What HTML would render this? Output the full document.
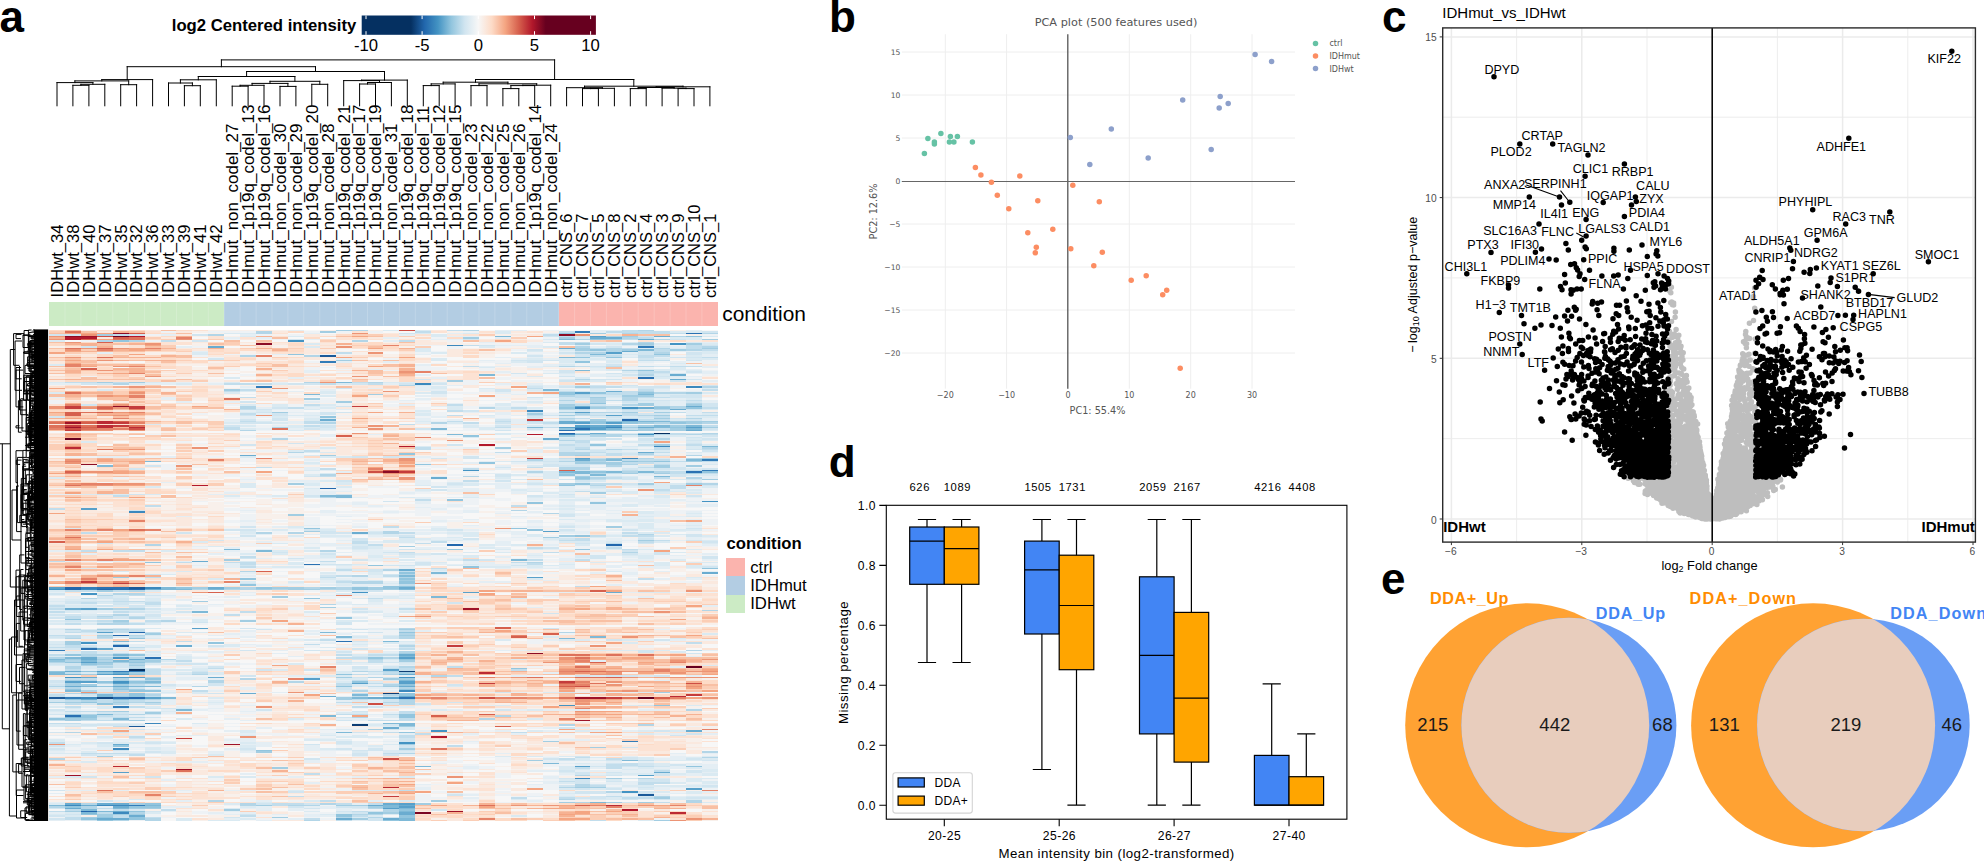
<!DOCTYPE html>
<html lang="en"><head><meta charset="utf-8"><title>Figure</title>
<style>
html,body{margin:0;padding:0;background:#fff;}
body{width:1984px;height:861px;overflow:hidden;font-family:"Liberation Sans",sans-serif;}
svg{display:block;}
text{white-space:pre;}
</style></head><body>
<svg width="1984" height="861" viewBox="0 0 1984 861" font-family="Liberation Sans, sans-serif">
<rect width="1984" height="861" fill="#fff"/>
<g id="panel-a"><defs><linearGradient id="lg" x1="0" x2="1" y1="0" y2="0"><stop offset="0.2102" stop-color="#053061"/><stop offset="0.2677" stop-color="#2166AC"/><stop offset="0.3252" stop-color="#4393C3"/><stop offset="0.3828" stop-color="#92C5DE"/><stop offset="0.4403" stop-color="#D1E5F0"/><stop offset="0.4979" stop-color="#F7F7F7"/><stop offset="0.5554" stop-color="#FDDBC7"/><stop offset="0.6129" stop-color="#F4A582"/><stop offset="0.6705" stop-color="#D6604D"/><stop offset="0.7280" stop-color="#B2182B"/><stop offset="0.7856" stop-color="#67001F"/></linearGradient></defs><rect x="361.7" y="15.5" width="234.2" height="19.3" fill="url(#lg)"/><path d="M366 15.5v3.6M366 34.8v-3.6M422.1 15.5v3.6M422.1 34.8v-3.6M478.3 15.5v3.6M478.3 34.8v-3.6M534.5 15.5v3.6M534.5 34.8v-3.6M590.6 15.5v3.6M590.6 34.8v-3.6" stroke="#fff" stroke-width="1"/><text x="356.3" y="31.2" text-anchor="end" font-weight="bold" font-size="16.7px">log2 Centered intensity</text><g font-size="16.7px"><text x="366" y="51" text-anchor="middle">-10</text><text x="422.1" y="51" text-anchor="middle">-5</text><text x="478.3" y="51" text-anchor="middle">0</text><text x="534.5" y="51" text-anchor="middle">5</text><text x="590.6" y="51" text-anchor="middle">10</text></g><path d="M72.9 105.8L72.9 85.3M88.9 105.8L88.9 85.3M72.9 85.3L88.9 85.3M80.9 85.3L80.9 84.3M104.8 105.8L104.8 84.3M80.9 84.3L104.8 84.3M57 105.8L57 82.6M92.9 84.3L92.9 82.6M57 82.6L92.9 82.6M120.7 105.8L120.7 84.7M136.6 105.8L136.6 84.7M120.7 84.7L136.6 84.7M74.9 82.6L74.9 80.9M128.7 84.7L128.7 80.9M74.9 80.9L128.7 80.9M101.8 80.9L101.8 79.6M152.6 105.8L152.6 79.6M101.8 79.6L152.6 79.6M184.4 105.8L184.4 85.7M200.3 105.8L200.3 85.7M184.4 85.7L200.3 85.7M168.5 105.8L168.5 83M192.4 85.7L192.4 83M168.5 83L192.4 83M180.4 83L180.4 79.8M216.3 105.8L216.3 79.8M180.4 79.8L216.3 79.8M232.2 105.8L232.2 86.2M248.1 105.8L248.1 86.2M232.2 86.2L248.1 86.2M240.1 86.2L240.1 85.3M264 105.8L264 85.3M240.1 85.3L264 85.3M280 105.8L280 86.4M295.9 105.8L295.9 86.4M280 86.4L295.9 86.4M252.1 85.3L252.1 83.4M287.9 86.4L287.9 83.4M252.1 83.4L287.9 83.4M311.8 105.8L311.8 84.3M327.7 105.8L327.7 84.3M311.8 84.3L327.7 84.3M270 83.4L270 81.3M319.8 84.3L319.8 81.3M270 81.3L319.8 81.3M198.3 79.8L198.3 76.5M294.9 81.3L294.9 76.5M198.3 76.5L294.9 76.5M359.6 105.8L359.6 84M375.5 105.8L375.5 84M359.6 84L375.5 84M367.5 84L367.5 82.5M391.4 105.8L391.4 82.5M367.5 82.5L391.4 82.5M343.7 105.8L343.7 80.6M379.5 82.5L379.5 80.6M343.7 80.6L379.5 80.6M361.6 80.6L361.6 80.1M407.3 105.8L407.3 80.1M361.6 80.1L407.3 80.1M246.6 76.5L246.6 71.5M384.5 80.1L384.5 71.5M246.6 71.5L384.5 71.5M127.2 79.6L127.2 66.7M315.5 71.5L315.5 66.7M127.2 66.7L315.5 66.7M423.3 105.8L423.3 85.6M439.2 105.8L439.2 85.6M423.3 85.6L439.2 85.6M431.2 85.6L431.2 83.9M455.1 105.8L455.1 83.9M431.2 83.9L455.1 83.9M471 105.8L471 85.6M487 105.8L487 85.6M471 85.6L487 85.6M502.9 105.8L502.9 88.6M518.8 105.8L518.8 88.6M502.9 88.6L518.8 88.6M510.9 88.6L510.9 85.6M534.7 105.8L534.7 85.6M510.9 85.6L534.7 85.6M522.8 85.6L522.8 85.2M550.7 105.8L550.7 85.2M522.8 85.2L550.7 85.2M479 85.6L479 83.8M536.7 85.2L536.7 83.8M479 83.8L536.7 83.8M443.2 83.9L443.2 82.2M507.9 83.8L507.9 82.2M443.2 82.2L507.9 82.2M582.5 105.8L582.5 88.6M598.4 105.8L598.4 88.6M582.5 88.6L598.4 88.6M590.5 88.6L590.5 88.3M614.4 105.8L614.4 88.3M590.5 88.3L614.4 88.3M566.6 105.8L566.6 87.7M602.4 88.3L602.4 87.7M566.6 87.7L602.4 87.7M630.3 105.8L630.3 88.6M646.2 105.8L646.2 88.6M630.3 88.6L646.2 88.6M678.1 105.8L678.1 88.6M694 105.8L694 88.6M678.1 88.6L694 88.6M662.1 105.8L662.1 88.2M686 88.6L686 88.2M662.1 88.2L686 88.2M638.2 88.6L638.2 87.5M674.1 88.2L674.1 87.5M638.2 87.5L674.1 87.5M656.2 87.5L656.2 86.8M709.9 105.8L709.9 86.8M656.2 86.8L709.9 86.8M584.5 87.7L584.5 86.2M683 86.8L683 86.2M584.5 86.2L683 86.2M475.5 82.2L475.5 79.5M633.8 86.2L633.8 79.5M475.5 79.5L633.8 79.5M221.4 66.7L221.4 59.9M554.6 79.5L554.6 59.9M221.4 59.9L554.6 59.9" stroke="#000" stroke-width="1" fill="none" stroke-linecap="square"/><g font-size="17.1px" fill="#000"><text transform="translate(62.8 297.4) rotate(-90)" font-size="16.6px">IDHwt_34</text><text transform="translate(78.7 297.4) rotate(-90)" font-size="16.6px">IDHwt_38</text><text transform="translate(94.7 297.4) rotate(-90)" font-size="16.6px">IDHwt_40</text><text transform="translate(110.6 297.4) rotate(-90)" font-size="16.6px">IDHwt_37</text><text transform="translate(126.5 297.4) rotate(-90)" font-size="16.6px">IDHwt_35</text><text transform="translate(142.4 297.4) rotate(-90)" font-size="16.6px">IDHwt_32</text><text transform="translate(158.4 297.4) rotate(-90)" font-size="16.6px">IDHwt_36</text><text transform="translate(174.3 297.4) rotate(-90)" font-size="16.6px">IDHwt_33</text><text transform="translate(190.2 297.4) rotate(-90)" font-size="16.6px">IDHwt_39</text><text transform="translate(206.1 297.4) rotate(-90)" font-size="16.6px">IDHwt_41</text><text transform="translate(222.1 297.4) rotate(-90)" font-size="16.6px">IDHwt_42</text><text transform="translate(238 297.4) rotate(-90)" font-size="17px">IDHmut_non_codel_27</text><text transform="translate(253.9 297.4) rotate(-90)" font-size="17px">IDHmut_1p19q_codel_13</text><text transform="translate(269.8 297.4) rotate(-90)" font-size="17px">IDHmut_1p19q_codel_16</text><text transform="translate(285.8 297.4) rotate(-90)" font-size="17px">IDHmut_non_codel_30</text><text transform="translate(301.7 297.4) rotate(-90)" font-size="17px">IDHmut_non_codel_29</text><text transform="translate(317.6 297.4) rotate(-90)" font-size="17px">IDHmut_1p19q_codel_20</text><text transform="translate(333.5 297.4) rotate(-90)" font-size="17px">IDHmut_non_codel_28</text><text transform="translate(349.5 297.4) rotate(-90)" font-size="17px">IDHmut_1p19q_codel_21</text><text transform="translate(365.4 297.4) rotate(-90)" font-size="17px">IDHmut_1p19q_codel_17</text><text transform="translate(381.3 297.4) rotate(-90)" font-size="17px">IDHmut_1p19q_codel_19</text><text transform="translate(397.2 297.4) rotate(-90)" font-size="17px">IDHmut_non_codel_31</text><text transform="translate(413.1 297.4) rotate(-90)" font-size="17px">IDHmut_1p19q_codel_18</text><text transform="translate(429.1 297.4) rotate(-90)" font-size="17px">IDHmut_1p19q_codel_11</text><text transform="translate(445 297.4) rotate(-90)" font-size="17px">IDHmut_1p19q_codel_12</text><text transform="translate(460.9 297.4) rotate(-90)" font-size="17px">IDHmut_1p19q_codel_15</text><text transform="translate(476.8 297.4) rotate(-90)" font-size="17px">IDHmut_non_codel_23</text><text transform="translate(492.8 297.4) rotate(-90)" font-size="17px">IDHmut_non_codel_22</text><text transform="translate(508.7 297.4) rotate(-90)" font-size="17px">IDHmut_non_codel_25</text><text transform="translate(524.6 297.4) rotate(-90)" font-size="17px">IDHmut_non_codel_26</text><text transform="translate(540.5 297.4) rotate(-90)" font-size="17px">IDHmut_1p19q_codel_14</text><text transform="translate(556.5 297.4) rotate(-90)" font-size="17px">IDHmut_non_codel_24</text><text transform="translate(572.4 298) rotate(-90)" font-size="16.5px">ctrl_CNS_6</text><text transform="translate(588.3 298) rotate(-90)" font-size="16.5px">ctrl_CNS_7</text><text transform="translate(604.2 298) rotate(-90)" font-size="16.5px">ctrl_CNS_5</text><text transform="translate(620.2 298) rotate(-90)" font-size="16.5px">ctrl_CNS_8</text><text transform="translate(636.1 298) rotate(-90)" font-size="16.5px">ctrl_CNS_2</text><text transform="translate(652 298) rotate(-90)" font-size="16.5px">ctrl_CNS_4</text><text transform="translate(667.9 298) rotate(-90)" font-size="16.5px">ctrl_CNS_3</text><text transform="translate(683.9 298) rotate(-90)" font-size="16.5px">ctrl_CNS_9</text><text transform="translate(699.8 298) rotate(-90)" font-size="16.5px">ctrl_CNS_10</text><text transform="translate(715.7 298) rotate(-90)" font-size="16.5px">ctrl_CNS_1</text></g><g shape-rendering="crispEdges"><rect x="49.1" y="302.4" width="175.2" height="23.2" fill="#CCEBC5"/><rect x="224.2" y="302.4" width="334.4" height="23.2" fill="#B3CDE3"/><rect x="558.6" y="302.4" width="159.2" height="23.2" fill="#FBB4AE"/></g><path d="M65 302.4v23.2M80.9 302.4v23.2M96.8 302.4v23.2M112.8 302.4v23.2M128.7 302.4v23.2M144.6 302.4v23.2M160.5 302.4v23.2M176.5 302.4v23.2M192.4 302.4v23.2M208.3 302.4v23.2M224.2 302.4v23.2M240.1 302.4v23.2M256.1 302.4v23.2M272 302.4v23.2M287.9 302.4v23.2M303.8 302.4v23.2M319.8 302.4v23.2M335.7 302.4v23.2M351.6 302.4v23.2M367.5 302.4v23.2M383.5 302.4v23.2M399.4 302.4v23.2M415.3 302.4v23.2M431.2 302.4v23.2M447.2 302.4v23.2M463.1 302.4v23.2M479 302.4v23.2M494.9 302.4v23.2M510.9 302.4v23.2M526.8 302.4v23.2M542.7 302.4v23.2M558.6 302.4v23.2M574.6 302.4v23.2M590.5 302.4v23.2M606.4 302.4v23.2M622.3 302.4v23.2M638.2 302.4v23.2M654.2 302.4v23.2M670.1 302.4v23.2M686 302.4v23.2M701.9 302.4v23.2" stroke="#fff" stroke-opacity="0.18" stroke-width="1"/><text x="722.3" y="321.4" font-size="20.9px">condition</text><g shape-rendering="crispEdges" fill="none" stroke-width="1.5"><path stroke="#053061" d="M654 433.25h16M129 669.92h16"/><path stroke="#0c3d74" d="M399 671.41h16M383 693.73h16M352 724.99h16"/><path stroke="#134b87" d="M97 698.2h16"/><path stroke="#1a5999" d="M320 355.85h16M129 588.05h16M49 698.2h16M129 726.48h16M638 794.95h16"/><path stroke="#2166ac" d="M622 419.85h16M559 433.25h16M320 488.32h16M447 544.89h16M606 544.89h16M65 588.05h16M65 589.54h16M97 589.54h16M129 589.54h16M129 632.71h16M113 635.68h16M113 646.1h16M129 698.2h16M81 811.32h16"/><path stroke="#2a71b2" d="M686 333.52h16M638 378.18h16M575 428.78h15M559 430.27h16M686 471.95h16M304 564.24h16M97 588.05h32M113 589.54h16M336 641.64h16M81 649.08h16M145 658.01h16M113 698.2h16M399 698.2h16M65 716.06h16"/><path stroke="#327cb8" d="M575 332.03h15M638 346.92h16M320 361.8h16M256 387.11h16M702 460.04h16M702 470.46h16M81 588.05h16M49 650.57h16M113 671.41h32M65 698.2h16M113 707.13h16M622 741.37h16M129 805.37h16"/><path stroke="#3b88bd" d="M447 345.43h16M415 384.13h16M686 387.11h16M575 407.95h15M527 410.92h16M606 427.3h16M559 434.74h16M654 446.65h16M622 458.55h16M129 512.14h16M145 588.05h16M81 589.54h16M399 690.76h16M81 698.2h16M145 723.5h16M113 748.81h16M575 778.58h15M65 805.37h16M97 805.37h32M113 812.81h16"/><path stroke="#4393c3" d="M288 340.96h16M670 343.94h16M622 407.95h16M575 427.3h15M638 434.74h16M463 470.46h16M702 501.72h16M49 589.54h16M352 592.52h16M81 594.01h16M81 643.13h16M113 658.01h16M113 674.38h16M65 677.36h16M399 677.36h16M113 681.83h16M559 705.64h16M431 730.95h16M399 742.85h16M622 791.97h16"/><path stroke="#57a0ca" d="M590 336.5h16M606 352.87h16M575 393.06h15M575 412.41h15M606 415.39h16M575 422.83h15M606 422.83h16M575 425.81h15M606 425.81h16M559 427.3h16M590 427.3h16M686 427.3h16M590 428.78h16M575 458.55h15M81 509.16h16M543 531.49h16M527 577.63h16M49 588.05h16M463 592.52h16M81 608.89h16M192 628.24h16M97 632.71h16M399 658.01h16M81 662.48h16M383 669.92h16M97 671.41h16M97 674.38h16M113 677.36h32M304 678.85h16M65 681.83h32M399 681.83h16M113 683.32h16M352 683.32h16M399 683.32h16M145 698.2h16M383 698.2h16M575 766.67h15M113 772.62h16M638 775.6h16M686 789h16M399 803.88h16M399 806.86h16M383 808.35h16"/><path stroke="#6aacd0" d="M654 336.5h16M590 337.99h32M638 339.48h16M208 346.92h16M559 348.41h16M622 351.38h16M670 375.2h16M670 379.66h16M606 391.57h16M575 406.46h15M686 406.46h16M638 407.95h16M670 409.43h16M320 419.85h16M559 421.34h16M559 422.83h16M590 425.81h16M638 427.3h16M686 430.27h16M590 433.25h16M543 439.2h16M638 452.6h16M240 455.58h16M575 460.04h15M431 477.9h16M352 532.98h16M192 561.26h16M399 570.19h16M702 573.17h16M208 588.05h16M399 588.05h16M145 589.54h16M606 592.52h16M65 608.89h16M176 646.1h16M97 649.08h16M399 655.03h16M81 658.01h16M81 659.5h16M129 659.5h16M65 671.41h16M113 672.9h16M399 674.38h16M81 677.36h16M208 677.36h16M65 686.29h16M113 686.29h16M399 686.29h16M240 693.73h16M320 696.71h16M399 696.71h16M368 698.2h15M81 699.69h16M383 727.97h16M686 730.95h16M113 744.34h16M654 772.62h16M65 803.88h16M97 803.88h32M383 803.88h16M81 805.37h16M368 805.37h15M399 805.37h16M113 806.86h16M65 808.35h16M113 811.32h16M399 812.81h16M399 814.3h16M129 815.79h16M97 818.77h32M336 818.77h16M383 818.77h16"/><path stroke="#7eb9d7" d="M495 336.5h16M559 339.48h16M638 349.89h16M590 354.36h16M559 357.34h16M575 370.73h15M479 375.2h16M336 382.64h16M543 390.08h16M304 394.55h16M638 394.55h16M575 421.34h15M622 421.34h48M654 425.81h16M686 425.81h16M527 427.3h16M654 427.3h16M431 428.78h16M606 428.78h16M686 428.78h16M575 430.27h15M447 434.74h16M575 434.74h15M702 446.65h16M606 460.04h16M686 460.04h16M145 461.53h16M97 466h16M559 471.95h31M606 471.95h16M638 471.95h16M575 473.44h15M590 474.93h16M654 476.42h16M320 495.77h32M336 497.25h16M224 549.35h16M256 550.84h16M511 559.77h16M431 573.17h16M399 576.14h16M161 588.05h15M161 589.54h31M208 589.54h16M399 589.54h16M431 596.98h16M192 611.87h16M320 632.71h16M336 637.17h16M590 637.17h16M559 638.66h16M113 641.64h16M383 641.64h16M113 655.03h16M399 656.52h16M65 658.01h16M49 659.5h16M81 660.99h16M113 660.99h16M49 672.9h16M49 674.38h32M399 680.34h16M145 681.83h16M81 686.29h16M129 686.29h32M65 690.76h16M97 695.22h16M352 695.22h16M97 696.71h16M161 698.2h15M352 698.2h16M113 699.69h16M176 710.11h16M97 714.57h16M320 716.06h16M65 717.55h16M113 719.04h16M383 723.5h32M399 724.99h16M336 732.44h16M622 760.72h16M543 763.69h16M415 766.67h16M590 802.39h16M49 805.37h16M145 805.37h16M383 805.37h16M383 806.86h16M113 808.35h16M399 808.35h16M81 809.84h16M97 811.32h16M399 811.32h16M81 812.81h16M399 818.77h16M399 820.26h16"/><path stroke="#92c5de" d="M559 333.52h16M686 336.5h16M590 339.48h16M113 340.96h16M590 349.89h16M288 354.36h16M654 354.36h16M575 357.34h15M606 357.34h16M575 361.8h15M638 370.73h16M559 393.06h16M590 393.06h16M638 393.06h16M559 394.55h16M590 403.48h16M559 407.95h16M654 407.95h16M686 407.95h16M320 416.88h16M590 421.34h32M590 422.83h16M622 422.83h16M670 422.83h16M670 427.3h16M559 428.78h16M622 430.27h16M638 433.25h16M463 436.23h16M590 445.16h16M399 454.09h16M606 458.55h16M622 461.53h16M654 461.53h16M479 463.02h16M415 464.51h16M590 471.95h16M702 471.95h16M559 474.93h16M575 477.9h15M575 483.86h15M559 485.35h16M447 500.23h16M527 503.21h16M590 503.21h16M304 528.51h16M511 528.51h16M527 530h16M575 535.96h15M447 549.35h16M575 549.35h15M145 562.75h16M368 565.72h15M463 567.21h16M702 568.7h16M399 573.17h16M240 579.12h16M399 579.12h16M399 582.1h16M399 583.59h16M240 585.08h16M383 586.56h32M176 588.05h16M256 588.05h16M352 588.05h16M383 588.05h16M352 589.54h16M304 598.47h16M336 617.82h16M65 619.31h16M399 632.71h16M129 638.66h16M208 643.13h16M65 655.03h16M129 655.03h16M368 658.01h15M399 659.5h16M49 660.99h16M65 662.48h16M97 662.48h16M129 662.48h16M81 663.96h16M511 668.43h16M49 671.41h16M81 671.41h16M97 672.9h16M129 674.38h16M336 674.38h16M145 678.85h16M97 681.83h16M129 681.83h16M352 681.83h16M399 684.8h16M97 686.29h16M336 686.29h16M65 689.27h16M113 689.27h16M399 689.27h16M129 690.76h32M129 693.73h16M399 693.73h16M129 695.22h16M399 695.22h16M129 696.71h16M65 699.69h16M81 702.67h16M97 704.15h16M654 705.64h16M399 714.57h16M81 716.06h16M399 716.06h16M81 717.55h16M399 717.55h16M49 719.04h16M399 732.44h16M113 745.83h16M256 750.3h16M686 766.67h16M145 803.88h16M65 806.86h16M129 806.86h32M399 809.84h16M129 811.32h16M368 812.81h15M81 814.3h16M336 814.3h16M336 815.79h16M399 815.79h16M97 817.28h16M129 817.28h16M399 817.28h16M81 818.77h16M129 818.77h16M97 820.26h16M383 820.26h16"/><path stroke="#a2cde2" d="M336 330.54h16M320 332.03h16M590 333.52h16M97 335.01h16M622 336.5h16M463 337.99h16M559 337.99h16M606 339.48h16M702 339.48h16M575 343.94h15M638 343.94h16M686 343.94h16M575 348.41h15M702 348.41h16M575 349.89h15M622 349.89h16M670 349.89h16M336 360.31h16M447 381.15h16M97 382.64h16M129 382.64h16M575 387.11h15M224 390.08h16M686 393.06h16M368 394.55h15M622 396.04h32M590 397.53h16M304 399.01h16M336 401.99h16M638 403.48h16M559 404.97h16M638 404.97h16M686 404.97h16M559 406.46h16M654 406.46h16M590 407.95h16M272 412.41h16M559 412.41h16M622 412.41h16M654 412.41h16M527 413.9h16M559 415.39h16M654 415.39h16M654 418.36h16M590 419.85h16M670 421.34h48M638 422.83h16M686 422.83h16M638 425.81h16M670 425.81h16M622 427.3h16M702 427.3h16M638 428.78h16M670 428.78h16M590 430.27h32M638 430.27h16M670 430.27h16M590 434.74h16M559 436.23h16M654 445.16h16M495 448.13h16M320 455.58h16M575 455.58h15M702 458.55h16M590 460.04h16M575 461.53h15M638 461.53h16M686 461.53h16M575 463.02h47M606 464.51h16M654 466h16M686 466h16M654 467.48h16M559 473.44h16M622 473.44h16M654 473.44h16M686 473.44h16M575 476.42h15M575 479.39h15M702 479.39h16M288 483.86h16M559 483.86h16M638 483.86h16M686 483.86h16M590 492.79h16M288 515.12h16M606 527.02h16M304 531.49h16M559 535.96h16M543 537.44h16M638 540.42h16M399 546.37h16M224 559.77h16M113 577.63h16M399 580.61h16M192 588.05h16M224 588.05h16M272 588.05h32M320 588.05h16M368 588.05h15M256 589.54h16M288 589.54h32M368 589.54h31M97 591.03h16M272 596.98h16M192 601.45h16M320 607.4h16M97 608.89h16M113 620.8h16M240 620.8h16M97 629.73h16M399 629.73h16M145 634.2h16M97 635.68h16M399 635.68h16M65 641.64h16M65 643.13h16M65 644.61h16M113 644.61h16M399 653.55h16M65 659.5h16M97 659.5h16M129 660.99h32M399 660.99h16M113 662.48h16M97 663.96h16M129 665.45h16M129 672.9h16M399 672.9h16M81 674.38h16M336 677.36h16M383 678.85h32M65 680.34h16M113 680.34h16M65 683.32h16M129 683.32h32M65 684.8h32M113 684.8h16M383 686.29h16M113 687.78h16M129 689.27h16M654 692.25h16M81 693.73h16M113 696.71h16M336 698.2h16M129 699.69h16M336 699.69h16M399 699.69h16M49 702.67h32M113 702.67h16M145 702.67h16M113 711.6h16M145 713.08h16M65 714.57h16M65 719.04h32M65 720.53h16M129 720.53h16M399 726.48h16M368 729.46h15M543 741.37h16M399 744.34h16M590 747.32h16M399 748.81h16M256 751.79h16M97 756.25h16M527 760.72h16M272 768.16h16M606 778.58h16M575 787.51h31M654 797.93h16M431 800.91h16M559 802.39h16M606 802.39h16M638 802.39h16M129 803.88h16M415 803.88h16M256 805.37h16M336 805.37h32M368 806.86h15M129 808.35h32M224 809.84h16M65 811.32h16M383 812.81h16M97 814.3h48M97 815.79h16M81 817.28h16M272 817.28h16M352 818.77h16M654 820.26h16"/><path stroke="#b2d5e7" d="M352 330.54h16M463 330.54h16M638 330.54h16M256 332.03h16M256 333.52h16M622 333.52h16M702 333.52h16M208 335.01h16M606 336.5h16M670 336.5h16M622 337.99h16M575 339.48h15M654 339.48h16M97 340.96h16M129 340.96h16M352 340.96h16M638 342.45h16M622 343.94h16M638 345.43h16M575 346.92h15M702 346.92h16M606 348.41h16M654 348.41h16M606 349.89h16M686 349.89h16M606 351.38h16M575 352.87h31M654 352.87h16M240 355.85h16M304 355.85h16M559 366.27h16M622 370.73h16M638 375.2h16M575 379.66h15M304 382.64h16M368 382.64h15M113 384.13h16M399 385.62h16M702 387.11h16M638 391.57h16M654 393.06h32M575 394.55h15M559 396.04h16M622 397.53h16M590 399.01h16M622 399.01h16M559 400.5h16M590 400.5h16M622 400.5h16M590 401.99h16M686 403.48h16M622 404.97h16M240 406.46h16M590 406.46h32M670 406.46h16M240 407.95h16M479 407.95h16M606 407.95h16M670 407.95h16M559 409.43h16M654 409.43h16M590 412.41h32M575 413.9h15M638 415.39h16M559 418.36h16M686 418.36h16M320 422.83h16M431 422.83h16M654 422.83h16M702 422.83h16M272 427.3h16M240 430.27h16M654 430.27h16M575 433.25h15M702 433.25h16M606 434.74h32M654 434.74h16M686 434.74h16M590 436.23h32M638 436.23h16M272 439.2h16M654 439.2h16M559 440.69h16M702 448.13h16M575 449.62h15M606 449.62h16M288 452.6h16M559 452.6h31M559 454.09h31M638 454.09h16M559 455.58h16M686 455.58h16M638 458.55h16M686 458.55h16M527 460.04h16M559 461.53h16M590 461.53h16M622 464.51h16M606 466h16M559 467.48h31M559 468.97h31M527 471.95h16M622 471.95h16M654 471.95h16M590 473.44h16M320 474.93h16M463 476.42h16M590 477.9h16M686 477.9h16M702 483.86h16M590 485.35h16M320 497.25h16M511 510.65h16M543 513.63h16M383 531.49h16M256 532.98h16M288 532.98h16M383 532.98h16M638 534.47h16M145 544.89h16M320 550.84h16M622 552.33h16M527 562.75h16M383 570.19h16M240 571.68h16M399 574.66h16M352 576.14h16M399 577.63h16M352 582.1h31M352 583.59h31M240 588.05h16M304 588.05h16M336 588.05h16M192 589.54h16M224 589.54h32M272 589.54h16M320 589.54h32M129 591.03h16M113 594.01h32M97 595.49h16M81 598.47h16M320 604.43h16M113 608.89h32M702 610.38h16M113 614.84h16M97 616.33h16M129 617.82h16M161 620.8h15M113 622.29h16M97 623.78h32M399 628.24h16M65 629.73h16M113 629.73h16M559 632.71h16M399 634.2h16M129 635.68h16M97 637.17h16M399 637.17h16M65 638.66h16M399 638.66h16M399 646.1h16M81 647.59h16M686 650.57h16M399 652.06h16M81 655.03h32M81 656.52h16M113 656.52h16M49 658.01h16M97 658.01h16M129 658.01h16M383 658.01h16M145 659.5h31M368 659.5h15M65 660.99h16M97 660.99h16M49 662.48h16M145 662.48h16M129 663.96h16M81 665.45h16M65 666.94h16M97 666.94h16M399 666.94h16M65 668.43h16M129 668.43h16M352 671.41h16M383 671.41h16M192 674.38h16M383 674.38h16M431 675.87h16M145 677.36h16M368 677.36h15M113 678.85h16M240 678.85h16M81 680.34h16M145 680.34h16M208 680.34h16M208 681.83h16M288 681.83h16M97 683.32h16M383 684.8h16M49 686.29h16M192 686.29h16M65 687.78h16M399 687.78h16M81 690.76h16M113 690.76h16M352 690.76h16M65 693.73h16M113 693.73h16M113 695.22h16M145 695.22h16M383 695.22h16M145 699.69h16M81 701.18h16M113 701.18h16M399 701.18h16M129 702.67h16M383 702.67h32M113 704.15h16M399 704.15h16M686 710.11h16M97 711.6h16M81 714.57h16M129 714.57h16M495 716.06h16M352 717.55h16M479 719.04h16M113 720.53h16M559 724.99h16M638 724.99h16M65 732.44h16M702 751.79h16M399 753.27h16M702 757.74h16M49 759.23h16M575 775.6h15M638 778.58h16M575 784.53h15M575 786.02h15M559 787.51h16M606 791.97h16M654 796.44h16M559 799.42h16M208 800.91h16M686 800.91h16M575 802.39h15M686 802.39h16M81 803.88h16M240 803.88h16M320 803.88h16M240 805.37h16M288 805.37h32M49 806.86h16M81 806.86h16M81 808.35h16M368 808.35h15M383 809.84h16M383 811.32h16M129 812.81h16M352 814.3h31M336 817.28h16M368 817.28h15M145 818.77h16M113 820.26h16M145 820.26h16M304 820.26h16"/><path stroke="#c1ddec" d="M447 330.54h16M622 330.54h16M415 332.03h16M559 332.03h16M606 332.03h64M638 333.52h48M113 335.01h16M543 335.01h16M559 336.5h16M638 337.99h16M622 339.48h16M161 340.96h15M399 340.96h16M559 342.45h31M559 343.94h16M463 345.43h16M686 345.43h16M686 346.92h16M590 348.41h16M622 348.41h16M686 348.41h16M654 349.89h16M702 349.89h16M654 351.38h16M336 352.87h16M590 355.85h32M638 355.85h32M638 357.34h16M702 357.34h16M638 360.31h32M463 366.27h16M575 366.27h15M606 366.27h16M638 366.27h16M670 366.27h32M638 372.22h32M638 373.71h16M65 382.64h32M113 382.64h16M352 382.64h16M224 384.13h48M320 384.13h16M368 384.13h15M590 387.11h32M527 388.6h16M240 390.08h16M638 390.08h16M702 390.08h16M224 391.57h16M559 391.57h16M622 391.57h16M606 393.06h32M590 394.55h48M575 396.04h15M240 397.53h16M575 397.53h15M638 397.53h32M606 400.5h16M686 400.5h16M304 404.97h16M447 404.97h16M575 404.97h15M288 407.95h16M511 407.95h16M702 407.95h16M240 409.43h16M575 409.43h15M622 409.43h16M447 410.92h16M670 412.41h16M702 412.41h16M240 413.9h16M622 413.9h16M447 415.39h16M527 415.39h16M575 415.39h31M622 415.39h16M686 415.39h32M654 416.88h16M575 418.36h15M622 418.36h16M559 419.85h16M638 419.85h32M240 421.34h16M304 421.34h16M447 421.34h16M495 421.34h16M527 421.34h16M304 422.83h16M463 422.83h16M543 422.83h16M399 424.32h16M304 425.81h16M622 425.81h16M702 425.81h16M224 427.3h16M495 427.3h16M543 427.3h16M224 428.78h16M622 428.78h16M654 428.78h16M670 433.25h16M670 434.74h16M702 434.74h16M575 440.69h15M575 442.18h15M559 445.16h16M638 445.16h16M686 445.16h16M415 448.13h16M575 448.13h15M654 448.13h16M415 449.62h16M622 449.62h16M654 449.62h16M702 449.62h16M304 451.11h16M495 452.6h16M590 452.6h16M654 452.6h16M606 454.09h16M606 455.58h16M559 458.55h16M590 458.55h16M622 460.04h48M670 461.53h16M702 461.53h16M622 463.02h32M654 464.51h16M256 467.48h16M527 467.48h16M638 467.48h16M320 468.97h16M463 468.97h16M622 470.46h16M686 470.46h16M670 471.95h16M606 473.44h16M670 473.44h16M702 473.44h16M320 476.42h16M606 477.9h16M654 477.9h16M590 479.39h16M463 480.88h16M590 483.86h32M670 485.35h16M670 486.84h16M670 488.32h16M654 489.81h16M575 491.3h15M113 495.77h16M415 500.23h16M145 506.19h16M511 506.19h16M49 509.16h16M383 527.02h16M81 532.98h16M399 532.98h16M622 532.98h16M590 535.96h16M622 535.96h32M399 537.44h16M575 538.93h15M559 540.42h31M654 540.42h16M352 541.91h16M431 541.91h16M638 541.91h16M352 543.4h16M415 543.4h16M606 543.4h16M368 544.89h15M527 547.86h16M606 547.86h16M622 549.35h16M81 550.84h16M113 550.84h32M399 552.33h16M543 552.33h16M240 556.79h16M463 559.77h16M527 559.77h16M575 559.77h15M49 561.26h16M320 561.26h16M176 562.75h16M224 562.75h32M511 562.75h16M240 564.24h16M527 564.24h16M240 567.21h16M431 568.7h16M336 570.19h16M399 571.68h16M336 576.14h16M383 576.14h16M145 577.63h16M320 577.63h16M638 579.12h16M336 582.1h16M399 585.08h16M575 586.56h15M65 591.03h32M113 591.03h16M129 595.49h16M368 598.47h15M113 601.45h32M81 602.94h16M145 602.94h16M145 604.43h16M49 605.91h16M49 608.89h16M399 608.89h16M49 611.87h16M113 611.87h16M240 611.87h16M224 614.84h16M65 616.33h16M129 616.33h16M65 617.82h16M97 617.82h16M97 620.8h16M145 620.8h16M65 623.78h16M129 623.78h16M129 629.73h16M81 631.22h64M399 631.22h16M65 632.71h16M113 632.71h16M145 632.71h16M49 635.68h32M65 637.17h16M129 637.17h16M97 638.66h16M320 640.15h16M129 641.64h16M176 641.64h16M686 643.13h16M304 644.61h16M65 646.1h16M49 647.59h32M129 647.59h16M399 649.08h16M81 652.06h16M81 653.55h16M113 653.55h16M49 655.03h16M336 655.03h16M368 655.03h31M336 658.01h32M176 660.99h16M368 660.99h15M368 662.48h15M97 665.45h16M129 666.94h16M447 666.94h16M208 668.43h16M383 668.43h32M65 669.92h16M145 669.92h16M399 669.92h16M511 669.92h16M145 671.41h16M368 671.41h15M65 672.9h16M145 672.9h16M192 672.9h16M383 672.9h16M145 674.38h16M352 674.38h16M447 675.87h16M65 678.85h32M129 680.34h16M352 680.34h16M336 683.32h16M368 683.32h15M129 684.8h16M336 684.8h16M368 686.29h15M192 690.76h16M97 693.73h16M145 693.73h16M352 693.73h16M49 695.22h16M49 696.71h16M145 696.71h16M352 696.71h16M383 696.71h16M97 699.69h16M352 699.69h16M65 701.18h16M97 701.18h16M129 701.18h16M97 702.67h16M336 702.67h16M65 704.15h16M145 704.15h16M65 707.13h16M129 707.13h16M352 707.13h16M65 711.6h32M399 711.6h16M399 713.08h16M113 714.57h16M336 714.57h32M383 714.57h16M97 716.06h16M113 717.55h32M399 719.04h16M49 720.53h16M81 720.53h32M368 720.53h47M49 723.5h32M113 726.48h16M383 732.44h16M511 732.44h16M415 733.92h16M399 735.41h16M129 736.9h16M399 736.9h16M49 742.85h16M447 745.83h16M81 753.27h48M383 753.27h16M129 754.76h16M575 757.74h15M559 759.23h16M606 759.23h16M638 760.72h16M622 763.69h16M606 765.18h32M606 766.67h16M638 766.67h16M575 768.16h15M606 768.16h16M654 771.14h16M304 774.11h16M559 781.56h16M638 783.04h32M638 784.53h16M590 786.02h16M399 790.49h16M288 796.44h16M606 796.44h16M511 797.93h16M559 797.93h16M622 797.93h32M320 800.91h16M654 802.39h16M272 803.88h32M336 803.88h16M368 803.88h15M272 805.37h16M97 808.35h16M65 809.84h16M113 809.84h16M161 809.84h15M49 811.32h16M352 811.32h16M97 812.81h16M113 815.79h16M240 815.79h16M352 815.79h16M65 817.28h16M113 817.28h16M145 817.28h16M65 818.77h16M304 818.77h16M336 820.26h16M590 820.26h16"/><path stroke="#d1e5f0" d="M702 332.03h16M399 333.52h16M49 335.01h32M129 335.01h16M192 335.01h16M543 336.5h16M575 336.5h15M638 336.5h16M288 339.48h16M463 339.48h16M670 339.48h16M192 340.96h16M590 343.94h16M479 345.43h16M702 345.43h16M81 346.92h16M606 346.92h16M527 349.89h16M575 351.38h31M638 351.38h16M559 352.87h16M638 352.87h16M686 352.87h16M575 354.36h15M606 354.36h16M638 354.36h16M686 354.36h16M527 355.85h16M575 355.85h15M670 357.34h32M208 358.83h16M638 358.83h16M511 360.31h48M686 360.31h16M527 361.8h16M606 364.78h16M590 366.27h16M654 366.27h16M559 370.73h16M559 372.22h16M686 372.22h16M511 373.71h16M606 373.71h16M654 373.71h32M622 375.2h16M559 376.69h16M638 376.69h32M415 379.66h16M590 379.66h32M686 379.66h16M559 381.15h31M670 381.15h16M81 384.13h32M288 384.13h32M352 384.13h16M399 384.13h16M431 384.13h16M590 385.62h16M622 385.62h16M702 385.62h16M527 387.11h16M559 387.11h16M638 387.11h32M336 388.6h16M590 388.6h16M638 388.6h16M495 390.08h16M431 391.57h16M495 391.57h16M575 391.57h15M431 393.06h16M686 394.55h16M590 396.04h32M670 396.04h32M527 397.53h16M559 397.53h16M670 397.53h32M559 399.01h31M638 400.5h32M240 401.99h16M559 401.99h16M622 401.99h16M686 401.99h16M559 403.48h31M702 403.48h16M81 404.97h16M590 404.97h16M702 404.97h16M336 406.46h16M702 406.46h16M272 407.95h16M256 409.43h16M686 409.43h16M463 410.92h16M575 410.92h15M622 410.92h32M256 412.41h16M320 412.41h32M527 412.41h16M272 413.9h16M320 413.9h16M590 413.9h16M638 413.9h32M240 415.39h16M272 415.39h16M543 415.39h16M49 416.88h16M527 416.88h16M606 416.88h16M638 416.88h16M272 418.36h16M670 418.36h16M240 419.85h16M272 419.85h16M495 419.85h16M606 419.85h16M686 419.85h16M320 421.34h16M240 422.83h32M495 422.83h16M527 422.83h16M224 425.81h16M320 425.81h16M495 425.81h16M320 427.3h16M304 428.78h16M415 428.78h16M527 428.78h16M702 428.78h16M495 430.27h16M686 433.25h16M575 436.23h15M702 436.23h16M686 437.72h16M559 439.2h16M590 439.2h32M638 439.2h16M702 439.2h16M638 440.69h16M686 440.69h16M288 443.67h16M575 443.67h15M686 443.67h16M240 445.16h16M447 445.16h16M575 445.16h15M559 446.65h31M559 448.13h16M559 449.62h16M686 449.62h16M559 451.11h16M590 451.11h16M702 451.11h16M622 454.09h16M590 455.58h16M638 455.58h32M352 457.07h16M383 457.07h16M463 457.07h16M431 458.55h16M463 458.55h16M559 460.04h16M511 461.53h48M654 463.02h16M543 464.51h16M575 464.51h31M145 466h16M543 466h47M495 467.48h16M670 467.48h16M129 468.97h16M622 468.97h16M654 468.97h32M702 468.97h16M575 470.46h31M638 473.44h16M495 474.93h16M670 474.93h16M304 476.42h16M495 476.42h16M606 476.42h16M670 476.42h16M622 477.9h16M559 479.39h16M622 479.39h16M686 479.39h16M336 480.88h16M495 480.88h16M575 480.88h15M447 483.86h16M527 483.86h16M622 483.86h16M638 485.35h16M702 485.35h16M431 486.84h16M590 486.84h16M431 489.81h16M606 491.3h16M654 491.3h16M97 494.28h16M129 494.28h16M336 494.28h16M559 494.28h16M304 495.77h16M527 495.77h16M686 495.77h16M383 501.72h16M129 510.65h16M559 515.12h16M559 516.6h16M240 527.02h16M559 527.02h16M686 528.51h16M224 530h32M304 530h16M447 530h16M559 530h16M622 530h16M320 531.49h16M176 532.98h16M320 532.98h32M368 532.98h15M686 534.47h16M240 535.96h16M399 535.96h16M686 535.96h16M352 538.93h16M463 538.93h16M559 538.93h16M638 538.93h16M208 540.42h16M352 540.42h16M686 540.42h16M702 541.91h16M97 543.4h16M575 543.4h15M638 543.4h16M352 546.37h16M606 546.37h16M352 547.86h16M543 547.86h16M399 549.35h16M622 550.84h16M272 552.33h16M383 552.33h16M654 552.33h16M320 553.82h16M399 553.82h16M431 553.82h16M622 553.82h16M654 553.82h16M590 555.31h16M590 556.79h16M702 556.79h16M240 558.28h16M288 558.28h16M590 558.28h16M702 558.28h16M352 559.77h16M479 559.77h16M415 562.75h16M320 564.24h32M415 564.24h16M240 565.72h16M383 565.72h32M511 565.72h16M702 567.21h16M368 570.19h15M368 571.68h15M145 574.66h16M383 574.66h16M320 576.14h16M336 580.61h16M240 583.59h16M352 591.03h31M49 594.01h16M145 595.49h16M97 596.98h16M97 598.47h32M113 599.96h16M65 601.45h48M145 601.45h16M65 602.94h16M113 602.94h16M447 602.94h16M113 604.43h16M97 605.91h16M129 605.91h16M49 607.4h16M129 607.4h16M145 608.89h16M352 608.89h16M65 610.38h16M129 611.87h16M176 611.87h16M352 611.87h16M543 613.36h16M49 614.84h32M97 614.84h16M145 614.84h16M81 616.33h16M113 616.33h16M145 616.33h16M49 617.82h16M81 617.82h16M113 617.82h16M65 620.8h32M97 622.29h16M145 622.29h16M192 622.29h16M336 622.29h16M336 623.78h16M113 628.24h16M240 628.24h16M543 628.24h16M256 629.73h16M352 629.73h16M65 631.22h16M81 632.71h16M368 632.71h15M49 637.17h16M383 637.17h16M336 638.66h16M383 638.66h16M606 640.15h16M654 640.15h16M81 641.64h16M352 641.64h16M49 644.61h16M399 644.61h16M81 646.1h16M208 646.1h16M399 647.59h16M65 649.08h16M352 649.08h16M240 650.57h16M304 650.57h16M638 650.57h16M336 652.06h16M638 652.06h16M686 653.55h16M97 656.52h16M129 656.52h16M352 656.52h31M352 659.5h16M336 662.48h16M383 662.48h32M49 663.96h32M113 663.96h16M176 663.96h32M65 665.45h16M113 665.45h16M113 666.94h16M208 666.94h16M352 666.94h16M383 666.94h16M145 668.43h16M352 668.43h16M97 669.92h32M256 669.92h16M304 669.92h16M192 671.41h16M176 674.38h16M368 674.38h15M240 675.87h16M575 675.87h15M606 675.87h32M654 675.87h16M352 677.36h16M383 677.36h16M49 680.34h16M49 681.83h16M208 683.32h16M383 683.32h16M49 684.8h16M161 684.8h15M208 684.8h16M447 684.8h16M129 687.78h16M336 687.78h16M145 689.27h16M336 689.27h16M495 692.25h16M559 692.25h16M590 692.25h16M208 693.73h16M81 695.22h16M49 699.69h16M368 699.69h31M49 701.18h16M145 701.18h16M383 701.18h16M447 702.67h16M81 704.15h16M383 704.15h16M415 704.15h16M638 705.64h16M368 707.13h15M145 708.62h31M49 710.11h16M256 710.11h16M495 710.11h16M145 711.6h16M352 711.6h16M97 713.08h32M49 714.57h16M145 714.57h16M113 716.06h16M49 717.55h16M97 717.55h16M145 717.55h16M336 717.55h16M336 720.53h16M81 724.99h48M383 724.99h16M65 726.48h16M559 727.97h16M129 729.46h16M383 729.46h16M654 730.95h16M49 732.44h16M113 732.44h16M352 732.44h16M686 733.92h16M670 735.41h16M129 738.39h16M399 738.39h16M399 739.88h16M336 741.37h16M399 741.37h16M97 742.85h16M145 742.85h16M336 742.85h16M304 744.34h16M49 745.83h16M399 745.83h16M399 747.32h16M622 747.32h16M49 748.81h16M240 748.81h16M336 748.81h16M368 748.81h15M113 750.3h16M352 750.3h31M399 750.3h16M145 751.79h16M129 753.27h16M352 753.27h16M81 754.76h16M352 754.76h16M383 754.76h16M575 756.25h15M622 757.74h16M304 759.23h16M543 759.23h16M622 759.23h16M686 759.23h16M559 760.72h16M606 760.72h16M702 760.72h16M606 763.69h16M638 763.69h16M638 765.18h16M670 765.18h16M590 766.67h16M622 766.67h16M654 766.67h16M559 771.14h16M686 771.14h16M575 772.62h15M606 772.62h16M686 772.62h16M575 774.11h15M654 774.11h16M606 775.6h16M654 775.6h16M81 777.09h16M145 777.09h16M559 778.58h16M590 778.58h16M622 778.58h16M575 780.07h15M638 780.07h32M575 781.56h15M606 781.56h16M638 781.56h32M575 783.04h15M590 784.53h16M559 786.02h16M702 786.02h16M638 787.51h16M575 789h15M606 789h16M49 790.49h16M288 791.97h16M575 791.97h31M638 791.97h16M575 793.46h31M638 793.46h16M447 794.95h16M590 796.44h16M638 796.44h16M575 797.93h31M686 797.93h32M622 799.42h16M654 799.42h16M97 800.91h16M622 802.39h16M256 803.88h16M304 803.88h16M288 806.86h16M336 806.86h32M49 808.35h16M304 808.35h16M431 809.84h16M145 811.32h16M336 811.32h16M368 811.32h15M352 812.81h16M65 814.3h16M240 814.3h16M49 815.79h16M224 817.28h16M383 817.28h16M49 818.77h16M368 818.77h15M81 820.26h16M368 820.26h15"/><path stroke="#daeaf2" d="M383 330.54h16M415 330.54h16M495 332.03h16M670 332.03h32M224 333.52h32M415 333.52h16M463 333.52h16M495 333.52h16M431 335.01h16M240 336.5h16M288 336.5h16M431 336.5h16M702 336.5h16M575 337.99h15M670 337.99h32M543 339.48h16M686 339.48h16M49 340.96h16M543 342.45h16M622 342.45h16M686 342.45h16M304 343.94h16M606 343.94h16M654 343.94h16M702 343.94h16M575 345.43h15M622 345.43h16M304 346.92h16M479 346.92h16M543 346.92h16M654 346.92h16M415 348.41h16M638 348.41h16M670 348.41h16M415 349.89h16M559 349.89h16M415 351.38h16M527 351.38h16M702 351.38h16M192 352.87h16M431 352.87h16M511 352.87h16M702 352.87h16M192 354.36h16M622 354.36h16M686 355.85h16M622 357.34h16M431 358.83h16M527 358.83h16M559 358.83h47M654 358.83h16M686 358.83h32M431 360.31h16M559 360.31h31M606 360.31h16M511 361.8h16M559 361.8h16M606 361.8h16M670 363.29h16M49 364.78h16M559 364.78h16M543 366.27h16M479 367.76h16M590 367.76h16M670 367.76h16M606 369.24h16M638 369.24h48M606 370.73h16M654 370.73h16M686 370.73h16M622 372.22h16M543 373.71h32M654 375.2h16M527 376.69h16M606 376.69h16M670 376.69h16M224 378.18h16M575 378.18h15M654 378.18h16M559 379.66h16M590 381.15h16M49 382.64h16M145 382.64h16M224 382.64h16M383 382.64h32M431 382.64h16M129 384.13h16M176 384.13h16M272 384.13h16M336 384.13h16M415 385.62h16M527 385.62h16M559 385.62h31M431 387.11h16M622 387.11h16M431 388.6h16M479 388.6h16M575 388.6h15M654 388.6h16M702 388.6h16M97 390.08h16M527 390.08h16M559 390.08h16M590 390.08h16M240 391.57h16M320 391.57h16M543 391.57h16M590 391.57h16M49 393.06h16M224 393.06h16M320 393.06h16M415 393.06h16M702 393.06h16M654 394.55h32M320 396.04h16M654 396.04h16M606 397.53h16M638 399.01h16M686 399.01h16M670 400.5h16M527 401.99h16M638 401.99h32M495 403.48h16M622 403.48h16M654 403.48h16M240 404.97h16M272 404.97h16M320 404.97h16M495 404.97h16M654 404.97h16M272 406.46h16M304 406.46h16M447 406.46h16M622 406.46h16M320 407.95h16M447 407.95h16M495 407.95h16M527 407.95h16M304 409.43h16M447 409.43h16M495 409.43h32M606 409.43h16M638 409.43h16M702 409.43h16M256 410.92h16M415 410.92h16M559 410.92h16M654 410.92h16M240 412.41h16M415 413.9h16M559 413.9h16M606 413.9h16M702 413.9h16M288 415.39h32M415 415.39h16M479 415.39h16M272 416.88h16M559 416.88h16M590 416.88h16M622 416.88h16M686 416.88h32M304 418.36h32M527 418.36h16M606 418.36h16M638 418.36h16M304 419.85h16M670 419.85h16M256 421.34h16M415 421.34h16M543 421.34h16M224 422.83h16M272 422.83h16M447 422.83h16M145 424.32h16M543 424.32h16M590 424.32h32M654 424.32h48M240 425.81h16M288 425.81h16M463 425.81h16M527 425.81h16M288 427.3h32M463 427.3h32M240 428.78h16M320 428.78h16M479 428.78h16M288 430.27h16M702 430.27h16M495 433.25h16M606 433.25h32M495 434.74h16M622 436.23h16M654 436.23h32M463 437.72h16M559 437.72h47M654 437.72h16M575 439.2h15M686 439.2h16M590 440.69h16M654 440.69h16M702 440.69h16M81 442.18h16M559 442.18h16M622 442.18h32M686 442.18h16M559 443.67h16M590 443.67h16M702 445.16h16M415 446.65h16M590 446.65h16M622 446.65h32M686 446.65h16M320 448.13h16M543 448.13h16M686 448.13h16M590 449.62h16M638 449.62h16M288 451.11h16M575 451.11h15M606 451.11h16M654 451.11h16M304 452.6h32M606 452.6h32M686 452.6h16M590 454.09h16M304 455.58h16M622 455.58h16M240 457.07h16M320 457.07h32M399 457.07h16M479 458.55h16M543 458.55h16M654 458.55h16M543 460.04h16M495 461.53h16M606 461.53h16M304 463.02h16M543 463.02h32M559 464.51h16M702 464.51h16M527 466h16M638 466h16M638 468.97h16M686 468.97h16M304 470.46h16M638 470.46h32M543 471.95h16M320 473.44h16M527 473.44h32M304 474.93h16M511 474.93h16M543 474.93h16M575 474.93h15M686 474.93h32M543 476.42h32M590 476.42h16M622 476.42h16M49 477.9h16M495 477.9h16M543 477.9h16M511 479.39h16M606 479.39h16M670 479.39h16M320 480.88h16M590 480.88h16M336 482.37h16M447 482.37h16M527 482.37h16M575 482.37h15M686 482.37h16M240 483.86h16M304 483.86h16M336 483.86h16M463 483.86h16M543 483.86h16M654 483.86h32M240 485.35h16M304 485.35h16M415 485.35h16M447 485.35h32M575 485.35h15M622 485.35h16M654 485.35h16M145 486.84h16M240 486.84h16M336 486.84h16M638 486.84h32M702 486.84h16M304 488.32h16M590 488.32h16M654 488.32h16M415 489.81h16M511 489.81h16M606 489.81h16M686 489.81h16M527 491.3h16M559 491.3h16M590 491.3h16M622 491.3h16M670 491.3h16M543 492.79h16M622 492.79h16M654 492.79h16M686 492.79h16M81 494.28h16M113 494.28h16M145 494.28h16M224 495.77h16M272 495.77h16M559 495.77h16M654 495.77h16M304 497.25h16M399 497.25h16M463 497.25h16M527 497.25h16M559 497.25h16M590 497.25h16M654 497.25h16M559 500.23h31M622 504.7h16M559 506.19h16M622 506.19h16M559 509.16h16M638 512.14h16M559 513.63h16M638 513.63h16M686 513.63h16M638 516.6h16M686 516.6h16M559 519.58h16M606 519.58h16M638 519.58h16M606 521.07h48M638 524.05h16M559 525.54h16M638 525.54h16M686 525.54h16M288 527.02h16M638 527.02h16M65 528.51h16M431 528.51h16M638 528.51h16M272 530h16M320 530h16M431 530h16M670 530h32M240 531.49h16M368 531.49h15M559 531.49h16M240 532.98h16M447 532.98h32M638 532.98h32M368 534.47h31M463 534.47h16M527 534.47h16M622 534.47h16M670 534.47h16M288 535.96h16M320 535.96h32M383 535.96h16M463 535.96h16M527 535.96h16M606 535.96h16M654 535.96h16M702 535.96h16M447 537.44h16M590 537.44h16M638 537.44h16M399 538.93h32M543 538.93h16M383 540.42h32M431 540.42h32M702 540.42h16M192 541.91h16M383 541.91h32M559 541.91h31M606 541.91h16M654 541.91h16M272 543.4h16M702 543.4h16M352 544.89h16M479 544.89h16M511 544.89h16M575 544.89h15M208 546.37h16M368 546.37h15M304 547.86h16M368 547.86h15M479 547.86h16M352 549.35h16M415 549.35h16M495 549.35h16M527 549.35h16M606 549.35h16M638 549.35h16M686 549.35h16M65 550.84h16M161 550.84h15M272 550.84h16M304 550.84h16M463 552.33h16M495 552.33h16M670 552.33h16M240 553.82h16M272 553.82h16M415 553.82h16M320 555.31h16M368 555.31h15M399 555.31h16M463 555.31h16M527 555.31h16M575 555.31h15M622 555.31h32M320 556.79h16M368 556.79h15M399 556.79h16M463 556.79h16M575 556.79h15M638 556.79h16M638 558.28h16M399 559.77h16M447 559.77h16M670 559.77h16M240 561.26h16M288 562.75h16M431 562.75h16M590 562.75h16M654 562.75h16M686 562.75h32M288 564.24h16M352 564.24h16M463 564.24h16M559 564.24h16M654 564.24h16M336 565.72h16M415 565.72h16M447 565.72h16M527 565.72h32M654 565.72h16M686 565.72h16M272 567.21h32M479 567.21h32M527 567.21h16M686 567.21h16M81 568.7h16M336 568.7h16M352 570.19h16M431 570.19h16M113 571.68h16M176 571.68h16M606 571.68h16M320 573.17h16M368 573.17h15M161 574.66h15M368 574.66h15M686 577.63h16M208 579.12h16M320 579.12h16M527 579.12h16M368 580.61h15M240 582.1h16M288 582.1h16M336 583.59h16M383 583.59h16M336 585.08h16M352 586.56h16M49 591.03h16M145 591.03h16M336 591.03h16M638 592.52h32M97 594.01h16M336 594.01h16M113 595.49h16M161 595.49h15M399 595.49h16M113 596.98h16M383 596.98h16M145 598.47h16M352 598.47h16M383 598.47h32M511 598.47h16M65 599.96h32M145 599.96h16M368 599.96h15M49 601.45h16M368 601.45h15M97 602.94h16M129 602.94h16M49 604.43h16M352 604.43h16M65 605.91h32M113 605.91h16M145 605.91h16M176 605.91h16M65 607.4h32M176 608.89h16M81 610.38h16M113 610.38h32M65 611.87h16M145 611.87h16M304 611.87h16M368 611.87h15M399 611.87h16M81 614.84h16M383 616.33h16M145 617.82h16M192 619.31h16M49 620.8h16M192 620.8h16M336 620.8h32M399 620.8h16M65 622.29h16M129 622.29h16M49 623.78h16M81 623.78h16M145 623.78h16M97 628.24h16M129 628.24h32M336 628.24h16M49 629.73h16M81 629.73h16M336 629.73h16M383 629.73h16M176 632.71h32M352 632.71h16M97 634.2h16M702 634.2h16M145 635.68h16M383 635.68h16M113 637.17h16M352 637.17h16M543 637.17h16M49 638.66h16M145 638.66h16M670 638.66h16M304 640.15h16M495 640.15h16M559 640.15h31M622 640.15h16M49 641.64h16M97 641.64h16M399 641.64h16M49 643.13h16M383 643.13h16M622 643.13h16M224 644.61h16M352 644.61h16M49 646.1h16M145 646.1h16M224 646.1h16M145 647.59h16M320 647.59h16M49 649.08h16M129 649.08h16M320 650.57h16M527 650.57h16M590 650.57h48M654 650.57h16M65 652.06h16M97 652.06h16M145 652.06h16M670 652.06h16M65 653.55h16M97 653.55h16M129 653.55h16M368 653.55h31M145 655.03h16M352 655.03h16M49 656.52h16M176 656.52h16M176 658.01h16M176 659.5h16M383 659.5h16M511 659.5h16M161 660.99h15M336 660.99h16M352 662.48h16M145 663.96h31M288 663.96h16M336 663.96h16M399 663.96h16M49 665.45h16M702 665.45h16M81 666.94h16M81 668.43h32M192 668.43h16M161 669.92h47M272 669.92h16M352 669.92h16M336 671.41h16M81 672.9h16M176 672.9h16M208 672.9h16M336 672.9h16M368 672.9h15M208 674.38h16M320 675.87h32M590 675.87h16M638 675.87h16M304 677.36h16M336 678.85h32M383 680.34h16M336 681.83h16M368 681.83h15M49 683.32h16M145 684.8h16M352 684.8h16M161 686.29h15M352 686.29h16M447 686.29h16M49 687.78h16M81 687.78h16M81 689.27h32M352 689.27h16M97 690.76h16M336 690.76h16M161 692.25h15M192 692.25h16M431 692.25h16M543 692.25h16M638 692.25h16M49 693.73h16M192 693.73h16M368 695.22h15M65 696.71h32M208 698.2h16M161 699.69h15M352 701.18h16M208 702.67h16M129 704.15h16M352 704.15h16M495 705.64h16M622 705.64h16M686 705.64h16M49 707.13h16M97 707.13h16M145 707.13h16M65 708.62h16M97 708.62h32M176 708.62h16M431 710.11h16M527 710.11h16M49 711.6h16M161 711.6h15M65 713.08h16M336 713.08h32M383 716.06h16M383 717.55h16M97 719.04h16M176 719.04h16M288 719.04h16M527 719.04h16M97 723.5h32M192 723.5h16M49 724.99h32M129 724.99h16M368 724.99h15M49 726.48h16M81 726.48h16M383 726.48h16M399 727.97h16M65 729.46h48M336 729.46h16M399 729.46h16M240 730.95h16M527 730.95h16M575 730.95h15M638 730.95h16M670 730.95h16M97 732.44h16M240 732.44h16M638 733.92h16M113 735.41h16M240 735.41h16M320 735.41h16M352 735.41h16M97 736.9h16M336 736.9h47M49 739.88h16M304 739.88h32M49 741.37h16M145 741.37h16M81 742.85h16M113 742.85h32M161 742.85h15M240 742.85h16M65 744.34h16M97 744.34h16M336 744.34h16M383 744.34h16M97 745.83h16M240 745.83h16M368 745.83h15M145 747.32h16M240 747.32h16M145 748.81h16M320 748.81h16M49 750.3h16M240 750.3h16M383 750.3h16M81 751.79h16M161 751.79h15M352 751.79h16M383 751.79h32M49 753.27h32M161 753.27h15M97 754.76h32M208 754.76h16M495 756.25h16M527 756.25h16M559 756.25h16M702 756.25h16M590 757.74h16M638 757.74h16M686 757.74h16M575 759.23h15M638 759.23h16M702 759.23h16M575 760.72h31M654 760.72h48M81 762.2h16M575 763.69h15M654 763.69h16M654 765.18h16M559 766.67h16M559 768.16h16M638 768.16h16M686 768.16h16M559 769.65h31M622 769.65h16M654 769.65h16M702 769.65h16M702 771.14h16M559 772.62h16M606 774.11h48M670 774.11h16M702 774.11h16M590 775.6h16M702 775.6h16M65 777.09h16M208 777.09h16M240 777.09h16M399 777.09h16M654 778.58h16M686 778.58h32M559 780.07h16M606 780.07h16M686 780.07h16M686 781.56h32M559 783.04h16M670 783.04h16M702 783.04h16M622 786.02h80M606 787.51h16M702 787.51h16M559 789h16M590 789h16M638 789h16M288 790.49h16M352 790.49h47M654 791.97h16M686 791.97h16M559 793.46h16M686 793.46h16M559 796.44h16M622 796.44h16M686 796.44h32M606 797.93h16M670 797.93h16M129 799.42h16M511 799.42h16M590 799.42h32M670 799.42h32M304 800.91h16M399 800.91h16M256 802.39h16M702 802.39h16M49 803.88h16M224 803.88h16M240 806.86h16M224 808.35h16M352 808.35h16M129 809.84h16M304 811.32h16M65 812.81h16M145 812.81h16M336 812.81h16M49 814.3h16M320 814.3h16M383 814.3h16M65 815.79h16M368 815.79h15M511 815.79h16M352 817.28h16M176 818.77h16M240 818.77h16M176 820.26h16M208 820.26h32M638 820.26h16"/><path stroke="#e4eef4" d="M288 330.54h16M495 330.54h32M590 330.54h32M686 330.54h16M590 332.03h16M304 333.52h16M447 333.52h16M543 333.52h16M606 333.52h16M161 335.01h15M240 335.01h16M399 335.01h16M447 336.5h32M224 337.99h16M256 337.99h16M383 337.99h16M495 337.99h16M304 339.48h16M431 339.48h32M383 340.96h16M479 342.45h16M590 342.45h32M702 342.45h16M495 345.43h48M606 345.43h16M654 345.43h16M176 346.92h16M527 346.92h16M590 346.92h16M670 346.92h16M192 351.38h16M559 351.38h16M670 351.38h32M97 352.87h16M622 352.87h16M272 354.36h16M415 354.36h16M527 354.36h16M559 354.36h16M702 354.36h16M622 355.85h16M702 355.85h16M495 357.34h16M527 357.34h16M590 357.34h16M654 357.34h16M336 358.83h16M511 358.83h16M543 358.83h16M606 358.83h16M479 360.31h16M590 360.31h16M336 361.8h16M383 361.8h16M638 361.8h16M670 361.8h16M495 363.29h16M559 363.29h16M590 363.29h32M415 364.78h16M543 364.78h16M590 364.78h16M670 364.78h16M479 366.27h32M527 366.27h16M622 366.27h16M702 366.27h16M527 367.76h16M702 367.76h16M368 369.24h15M590 369.24h16M622 369.24h16M686 369.24h16M304 370.73h16M415 370.73h16M543 370.73h16M590 370.73h16M670 370.73h16M304 372.22h16M495 372.22h16M702 372.22h16M622 373.71h16M686 373.71h32M415 375.2h16M559 375.2h16M590 375.2h32M590 376.69h16M622 376.69h16M686 376.69h16M288 378.18h16M431 378.18h16M670 378.18h16M702 381.15h16M161 382.64h31M272 382.64h16M49 384.13h32M145 384.13h31M208 384.13h16M383 384.13h16M495 384.13h16M527 384.13h16M447 385.62h16M543 385.62h16M606 385.62h16M654 385.62h16M240 387.11h16M415 387.11h16M543 387.11h16M368 388.6h15M415 388.6h16M320 390.08h16M415 390.08h32M479 390.08h16M606 390.08h16M654 390.08h16M288 391.57h16M479 391.57h16M527 391.57h16M654 391.57h48M495 393.06h16M431 394.55h16M511 394.55h16M543 394.55h16M415 396.04h32M49 397.53h16M161 397.53h15M543 397.53h16M161 399.01h15M415 399.01h16M527 399.01h16M606 399.01h16M654 399.01h32M399 400.5h16M575 400.5h15M702 400.5h16M176 401.99h16M224 401.99h16M304 401.99h16M511 401.99h16M670 401.99h16M702 401.99h16M447 403.48h16M527 403.48h16M670 403.48h16M399 404.97h16M606 404.97h16M670 404.97h16M320 406.46h16M431 406.46h16M479 406.46h48M256 407.95h16M304 407.95h16M272 409.43h16M336 409.43h16M527 409.43h16M590 409.43h16M240 410.92h16M606 410.92h16M686 410.92h16M288 412.41h32M415 412.41h16M463 412.41h48M686 412.41h16M256 413.9h16M304 413.9h16M495 413.9h16M543 413.9h16M686 413.9h16M511 415.39h16M240 416.88h16M304 416.88h16M431 416.88h16M479 416.88h16M240 418.36h16M415 418.36h16M495 418.36h16M702 418.36h16M224 419.85h16M415 419.85h16M447 419.85h16M511 419.85h16M575 419.85h15M702 419.85h16M224 421.34h16M288 421.34h16M431 421.34h16M511 421.34h16M288 422.83h16M415 422.83h16M511 422.83h16M320 424.32h16M463 424.32h16M495 424.32h16M559 424.32h31M272 425.81h16M511 425.81h16M543 425.81h16M511 427.3h16M256 428.78h16M288 428.78h16M495 428.78h16M320 430.27h16M431 430.27h16M527 430.27h16M511 433.25h16M320 434.74h16M368 434.74h15M431 434.74h16M320 436.23h16M686 436.23h16M511 437.72h16M638 437.72h16M702 437.72h16M256 439.2h16M495 439.2h16M543 440.69h16M638 443.67h32M670 445.16h16M463 448.13h16M606 448.13h32M527 449.62h16M527 451.11h16M622 451.11h16M527 452.6h16M702 452.6h16M654 454.09h16M686 454.09h16M97 457.07h32M161 457.07h15M288 457.07h16M415 457.07h16M304 460.04h16M670 460.04h16M479 461.53h16M463 463.02h16M511 463.02h32M670 463.02h16M702 463.02h16M304 464.51h32M670 464.51h16M495 466h16M622 466h16M670 466h16M304 467.48h16M590 467.48h48M304 468.97h16M495 468.97h16M320 470.46h16M527 470.46h16M606 470.46h16M670 470.46h16M336 471.95h16M479 473.44h32M606 474.93h16M638 474.93h32M431 476.42h16M527 476.42h16M702 476.42h16M702 477.9h16M240 479.39h16M495 479.39h16M638 479.39h32M288 480.88h32M415 480.88h16M527 480.88h16M638 480.88h16M686 480.88h16M161 482.37h15M304 482.37h16M415 482.37h16M463 482.37h16M415 483.86h16M479 483.86h48M495 485.35h16M527 485.35h16M606 485.35h16M447 486.84h16M495 486.84h16M559 486.84h16M622 486.84h16M686 486.84h16M463 488.32h16M495 488.32h16M527 488.32h16M559 488.32h16M304 489.81h16M447 489.81h32M527 489.81h16M559 489.81h47M670 489.81h16M304 491.3h48M415 491.3h16M447 491.3h32M511 491.3h16M686 491.3h16M224 492.79h16M304 492.79h32M399 492.79h16M511 492.79h16M559 492.79h16M49 494.28h32M208 494.28h16M304 494.28h32M463 494.28h16M256 495.77h16M463 495.77h16M543 495.77h16M590 495.77h16M638 495.77h16M352 497.25h16M415 497.25h16M447 497.25h16M543 497.25h16M575 497.25h15M622 497.25h16M686 497.25h16M415 498.74h16M527 498.74h16M575 498.74h15M622 498.74h16M654 498.74h16M527 500.23h16M606 500.23h80M415 501.72h16M559 501.72h16M590 501.72h80M686 501.72h16M352 503.21h16M415 503.21h16M559 503.21h16M638 503.21h32M352 504.7h16M447 504.7h16M559 504.7h16M590 504.7h16M638 504.7h16M686 504.7h32M368 506.19h15M447 506.19h16M543 506.19h16M575 506.19h47M654 506.19h16M686 506.19h32M415 507.67h16M559 507.67h47M431 509.16h16M543 509.16h16M590 509.16h16M240 510.65h16M320 510.65h16M463 510.65h16M559 510.65h31M606 510.65h16M320 512.14h16M383 512.14h16M463 512.14h16M527 512.14h16M559 512.14h16M654 512.14h16M686 512.14h16M495 513.63h16M575 513.63h15M606 513.63h16M654 513.63h16M575 515.12h15M638 515.12h32M686 515.12h16M176 516.6h16M336 516.6h16M511 516.6h16M622 516.6h16M654 516.6h32M622 518.09h32M463 519.58h16M575 519.58h31M622 519.58h16M654 519.58h16M686 519.58h16M240 521.07h16M431 521.07h16M527 521.07h16M575 521.07h15M654 521.07h16M527 522.56h16M622 522.56h16M654 522.56h16M686 522.56h16M559 524.05h16M622 524.05h16M686 524.05h16M304 525.54h16M463 525.54h16M575 525.54h15M622 525.54h16M670 525.54h16M272 527.02h16M352 527.02h16M431 527.02h16M527 527.02h16M575 527.02h15M686 527.02h16M288 528.51h16M320 528.51h16M622 528.51h16M654 528.51h16M256 530h16M399 530h32M463 530h16M606 530h16M638 530h32M447 531.49h16M495 531.49h32M575 531.49h15M670 531.49h16M415 532.98h32M511 532.98h16M559 532.98h31M240 534.47h32M304 534.47h32M352 534.47h16M399 534.47h32M447 534.47h16M511 534.47h16M606 534.47h16M368 535.96h15M224 537.44h16M320 537.44h32M431 537.44h16M511 537.44h16M559 537.44h16M686 537.44h32M256 538.93h16M431 538.93h32M606 538.93h16M686 538.93h16M336 540.42h16M415 540.42h16M463 540.42h16M543 540.42h16M590 540.42h48M670 540.42h16M256 541.91h16M368 541.91h15M495 541.91h16M590 541.91h16M304 543.4h32M495 543.4h16M590 543.4h16M320 544.89h32M495 544.89h16M543 544.89h16M702 544.89h16M192 546.37h16M479 546.37h16M224 547.86h16M336 547.86h16M415 547.86h32M495 547.86h16M590 547.86h16M256 549.35h16M368 549.35h15M431 549.35h16M543 549.35h32M654 549.35h32M49 550.84h16M224 550.84h16M352 550.84h47M320 552.33h32M368 552.33h15M559 552.33h16M81 553.82h16M208 553.82h16M368 553.82h31M527 553.82h16M606 553.82h16M638 553.82h16M702 553.82h16M304 555.31h16M336 555.31h16M415 555.31h16M447 555.31h16M606 555.31h16M670 555.31h16M304 556.79h16M383 556.79h16M495 556.79h16M527 556.79h16M622 556.79h16M256 558.28h16M304 558.28h32M368 558.28h15M447 558.28h16M559 558.28h31M288 559.77h16M336 559.77h16M368 559.77h31M559 559.77h16M622 559.77h32M702 559.77h16M65 561.26h16M97 561.26h48M176 561.26h16M304 561.26h16M415 561.26h16M463 561.26h16M320 562.75h16M399 562.75h16M463 562.75h32M559 562.75h16M606 562.75h16M638 562.75h16M224 564.24h16M256 564.24h32M431 564.24h32M479 564.24h48M622 564.24h16M192 565.72h16M224 565.72h16M304 565.72h32M352 565.72h16M463 565.72h48M559 565.72h16M606 565.72h32M702 565.72h16M224 567.21h16M256 567.21h16M336 567.21h16M399 567.21h16M511 567.21h16M559 567.21h16M606 567.21h16M638 567.21h32M383 568.7h32M495 568.7h16M527 568.7h48M654 568.7h16M686 568.7h16M336 571.68h16M431 571.68h16M527 571.68h16M654 571.68h16M702 571.68h16M240 573.17h16M527 573.17h16M590 573.17h16M622 573.17h16M320 574.66h16M431 574.66h16M622 574.66h16M240 576.14h16M368 576.14h15M352 577.63h47M336 579.12h32M654 579.12h16M686 579.12h16M320 580.61h16M352 580.61h16M543 580.61h16M320 582.1h16M383 582.1h16M479 582.1h32M288 583.59h16M256 585.08h16M320 585.08h16M352 585.08h47M606 585.08h16M336 586.56h16M447 586.56h16M399 591.03h16M49 592.52h16M240 592.52h16M320 592.52h16M415 592.52h16M447 592.52h16M543 592.52h47M622 592.52h16M145 594.01h16M352 594.01h16M399 594.01h16M49 595.49h16M240 595.49h16M304 595.49h32M352 595.49h47M65 596.98h16M145 596.98h31M224 596.98h16M368 596.98h15M399 596.98h16M463 596.98h16M638 596.98h16M49 598.47h32M129 598.47h16M49 599.96h16M97 599.96h16M176 599.96h16M49 602.94h16M336 602.94h16M368 602.94h15M65 604.43h32M176 604.43h16M208 604.43h16M336 604.43h16M368 604.43h15M399 604.43h16M192 605.91h16M702 605.91h16M192 607.4h16M399 607.4h16M527 607.4h16M161 608.89h15M192 608.89h16M49 610.38h16M97 610.38h16M145 610.38h31M352 610.38h31M399 610.38h16M431 610.38h16M81 611.87h32M49 613.36h16M81 613.36h16M113 613.36h16M145 613.36h31M383 613.36h16M129 614.84h16M383 614.84h16M49 616.33h16M336 616.33h16M161 617.82h15M352 617.82h16M129 619.31h16M161 619.31h15M49 622.29h16M81 622.29h16M161 622.29h31M49 628.24h32M368 628.24h31M368 629.73h15M654 629.73h16M49 631.22h16M240 631.22h16M304 631.22h16M415 631.22h16M49 632.71h16M49 634.2h16M81 634.2h16M129 634.2h16M224 634.2h16M304 634.2h16M336 634.2h16M161 635.68h31M208 635.68h16M352 635.68h16M81 637.17h16M145 637.17h16M240 637.17h16M81 638.66h16M161 638.66h15M208 638.66h16M320 638.66h16M352 638.66h31M288 640.15h16M543 640.15h16M638 640.15h16M670 640.15h16M368 641.64h15M113 643.13h16M320 643.13h16M352 643.13h16M399 643.13h16M129 644.61h16M240 644.61h16M97 646.1h16M129 646.1h16M256 646.1h16M352 646.1h16M97 647.59h32M208 647.59h16M336 647.59h16M113 649.08h16M288 649.08h16M368 649.08h31M224 650.57h16M272 650.57h16M336 650.57h16M415 650.57h16M495 650.57h32M559 650.57h16M702 650.57h16M49 652.06h16M113 652.06h16M192 652.06h32M383 652.06h16M145 653.55h16M272 653.55h16M336 653.55h16M176 655.03h16M65 656.52h16M145 656.52h16M288 656.52h16M383 656.52h16M686 656.52h16M192 658.01h16M383 660.99h16M590 660.99h16M176 662.48h16M208 662.48h16M224 663.96h16M352 663.96h31M383 665.45h32M192 666.94h16M670 666.94h16M113 668.43h16M81 669.92h16M208 669.92h16M368 669.92h15M543 672.9h16M161 674.38h15M288 675.87h32M399 675.87h32M511 675.87h16M686 675.87h16M97 677.36h16M176 677.36h32M97 678.85h16M129 678.85h16M176 678.85h48M336 680.34h16M654 680.34h16M97 684.8h16M176 684.8h16M368 684.8h15M176 686.29h16M97 687.78h16M161 687.78h15M240 687.78h16M368 687.78h31M240 689.27h16M161 690.76h15M208 690.76h16M368 690.76h31M272 692.25h16M304 692.25h16M415 692.25h16M479 692.25h16M511 692.25h16M575 692.25h15M606 692.25h32M686 692.25h16M161 693.73h15M65 695.22h16M336 696.71h16M161 701.18h15M208 701.18h16M336 701.18h16M368 701.18h15M161 702.67h15M192 702.67h16M368 702.67h15M49 704.15h16M161 704.15h15M208 704.15h16M336 704.15h16M240 705.64h16M415 705.64h16M463 705.64h32M81 707.13h16M176 707.13h16M383 707.13h32M208 708.62h16M65 710.11h16M161 710.11h15M192 710.11h16M447 710.11h16M511 710.11h16M543 710.11h47M638 710.11h32M129 711.6h16M240 711.6h16M49 713.08h16M81 713.08h16M129 713.08h16M161 713.08h15M383 713.08h16M176 714.57h16M368 714.57h15M129 716.06h16M129 719.04h16M224 719.04h16M336 719.04h47M145 720.53h16M240 720.53h16M352 720.53h16M81 723.5h16M129 723.5h16M352 723.5h31M145 726.48h31M368 726.48h15M256 727.97h16M304 727.97h16M543 727.97h16M575 727.97h15M113 729.46h16M145 729.46h16M320 729.46h16M352 729.46h16M224 730.95h16M415 730.95h16M495 730.95h16M543 730.95h16M590 730.95h16M622 730.95h16M129 732.44h32M368 732.44h15M240 733.92h16M320 733.92h16M399 733.92h16M463 733.92h16M511 733.92h16M654 733.92h32M702 733.92h16M49 735.41h32M129 735.41h32M176 735.41h32M161 736.9h15M383 736.9h16M97 738.39h16M240 738.39h16M304 738.39h32M113 739.88h32M224 739.88h32M336 739.88h16M559 739.88h31M113 741.37h16M161 741.37h15M240 741.37h16M352 741.37h16M383 741.37h16M463 741.37h16M256 742.85h16M352 742.85h16M81 744.34h16M145 744.34h16M240 744.34h32M352 744.34h16M65 745.83h16M256 745.83h16M304 745.83h16M352 745.83h16M49 747.32h16M97 747.32h16M129 747.32h16M161 747.32h15M304 747.32h16M368 747.32h15M81 748.81h32M161 748.81h15M224 748.81h16M304 748.81h16M65 750.3h16M145 750.3h31M304 750.3h48M49 751.79h16M113 751.79h32M208 751.79h16M240 751.79h16M145 753.27h16M208 753.27h16M495 753.27h16M670 753.27h16M702 753.27h16M399 754.76h16M352 756.25h16M622 756.25h16M670 756.25h16M543 757.74h16M670 757.74h16M654 759.23h32M304 760.72h16M543 760.72h16M65 762.2h16M176 762.2h32M304 762.2h16M543 762.2h16M606 762.2h16M638 762.2h16M431 763.69h16M559 763.69h16M590 763.69h16M686 763.69h16M575 765.18h31M686 765.18h32M463 766.67h16M670 766.67h16M702 766.67h16M463 768.16h16M590 768.16h16M622 768.16h16M654 768.16h32M702 768.16h16M638 769.65h16M527 771.14h32M575 771.14h79M622 772.62h32M702 772.62h16M240 774.11h16M559 774.11h16M590 774.11h16M686 774.11h16M622 775.6h16M670 775.6h32M49 777.09h16M288 777.09h16M352 777.09h16M543 777.09h16M543 778.58h16M161 780.07h15M527 781.56h32M622 781.56h16M304 783.04h16M543 783.04h16M606 783.04h32M415 784.53h16M527 784.53h16M606 784.53h32M686 784.53h32M415 787.51h16M622 787.51h16M654 787.51h48M415 789h16M654 789h16M65 790.49h32M113 790.49h16M161 790.49h31M224 790.49h32M559 791.97h16M702 791.97h16M49 793.46h16M447 793.46h16M606 793.46h32M670 793.46h16M463 794.95h16M559 794.95h16M606 794.95h16M654 794.95h16M527 796.44h16M670 796.44h16M463 797.93h16M575 799.42h15M638 799.42h16M702 799.42h16M113 800.91h16M176 800.91h16M256 800.91h16M368 800.91h15M527 800.91h16M49 802.39h16M352 803.88h16M97 806.86h16M161 806.86h31M256 806.86h16M304 806.86h32M240 808.35h32M288 808.35h16M320 808.35h32M97 809.84h16M256 809.84h16M288 809.84h16M336 809.84h16M161 811.32h15M224 811.32h16M49 812.81h16M208 812.81h16M240 812.81h16M224 814.3h16M272 814.3h16M304 814.3h16M304 815.79h32M224 818.77h16M288 818.77h16M49 820.26h16M256 820.26h16M352 820.26h16"/><path stroke="#eef2f5" d="M543 330.54h16M161 332.03h15M208 332.03h48M304 332.03h16M336 332.03h16M368 332.03h15M463 332.03h16M145 335.01h16M256 335.01h16M288 335.01h16M702 335.01h16M431 337.99h16M543 337.99h16M654 337.99h16M224 339.48h16M256 339.48h32M415 339.48h16M81 340.96h16M145 340.96h16M447 340.96h16M543 340.96h16M527 342.45h16M479 343.94h64M415 345.43h32M670 345.43h16M192 346.92h16M447 346.92h16M495 346.92h16M622 346.92h16M447 348.41h16M511 349.89h16M431 351.38h16M415 352.87h16M527 352.87h32M224 354.36h32M320 354.36h32M192 355.85h16M543 355.85h16M670 355.85h16M208 357.34h16M383 358.83h16M495 360.31h16M702 360.31h16M304 361.8h16M479 361.8h32M654 361.8h16M686 361.8h32M431 363.29h16M463 363.29h16M511 363.29h32M575 363.29h15M638 363.29h16M702 363.29h16M511 364.78h32M575 364.78h15M638 364.78h32M686 364.78h16M415 366.27h16M304 367.76h32M415 367.76h32M559 367.76h16M622 367.76h32M224 369.24h16M304 369.24h16M336 369.24h16M415 369.24h32M479 369.24h16M383 370.73h16M479 370.73h16M527 370.73h16M702 370.73h16M336 372.22h16M543 372.22h16M670 372.22h16M495 373.71h16M590 373.71h16M240 375.2h16M511 375.2h16M575 375.2h15M702 375.2h16M81 376.69h16M304 376.69h16M511 376.69h16M575 376.69h15M495 378.18h16M559 378.18h16M606 378.18h16M686 378.18h16M495 379.66h16M622 379.66h16M654 379.66h16M463 381.15h16M511 381.15h32M606 381.15h32M686 381.15h16M192 382.64h32M463 382.64h16M702 382.64h16M463 384.13h16M176 385.62h16M256 385.62h16M431 385.62h16M495 385.62h32M670 385.62h16M670 387.11h16M240 388.6h16M304 388.6h16M543 388.6h32M622 388.6h16M272 390.08h16M575 390.08h15M686 390.08h16M272 391.57h16M511 391.57h16M447 393.06h32M511 393.06h16M240 394.55h16M320 394.55h16M702 394.55h16M304 396.04h16M495 396.04h16M543 396.04h16M479 397.53h16M702 397.53h16M320 399.01h16M447 399.01h16M495 399.01h16M49 400.5h16M304 400.5h32M415 400.5h16M479 400.5h16M527 400.5h32M49 401.99h16M320 401.99h16M383 401.99h32M606 401.99h16M49 403.48h16M336 403.48h16M511 403.48h16M224 404.97h16M256 404.97h16M288 404.97h16M336 404.97h16M383 404.97h16M479 404.97h16M511 404.97h16M288 406.46h16M383 406.46h16M463 406.46h16M543 406.46h16M415 407.95h16M463 407.95h16M543 407.95h16M81 409.43h16M288 409.43h16M320 409.43h16M415 409.43h16M272 410.92h32M320 410.92h16M590 410.92h16M670 410.92h16M431 412.41h16M511 412.41h16M543 412.41h16M192 413.9h16M224 413.9h16M288 413.9h16M431 413.9h16M224 415.39h16M320 415.39h32M431 415.39h16M463 415.39h16M495 415.39h16M670 415.39h16M224 416.88h16M256 416.88h16M288 416.88h16M415 416.88h16M495 416.88h16M543 416.88h16M575 416.88h15M256 419.85h16M431 419.85h16M272 421.34h16M224 424.32h32M272 424.32h16M304 424.32h16M431 424.32h32M527 424.32h16M702 424.32h16M161 425.81h15M256 425.81h16M431 425.81h16M479 425.81h16M559 425.81h16M240 427.3h32M383 427.3h16M431 427.3h32M463 428.78h16M543 428.78h16M224 430.27h16M256 430.27h32M415 430.27h16M447 430.27h48M511 430.27h16M543 430.27h16M479 433.25h16M145 434.74h16M511 434.74h16M543 434.74h16M240 436.23h16M447 436.23h16M176 437.72h16M240 437.72h16M272 437.72h16M304 437.72h16M543 437.72h16M622 437.72h16M670 437.72h16M288 439.2h32M527 439.2h16M670 439.2h16M240 440.69h16M495 440.69h16M622 440.69h16M670 440.69h16M145 442.18h16M176 442.18h16M415 442.18h16M192 443.67h16M304 443.67h16M495 443.67h16M543 443.67h16M622 443.67h16M702 443.67h16M606 445.16h32M543 446.65h16M606 446.65h16M224 448.13h16M431 448.13h32M590 448.13h16M638 448.13h16M304 449.62h32M495 449.62h16M670 449.62h16M240 451.11h48M638 451.11h16M479 452.6h16M511 452.6h16M670 452.6h16M288 454.09h16M495 454.09h16M543 454.09h16M702 454.09h16M272 455.58h32M463 455.58h32M527 455.58h32M702 455.58h16M65 457.07h32M129 457.07h32M208 457.07h16M368 457.07h15M431 457.07h32M240 458.55h16M304 458.55h16M415 458.55h16M511 458.55h16M670 458.55h16M240 460.04h16M272 460.04h16M511 460.04h16M240 461.53h16M304 461.53h16M447 461.53h16M415 463.02h16M447 463.02h16M686 463.02h16M161 464.51h31M240 464.51h16M288 464.51h16M511 464.51h32M686 464.51h16M161 466h15M415 466h32M590 466h16M702 466h16M161 467.48h15M192 467.48h16M431 467.48h16M463 467.48h16M686 467.48h32M161 468.97h15M240 468.97h16M415 468.97h16M447 468.97h16M606 468.97h16M272 470.46h16M479 470.46h16M304 471.95h16M463 471.95h16M511 471.95h16M240 473.44h16M304 473.44h16M192 474.93h16M224 474.93h16M415 474.93h16M447 474.93h32M527 474.93h16M622 474.93h16M224 476.42h16M272 476.42h16M479 476.42h16M511 476.42h16M638 476.42h16M686 476.42h16M113 477.9h16M240 477.9h16M415 477.9h16M447 477.9h16M638 477.9h16M320 479.39h16M415 479.39h32M240 480.88h16M447 480.88h16M479 480.88h16M543 480.88h16M622 480.88h16M288 482.37h16M431 482.37h16M495 482.37h16M543 482.37h16M590 482.37h16M638 482.37h16M702 482.37h16M320 483.86h16M431 483.86h16M320 485.35h16M431 485.35h16M304 486.84h32M368 486.84h31M527 486.84h16M575 486.84h15M49 488.32h16M176 488.32h16M256 488.32h16M336 488.32h16M447 488.32h16M511 488.32h16M543 488.32h16M575 488.32h15M606 488.32h16M638 488.32h16M686 488.32h32M272 489.81h32M320 489.81h32M479 489.81h32M622 489.81h16M702 489.81h16M224 491.3h32M399 491.3h16M479 491.3h32M543 491.3h16M638 491.3h16M702 491.3h16M415 492.79h16M479 492.79h16M606 492.79h16M638 492.79h16M702 492.79h16M176 494.28h16M399 494.28h16M447 494.28h16M543 494.28h16M240 495.77h16M368 495.77h31M575 495.77h15M224 497.25h16M256 497.25h32M368 497.25h31M479 497.25h16M606 497.25h16M638 497.25h16M224 498.74h32M320 498.74h32M431 498.74h16M463 498.74h48M543 498.74h32M606 498.74h16M638 498.74h16M686 498.74h16M272 500.23h16M320 500.23h16M463 500.23h16M495 500.23h16M543 500.23h16M590 500.23h16M686 500.23h32M192 501.72h16M320 501.72h16M352 501.72h16M463 501.72h16M527 501.72h16M575 501.72h15M670 501.72h16M224 503.21h16M320 503.21h32M447 503.21h32M606 503.21h32M686 503.21h32M304 504.7h48M415 504.7h32M463 504.7h16M543 504.7h16M606 504.7h16M654 504.7h16M304 506.19h32M352 506.19h16M383 506.19h16M415 506.19h32M638 506.19h16M304 507.67h16M368 507.67h15M431 507.67h48M527 507.67h32M606 507.67h16M686 507.67h16M224 509.16h32M415 509.16h16M463 509.16h16M495 509.16h16M527 509.16h16M575 509.16h15M606 509.16h64M224 510.65h16M383 510.65h16M415 510.65h48M590 510.65h16M622 510.65h16M654 510.65h64M240 512.14h16M336 512.14h47M399 512.14h32M447 512.14h16M495 512.14h16M590 512.14h32M670 512.14h16M320 513.63h16M383 513.63h16M415 513.63h16M447 513.63h16M511 513.63h32M590 513.63h16M622 513.63h16M670 513.63h16M702 513.63h16M240 515.12h16M304 515.12h64M415 515.12h16M606 515.12h16M240 516.6h16M352 516.6h16M431 516.6h32M495 516.6h16M527 516.6h16M575 516.6h47M702 516.6h16M240 518.09h16M304 518.09h16M431 518.09h32M511 518.09h16M559 518.09h63M670 518.09h16M240 519.58h16M304 519.58h16M336 519.58h16M383 519.58h16M431 519.58h16M670 519.58h16M702 519.58h16M224 521.07h16M272 521.07h16M304 521.07h16M352 521.07h16M447 521.07h32M495 521.07h16M559 521.07h16M590 521.07h16M702 521.07h16M224 522.56h32M304 522.56h16M336 522.56h16M431 522.56h16M495 522.56h32M543 522.56h47M606 522.56h16M638 522.56h16M702 522.56h16M240 524.05h16M304 524.05h16M352 524.05h16M495 524.05h16M527 524.05h16M575 524.05h15M654 524.05h32M702 524.05h16M240 525.54h16M320 525.54h16M352 525.54h16M527 525.54h16M590 525.54h16M654 525.54h16M304 527.02h16M415 527.02h16M463 527.02h32M511 527.02h16M543 527.02h16M590 527.02h16M622 527.02h16M654 527.02h32M224 528.51h48M383 528.51h16M447 528.51h16M527 528.51h16M559 528.51h31M670 528.51h16M288 530h16M336 530h16M368 530h31M479 530h32M543 530h16M575 530h31M702 530h16M192 531.49h16M272 531.49h16M399 531.49h48M463 531.49h16M622 531.49h16M686 531.49h16M224 532.98h16M272 532.98h16M495 532.98h16M606 532.98h16M686 532.98h16M336 534.47h16M575 534.47h15M447 535.96h16M511 535.96h16M543 535.96h16M670 535.96h16M240 537.44h32M288 537.44h16M368 537.44h15M495 537.44h16M527 537.44h16M606 537.44h16M224 538.93h32M304 538.93h16M336 538.93h16M495 538.93h48M590 538.93h16M622 538.93h16M654 538.93h16M702 538.93h16M304 540.42h16M495 540.42h32M272 541.91h48M336 541.91h16M415 541.91h16M447 541.91h32M527 541.91h32M622 541.91h16M240 543.4h16M368 543.4h15M399 543.4h16M527 543.4h32M686 543.4h16M240 544.89h32M304 544.89h16M431 544.89h16M686 544.89h16M256 546.37h16M304 546.37h48M511 546.37h16M543 546.37h16M575 546.37h31M622 546.37h16M702 546.37h16M192 547.86h16M272 547.86h32M383 547.86h16M463 547.86h16M575 547.86h15M638 547.86h16M288 549.35h32M336 549.35h16M383 549.35h16M463 549.35h16M511 549.35h16M590 549.35h16M97 550.84h16M145 550.84h16M176 550.84h16M208 550.84h16M240 550.84h16M495 550.84h16M575 550.84h15M638 550.84h16M224 552.33h32M352 552.33h16M590 552.33h16M638 552.33h16M224 553.82h16M352 553.82h16M447 553.82h16M559 553.82h16M590 553.82h16M686 553.82h16M192 555.31h16M224 555.31h32M352 555.31h16M431 555.31h16M654 555.31h16M702 555.31h16M288 556.79h16M415 556.79h48M543 556.79h32M654 556.79h48M272 558.28h16M336 558.28h16M431 558.28h16M511 558.28h32M622 558.28h16M654 558.28h32M304 559.77h32M415 559.77h32M495 559.77h16M543 559.77h16M590 559.77h16M81 561.26h16M368 561.26h15M527 561.26h16M192 562.75h16M543 562.75h16M622 562.75h16M192 564.24h16M383 564.24h32M638 564.24h16M702 564.24h16M288 565.72h16M590 565.72h16M670 565.72h16M161 567.21h15M192 567.21h16M543 567.21h16M590 567.21h16M161 568.7h15M240 568.7h16M272 568.7h48M575 568.7h15M224 570.19h16M606 570.19h32M272 571.68h16M304 571.68h16M383 571.68h16M622 571.68h16M161 573.17h15M336 573.17h32M543 573.17h16M240 574.66h16M336 574.66h16M527 574.66h16M575 574.66h15M272 576.14h16M431 576.14h32M622 576.14h16M670 576.14h16M702 576.14h16M224 577.63h32M336 577.63h16M543 577.63h16M129 579.12h16M304 579.12h16M463 579.12h32M622 579.12h16M49 580.61h16M192 580.61h16M622 580.61h16M527 582.1h16M590 582.1h16M670 582.1h32M320 583.59h16M145 585.08h16M224 585.08h16M272 585.08h48M447 585.08h16M622 585.08h16M145 586.56h16M368 586.56h15M304 591.03h16M224 592.52h16M527 592.52h16M670 592.52h48M65 594.01h16M161 594.01h31M240 594.01h16M320 594.01h16M368 594.01h31M81 595.49h16M176 595.49h32M208 596.98h16M320 596.98h32M543 596.98h16M622 596.98h16M161 598.47h15M192 598.47h16M288 598.47h16M320 598.47h16M463 598.47h16M129 599.96h16M208 599.96h32M288 599.96h32M399 599.96h16M336 601.45h16M399 602.94h16M511 602.94h16M622 602.94h16M129 604.43h16M161 604.43h15M224 604.43h16M256 604.43h16M383 604.43h16M208 605.91h16M240 605.91h16M352 605.91h63M97 607.4h16M145 607.4h16M176 607.4h16M240 607.4h16M288 607.4h16M336 607.4h16M288 608.89h16M368 608.89h31M192 610.38h16M336 610.38h16M383 610.38h16M543 610.38h16M161 611.87h15M336 611.87h16M383 611.87h16M129 613.36h16M176 613.36h16M224 613.36h16M304 613.36h16M352 613.36h16M304 614.84h16M368 614.84h15M208 616.33h16M352 616.33h16M176 617.82h48M304 617.82h16M383 617.82h32M113 619.31h16M145 619.31h16M240 619.31h16M304 619.31h32M415 619.31h16M511 619.31h16M368 620.8h15M208 622.29h16M272 622.29h16M320 622.29h16M161 623.78h47M368 623.78h47M161 628.24h15M224 628.24h16M256 628.24h16M352 628.24h16M670 628.24h16M176 629.73h32M431 629.73h16M320 631.22h16M368 631.22h31M240 632.71h16M304 632.71h16M336 632.71h16M383 632.71h16M65 634.2h16M113 634.2h16M240 634.2h16M320 634.2h16M368 634.2h31M527 634.2h16M559 634.2h16M224 635.68h32M161 637.17h15M224 637.17h16M368 637.17h15M192 638.66h16M288 638.66h16M240 640.15h16M272 640.15h16M336 640.15h16M527 640.15h16M590 640.15h16M686 640.15h32M145 641.64h16M320 641.64h16M527 641.64h16M654 641.64h16M97 643.13h16M145 643.13h16M304 643.13h16M527 643.13h16M670 643.13h16M81 644.61h32M145 644.61h63M256 644.61h32M368 644.61h15M415 644.61h16M575 644.61h15M161 646.1h15M192 646.1h16M240 646.1h16M288 646.1h32M336 646.1h16M383 646.1h16M638 646.1h16M224 647.59h16M304 647.59h16M638 647.59h16M145 649.08h16M256 650.57h16M479 650.57h16M543 650.57h16M161 652.06h31M49 653.55h16M208 653.55h16M192 656.52h16M336 656.52h16M208 658.01h16M161 662.48h15M192 662.48h16M224 662.48h16M320 662.48h16M463 662.48h16M240 663.96h16M272 663.96h16M383 663.96h16M145 665.45h16M192 665.45h48M49 666.94h16M176 666.94h16M256 666.94h16M336 666.94h16M368 666.94h15M527 666.94h16M49 668.43h16M161 668.43h15M240 668.43h16M336 668.43h16M368 668.43h15M49 669.92h16M336 669.92h16M431 669.92h16M161 671.41h31M161 672.9h15M352 672.9h16M176 675.87h48M272 675.87h16M368 675.87h15M527 675.87h16M559 675.87h16M49 677.36h16M161 677.36h15M49 678.85h16M161 678.85h15M415 678.85h16M97 680.34h16M161 680.34h31M288 680.34h16M161 683.32h15M192 683.32h16M192 684.8h16M224 684.8h16M304 684.8h16M543 684.8h16M208 686.29h16M145 687.78h16M320 687.78h16M208 689.27h16M368 689.27h31M49 690.76h16M240 692.25h32M447 692.25h32M527 692.25h16M304 693.73h16M320 695.22h16M161 696.71h15M495 696.71h16M208 699.69h16M320 699.69h16M240 704.15h16M49 705.64h16M113 705.64h16M176 705.64h16M208 705.64h16M272 705.64h16M320 705.64h16M368 705.64h15M431 705.64h16M511 705.64h32M702 705.64h16M208 707.13h16M129 708.62h16M192 708.62h16M240 708.62h16M320 708.62h16M352 708.62h16M415 708.62h16M495 708.62h16M638 708.62h16M686 708.62h16M81 710.11h16M208 710.11h16M240 710.11h16M415 710.11h16M463 710.11h16M176 711.6h16M208 711.6h16M256 711.6h16M336 711.6h16M383 711.6h16M240 713.08h16M304 713.08h16M161 714.57h15M208 714.57h16M49 716.06h16M145 716.06h16M224 716.06h32M304 716.06h16M368 716.06h15M145 719.04h16M192 719.04h16M383 719.04h16M288 720.53h16M224 723.5h16M320 723.5h16M161 724.99h15M192 724.99h16M97 726.48h16M192 726.48h16M224 726.48h16M686 726.48h32M336 727.97h32M415 727.97h16M527 727.97h16M638 727.97h16M49 729.46h16M208 729.46h16M272 729.46h16M638 729.46h16M161 730.95h15M192 730.95h16M320 730.95h32M383 730.95h16M447 730.95h16M479 730.95h16M559 730.95h16M702 730.95h16M81 732.44h16M320 732.44h16M256 733.92h32M304 733.92h16M336 733.92h32M559 733.92h16M590 733.92h16M622 733.92h16M81 735.41h32M272 735.41h32M336 735.41h16M383 735.41h16M463 735.41h16M65 736.9h16M320 736.9h16M49 738.39h16M161 738.39h15M224 738.39h16M368 738.39h15M559 738.39h16M622 738.39h16M81 739.88h32M383 739.88h16M543 739.88h16M65 741.37h16M224 741.37h16M320 741.37h16M368 741.37h15M65 742.85h16M224 742.85h16M383 742.85h16M463 742.85h16M129 744.34h16M81 745.83h16M129 745.83h47M192 745.83h16M336 745.83h16M383 745.83h16M65 747.32h32M113 747.32h16M336 747.32h32M383 747.32h16M65 748.81h16M129 748.81h16M352 748.81h16M383 748.81h16M81 750.3h16M224 750.3h16M65 751.79h16M97 751.79h16M320 751.79h16M368 751.79h15M559 751.79h16M320 753.27h16M368 753.27h15M49 754.76h32M161 754.76h15M320 754.76h32M368 754.76h15M670 754.76h16M702 754.76h16M81 756.25h16M145 756.25h16M272 756.25h16M320 756.25h16M415 756.25h16M447 756.25h16M511 756.25h16M543 756.25h16M606 756.25h16M686 756.25h16M479 757.74h32M654 757.74h16M81 759.23h16M192 759.23h16M320 759.23h16M495 759.23h16M590 759.23h16M447 760.72h16M495 760.72h16M145 762.2h31M208 762.2h16M320 762.2h16M368 762.2h15M431 762.2h32M495 762.2h16M559 762.2h47M702 762.2h16M415 763.69h16M670 763.69h16M702 763.69h16M463 765.18h16M543 765.18h32M479 766.67h16M543 766.67h16M161 768.16h15M336 768.16h16M447 768.16h16M479 768.16h16M463 769.65h16M527 769.65h16M606 769.65h16M686 769.65h16M415 771.14h16M670 771.14h16M670 772.62h16M81 774.11h16M320 774.11h16M447 774.11h16M495 774.11h16M415 775.6h16M495 775.6h16M543 775.6h32M97 777.09h16M129 777.09h16M176 777.09h16M256 777.09h32M320 777.09h32M383 777.09h16M495 777.09h16M208 778.58h16M670 778.58h16M65 780.07h16M208 780.07h16M543 780.07h16M590 780.07h16M670 780.07h16M702 780.07h16M463 781.56h16M495 781.56h16M670 781.56h16M463 783.04h16M590 783.04h16M686 783.04h16M161 784.53h15M431 784.53h16M495 784.53h16M543 784.53h32M161 786.02h15M415 786.02h16M527 786.02h32M606 786.02h16M320 787.51h16M527 787.51h32M336 789h16M495 789h16M543 789h16M622 789h16M670 789h16M702 789h16M320 790.49h32M176 791.97h16M431 791.97h16M495 791.97h16M670 791.97h16M463 793.46h16M527 793.46h16M654 793.46h16M415 794.95h16M495 794.95h16M527 794.95h16M575 794.95h15M622 794.95h16M686 794.95h32M415 796.44h16M511 796.44h16M543 796.44h16M161 797.93h15M415 797.93h32M240 799.42h16M415 799.42h16M463 799.42h16M527 799.42h32M240 800.91h16M288 800.91h16M415 800.91h16M447 800.91h32M511 800.91h16M559 800.91h16M654 800.91h16M97 802.39h16M495 802.39h16M527 802.39h16M670 802.39h16M224 805.37h16M320 805.37h16M161 808.35h15M208 808.35h16M304 809.84h16M352 809.84h31M192 811.32h16M192 812.81h16M224 812.81h16M304 812.81h32M145 814.3h16M208 814.3h16M145 815.79h16M256 815.79h32M49 817.28h16M161 817.28h15M240 817.28h16M304 817.28h16M256 818.77h32M320 818.77h16M654 818.77h16M65 820.26h16M129 820.26h16"/><path stroke="#f7f7f7" d="M304 330.54h16M479 330.54h16M527 330.54h16M559 330.54h31M654 330.54h16M702 330.54h16M383 332.03h32M192 333.52h16M288 333.52h16M320 333.52h16M431 333.52h16M224 335.01h16M670 335.01h16M192 337.99h16M288 337.99h16M320 337.99h16M479 337.99h16M527 337.99h16M702 337.99h16M65 340.96h16M208 340.96h16M240 340.96h16M272 340.96h16M304 340.96h16M368 340.96h15M559 340.96h31M622 340.96h16M463 342.45h16M654 342.45h32M543 343.94h16M176 345.43h16M543 345.43h32M590 345.43h16M224 346.92h16M431 346.92h16M463 346.92h16M431 348.41h16M336 349.89h32M431 349.89h16M543 349.89h16M511 351.38h16M383 352.87h16M670 352.87h16M256 354.36h16M431 354.36h16M495 354.36h32M543 354.36h16M415 355.85h16M495 355.85h32M431 357.34h32M192 358.83h16M368 358.83h15M447 358.83h64M622 358.83h16M304 360.31h16M670 360.31h16M129 361.8h16M431 361.8h16M543 361.8h16M590 361.8h16M368 363.29h15M415 363.29h16M447 363.29h16M479 363.29h16M654 363.29h16M447 364.78h16M479 364.78h16M192 366.27h16M320 366.27h16M431 366.27h16M511 366.27h16M113 367.76h16M240 367.76h16M447 367.76h16M654 367.76h16M686 367.76h16M161 369.24h15M240 369.24h16M320 369.24h16M447 369.24h32M543 369.24h16M575 369.24h15M702 369.24h16M240 370.73h16M224 372.22h16M320 372.22h16M527 372.22h16M590 372.22h32M240 373.71h16M415 373.71h16M224 375.2h16M431 375.2h32M543 375.2h16M686 375.2h16M224 376.69h16M320 376.69h32M415 376.69h16M479 376.69h32M543 376.69h16M208 378.18h16M240 378.18h16M590 378.18h16M224 379.66h16M479 379.66h16M511 379.66h48M702 379.66h16M336 381.15h16M368 381.15h15M495 381.15h16M543 381.15h16M638 381.15h16M240 382.64h32M288 382.64h16M575 382.64h15M479 384.13h16M543 384.13h16M590 384.13h16M81 385.62h16M113 385.62h16M161 385.62h15M224 385.62h16M304 385.62h16M638 385.62h16M224 387.11h16M447 387.11h16M479 387.11h16M463 388.6h16M511 388.6h16M606 388.6h16M686 388.6h16M288 390.08h16M336 390.08h16M463 390.08h16M670 390.08h16M304 391.57h16M447 391.57h32M240 393.06h16M288 394.55h16M415 394.55h16M447 394.55h16M479 394.55h16M527 394.55h16M224 396.04h32M399 396.04h16M447 396.04h32M527 396.04h16M304 397.53h32M415 397.53h16M447 397.53h16M81 399.01h16M368 399.01h15M399 399.01h16M479 399.01h16M543 399.01h16M702 399.01h16M81 400.5h16M240 400.5h16M431 400.5h32M511 400.5h16M161 401.99h15M192 401.99h16M256 401.99h32M368 401.99h15M415 401.99h16M447 401.99h16M479 401.99h32M383 403.48h16M479 403.48h16M606 403.48h16M415 404.97h16M543 404.97h16M224 406.46h16M415 406.46h16M527 406.46h16M431 407.95h16M368 409.43h15M463 409.43h32M543 409.43h16M304 410.92h16M336 410.92h16M383 410.92h16M431 410.92h16M543 410.92h16M208 413.9h16M383 413.9h16M447 413.9h16M479 413.9h16M670 413.9h16M176 415.39h16M383 415.39h16M192 416.88h16M463 416.88h16M511 416.88h16M224 418.36h16M256 418.36h16M288 418.36h16M431 418.36h32M336 419.85h16M383 419.85h16M479 419.85h16M543 419.85h16M463 421.34h32M399 422.83h16M192 424.32h16M256 424.32h16M368 424.32h31M479 424.32h16M622 424.32h32M415 425.81h16M447 425.81h16M447 428.78h16M336 430.27h16M399 430.27h16M49 431.76h16M81 431.76h80M176 431.76h542M240 433.25h16M320 433.25h16M431 433.25h16M527 433.25h32M240 434.74h32M288 434.74h16M129 436.23h16M431 436.23h16M479 436.23h32M527 436.23h16M161 437.72h15M192 437.72h16M288 437.72h16M320 437.72h16M447 437.72h16M479 437.72h32M606 437.72h16M240 439.2h16M463 439.2h16M511 439.2h16M622 439.2h16M288 440.69h16M479 440.69h16M527 440.69h16M606 440.69h16M113 442.18h16M192 442.18h16M431 442.18h16M590 442.18h16M161 443.67h15M415 443.67h48M479 443.67h16M606 443.67h16M670 443.67h16M97 445.16h16M415 445.16h16M463 445.16h16M495 445.16h16M543 445.16h16M161 446.65h15M192 446.65h16M463 446.65h16M495 446.65h16M527 446.65h16M161 448.13h15M240 448.13h16M479 448.13h16M224 449.62h16M511 449.62h16M543 449.62h16M145 451.11h31M415 451.11h32M479 451.11h32M686 451.11h16M208 452.6h16M447 452.6h16M224 454.09h16M304 454.09h16M447 454.09h16M511 454.09h16M161 455.58h15M49 457.07h16M224 457.07h16M256 457.07h16M479 457.07h16M543 457.07h16M686 457.07h16M320 458.55h16M495 458.55h16M288 460.04h16M463 460.04h32M463 461.53h16M145 463.02h31M240 463.02h16M320 463.02h16M368 463.02h15M431 463.02h16M495 463.02h16M97 464.51h16M224 464.51h16M224 466h32M447 466h48M81 467.48h16M320 467.48h16M415 467.48h16M479 467.48h16M511 467.48h16M543 467.48h16M145 468.97h16M192 468.97h16M256 468.97h32M336 468.97h16M431 468.97h16M590 468.97h16M224 470.46h16M256 470.46h16M447 470.46h16M495 470.46h16M543 470.46h16M272 471.95h16M320 471.95h16M447 471.95h16M479 471.95h32M272 473.44h16M447 473.44h32M511 473.44h16M81 474.93h16M145 474.93h47M240 474.93h16M272 474.93h32M479 474.93h16M161 476.42h15M288 476.42h16M415 476.42h16M447 476.42h16M224 477.9h16M288 477.9h16M479 477.9h16M511 477.9h16M559 477.9h16M192 479.39h32M256 480.88h16M383 480.88h16M431 480.88h16M511 480.88h16M559 480.88h16M654 480.88h32M702 480.88h16M97 482.37h16M145 482.37h16M192 482.37h16M256 482.37h16M479 482.37h16M559 482.37h16M670 482.37h16M224 483.86h16M256 483.86h16M383 483.86h32M288 485.35h16M352 485.35h16M479 485.35h16M511 485.35h16M161 486.84h15M352 486.84h16M399 486.84h32M463 486.84h32M511 486.84h16M543 486.84h16M65 488.32h16M240 488.32h16M272 488.32h32M368 488.32h31M431 488.32h16M622 488.32h16M176 489.81h16M240 489.81h16M368 489.81h31M543 489.81h16M256 491.3h48M352 491.3h47M431 491.3h16M256 492.79h32M352 492.79h47M495 492.79h16M527 492.79h16M161 494.28h15M272 494.28h16M368 494.28h15M415 494.28h32M495 494.28h16M527 494.28h16M176 495.77h16M399 495.77h64M495 495.77h32M606 495.77h32M702 495.77h16M240 497.25h16M495 497.25h32M702 497.25h16M161 498.74h15M208 498.74h16M256 498.74h16M304 498.74h16M352 498.74h16M383 498.74h16M447 498.74h16M511 498.74h16M670 498.74h16M224 500.23h32M336 500.23h79M479 500.23h16M511 500.23h16M208 501.72h16M272 501.72h16M336 501.72h16M368 501.72h15M431 501.72h16M479 501.72h48M543 501.72h16M145 503.21h16M192 503.21h16M240 503.21h16M272 503.21h16M304 503.21h16M368 503.21h47M431 503.21h16M479 503.21h32M543 503.21h16M575 503.21h15M192 504.7h16M224 504.7h32M479 504.7h32M575 504.7h15M670 504.7h16M240 506.19h32M463 506.19h16M495 506.19h16M527 506.19h16M224 507.67h16M288 507.67h16M320 507.67h32M383 507.67h16M622 507.67h48M702 507.67h16M272 509.16h16M304 509.16h95M447 509.16h16M479 509.16h16M670 509.16h48M272 510.65h16M304 510.65h16M336 510.65h16M368 510.65h15M399 510.65h16M479 510.65h32M527 510.65h32M638 510.65h16M224 512.14h16M511 512.14h16M543 512.14h16M575 512.14h15M702 512.14h16M240 513.63h16M272 513.63h16M304 513.63h16M336 513.63h32M399 513.63h16M431 513.63h16M463 513.63h32M368 515.12h47M431 515.12h64M511 515.12h32M590 515.12h16M702 515.12h16M304 516.6h32M368 516.6h63M463 516.6h32M543 516.6h16M192 518.09h16M224 518.09h16M320 518.09h48M463 518.09h16M702 518.09h16M224 519.58h16M272 519.58h16M320 519.58h16M399 519.58h32M447 519.58h16M479 519.58h80M320 521.07h32M383 521.07h16M415 521.07h16M479 521.07h16M511 521.07h16M543 521.07h16M272 522.56h16M320 522.56h16M352 522.56h63M479 522.56h16M590 522.56h16M670 522.56h16M192 524.05h16M224 524.05h16M320 524.05h32M368 524.05h15M415 524.05h32M463 524.05h16M511 524.05h16M543 524.05h16M590 524.05h32M192 525.54h16M224 525.54h16M256 525.54h32M368 525.54h15M415 525.54h32M495 525.54h32M543 525.54h16M606 525.54h16M702 525.54h16M145 527.02h31M320 527.02h16M368 527.02h15M352 528.51h16M399 528.51h32M590 528.51h16M511 530h16M224 531.49h16M256 531.49h16M288 531.49h16M479 531.49h16M527 531.49h16M606 531.49h16M638 531.49h16M192 532.98h16M527 532.98h16M670 532.98h16M702 532.98h16M272 534.47h16M431 534.47h16M495 534.47h16M543 534.47h32M224 535.96h16M256 535.96h16M304 535.96h16M352 535.96h16M415 535.96h32M495 535.96h16M352 537.44h16M383 537.44h16M463 537.44h16M654 537.44h16M176 538.93h16M320 538.93h16M240 540.42h16M320 540.42h16M368 540.42h15M479 540.42h16M527 540.42h16M320 541.91h16M479 541.91h16M511 541.91h16M431 543.4h32M479 543.4h16M511 543.4h16M622 543.4h16M654 543.4h32M81 544.89h16M161 544.89h15M272 544.89h16M399 544.89h16M590 544.89h16M622 544.89h16M654 544.89h32M288 546.37h16M415 546.37h48M495 546.37h16M654 546.37h32M129 547.86h16M161 547.86h15M208 547.86h16M240 547.86h32M320 547.86h16M399 547.86h16M447 547.86h16M511 547.86h16M559 547.86h16M622 547.86h16M654 547.86h16M208 549.35h16M240 549.35h16M320 549.35h16M479 549.35h16M336 550.84h16M463 550.84h16M670 550.84h16M702 550.84h16M304 552.33h16M431 552.33h16M479 552.33h16M702 552.33h16M192 553.82h16M336 553.82h16M463 553.82h48M543 553.82h16M670 553.82h16M208 555.31h16M224 556.79h16M272 556.79h16M479 556.79h16M511 556.79h16M606 556.79h16M161 558.28h15M192 558.28h16M399 558.28h16M479 558.28h16M543 558.28h16M606 558.28h16M240 559.77h16M606 559.77h16M686 559.77h16M161 561.26h15M288 561.26h16M336 561.26h16M399 561.26h16M447 561.26h16M654 561.26h16M97 562.75h16M304 562.75h16M336 562.75h16M368 562.75h15M447 562.75h16M575 562.75h15M670 562.75h16M368 564.24h15M543 564.24h16M575 564.24h15M606 564.24h16M670 564.24h16M256 565.72h16M431 565.72h16M575 565.72h15M304 567.21h32M415 567.21h16M447 567.21h16M575 567.21h15M622 567.21h16M479 568.7h16M606 568.7h16M256 570.19h48M463 570.19h16M543 570.19h16M654 570.19h16M686 570.19h32M320 571.68h16M559 571.68h16M638 571.68h16M113 573.17h16M272 573.17h16M304 573.17h16M383 573.17h16M575 573.17h15M606 573.17h16M638 573.17h16M670 573.17h16M272 574.66h16M304 574.66h16M352 574.66h16M479 574.66h16M511 574.66h16M670 574.66h16M702 574.66h16M161 576.14h15M256 576.14h16M288 576.14h32M527 576.14h16M288 577.63h32M415 577.63h16M447 577.63h16M479 577.63h32M622 577.63h16M654 577.63h16M272 579.12h16M383 579.12h16M495 579.12h16M224 580.61h16M272 580.61h32M383 580.61h16M431 580.61h16M495 580.61h16M590 580.61h16M638 580.61h16M686 580.61h16M256 582.1h16M638 582.1h32M224 583.59h16M304 583.59h16M447 583.59h16M654 583.59h16M49 585.08h16M208 585.08h16M415 585.08h16M463 585.08h16M495 585.08h16M559 585.08h16M590 585.08h16M161 586.56h15M208 586.56h16M320 586.56h16M511 586.56h16M559 586.56h16M622 586.56h32M161 591.03h15M208 591.03h16M383 591.03h16M81 592.52h16M272 592.52h48M336 592.52h16M368 592.52h47M479 592.52h16M192 594.01h32M495 594.01h16M208 595.49h16M49 596.98h16M81 596.98h16M129 596.98h16M192 596.98h16M240 596.98h32M288 596.98h32M415 596.98h16M527 596.98h16M208 598.47h48M272 598.47h16M336 598.47h16M543 598.47h16M686 598.47h16M192 599.96h16M336 599.96h32M161 601.45h31M208 601.45h16M240 601.45h16M304 601.45h16M352 601.45h16M383 601.45h16M161 602.94h31M208 602.94h16M256 602.94h16M352 602.94h16M383 602.94h16M590 602.94h16M97 604.43h16M192 604.43h16M240 604.43h16M272 604.43h32M511 604.43h16M654 604.43h16M161 605.91h15M224 605.91h16M320 605.91h32M654 605.91h16M161 607.4h15M208 607.4h16M208 608.89h16M686 608.89h16M208 610.38h16M304 610.38h32M208 611.87h16M320 611.87h16M65 613.36h16M97 613.36h16M192 613.36h16M336 613.36h16M368 613.36h15M399 613.36h16M447 613.36h16M686 613.36h16M336 614.84h32M638 614.84h16M161 616.33h31M240 616.33h16M320 616.33h16M368 616.33h15M224 617.82h32M368 617.82h15M49 619.31h16M81 619.31h16M224 619.31h16M288 619.31h16M336 619.31h32M383 619.31h32M495 619.31h16M176 620.8h16M208 620.8h16M320 620.8h16M383 620.8h16M240 622.29h16M304 622.29h16M352 622.29h31M399 622.29h32M495 622.29h16M622 622.29h16M208 623.78h16M320 623.78h16M352 623.78h16M49 625.26h510M590 625.26h48M670 625.26h48M49 626.75h526M590 626.75h32M638 626.75h80M81 628.24h16M176 628.24h16M272 628.24h16M320 628.24h16M145 629.73h31M224 629.73h32M304 629.73h16M145 631.22h16M192 631.22h16M336 631.22h32M431 631.22h16M559 631.22h16M161 632.71h15M288 632.71h16M176 634.2h16M256 634.2h48M352 634.2h16M192 635.68h16M272 635.68h16M304 635.68h16M336 635.68h16M527 635.68h16M192 637.17h32M288 637.17h16M320 637.17h16M479 637.17h16M113 638.66h16M240 638.66h16M304 638.66h16M654 638.66h16M49 640.15h16M224 640.15h16M256 640.15h16M383 640.15h32M431 640.15h48M511 640.15h16M208 641.64h32M304 641.64h16M495 641.64h16M129 643.13h16M240 643.13h32M288 643.13h16M336 643.13h16M495 643.13h16M208 644.61h16M320 644.61h16M383 644.61h16M431 644.61h16M495 644.61h16M559 644.61h16M590 644.61h16M702 644.61h16M320 646.1h16M368 646.1h15M559 646.1h16M654 646.1h16M702 646.1h16M161 647.59h47M256 647.59h32M383 647.59h16M702 647.59h16M240 649.08h16M304 649.08h32M686 649.08h16M81 650.57h16M208 650.57h16M288 650.57h16M383 650.57h32M463 650.57h16M575 650.57h15M670 650.57h16M129 652.06h16M272 652.06h16M304 652.06h16M352 652.06h16M495 652.06h16M686 652.06h32M176 653.55h32M161 655.03h15M192 655.03h16M272 655.03h16M224 656.52h16M272 656.52h16M320 656.52h16M463 656.52h16M161 658.01h15M224 658.01h16M256 658.01h16M288 658.01h16M320 658.01h16M192 659.5h16M192 660.99h16M224 660.99h32M240 662.48h16M288 662.48h32M208 663.96h16M304 663.96h16M240 665.45h16M304 665.45h79M145 666.94h16M240 666.94h16M176 668.43h16M224 668.43h16M224 669.92h32M527 669.92h16M304 671.41h16M97 675.87h16M256 675.87h16M479 675.87h16M543 675.87h16M670 675.87h16M702 675.87h16M240 677.36h16M272 678.85h16M320 678.85h16M368 678.85h15M559 678.85h16M638 678.85h16M256 680.34h16M304 680.34h16M463 680.34h16M176 681.83h32M81 683.32h16M176 683.32h16M320 683.32h16M176 687.78h32M272 687.78h16M192 689.27h16M272 689.27h16M431 689.27h16M272 690.76h16M399 692.25h16M702 692.25h16M272 693.73h16M161 695.22h15M336 695.22h16M575 695.22h15M368 696.71h15M686 696.71h16M192 698.2h16M320 698.2h16M192 699.69h16M240 699.69h16M304 699.69h16M240 701.18h16M304 701.18h32M304 702.67h32M224 704.15h16M256 704.15h16M447 705.64h16M606 705.64h16M670 705.64h16M192 707.13h16M702 707.13h16M49 708.62h16M81 708.62h16M336 708.62h16M368 708.62h15M447 708.62h16M145 710.11h16M352 710.11h16M399 710.11h16M479 710.11h16M590 710.11h48M192 711.6h16M288 711.6h16M702 711.6h16M192 713.08h48M320 713.08h16M368 713.08h15M192 714.57h16M161 716.06h31M208 716.06h16M336 716.06h16M176 717.55h16M208 717.55h16M240 717.55h16M368 717.55h15M161 719.04h15M208 719.04h16M176 720.53h32M224 720.53h16M304 720.53h16M49 722.02h494M590 722.02h48M654 722.02h32M702 722.02h16M161 723.5h31M336 723.5h16M145 724.99h16M176 724.99h16M224 724.99h32M336 724.99h16M590 724.99h16M463 726.48h16M559 726.48h16M606 726.48h16M49 727.97h16M81 727.97h16M145 727.97h31M224 727.97h16M272 727.97h16M320 727.97h16M463 727.97h64M590 727.97h16M622 727.97h16M654 727.97h32M176 729.46h32M224 729.46h16M256 729.46h16M479 729.46h16M527 729.46h32M622 729.46h16M49 730.95h16M208 730.95h16M256 730.95h16M399 730.95h16M511 730.95h16M176 732.44h16M208 732.44h32M161 733.92h31M288 733.92h16M368 733.92h15M431 733.92h16M479 733.92h16M527 733.92h32M575 733.92h15M161 735.41h15M256 735.41h16M304 735.41h16M368 735.41h15M527 735.41h16M49 736.9h16M81 736.9h16M145 736.9h16M192 736.9h16M224 736.9h16M447 736.9h16M606 736.9h16M65 738.39h16M113 738.39h16M192 738.39h16M288 738.39h16M336 738.39h32M383 738.39h16M495 738.39h16M65 739.88h16M161 739.88h15M192 739.88h16M256 739.88h48M352 739.88h31M479 739.88h32M702 739.88h16M97 741.37h16M192 741.37h16M304 741.37h16M511 741.37h16M176 742.85h32M304 742.85h16M368 742.85h15M590 742.85h16M702 742.85h16M161 744.34h15M192 744.34h16M320 744.34h16M415 744.34h16M447 744.34h32M702 744.34h16M272 745.83h16M320 745.83h16M463 745.83h16M702 745.83h16M192 747.32h16M224 747.32h16M256 747.32h16M320 747.32h16M463 747.32h16M495 747.32h16M543 747.32h16M208 748.81h16M256 748.81h32M129 750.3h16M208 750.3h16M543 750.3h16M622 750.3h16M670 750.3h16M702 750.3h16M336 751.79h16M463 751.79h16M527 751.79h16M670 751.79h16M176 753.27h32M240 753.27h16M272 753.27h16M304 753.27h16M336 753.27h16M559 753.27h16M145 754.76h16M240 754.76h16M272 754.76h16M463 754.76h16M686 754.76h16M113 756.25h16M240 756.25h16M304 756.25h16M336 756.25h16M399 756.25h16M431 756.25h16M479 756.25h16M590 756.25h16M638 756.25h32M304 757.74h16M415 757.74h16M463 757.74h16M527 757.74h16M559 757.74h16M113 759.23h16M224 759.23h16M256 759.23h32M447 759.23h48M240 762.2h16M336 762.2h32M415 762.2h16M463 762.2h16M622 762.2h16M670 762.2h32M129 763.69h16M447 763.69h32M495 763.69h16M208 765.18h16M304 765.18h16M479 765.18h32M129 766.67h16M336 766.67h16M415 768.16h16M495 768.16h16M543 768.16h16M495 769.65h16M590 769.65h16M670 769.65h16M288 771.14h16M336 771.14h16M463 771.14h32M240 772.62h16M415 772.62h16M527 772.62h32M224 774.11h16M463 774.11h16M543 774.11h16M161 775.6h15M192 775.6h16M240 775.6h16M463 775.6h16M511 775.6h32M161 777.09h15M192 777.09h16M304 777.09h16M415 777.09h32M511 777.09h32M606 777.09h48M702 777.09h16M240 778.58h16M431 778.58h48M495 778.58h32M49 780.07h16M113 780.07h32M176 780.07h16M240 780.07h16M304 780.07h16M447 780.07h16M527 780.07h16M622 780.07h16M81 781.56h16M431 781.56h16M511 781.56h16M590 781.56h16M161 783.04h15M208 783.04h16M240 783.04h16M415 783.04h16M527 783.04h16M240 784.53h16M352 784.53h16M447 784.53h32M654 784.53h32M49 786.02h16M81 786.02h16M511 786.02h16M224 787.51h16M511 787.51h16M49 789h16M129 790.49h32M304 790.49h16M431 790.49h32M495 790.49h16M527 790.49h32M606 790.49h16M638 790.49h16M49 791.97h16M463 791.97h16M511 791.97h48M240 793.46h16M415 793.46h16M543 793.46h16M49 794.95h16M431 794.95h16M590 794.95h16M670 794.95h16M431 796.44h16M463 796.44h16M495 796.44h16M49 797.93h16M495 797.93h16M527 797.93h16M224 799.42h16M336 799.42h16M495 799.42h16M81 800.91h16M129 800.91h32M224 800.91h16M272 800.91h16M383 800.91h16M495 800.91h16M543 800.91h16M606 800.91h48M415 802.39h64M161 803.88h15M208 805.37h16M224 806.86h16M272 808.35h16M638 808.35h16M49 809.84h16M192 809.84h16M272 809.84h16M320 809.84h16M463 809.84h16M511 809.84h32M670 809.84h32M288 811.32h16M320 811.32h16M431 811.32h16M686 811.32h16M161 812.81h15M161 814.3h15M192 814.3h16M527 814.3h16M383 815.79h16M527 815.79h16M176 817.28h32M288 817.28h16M320 817.28h16M495 817.28h16M161 818.77h15M161 820.26h15M240 820.26h16M527 820.26h16M622 820.26h16"/><path stroke="#f8f0eb" d="M81 330.54h16M208 330.54h48M272 330.54h16M320 330.54h16M368 330.54h15M670 330.54h16M192 332.03h16M447 332.03h16M543 332.03h16M208 333.52h16M336 333.52h16M368 333.52h15M511 333.52h32M575 333.52h15M272 335.01h16M320 335.01h16M495 335.01h16M686 335.01h16M192 336.5h16M224 336.5h16M415 336.5h16M479 336.5h16M511 336.5h16M399 337.99h16M383 339.48h16M527 339.48h16M176 340.96h16M336 340.96h16M431 340.96h16M304 342.45h16M336 342.45h16M383 342.45h16M447 342.45h16M192 343.94h16M240 343.94h16M447 343.94h32M192 345.43h16M272 345.43h16M49 346.92h16M240 346.92h16M272 346.92h16M399 346.92h16M511 346.92h16M336 348.41h16M463 348.41h32M527 348.41h16M240 351.38h16M336 351.38h16M368 351.38h31M479 351.38h32M543 351.38h16M145 352.87h31M240 352.87h16M352 352.87h16M495 352.87h16M145 354.36h16M304 354.36h16M352 354.36h16M383 354.36h16M463 354.36h32M272 355.85h32M383 355.85h16M431 355.85h16M479 355.85h16M256 357.34h16M368 357.34h15M415 357.34h16M479 357.34h16M511 357.34h16M543 357.34h16M256 358.83h16M320 358.83h16M670 358.83h16M256 360.31h32M447 360.31h32M622 360.31h16M113 361.8h16M208 361.8h16M240 361.8h16M352 361.8h16M320 363.29h16M383 363.29h16M543 363.29h16M622 363.29h16M176 364.78h32M304 364.78h16M352 364.78h16M463 364.78h16M495 364.78h16M240 366.27h16M352 366.27h16M192 367.76h16M224 367.76h16M463 367.76h16M495 367.76h32M543 367.76h16M575 367.76h15M192 369.24h16M272 369.24h16M511 369.24h16M224 370.73h16M431 370.73h16M495 370.73h32M240 372.22h32M511 372.22h16M161 373.71h15M192 373.71h16M304 373.71h16M527 373.71h16M575 373.71h15M49 375.2h16M192 375.2h16M336 375.2h16M383 375.2h16M240 376.69h16M368 376.69h15M431 376.69h16M702 376.69h16M145 378.18h63M256 378.18h16M368 378.18h15M511 378.18h48M208 379.66h16M240 379.66h16M272 379.66h16M304 379.66h16M383 379.66h16M638 379.66h16M208 381.15h16M383 381.15h16M431 381.15h16M479 381.15h16M654 381.15h16M447 382.64h16M527 382.64h32M590 382.64h16M638 382.64h32M447 384.13h16M622 384.13h16M49 385.62h16M240 385.62h16M288 385.62h16M320 385.62h32M686 385.62h16M304 387.11h16M495 387.11h16M97 388.6h32M176 388.6h16M224 388.6h16M320 388.6h16M447 388.6h16M670 388.6h16M65 390.08h16M161 390.08h15M208 390.08h16M304 390.08h16M383 390.08h16M622 390.08h16M336 391.57h16M415 391.57h16M702 391.57h16M176 393.06h16M288 393.06h16M336 393.06h16M479 393.06h16M145 394.55h16M224 394.55h16M256 394.55h16M463 394.55h16M495 394.55h16M288 396.04h16M368 396.04h15M511 396.04h16M256 397.53h16M288 397.53h16M368 397.53h15M399 397.53h16M431 397.53h16M463 397.53h16M495 397.53h32M192 399.01h16M336 399.01h16M463 399.01h16M192 400.5h16M336 400.5h16M368 400.5h31M495 400.5h16M97 401.99h16M352 401.99h16M431 401.99h16M463 401.99h16M543 401.99h16M240 403.48h16M272 403.48h16M304 403.48h32M415 403.48h16M463 403.48h16M176 404.97h16M463 404.97h16M527 404.97h16M256 406.46h16M638 406.46h16M224 407.95h16M383 407.95h16M192 409.43h32M176 410.92h32M368 410.92h15M399 410.92h16M702 410.92h16M176 412.41h16M208 412.41h32M447 412.41h16M336 413.9h16M368 413.9h15M463 413.9h16M511 413.9h16M192 415.39h32M368 415.39h15M145 416.88h16M208 416.88h16M336 416.88h16M670 416.88h16M145 418.36h31M192 418.36h32M479 418.36h16M511 418.36h16M590 418.36h16M161 419.85h15M208 419.85h16M288 419.85h16M399 419.85h16M368 422.83h15M479 422.83h16M161 424.32h15M288 424.32h16M336 424.32h16M192 425.81h16M176 427.3h16M336 427.3h16M352 428.78h16M511 428.78h16M352 430.27h16M383 430.27h16M65 431.76h16M161 431.76h15M145 433.25h16M288 433.25h16M447 433.25h32M208 434.74h16M415 434.74h16M463 434.74h16M97 436.23h16M272 436.23h16M304 436.23h16M368 436.23h15M415 436.23h16M511 436.23h16M543 436.23h16M431 437.72h16M527 437.72h16M192 439.2h16M320 439.2h16M145 440.69h16M192 440.69h16M256 440.69h16M304 440.69h16M415 440.69h32M463 440.69h16M161 442.18h15M224 442.18h32M336 442.18h16M399 442.18h16M447 442.18h48M543 442.18h16M606 442.18h16M670 442.18h16M702 442.18h16M145 443.67h16M224 443.67h32M320 443.67h16M399 443.67h16M463 443.67h16M527 443.67h16M161 445.16h15M192 445.16h32M272 445.16h32M336 445.16h16M527 445.16h16M240 446.65h16M288 446.65h16M320 446.65h16M447 446.65h16M511 446.65h16M670 446.65h16M511 448.13h16M670 448.13h16M161 449.62h15M192 449.62h32M256 449.62h32M479 449.62h16M97 451.11h16M224 451.11h16M320 451.11h16M352 451.11h16M447 451.11h16M670 451.11h16M161 452.6h31M224 452.6h16M256 452.6h16M352 452.6h16M431 452.6h16M161 454.09h15M240 454.09h16M479 454.09h16M527 454.09h16M670 454.09h16M192 455.58h48M256 455.58h16M336 455.58h16M415 455.58h16M447 455.58h16M495 455.58h32M670 455.58h16M192 457.07h16M272 457.07h16M495 457.07h16M638 457.07h16M288 458.55h16M447 458.55h16M320 460.04h16M415 460.04h16M447 460.04h16M495 460.04h16M145 464.51h16M208 464.51h16M256 464.51h16M479 464.51h32M81 466h16M192 466h16M288 466h32M336 466h16M511 466h16M208 467.48h16M336 467.48h16M447 467.48h16M81 468.97h16M288 468.97h16M543 468.97h16M49 470.46h16M176 470.46h32M240 470.46h16M415 470.46h16M511 470.46h16M208 471.95h16M240 471.95h16M145 473.44h16M256 473.44h16M208 474.93h16M431 474.93h16M208 476.42h16M240 476.42h32M336 476.42h16M161 477.9h15M208 477.9h16M304 477.9h32M352 477.9h16M463 477.9h16M527 477.9h16M670 477.9h16M145 479.39h31M288 479.39h32M447 479.39h32M543 479.39h16M129 480.88h16M176 480.88h32M368 480.88h15M606 480.88h16M240 482.37h16M272 482.37h16M320 482.37h16M368 482.37h31M606 482.37h32M161 483.86h15M352 483.86h31M161 485.35h15M224 485.35h16M256 485.35h16M383 485.35h16M176 486.84h16M208 486.84h32M256 486.84h16M97 488.32h16M129 488.32h16M161 488.32h15M352 488.32h16M399 488.32h16M479 488.32h16M208 489.81h32M256 489.81h16M352 489.81h16M399 489.81h16M192 491.3h16M129 492.79h16M208 492.79h16M336 492.79h16M431 492.79h32M575 492.79h15M192 494.28h16M383 494.28h16M511 494.28h16M575 494.28h31M638 494.28h16M145 495.77h16M352 495.77h16M479 495.77h16M670 495.77h16M192 497.25h16M431 497.25h16M670 497.25h16M49 498.74h16M113 498.74h16M368 498.74h15M399 498.74h16M590 498.74h16M702 498.74h16M145 500.23h31M192 500.23h32M256 500.23h16M304 500.23h16M431 500.23h16M49 501.72h16M224 501.72h48M304 501.72h16M399 501.72h16M97 503.21h16M161 503.21h15M208 503.21h16M256 503.21h16M288 503.21h16M511 503.21h16M670 503.21h16M208 504.7h16M272 504.7h32M368 504.7h47M511 504.7h32M49 506.19h16M97 506.19h16M161 506.19h15M208 506.19h32M272 506.19h32M336 506.19h16M399 506.19h16M479 506.19h16M670 506.19h16M145 507.67h31M208 507.67h16M256 507.67h32M352 507.67h16M479 507.67h32M670 507.67h16M97 509.16h16M161 509.16h15M192 509.16h32M256 509.16h16M288 509.16h16M399 509.16h16M511 509.16h16M97 510.65h32M192 510.65h32M288 510.65h16M352 510.65h16M161 512.14h31M272 512.14h48M431 512.14h16M479 512.14h16M113 513.63h16M192 513.63h16M256 513.63h16M288 513.63h16M368 513.63h15M113 515.12h16M208 515.12h32M256 515.12h32M495 515.12h16M543 515.12h16M670 515.12h16M192 516.6h16M224 516.6h16M256 516.6h32M145 518.09h31M256 518.09h32M383 518.09h48M479 518.09h32M527 518.09h32M654 518.09h16M686 518.09h16M352 519.58h16M192 521.07h16M256 521.07h16M288 521.07h16M368 521.07h15M399 521.07h16M161 522.56h15M192 522.56h16M447 522.56h16M49 524.05h16M145 524.05h31M208 524.05h16M256 524.05h32M383 524.05h32M447 524.05h16M479 524.05h16M145 525.54h16M336 525.54h16M399 525.54h16M447 525.54h16M479 525.54h16M113 527.02h16M176 527.02h32M224 527.02h16M256 527.02h16M336 527.02h16M447 527.02h16M495 527.02h16M702 527.02h16M113 528.51h16M145 528.51h31M272 528.51h16M368 528.51h15M463 528.51h32M543 528.51h16M606 528.51h16M97 531.49h16M145 531.49h16M208 531.49h16M352 531.49h16M702 531.49h16M145 532.98h16M208 532.98h16M304 532.98h16M543 532.98h16M224 534.47h16M288 534.47h16M654 534.47h16M192 537.44h16M415 537.44h16M622 537.44h16M670 537.44h16M145 538.93h16M288 538.93h16M368 538.93h31M479 538.93h16M670 538.93h16M81 540.42h16M256 540.42h16M240 541.91h16M670 541.91h16M161 543.4h15M208 543.4h32M288 543.4h16M383 543.4h16M463 543.4h16M113 544.89h32M192 544.89h16M415 544.89h16M463 544.89h16M559 544.89h16M638 544.89h16M161 546.37h15M224 546.37h32M272 546.37h16M145 547.86h16M686 547.86h32M272 549.35h16M192 550.84h16M399 550.84h48M527 550.84h32M606 550.84h16M686 550.84h16M113 552.33h32M161 552.33h15M256 552.33h16M415 552.33h16M447 552.33h16M527 552.33h16M575 552.33h15M606 552.33h16M288 553.82h32M511 553.82h16M49 555.31h16M129 555.31h16M161 555.31h31M272 555.31h16M383 555.31h16M495 555.31h16M543 555.31h32M686 555.31h16M161 556.79h15M192 556.79h32M256 556.79h16M352 556.79h16M145 558.28h16M415 558.28h16M495 558.28h16M686 558.28h16M192 559.77h16M272 559.77h16M654 559.77h16M352 561.26h16M431 561.26h16M511 561.26h16M543 561.26h16M686 561.26h32M208 562.75h16M383 562.75h16M495 562.75h16M145 564.24h16M208 564.24h16M161 565.72h15M272 565.72h16M368 567.21h31M224 568.7h16M320 568.7h16M511 568.7h16M622 568.7h16M670 568.7h16M304 570.19h32M415 570.19h16M527 570.19h16M559 570.19h16M670 570.19h16M49 571.68h16M97 571.68h16M145 571.68h16M192 571.68h16M224 571.68h16M479 571.68h16M575 571.68h31M670 571.68h32M145 573.17h16M463 573.17h32M559 573.17h16M686 573.17h16M65 574.66h16M288 574.66h16M447 574.66h16M543 574.66h32M638 574.66h32M224 576.14h16M479 576.14h16M543 576.14h16M638 576.14h32M65 577.63h16M256 577.63h32M431 577.63h16M463 577.63h16M575 577.63h15M256 579.12h16M368 579.12h15M415 579.12h16M447 579.12h16M543 579.12h16M590 579.12h16M145 580.61h31M208 580.61h16M240 580.61h32M304 580.61h16M447 580.61h48M559 580.61h31M654 580.61h32M702 580.61h16M161 582.1h15M272 582.1h16M463 582.1h16M559 582.1h16M161 583.59h15M256 583.59h32M479 583.59h16M590 583.59h32M161 585.08h15M192 585.08h16M479 585.08h16M527 585.08h32M575 585.08h15M702 585.08h16M176 586.56h16M256 586.56h16M304 586.56h16M415 586.56h16M463 586.56h16M702 586.56h16M415 589.54h16M240 591.03h16M97 592.52h32M161 592.52h31M256 592.52h16M431 592.52h16M495 592.52h32M590 592.52h16M527 594.01h32M65 595.49h16M224 595.49h16M256 595.49h32M654 595.49h16M352 596.98h16M654 596.98h16M176 598.47h16M256 598.47h16M415 598.47h16M527 598.47h16M575 598.47h31M161 599.96h15M383 599.96h16M686 599.96h16M224 601.45h16M256 601.45h32M399 601.45h16M431 601.45h16M192 602.94h16M224 602.94h16M272 602.94h32M415 602.94h16M304 604.43h16M543 604.43h16M511 605.91h32M224 607.4h16M368 607.4h31M543 607.4h16M320 608.89h32M176 610.38h16M288 610.38h16M224 611.87h16M288 611.87h16M447 611.87h16M208 613.36h16M240 613.36h16M272 613.36h16M415 613.36h16M511 613.36h16M606 613.36h16M638 613.36h16M670 613.36h16M702 613.36h16M161 614.84h31M208 614.84h16M240 614.84h16M320 614.84h16M399 614.84h16M654 614.84h16M192 616.33h16M288 617.82h16M431 617.82h16M622 617.82h16M686 617.82h16M97 619.31h16M176 619.31h16M208 619.31h16M272 619.31h16M368 619.31h15M479 619.31h16M543 619.31h16M622 619.31h16M686 619.31h16M129 620.8h16M256 620.8h16M288 620.8h32M224 622.29h16M256 622.29h16M383 622.29h16M511 622.29h16M240 623.78h16M415 623.78h32M495 623.78h16M702 623.78h16M559 625.26h31M638 625.26h32M575 626.75h15M622 626.75h16M288 628.24h32M527 628.24h16M559 628.24h16M670 629.73h16M176 631.22h16M208 631.22h16M256 631.22h16M527 631.22h16M224 632.71h16M272 632.71h16M670 632.71h16M192 634.2h32M463 634.2h32M606 634.2h48M670 634.2h16M368 635.68h15M272 637.17h16M304 637.17h16M176 638.66h16M65 640.15h16M129 640.15h16M192 640.15h16M368 640.15h15M288 641.64h16M431 641.64h16M511 641.64h16M543 641.64h16M176 643.13h32M224 643.13h16M272 643.13h16M368 643.13h15M431 643.13h16M463 643.13h16M511 643.13h16M543 643.13h47M654 643.13h16M288 644.61h16M527 644.61h16M670 644.61h32M272 646.1h16M527 646.1h16M352 647.59h31M479 647.59h16M559 647.59h16M606 647.59h16M654 647.59h16M176 649.08h32M415 649.08h16M495 649.08h16M543 649.08h16M161 650.57h15M240 652.06h32M288 652.06h16M224 653.55h32M288 653.55h32M352 653.55h16M208 655.03h16M240 655.03h16M288 655.03h16M686 655.03h16M161 656.52h15M240 656.52h16M654 656.52h16M272 658.01h16M208 659.5h16M240 659.5h16M288 659.5h16M304 660.99h32M352 660.99h16M447 663.96h16M511 663.96h16M575 663.96h15M161 665.45h15M256 665.45h16M304 666.94h16M543 666.94h16M272 668.43h16M431 668.43h16M543 668.43h16M240 672.9h16M304 672.9h16M622 672.9h16M240 674.38h16M654 674.38h16M113 675.87h16M161 675.87h15M224 675.87h16M352 675.87h16M383 675.87h16M463 675.87h16M495 675.87h16M288 677.36h16M447 677.36h16M447 678.85h16M702 678.85h16M192 680.34h16M320 680.34h16M161 681.83h15M256 681.83h16M240 683.32h16M288 683.32h16M288 684.8h16M320 684.8h16M431 684.8h16M240 686.29h16M622 686.29h16M208 687.78h16M352 687.78h16M431 687.78h16M463 687.78h32M161 689.27h15M304 690.76h16M145 692.25h16M208 692.25h16M320 692.25h16M670 692.25h16M176 693.73h16M288 693.73h16M336 693.73h16M654 693.73h16M176 695.22h80M272 695.22h16M176 696.71h16M240 696.71h16M543 696.71h16M622 696.71h16M192 701.18h16M224 702.67h16M256 702.67h16M702 702.67h16M192 704.15h16M272 704.15h16M304 704.15h32M495 704.15h16M622 704.15h32M65 705.64h32M129 705.64h32M256 705.64h16M304 705.64h16M352 705.64h16M590 705.64h16M161 707.13h15M240 707.13h16M320 707.13h32M415 707.13h32M686 707.13h16M224 708.62h16M256 708.62h16M383 708.62h32M431 708.62h16M527 708.62h16M97 710.11h48M224 710.11h16M320 710.11h16M224 711.6h16M272 711.6h16M256 713.08h16M288 713.08h16M527 713.08h16M702 713.08h16M224 714.57h32M192 716.06h16M256 716.06h16M288 716.06h16M622 716.06h16M161 717.55h15M224 717.55h16M256 717.55h16M240 719.04h16M304 719.04h16M590 719.04h16M702 719.04h16M208 720.53h16M320 720.53h16M543 722.02h47M638 722.02h16M686 722.02h16M208 723.5h16M288 723.5h16M654 723.5h16M208 724.99h16M256 724.99h48M415 724.99h16M447 724.99h48M654 724.99h16M176 726.48h16M208 726.48h16M256 726.48h32M336 726.48h16M415 726.48h16M129 727.97h16M192 727.97h16M240 727.97h16M288 727.97h16M368 727.97h15M447 727.97h16M606 727.97h16M702 727.97h16M161 729.46h15M240 729.46h16M415 729.46h16M447 729.46h16M654 729.46h16M65 730.95h16M145 730.95h16M304 730.95h16M192 732.44h16M256 732.44h16M49 733.92h32M208 733.92h32M383 733.92h16M208 735.41h16M559 735.41h16M622 735.41h16M654 735.41h16M702 735.41h16M176 736.9h16M304 736.9h16M559 736.9h16M81 738.39h16M272 738.39h16M447 738.39h16M479 738.39h16M543 738.39h16M590 738.39h16M670 738.39h32M145 739.88h16M176 739.88h16M463 739.88h16M511 739.88h16M654 739.88h16M686 739.88h16M81 741.37h16M129 741.37h16M176 741.37h16M208 741.37h16M256 741.37h16M288 741.37h16M415 741.37h32M606 741.37h16M686 741.37h16M208 742.85h16M272 742.85h32M415 742.85h16M511 742.85h16M606 742.85h32M176 744.34h16M272 744.34h16M368 744.34h15M431 744.34h16M527 744.34h16M606 744.34h32M686 744.34h16M288 745.83h16M415 745.83h32M511 745.83h16M686 745.83h16M176 747.32h16M208 747.32h16M415 747.32h32M288 748.81h16M543 748.81h32M686 748.81h32M176 750.3h16M288 750.3h16M415 750.3h16M463 750.3h16M495 750.3h32M559 750.3h16M590 750.3h32M176 751.79h32M224 751.79h16M272 751.79h16M304 751.79h16M447 751.79h16M479 751.79h48M590 751.79h16M224 753.27h16M256 753.27h16M622 753.27h16M176 754.76h16M224 754.76h16M304 754.76h16M447 754.76h16M495 754.76h16M543 754.76h47M49 756.25h16M129 756.25h16M161 756.25h47M224 756.25h16M463 756.25h16M447 757.74h16M65 759.23h16M145 759.23h16M208 759.23h16M288 759.23h16M352 759.23h16M415 759.23h16M81 760.72h16M192 760.72h16M320 760.72h16M479 760.72h16M511 760.72h16M49 762.2h16M113 762.2h16M256 762.2h32M479 762.2h16M527 762.2h16M654 762.2h16M97 763.69h16M192 763.69h16M527 763.69h16M336 765.18h16M415 765.18h16M447 765.18h16M208 766.67h16M272 766.67h16M431 766.67h16M495 766.67h16M431 768.16h16M527 768.16h16M49 769.65h16M161 769.65h15M192 769.65h16M240 769.65h16M288 769.65h16M447 769.65h16M511 769.65h16M543 769.65h16M81 771.14h16M304 771.14h16M431 771.14h32M495 771.14h16M49 772.62h16M208 772.62h16M431 772.62h16M495 772.62h16M65 774.11h16M129 774.11h16M208 774.11h16M256 774.11h32M383 774.11h16M511 774.11h16M176 775.6h16M208 775.6h16M288 775.6h16M431 775.6h32M368 777.09h15M559 777.09h16M686 777.09h16M161 778.58h15M272 778.58h16M320 778.58h16M415 778.58h16M479 778.58h16M81 780.07h16M192 780.07h16M320 780.07h32M479 780.07h48M49 781.56h16M240 781.56h16M304 781.56h16M415 781.56h16M479 781.56h16M49 783.04h16M145 783.04h16M192 783.04h16M272 783.04h16M320 783.04h16M431 783.04h16M495 783.04h16M81 784.53h16M224 784.53h16M192 786.02h32M320 786.02h16M431 786.02h48M495 786.02h16M49 787.51h16M113 787.51h16M431 787.51h16M463 787.51h16M495 787.51h16M224 789h16M272 789h32M431 789h16M192 790.49h16M256 790.49h32M415 790.49h16M575 790.49h31M686 790.49h16M208 791.97h16M479 791.97h16M256 793.46h16M304 793.46h32M431 793.46h16M495 793.46h32M224 794.95h32M288 794.95h16M320 794.95h32M224 796.44h16M352 796.44h16M479 796.44h16M81 797.93h16M113 797.93h16M240 797.93h16M479 797.93h16M543 797.93h16M113 799.42h16M304 799.42h32M431 799.42h32M49 800.91h32M192 800.91h16M575 800.91h31M670 800.91h16M702 800.91h16M511 802.39h16M543 802.39h16M176 803.88h16M463 803.88h16M702 803.88h16M176 805.37h16M208 806.86h16M145 809.84h16M176 809.84h16M240 809.84h16M479 809.84h16M590 809.84h16M638 809.84h16M702 809.84h16M208 811.32h16M272 811.32h16M463 811.32h16M176 812.81h16M288 812.81h16M527 812.81h16M654 812.81h16M702 812.81h16M176 814.3h16M256 814.3h16M288 814.3h16M543 814.3h16M702 814.3h16M81 815.79h16M161 815.79h15M208 815.79h32M495 815.79h16M208 817.28h16M511 817.28h32M431 818.77h16M192 820.26h16M320 820.26h16M702 820.26h16"/><path stroke="#fae9df" d="M145 330.54h16M256 330.54h16M431 330.54h16M97 332.03h16M176 332.03h16M272 332.03h16M511 332.03h16M383 333.52h16M479 333.52h16M176 335.01h16M304 335.01h16M447 335.01h16M511 335.01h32M590 335.01h16M145 336.5h16M304 336.5h16M97 337.99h16M161 337.99h15M368 337.99h15M240 339.48h16M352 339.48h16M479 339.48h16M511 339.48h16M415 340.96h16M527 340.96h16M654 340.96h16M686 340.96h16M192 342.45h16M240 342.45h16M352 342.45h16M415 342.45h32M495 342.45h16M272 343.94h16M320 343.94h16M415 343.94h32M113 345.43h16M304 345.43h16M336 345.43h16M113 346.92h16M320 346.92h16M176 348.41h16M304 348.41h16M495 348.41h32M543 348.41h16M192 349.89h16M304 349.89h32M447 349.89h16M304 351.38h32M447 351.38h16M176 352.87h16M256 352.87h16M304 352.87h16M399 352.87h16M447 352.87h16M479 352.87h16M49 354.36h48M176 354.36h16M447 354.36h16M670 354.36h16M49 355.85h16M81 355.85h16M208 355.85h32M336 355.85h16M447 355.85h16M559 355.85h16M304 357.34h32M288 358.83h32M352 358.83h16M240 360.31h16M320 360.31h16M415 360.31h16M49 361.8h16M97 361.8h16M224 361.8h16M368 361.8h15M399 361.8h32M447 361.8h32M49 363.29h16M129 363.29h32M176 363.29h48M304 363.29h16M352 363.29h16M208 364.78h16M288 364.78h16M320 364.78h16M622 364.78h16M702 364.78h16M447 366.27h16M49 367.76h16M81 367.76h16M256 367.76h48M336 367.76h63M145 369.24h16M288 369.24h16M383 369.24h16M495 369.24h16M527 369.24h16M559 369.24h16M208 370.73h16M288 370.73h16M336 370.73h16M447 370.73h32M161 372.22h15M192 372.22h32M288 372.22h16M224 373.71h16M272 373.71h16M320 373.71h16M479 373.71h16M161 375.2h31M208 375.2h16M352 375.2h16M495 375.2h16M527 375.2h16M129 376.69h16M176 376.69h32M272 376.69h16M447 376.69h16M49 378.18h16M272 378.18h16M304 378.18h32M352 378.18h16M383 378.18h16M415 378.18h16M447 378.18h16M336 379.66h16M431 379.66h16M49 381.15h16M224 381.15h16M288 381.15h32M511 382.64h16M670 382.64h16M192 384.13h16M511 384.13h16M97 385.62h16M129 385.62h16M192 385.62h32M272 385.62h16M352 385.62h16M463 385.62h32M272 387.11h32M368 387.11h15M463 387.11h16M81 388.6h16M145 388.6h31M208 388.6h16M288 388.6h16M352 388.6h16M399 388.6h16M495 388.6h16M81 390.08h16M256 390.08h16M399 390.08h16M447 390.08h16M511 390.08h16M161 391.57h15M208 391.57h16M352 391.57h31M208 393.06h16M256 393.06h16M383 393.06h16M272 394.55h16M336 394.55h16M208 396.04h16M272 396.04h16M336 396.04h16M702 396.04h16M81 397.53h16M192 397.53h16M224 397.53h16M336 397.53h16M49 399.01h16M145 399.01h16M240 399.01h48M352 399.01h16M383 399.01h16M431 399.01h16M511 399.01h16M65 400.5h16M97 400.5h16M161 400.5h15M256 400.5h32M352 400.5h16M81 401.99h16M113 401.99h16M288 401.99h16M81 403.48h16M288 403.48h16M145 404.97h16M192 404.97h16M336 407.95h16M161 409.43h15M352 409.43h16M383 409.43h32M81 410.92h16M113 410.92h16M145 410.92h16M208 410.92h16M352 410.92h16M495 410.92h16M383 412.41h16M638 412.41h16M161 413.9h15M352 413.9h16M97 416.88h16M176 416.88h16M368 416.88h31M336 418.36h16M145 419.85h16M368 419.85h15M463 419.85h16M336 421.34h16M368 421.34h15M336 422.83h16M49 424.32h16M81 424.32h16M176 424.32h16M352 424.32h16M415 424.32h16M399 425.81h16M368 427.3h15M399 427.3h32M145 428.78h16M336 428.78h16M383 428.78h16M145 430.27h16M192 430.27h16M304 430.27h16M49 433.25h16M113 433.25h16M192 433.25h16M272 433.25h16M304 433.25h16M336 433.25h16M368 433.25h15M415 433.25h16M176 434.74h32M272 434.74h16M304 434.74h16M49 436.23h16M352 436.23h16M113 437.72h16M208 437.72h32M256 437.72h16M336 437.72h16M368 437.72h15M176 439.2h16M224 439.2h16M415 439.2h16M447 439.2h16M479 439.2h16M49 440.69h16M97 440.69h32M161 440.69h15M208 440.69h16M320 440.69h16M511 440.69h16M97 442.18h16M208 442.18h16M272 442.18h48M383 442.18h16M495 442.18h32M49 443.67h16M97 443.67h48M176 443.67h16M272 443.67h16M511 443.67h16M224 445.16h16M304 445.16h16M352 445.16h16M511 445.16h16M145 446.65h16M256 446.65h16M431 446.65h16M479 446.65h16M145 448.13h16M208 448.13h16M272 448.13h48M336 448.13h32M527 448.13h16M145 449.62h16M240 449.62h16M336 449.62h32M383 449.62h32M431 449.62h32M192 451.11h16M336 451.11h16M399 451.11h16M49 452.6h16M81 452.6h48M272 452.6h16M336 452.6h16M383 452.6h16M192 454.09h32M272 454.09h16M320 454.09h48M431 454.09h16M463 454.09h16M145 455.58h16M431 455.58h16M559 457.07h16M606 457.07h16M49 460.04h16M161 460.04h31M192 461.53h16M224 461.53h16M272 461.53h16M415 461.53h32M176 463.02h64M272 464.51h16M383 464.51h16M463 464.51h16M638 464.51h16M129 466h16M256 466h32M383 466h16M49 467.48h16M145 467.48h16M49 468.97h16M224 468.97h16M383 468.97h16M479 468.97h16M511 468.97h32M145 470.46h16M288 470.46h16M145 471.95h16M192 471.95h16M415 471.95h16M161 473.44h15M192 473.44h16M415 473.44h16M129 474.93h16M336 474.93h47M192 476.42h16M399 476.42h16M81 477.9h32M129 477.9h16M192 477.9h16M65 479.39h32M113 479.39h16M272 479.39h16M479 479.39h16M49 480.88h16M81 480.88h16M145 480.88h31M113 482.37h32M208 482.37h32M511 482.37h16M272 483.86h16M272 485.35h16M336 485.35h16M368 485.35h15M399 485.35h16M97 486.84h16M192 486.84h16M272 486.84h32M145 488.32h16M208 488.32h32M129 489.81h16M49 491.3h16M176 491.3h16M176 492.79h32M240 492.79h16M288 492.79h16M670 492.79h16M224 494.28h48M352 494.28h16M622 494.28h16M654 494.28h16M686 494.28h32M97 495.77h16M192 495.77h32M288 495.77h16M208 497.25h16M97 498.74h16M145 498.74h16M176 498.74h32M288 498.74h16M176 500.23h16M288 500.23h16M145 501.72h47M288 501.72h16M49 503.21h32M176 503.21h16M161 504.7h15M256 504.7h16M65 506.19h32M176 506.19h32M81 507.67h48M176 507.67h16M240 507.67h16M399 507.67h16M113 509.16h16M145 509.16h16M49 510.65h16M81 510.65h16M161 510.65h31M256 510.65h16M49 512.14h16M81 512.14h48M192 512.14h32M256 512.14h16M161 513.63h15M224 513.63h16M49 515.12h16M81 515.12h16M145 515.12h16M192 515.12h16M49 516.6h16M113 516.6h16M145 516.6h16M288 516.6h16M49 518.09h16M113 518.09h16M176 518.09h16M208 518.09h16M288 518.09h16M368 518.09h15M49 519.58h16M145 519.58h79M256 519.58h16M288 519.58h16M176 521.07h16M208 521.07h16M49 522.56h16M145 522.56h16M176 522.56h16M208 522.56h16M256 522.56h16M288 522.56h16M113 524.05h16M176 524.05h16M288 524.05h16M49 525.54h16M161 525.54h31M208 525.54h16M288 525.54h16M49 527.02h16M399 527.02h16M49 528.51h16M192 528.51h16M336 528.51h16M161 530h15M176 531.49h16M336 531.49h16M590 531.49h16M161 532.98h15M479 532.98h16M97 534.47h16M176 534.47h48M702 534.47h16M272 535.96h16M479 535.96h16M176 537.44h16M479 537.44h16M575 537.44h15M161 538.93h15M208 538.93h16M272 538.93h16M145 540.42h16M224 540.42h16M272 540.42h32M224 541.91h16M49 543.4h16M113 543.4h16M336 543.4h16M208 544.89h32M288 544.89h16M383 544.89h16M81 546.37h16M129 546.37h32M383 546.37h16M463 546.37h16M527 546.37h16M638 546.37h16M686 546.37h16M81 547.86h16M176 547.86h16M702 549.35h16M288 550.84h16M447 550.84h16M511 550.84h16M590 550.84h16M49 552.33h16M97 552.33h16M208 552.33h16M288 552.33h16M511 552.33h16M686 552.33h16M129 553.82h16M161 553.82h31M256 553.82h16M97 555.31h32M256 555.31h16M288 555.31h16M479 555.31h16M49 558.28h16M129 558.28h16M224 558.28h16M352 558.28h16M256 559.77h16M145 561.26h16M208 561.26h32M495 561.26h16M559 561.26h16M590 561.26h48M161 562.75h15M256 562.75h32M352 562.75h16M161 564.24h31M590 564.24h16M81 565.72h16M145 567.21h16M352 567.21h16M670 567.21h16M97 568.7h64M192 568.7h32M256 568.7h16M368 568.7h15M447 568.7h16M590 568.7h16M638 568.7h16M240 570.19h16M479 570.19h16M638 570.19h16M129 571.68h16M161 571.68h15M208 571.68h16M463 571.68h16M511 571.68h16M49 573.17h16M81 573.17h16M176 573.17h48M415 573.17h16M447 573.17h16M511 573.17h16M654 573.17h16M176 574.66h16M208 574.66h32M686 574.66h16M192 576.14h16M511 576.14h16M559 576.14h16M686 576.14h16M559 577.63h16M670 577.63h16M49 579.12h16M511 579.12h16M559 579.12h16M670 579.12h16M702 579.12h16M511 580.61h32M192 582.1h16M415 582.1h16M447 582.1h16M511 582.1h16M575 582.1h15M606 582.1h32M702 582.1h16M527 583.59h63M622 583.59h32M686 583.59h32M638 585.08h32M686 585.08h16M240 586.56h16M288 586.56h16M527 586.56h16M479 588.05h48M622 588.05h32M702 588.05h16M479 589.54h16M670 589.54h16M702 589.54h16M176 591.03h32M256 591.03h16M288 591.03h16M320 591.03h16M670 591.03h16M304 594.01h16M415 594.01h16M463 594.01h16M606 594.01h48M670 594.01h16M447 595.49h32M527 595.49h16M622 595.49h32M670 595.49h16M176 596.98h16M479 596.98h16M575 596.98h15M686 596.98h32M559 598.47h16M622 598.47h16M654 598.47h16M240 599.96h48M415 599.96h16M463 599.96h16M559 599.96h16M288 601.45h16M320 601.45h16M543 601.45h16M622 601.45h16M240 602.94h16M320 602.94h16M431 602.94h16M543 602.94h32M638 602.94h16M670 602.94h16M575 604.43h15M622 604.43h32M670 604.43h32M256 605.91h16M288 605.91h16M479 605.91h16M543 605.91h16M638 605.91h16M113 607.4h16M256 607.4h16M352 607.4h16M479 607.4h16M638 607.4h16M702 607.4h16M240 608.89h16M543 608.89h16M702 608.89h16M272 610.38h16M415 610.38h16M447 610.38h16M575 610.38h31M654 610.38h16M272 611.87h16M479 611.87h16M543 611.87h16M256 613.36h16M288 613.36h16M431 613.36h16M463 613.36h16M527 613.36h16M192 614.84h16M272 614.84h16M479 614.84h32M527 614.84h32M686 614.84h16M224 616.33h16M256 616.33h48M272 617.82h16M320 617.82h16M495 617.82h16M638 617.82h48M431 619.31h16M527 619.31h16M575 619.31h15M638 619.31h16M224 620.8h16M447 620.8h64M622 620.8h16M431 622.29h16M463 622.29h32M638 622.29h32M686 622.29h16M622 623.78h16M208 628.24h16M575 628.24h15M654 628.24h16M686 628.24h16M208 629.73h16M272 629.73h16M447 629.73h16M511 629.73h16M559 629.73h16M161 631.22h15M272 631.22h16M447 631.22h32M590 631.22h16M654 631.22h16M256 632.71h16M702 632.71h16M161 634.2h15M415 634.2h32M495 634.2h16M654 634.2h16M543 635.68h16M702 635.68h16M256 637.17h16M654 637.17h16M256 638.66h16M543 638.66h16M638 638.66h16M97 640.15h16M145 640.15h31M208 640.15h16M415 640.15h16M479 640.15h16M192 641.64h16M240 641.64h48M463 641.64h16M559 641.64h16M606 641.64h32M702 641.64h16M161 643.13h15M415 643.13h16M590 643.13h16M638 643.13h16M702 643.13h16M336 644.61h16M447 644.61h16M543 644.61h16M606 644.61h32M654 644.61h16M431 646.1h16M575 646.1h15M606 646.1h32M670 646.1h32M240 647.59h16M415 647.59h16M447 647.59h16M495 647.59h16M527 647.59h16M590 647.59h16M622 647.59h16M686 647.59h16M161 649.08h15M208 649.08h32M256 649.08h32M479 649.08h16M511 649.08h16M622 649.08h32M97 650.57h32M145 650.57h16M176 650.57h32M352 650.57h16M431 650.57h16M224 652.06h16M320 652.06h16M606 652.06h32M161 653.55h15M320 653.55h16M256 655.03h16M320 655.03h16M479 655.03h16M208 656.52h16M256 656.52h16M304 656.52h16M415 656.52h32M495 656.52h16M240 658.01h16M304 658.01h16M654 658.01h16M256 659.5h16M208 660.99h16M272 660.99h32M415 660.99h16M256 662.48h32M622 662.48h16M320 663.96h16M415 663.96h16M527 663.96h32M606 663.96h16M176 665.45h16M447 665.45h32M606 665.45h16M161 666.94h15M224 666.94h16M272 666.94h16M431 666.94h16M511 666.94h16M622 666.94h16M495 668.43h16M527 668.43h16M415 669.92h16M208 671.41h16M240 671.41h16M272 672.9h16M224 674.38h16M320 674.38h16M65 675.87h16M224 677.36h16M256 677.36h16M320 677.36h16M415 677.36h16M224 678.85h16M495 678.85h16M543 678.85h16M654 678.85h16M686 678.85h16M240 680.34h16M272 680.34h16M415 680.34h16M479 680.34h16M638 680.34h16M224 681.83h32M320 681.83h16M670 681.83h16M224 683.32h16M606 683.32h16M240 684.8h16M272 684.8h16M415 684.8h16M272 686.29h16M224 687.78h16M288 687.78h32M447 687.78h16M511 687.78h16M49 689.27h16M256 689.27h16M320 689.27h16M463 689.27h16M511 689.27h16M543 689.27h16M670 689.27h16M240 690.76h32M431 690.76h16M543 690.76h16M575 690.76h15M224 692.25h16M352 692.25h16M224 693.73h16M495 693.73h16M288 695.22h16M543 695.22h16M208 696.71h32M256 696.71h48M463 696.71h16M511 696.71h16M606 696.71h16M702 696.71h16M240 698.2h16M224 699.69h16M272 699.69h32M543 699.69h16M638 699.69h16M686 699.69h16M176 701.18h16M272 701.18h16M702 701.18h16M176 702.67h16M240 702.67h16M272 702.67h32M415 702.67h16M622 702.67h16M686 702.67h16M288 704.15h16M479 704.15h16M670 704.15h32M97 705.64h16M161 705.64h15M192 705.64h16M224 705.64h16M288 705.64h16M543 705.64h16M575 705.64h15M272 707.13h16M527 707.13h16M479 708.62h16M272 710.11h32M336 710.11h16M383 710.11h16M670 710.11h16M702 710.11h16M304 711.6h32M368 711.6h15M415 711.6h32M272 713.08h16M431 713.08h32M479 713.08h48M559 713.08h16M670 713.08h16M256 714.57h16M304 714.57h32M192 717.55h16M622 717.55h16M670 717.55h16M511 719.04h16M622 719.04h16M670 719.04h16M256 720.53h16M415 720.53h16M527 720.53h16M654 720.53h16M272 723.5h16M415 723.5h32M463 723.5h32M575 723.5h31M686 723.5h16M495 724.99h16M527 724.99h16M686 724.99h16M240 726.48h16M288 726.48h48M352 726.48h16M479 726.48h16M543 726.48h16M590 726.48h16M638 726.48h48M65 727.97h16M208 727.97h16M431 727.97h16M686 727.97h16M304 729.46h16M463 729.46h16M670 729.46h32M81 730.95h16M129 730.95h16M176 730.95h16M272 730.95h16M352 730.95h31M463 730.95h16M606 730.95h16M161 732.44h15M272 732.44h16M654 732.44h16M129 733.92h16M192 733.92h16M447 733.92h16M495 733.92h16M606 733.92h16M224 735.41h16M447 735.41h16M495 735.41h16M590 735.41h16M686 735.41h16M208 736.9h16M256 736.9h48M463 736.9h16M495 736.9h16M622 736.9h16M702 736.9h16M208 738.39h16M256 738.39h16M415 738.39h16M463 738.39h16M575 738.39h15M654 738.39h16M208 739.88h16M415 739.88h48M590 739.88h32M670 739.88h16M272 741.37h16M495 741.37h16M527 741.37h16M320 742.85h16M431 742.85h32M495 742.85h16M527 742.85h32M575 742.85h15M638 742.85h16M670 742.85h32M208 744.34h16M479 744.34h16M511 744.34h16M543 744.34h16M575 744.34h31M176 745.83h16M224 745.83h16M527 745.83h79M622 745.83h16M288 747.32h16M479 747.32h16M511 747.32h16M559 747.32h16M686 747.32h32M176 748.81h32M463 748.81h16M495 748.81h32M606 748.81h32M192 750.3h16M527 750.3h16M575 750.3h15M686 750.3h16M288 751.79h16M415 751.79h32M606 751.79h64M686 751.79h16M288 753.27h16M447 753.27h32M590 753.27h16M638 753.27h32M686 753.27h16M192 754.76h16M256 754.76h16M288 754.76h16M415 754.76h16M479 754.76h16M527 754.76h16M622 754.76h16M65 756.25h16M256 756.25h16M288 756.25h16M368 756.25h15M161 757.74h15M208 757.74h16M240 757.74h16M97 759.23h16M161 759.23h15M240 759.23h16M336 759.23h16M431 759.23h16M511 759.23h32M145 760.72h16M368 760.72h15M463 760.72h16M97 762.2h16M129 762.2h16M511 762.2h16M65 763.69h32M145 763.69h16M208 763.69h32M272 763.69h16M304 763.69h48M368 763.69h15M81 765.18h32M129 765.18h32M192 765.18h16M256 765.18h32M320 765.18h16M368 765.18h15M431 765.18h16M527 765.18h16M81 766.67h32M161 766.67h15M224 766.67h16M304 766.67h32M447 766.67h16M511 766.67h32M145 768.16h16M192 768.16h48M288 768.16h16M511 768.16h16M113 769.65h16M208 769.65h32M256 769.65h32M304 769.65h16M336 769.65h32M431 769.65h16M479 769.65h16M49 771.14h16M192 771.14h16M240 771.14h32M320 771.14h16M368 771.14h15M511 771.14h16M65 772.62h16M161 772.62h15M192 772.62h16M224 772.62h16M320 772.62h16M463 772.62h16M49 774.11h16M97 774.11h32M161 774.11h47M288 774.11h16M352 774.11h16M431 774.11h16M527 774.11h16M81 775.6h16M224 775.6h16M320 775.6h16M479 775.6h16M575 777.09h15M654 777.09h32M65 778.58h16M224 778.58h16M256 778.58h16M288 778.58h32M527 778.58h16M97 780.07h16M145 780.07h16M352 780.07h16M415 780.07h32M463 780.07h16M113 781.56h16M161 781.56h15M192 781.56h16M81 783.04h16M176 783.04h16M336 783.04h16M368 783.04h15M479 783.04h16M511 783.04h16M129 784.53h32M176 784.53h32M304 784.53h32M511 784.53h16M145 786.02h16M176 786.02h16M224 786.02h32M288 786.02h16M479 786.02h16M97 787.51h16M129 787.51h16M208 787.51h16M240 787.51h16M304 787.51h16M447 787.51h16M479 787.51h16M65 789h32M176 789h32M320 789h16M447 789h16M511 789h16M463 790.49h16M511 790.49h16M622 790.49h16M654 790.49h16M65 791.97h16M224 791.97h16M65 793.46h16M208 793.46h32M288 793.46h16M479 793.46h16M702 793.46h16M81 794.95h16M176 794.95h16M208 794.95h16M256 794.95h32M304 794.95h16M352 794.95h16M383 794.95h16M479 794.95h16M511 794.95h16M543 794.95h16M208 796.44h16M176 797.93h16M272 797.93h16M304 797.93h32M447 797.93h16M81 799.42h32M192 799.42h32M272 799.42h32M479 799.42h16M161 800.91h15M336 800.91h16M288 802.39h32M336 802.39h16M192 803.88h32M654 803.88h16M161 805.37h15M192 806.86h16M272 806.86h16M511 806.86h32M606 808.35h16M686 808.35h16M543 809.84h16M654 809.84h16M176 811.32h16M256 811.32h16M415 811.32h16M511 811.32h32M272 812.81h16M543 812.81h16M495 814.3h32M176 815.79h32M288 815.79h16M543 815.79h16M463 817.28h16M543 817.28h16M208 818.77h16M447 818.77h16M272 820.26h32M447 820.26h16M479 820.26h16"/><path stroke="#fce2d3" d="M97 330.54h32M192 330.54h16M145 332.03h16M352 332.03h16M431 332.03h16M479 332.03h16M527 332.03h16M161 333.52h15M272 333.52h16M383 335.01h16M415 335.01h16M463 335.01h16M208 336.5h16M272 336.5h16M383 336.5h16M208 337.99h16M240 337.99h16M336 337.99h16M192 339.48h16M336 339.48h16M368 339.48h15M399 339.48h16M479 340.96h16M638 340.96h16M702 340.96h16M161 342.45h31M272 342.45h32M320 342.45h16M161 343.94h31M383 343.94h32M129 345.43h16M256 345.43h16M320 345.43h16M65 346.92h16M129 346.92h16M288 346.92h16M192 348.41h16M224 348.41h16M352 348.41h16M224 349.89h16M368 349.89h31M495 349.89h16M224 351.38h16M256 351.38h16M352 351.38h16M399 351.38h16M463 351.38h16M129 352.87h16M208 352.87h16M272 352.87h32M113 354.36h16M368 354.36h15M129 355.85h16M352 355.85h16M192 357.34h16M224 357.34h32M383 357.34h16M81 358.83h16M113 358.83h16M145 358.83h16M176 358.83h16M224 358.83h16M272 358.83h16M415 358.83h16M288 360.31h16M368 360.31h15M145 361.8h16M176 361.8h16M256 361.8h32M622 361.8h16M224 363.29h32M272 363.29h32M336 363.29h16M399 363.29h16M161 364.78h15M224 364.78h16M336 364.78h16M97 366.27h16M176 366.27h16M304 366.27h16M176 367.76h16M176 369.24h16M352 369.24h16M176 370.73h16M256 370.73h16M320 370.73h16M49 372.22h16M176 372.22h16M272 372.22h16M352 372.22h16M431 372.22h32M479 372.22h16M575 372.22h15M256 373.71h16M336 373.71h16M447 373.71h32M81 375.2h16M129 375.2h16M304 375.2h16M463 375.2h16M49 376.69h16M97 376.69h16M208 376.69h16M463 376.69h16M65 378.18h16M97 378.18h16M463 378.18h16M622 378.18h16M702 378.18h16M192 379.66h16M256 379.66h16M288 379.66h16M320 379.66h16M368 379.66h15M447 379.66h32M97 381.15h48M176 381.15h16M272 381.15h16M415 381.15h16M415 382.64h16M495 382.64h16M559 382.64h16M622 382.64h16M686 382.64h16M559 384.13h16M638 384.13h16M670 384.13h48M65 385.62h16M368 385.62h31M49 387.11h16M176 387.11h16M208 387.11h16M320 387.11h16M352 387.11h16M399 387.11h16M65 388.6h16M192 388.6h16M256 388.6h16M49 390.08h16M176 390.08h16M352 390.08h16M399 391.57h16M192 393.06h16M399 393.06h16M176 394.55h48M383 394.55h32M145 396.04h31M192 396.04h16M256 396.04h16M208 397.53h16M272 397.53h16M352 397.53h16M383 397.53h16M288 399.01h16M288 400.5h16M463 400.5h16M65 401.99h16M208 401.99h16M575 401.99h15M97 403.48h16M161 403.48h79M352 403.48h16M399 403.48h16M543 403.48h16M49 404.97h16M352 404.97h31M431 404.97h16M352 407.95h31M399 407.95h16M176 409.43h16M431 409.43h16M161 410.92h15M479 410.92h16M161 412.41h15M192 412.41h16M399 413.9h16M145 415.39h31M352 415.39h16M399 415.39h16M399 416.88h16M447 416.88h16M543 418.36h16M49 419.85h32M176 419.85h32M383 421.34h32M192 422.83h16M383 422.83h16M113 424.32h16M511 424.32h16M336 425.81h16M145 427.3h16M176 428.78h16M208 428.78h16M113 430.27h16M176 430.27h16M368 430.27h15M176 433.25h16M208 433.25h32M256 433.25h16M399 433.25h16M49 434.74h16M161 434.74h15M336 434.74h16M113 436.23h16M176 436.23h64M256 436.23h16M288 436.23h16M97 437.72h16M383 437.72h16M97 439.2h32M161 439.2h15M208 439.2h16M431 439.2h16M65 440.69h32M129 440.69h16M176 440.69h16M272 440.69h16M336 440.69h32M129 442.18h16M320 442.18h16M352 442.18h16M527 442.18h16M256 443.67h16M336 443.67h16M129 445.16h16M256 445.16h16M383 445.16h16M431 445.16h16M176 446.65h16M304 446.65h16M336 446.65h16M383 446.65h16M81 448.13h16M176 449.62h16M49 451.11h16M368 451.11h31M463 451.11h16M543 451.11h16M145 452.6h16M192 452.6h16M240 452.6h16M463 452.6h16M543 452.6h16M49 454.09h16M97 454.09h32M256 454.09h16M383 454.09h16M415 454.09h16M129 455.58h16M176 455.58h16M511 457.07h32M575 457.07h31M622 457.07h16M192 458.55h16M272 458.55h16M192 460.04h16M256 460.04h16M431 460.04h16M176 461.53h16M288 461.53h16M256 463.02h48M336 463.02h16M65 464.51h16M129 464.51h16M336 464.51h16M447 464.51h16M208 466h16M320 466h16M352 466h16M129 467.48h16M224 467.48h16M272 467.48h16M65 468.97h16M97 468.97h16M81 470.46h32M161 470.46h15M208 470.46h16M431 470.46h16M161 471.95h15M431 471.95h16M208 473.44h16M288 473.44h16M431 473.44h16M49 474.93h16M113 474.93h16M256 474.93h16M145 476.42h16M352 476.42h16M145 477.9h16M256 477.9h32M336 477.9h16M176 479.39h16M224 479.39h16M256 479.39h16M336 479.39h16M208 480.88h32M272 480.88h16M49 482.37h16M176 482.37h16M352 482.37h16M399 482.37h16M192 483.86h16M543 485.35h16M49 486.84h16M81 488.32h16M113 488.32h16M192 488.32h16M65 489.81h32M161 489.81h15M192 489.81h16M208 491.3h16M606 494.28h16M49 497.25h16M97 497.25h16M288 497.25h16M129 498.74h16M272 498.74h16M49 500.23h16M81 501.72h48M447 501.72h16M81 503.21h16M113 503.21h16M49 504.7h16M97 504.7h32M145 504.7h16M176 504.7h16M113 506.19h32M49 507.67h16M192 507.67h16M65 509.16h16M176 509.16h16M145 510.65h16M65 512.14h16M81 513.63h16M176 513.63h16M208 513.63h16M65 515.12h16M161 515.12h31M81 516.6h16M129 516.6h16M161 516.6h15M81 518.09h32M49 521.07h16M97 521.07h32M145 521.07h31M97 522.56h32M81 524.05h32M129 524.05h16M97 525.54h48M81 527.02h16M208 527.02h16M81 528.51h16M129 528.51h16M702 528.51h16M654 531.49h16M49 534.47h16M81 534.47h16M145 534.47h31M590 534.47h16M129 535.96h16M176 535.96h32M81 537.44h16M272 537.44h16M97 538.93h16M192 538.93h16M49 540.42h16M113 540.42h32M161 540.42h31M208 541.91h16M81 543.4h16M192 543.4h16M559 543.4h16M49 544.89h16M97 544.89h16M113 546.37h16M176 546.37h16M559 546.37h16M49 547.86h16M113 547.86h16M176 549.35h32M49 553.82h16M97 553.82h16M145 553.82h16M511 555.31h16M49 556.79h16M97 556.79h48M81 558.28h16M176 558.28h16M208 558.28h16M383 558.28h16M161 559.77h15M208 559.77h16M383 561.26h16M479 561.26h16M638 561.26h16M49 562.75h16M81 562.75h16M129 562.75h16M208 565.72h16M208 567.21h16M431 567.21h16M176 568.7h16M352 568.7h16M49 570.19h16M145 570.19h47M495 570.19h32M65 571.68h32M288 571.68h16M447 571.68h16M543 571.68h16M97 573.17h16M129 573.17h16M256 573.17h16M288 573.17h16M81 574.66h16M192 574.66h16M415 574.66h16M463 574.66h16M606 574.66h16M176 576.14h16M208 576.14h16M415 576.14h16M590 576.14h16M49 577.63h16M129 577.63h16M511 577.63h16M590 577.63h16M638 577.63h16M702 577.63h16M113 579.12h16M145 579.12h16M192 579.12h16M288 579.12h16M575 579.12h15M606 579.12h16M113 580.61h16M431 582.1h16M543 582.1h16M192 583.59h32M495 583.59h16M81 585.08h16M511 585.08h16M670 585.08h16M81 586.56h16M192 586.56h16M224 586.56h16M431 586.56h16M479 586.56h16M654 586.56h32M447 588.05h32M543 588.05h32M590 588.05h16M670 588.05h16M447 589.54h32M495 589.54h32M559 589.54h16M622 589.54h48M224 591.03h16M415 591.03h16M622 591.03h16M65 592.52h16M129 592.52h32M224 594.01h16M288 594.01h16M654 594.01h16M702 594.01h16M288 595.49h16M543 595.49h16M702 595.49h16M447 596.98h16M559 596.98h16M590 596.98h16M670 596.98h16M479 598.47h16M670 598.47h16M702 598.47h16M320 599.96h16M431 599.96h16M511 599.96h16M575 599.96h15M606 599.96h32M686 601.45h32M304 602.94h16M463 602.94h16M495 602.94h16M606 602.94h16M654 602.94h16M702 602.94h16M415 604.43h16M447 604.43h32M527 604.43h16M590 604.43h32M272 605.91h16M431 605.91h16M463 605.91h16M590 605.91h16M622 605.91h16M272 607.4h16M415 607.4h32M511 607.4h16M622 607.4h16M654 607.4h16M224 608.89h16M431 608.89h16M479 608.89h16M527 608.89h16M240 610.38h16M479 610.38h16M606 610.38h16M638 610.38h16M686 610.38h16M256 611.87h16M415 611.87h16M575 611.87h31M686 611.87h32M495 613.36h16M559 613.36h16M590 613.36h16M622 613.36h16M654 613.36h16M288 614.84h16M447 614.84h32M670 614.84h16M304 616.33h16M431 616.33h16M527 616.33h32M654 616.33h16M686 616.33h16M447 617.82h16M479 617.82h16M511 617.82h16M559 617.82h16M256 619.31h16M447 619.31h32M559 619.31h16M606 619.31h16M654 619.31h16M415 620.8h32M670 620.8h32M288 622.29h16M447 622.29h16M527 622.29h32M606 622.29h16M272 623.78h16M304 623.78h16M447 623.78h32M511 623.78h16M606 623.78h16M686 623.78h16M431 628.24h16M590 628.24h32M638 628.24h16M288 629.73h16M320 629.73h16M415 629.73h16M495 629.73h16M527 629.73h16M590 629.73h16M224 631.22h16M543 631.22h16M702 631.22h16M447 632.71h32M590 632.71h16M654 632.71h16M511 634.2h16M575 634.2h31M686 634.2h16M81 635.68h16M256 635.68h16M288 635.68h16M447 635.68h64M559 635.68h16M176 637.17h16M415 637.17h16M559 637.17h31M606 637.17h16M463 638.66h64M575 638.66h15M81 640.15h16M176 640.15h16M352 640.15h16M161 641.64h15M415 641.64h16M479 641.64h16M670 641.64h32M479 643.13h16M638 644.61h16M415 646.1h16M479 646.1h32M288 647.59h16M431 647.59h16M543 647.59h16M670 647.59h16M336 649.08h16M463 649.08h16M527 649.08h16M606 649.08h16M654 649.08h32M702 649.08h16M65 650.57h16M447 650.57h16M511 652.06h32M559 652.06h16M590 652.06h16M654 652.06h16M431 653.55h16M479 653.55h16M511 653.55h16M654 653.55h16M304 655.03h16M447 655.03h16M447 656.52h16M479 656.52h16M511 656.52h16M543 656.52h16M702 656.52h16M431 658.01h16M304 659.5h32M463 659.5h32M527 659.5h32M256 660.99h16M415 662.48h16M511 662.48h32M606 662.48h16M256 663.96h16M495 663.96h16M686 663.96h32M415 665.45h32M543 665.45h16M622 665.45h16M654 666.94h16M304 668.43h16M479 669.92h16M288 671.41h16M256 672.9h16M288 672.9h16M527 672.9h16M272 674.38h48M145 675.87h16M272 677.36h16M431 678.85h16M463 678.85h32M622 678.85h16M224 680.34h16M368 680.34h15M447 680.34h16M511 680.34h16M622 680.34h16M686 680.34h16M304 681.83h16M383 681.83h16M463 681.83h16M256 683.32h16M431 683.32h32M256 686.29h16M288 686.29h48M463 686.29h16M256 687.78h16M415 687.78h16M495 687.78h16M543 687.78h16M638 687.78h16M670 687.78h16M224 689.27h16M288 689.27h16M527 689.27h16M176 690.76h16M288 690.76h16M320 690.76h16M447 690.76h32M65 692.25h16M129 692.25h16M336 692.25h16M256 693.73h16M527 693.73h16M590 693.73h16M256 695.22h16M431 696.71h32M479 696.71h16M527 696.71h16M575 696.71h31M176 698.2h16M224 698.2h16M256 698.2h32M176 699.69h16M224 701.18h16M527 701.18h16M622 701.18h16M670 701.18h16M559 702.67h16M670 702.67h16M176 704.15h16M447 704.15h16M543 704.15h16M702 704.15h16M336 705.64h16M399 705.64h16M224 707.13h16M288 707.13h32M447 707.13h16M495 707.13h32M272 708.62h48M463 708.62h16M511 708.62h16M543 708.62h16M622 708.62h16M670 708.62h16M368 710.11h15M447 711.6h16M495 711.6h48M559 711.6h16M686 711.6h16M686 713.08h16M272 714.57h16M702 714.57h16M272 716.06h16M415 716.06h16M463 716.06h16M511 716.06h16M543 716.06h16M654 716.06h16M702 716.06h16M272 717.55h16M304 717.55h32M415 717.55h16M543 717.55h32M702 717.55h16M415 719.04h16M543 719.04h16M575 719.04h15M638 719.04h32M272 720.53h16M479 720.53h16M543 720.53h16M622 720.53h16M240 723.5h16M304 724.99h16M431 724.99h16M606 724.99h32M447 726.48h16M622 726.48h16M431 729.46h16M495 729.46h32M575 729.46h15M97 730.95h16M288 730.95h16M288 732.44h32M479 732.44h16M543 732.44h16M575 732.44h15M670 732.44h48M113 733.92h16M431 735.41h16M479 735.41h16M543 735.41h16M575 735.41h15M638 735.41h16M415 736.9h16M479 736.9h16M511 736.9h48M575 736.9h31M654 736.9h48M511 738.39h16M638 738.39h16M702 738.39h16M527 739.88h16M638 739.88h16M447 741.37h16M479 741.37h16M559 741.37h47M638 741.37h48M702 741.37h16M654 742.85h16M288 744.34h16M495 744.34h16M559 744.34h16M654 744.34h32M208 745.83h16M479 745.83h16M638 745.83h48M272 747.32h16M447 747.32h16M527 747.32h16M638 747.32h48M479 748.81h16M590 748.81h16M638 748.81h32M431 750.3h32M479 750.3h16M638 750.3h32M543 751.79h16M575 751.79h15M479 753.27h16M543 753.27h16M606 753.27h16M431 754.76h16M638 754.76h16M383 756.25h16M81 757.74h16M113 757.74h16M145 757.74h16M224 757.74h16M272 757.74h16M320 757.74h16M352 757.74h16M383 757.74h16M431 757.74h16M511 757.74h16M113 760.72h16M161 760.72h15M208 760.72h64M415 760.72h32M224 762.2h16M288 762.2h16M383 762.2h16M49 763.69h16M113 763.69h16M176 763.69h16M256 763.69h16M352 763.69h16M383 763.69h16M479 763.69h16M511 763.69h16M65 765.18h16M113 765.18h16M161 765.18h15M224 765.18h16M383 765.18h16M49 766.67h16M145 766.67h16M176 766.67h32M256 766.67h16M288 766.67h16M368 766.67h31M81 768.16h16M240 768.16h16M320 768.16h16M81 769.65h16M145 769.65h16M320 769.65h16M113 771.14h16M145 771.14h16M81 772.62h32M145 772.62h16M256 772.62h16M304 772.62h16M336 772.62h47M447 772.62h16M479 772.62h16M511 772.62h16M590 772.62h16M368 774.11h15M479 774.11h16M97 775.6h16M256 775.6h16M304 775.6h16M336 775.6h16M383 775.6h16M463 777.09h32M590 777.09h16M49 778.58h16M81 778.58h32M129 778.58h16M176 778.58h32M336 778.58h16M256 780.07h48M368 780.07h15M399 780.07h16M65 781.56h16M129 781.56h32M176 781.56h16M208 781.56h16M256 783.04h16M97 784.53h32M208 784.53h16M272 784.53h16M368 784.53h15M479 784.53h16M65 786.02h16M97 786.02h48M272 786.02h16M81 787.51h16M192 787.51h16M288 787.51h16M399 787.51h16M97 789h16M129 789h16M161 789h15M208 789h16M463 789h32M479 790.49h16M81 791.97h16M192 791.97h16M240 791.97h16M272 793.46h16M97 794.95h16M161 794.95h15M192 794.95h16M368 794.95h15M49 796.44h16M81 796.44h32M129 796.44h16M192 796.44h16M240 796.44h16M304 796.44h48M368 796.44h15M447 796.44h16M575 796.44h15M65 797.93h16M97 797.93h16M129 797.93h16M192 797.93h48M256 797.93h16M288 797.93h16M368 797.93h15M49 799.42h16M161 799.42h15M256 799.42h16M352 799.42h31M81 802.39h16M113 802.39h16M145 802.39h16M176 802.39h32M224 802.39h32M272 802.39h16M320 802.39h16M479 802.39h16M447 803.88h16M543 803.88h16M606 803.88h16M463 806.86h16M686 806.86h16M176 808.35h32M431 808.35h48M208 809.84h16M415 809.84h16M559 809.84h16M543 811.32h16M638 811.32h16M702 811.32h16M256 812.81h16M431 812.81h16M463 812.81h16M511 812.81h16M590 812.81h16M638 812.81h16M686 812.81h16M415 814.3h16M447 814.3h16M638 814.3h32M463 815.79h32M575 815.79h15M606 815.79h16M638 815.79h16M702 815.79h16M256 817.28h16M415 817.28h32M702 817.28h16M192 818.77h16M670 818.77h16M415 820.26h16"/><path stroke="#fddbc7" d="M49 330.54h16M129 330.54h16M176 330.54h16M288 332.03h16M145 333.52h16M336 335.01h16M606 335.01h16M161 336.5h15M320 336.5h16M304 337.99h16M352 337.99h16M415 337.99h16M447 337.99h16M145 339.48h16M320 339.48h16M495 339.48h16M511 340.96h16M670 340.96h16M81 342.45h16M113 342.45h16M145 342.45h16M208 342.45h16M368 342.45h15M511 342.45h16M49 343.94h16M288 343.94h16M352 343.94h31M49 345.43h16M208 345.43h32M288 345.43h16M399 345.43h16M256 346.92h16M352 346.92h16M383 346.92h16M383 348.41h16M49 349.89h16M176 349.89h16M208 349.89h16M240 349.89h32M288 349.89h16M463 349.89h16M49 351.38h16M145 351.38h31M208 351.38h16M288 351.38h16M81 352.87h16M113 352.87h16M224 352.87h16M320 352.87h16M463 352.87h16M97 354.36h16M161 354.36h15M208 354.36h16M399 354.36h16M65 355.85h16M97 355.85h16M145 355.85h16M368 355.85h15M399 355.85h16M463 355.85h16M288 357.34h16M463 357.34h16M49 358.83h16M129 358.83h16M161 358.83h15M240 358.83h16M399 358.83h16M192 360.31h16M399 360.31h16M192 361.8h16M288 361.8h16M97 363.29h32M161 363.29h15M145 364.78h16M240 364.78h32M368 364.78h15M431 364.78h16M161 366.27h15M208 366.27h16M288 366.27h16M336 366.27h16M97 367.76h16M145 367.76h31M399 367.76h16M49 369.24h16M97 369.24h16M208 369.24h16M192 370.73h16M81 372.22h32M383 372.22h16M463 372.22h16M81 373.71h16M145 373.71h16M288 373.71h16M352 373.71h16M383 373.71h16M65 375.2h16M97 375.2h16M272 375.2h32M320 375.2h16M65 376.69h16M161 376.69h15M256 376.69h16M288 376.69h16M113 378.18h16M336 378.18h16M399 378.18h16M145 379.66h31M399 379.66h16M65 381.15h32M145 381.15h16M399 381.15h16M606 384.13h16M654 384.13h16M192 387.11h16M383 388.6h16M113 390.08h16M192 390.08h16M368 390.08h15M49 391.57h16M192 391.57h16M145 393.06h16M272 393.06h16M304 393.06h16M352 393.06h31M145 397.53h16M176 397.53h16M208 399.01h16M129 400.5h32M224 400.5h16M145 401.99h16M129 403.48h16M256 403.48h16M208 404.97h16M176 406.46h16M208 406.46h16M399 406.46h16M176 407.95h16M49 410.92h32M97 410.92h16M129 410.92h16M224 410.92h16M511 410.92h16M352 412.41h16M81 413.9h16M176 413.9h16M129 416.88h16M161 416.88h15M352 416.88h16M176 418.36h16M368 418.36h31M81 419.85h48M352 419.85h16M161 422.83h15M352 422.83h16M97 424.32h16M129 424.32h16M145 425.81h16M176 425.81h16M208 425.81h16M352 425.81h16M192 427.3h16M208 430.27h16M161 433.25h15M97 434.74h16M224 434.74h16M352 434.74h16M399 434.74h16M399 436.23h16M81 437.72h16M145 437.72h16M49 439.2h16M129 439.2h32M336 439.2h47M383 440.69h16M49 442.18h32M256 442.18h16M368 442.18h15M81 443.67h16M208 443.67h16M352 443.67h16M81 445.16h16M145 445.16h16M320 445.16h16M368 445.16h15M399 445.16h16M81 446.65h16M129 446.65h16M208 446.65h32M272 446.65h16M352 446.65h16M97 448.13h16M256 448.13h16M368 448.13h31M81 449.62h16M288 449.62h16M368 449.62h15M81 451.11h16M129 451.11h16M65 452.6h16M368 452.6h15M176 454.09h16M49 455.58h16M352 455.58h16M176 457.07h16M304 457.07h16M654 457.07h16M702 457.07h16M49 458.55h16M208 458.55h32M145 460.04h16M224 460.04h16M368 460.04h15M161 461.53h15M256 461.53h16M320 461.53h32M81 463.02h16M49 464.51h16M368 466h15M97 467.48h32M176 467.48h16M288 467.48h16M383 467.48h16M208 468.97h16M352 468.97h16M399 468.97h16M336 470.46h16M288 471.95h16M176 473.44h16M224 473.44h16M352 473.44h16M97 474.93h16M399 474.93h16M81 476.42h16M368 476.42h15M65 477.9h16M383 477.9h16M49 479.39h16M97 479.39h16M129 479.39h16M97 480.88h32M399 480.88h16M65 482.37h32M113 486.84h32M49 489.81h16M97 489.81h16M145 489.81h16M81 491.3h16M129 491.3h47M49 492.79h16M81 492.79h16M145 492.79h31M479 494.28h16M670 494.28h16M81 495.77h16M129 495.77h16M113 497.25h16M145 497.25h16M176 497.25h16M65 498.74h32M97 500.23h32M129 501.72h16M129 503.21h16M65 504.7h32M129 504.7h16M65 507.67h16M129 507.67h16M129 509.16h16M65 510.65h16M145 512.14h16M65 513.63h16M97 513.63h16M129 513.63h32M97 515.12h16M129 515.12h16M65 516.6h16M97 516.6h16M208 516.6h16M65 518.09h16M129 518.09h16M113 519.58h16M81 521.07h16M81 522.56h16M129 522.56h16M463 522.56h16M65 524.05h16M65 525.54h32M383 525.54h16M97 527.02h16M129 527.02h16M176 528.51h16M208 528.51h16M192 530h16M352 530h16M81 531.49h16M49 532.98h16M97 532.98h16M129 532.98h16M590 532.98h16M65 534.47h16M129 534.47h16M479 534.47h16M49 535.96h16M145 535.96h31M208 535.96h16M97 537.44h64M208 537.44h16M304 537.44h16M192 540.42h16M161 541.91h15M129 543.4h32M65 544.89h16M176 544.89h16M49 546.37h16M97 546.37h16M49 549.35h16M81 549.35h16M161 549.35h15M559 550.84h16M113 553.82h16M81 555.31h16M145 555.31h16M81 556.79h16M145 556.79h16M65 558.28h16M97 558.28h16M463 558.28h16M176 559.77h16M256 561.26h32M670 561.26h16M113 562.75h16M49 568.7h32M415 568.7h16M192 570.19h16M575 570.19h15M352 571.68h16M415 571.68h16M495 571.68h16M65 573.17h16M224 573.17h16M49 574.66h16M113 574.66h32M256 574.66h16M590 574.66h16M65 576.14h16M463 576.14h16M495 576.14h16M575 576.14h15M161 577.63h63M161 579.12h15M431 579.12h16M65 580.61h16M97 580.61h16M415 580.61h16M304 582.1h16M145 583.59h16M463 583.59h16M670 583.59h16M129 585.08h16M431 585.08h16M129 586.56h16M272 586.56h16M495 586.56h16M543 586.56h16M606 586.56h16M686 586.56h16M415 588.05h16M606 588.05h16M654 588.05h16M686 588.05h16M431 589.54h16M527 589.54h32M575 589.54h31M272 591.03h16M431 591.03h48M702 591.03h16M256 594.01h16M431 594.01h32M575 594.01h31M686 594.01h16M415 595.49h32M590 595.49h16M686 595.49h16M495 596.98h16M606 596.98h16M431 598.47h16M495 598.47h16M606 598.47h16M447 599.96h16M590 599.96h16M638 599.96h48M702 599.96h16M415 601.45h16M447 601.45h16M511 601.45h16M559 601.45h16M638 601.45h16M527 602.94h16M575 602.94h15M686 602.94h16M431 604.43h16M479 604.43h32M559 604.43h16M304 605.91h16M415 605.91h16M606 605.91h16M670 605.91h16M304 607.4h16M463 607.4h16M590 607.4h16M686 607.4h16M256 608.89h16M304 608.89h16M638 608.89h16M224 610.38h16M256 610.38h16M495 610.38h48M622 610.38h16M670 610.38h16M495 611.87h32M606 611.87h16M479 613.36h16M575 613.36h15M256 614.84h16M431 614.84h16M511 614.84h16M559 614.84h16M463 616.33h32M559 616.33h16M670 616.33h16M415 617.82h16M463 617.82h16M527 617.82h16M606 617.82h16M590 619.31h16M702 619.31h16M511 620.8h32M638 620.8h32M575 622.29h31M670 622.29h16M702 622.29h16M224 623.78h16M256 623.78h16M479 623.78h16M527 623.78h32M590 623.78h16M654 623.78h16M415 628.24h16M479 628.24h16M511 628.24h16M702 628.24h16M463 629.73h16M686 629.73h16M622 631.22h32M670 631.22h32M638 632.71h16M447 634.2h16M415 635.68h16M606 635.68h16M495 637.17h16M527 637.17h16M702 637.17h16M224 638.66h16M272 638.66h16M415 638.66h48M590 638.66h48M686 638.66h16M590 641.64h16M463 644.61h16M511 644.61h16M511 646.1h16M463 647.59h16M575 647.59h15M431 649.08h32M575 649.08h31M368 650.57h15M368 652.06h15M415 652.06h16M463 652.06h32M543 652.06h16M575 652.06h15M256 653.55h16M463 653.55h16M575 653.55h15M622 653.55h32M670 653.55h16M495 655.03h16M559 656.52h16M590 656.52h16M670 656.52h16M463 658.01h32M113 659.5h16M224 659.5h16M272 659.5h16M336 659.5h16M415 659.5h16M495 659.5h16M463 660.99h16M495 660.99h32M447 662.48h16M495 662.48h16M463 663.96h16M622 663.96h16M288 665.45h16M479 665.45h16M511 665.45h16M590 665.45h16M638 665.45h16M670 665.45h16M288 666.94h16M463 666.94h16M495 666.94h16M256 668.43h16M288 668.43h16M288 669.92h16M495 669.92h16M543 669.92h16M272 671.41h16M415 671.41h32M463 671.41h16M527 671.41h16M320 672.9h16M495 672.9h16M256 674.38h16M447 674.38h16M511 674.38h16M49 675.87h16M256 678.85h16M511 678.85h32M495 680.34h16M559 680.34h16M670 680.34h16M702 680.34h16M447 681.83h16M590 681.83h16M702 681.83h16M463 683.32h16M702 683.32h16M256 684.8h16M463 684.8h16M511 684.8h16M638 684.8h16M670 684.8h16M224 686.29h16M431 686.29h16M527 687.78h16M606 687.78h32M304 689.27h16M447 689.27h16M479 689.27h32M575 689.27h15M606 689.27h16M654 689.27h16M702 689.27h16M479 690.76h16M511 690.76h32M176 692.25h16M415 693.73h16M463 693.73h32M543 693.73h16M495 695.22h16M654 695.22h16M192 696.71h16M304 696.71h16M415 696.71h16M638 696.71h32M304 698.2h16M256 699.69h16M415 699.69h16M479 699.69h16M702 699.69h16M415 701.18h64M543 701.18h16M638 701.18h16M686 701.18h16M431 702.67h16M527 702.67h32M590 702.67h16M638 702.67h32M431 704.15h16M463 704.15h16M511 704.15h32M559 704.15h16M638 707.13h16M559 708.62h16M654 708.62h16M304 710.11h16M463 711.6h16M670 711.6h16M415 713.08h16M463 713.08h16M543 713.08h16M638 713.08h16M288 714.57h16M431 714.57h48M495 714.57h48M670 714.57h16M559 716.06h16M638 716.06h16M686 716.06h16M288 717.55h16M479 717.55h16M527 717.55h16M638 717.55h16M686 717.55h16M272 719.04h16M320 719.04h16M495 719.04h16M161 720.53h15M431 720.53h16M495 720.53h32M670 720.53h16M702 720.53h16M256 723.5h16M304 723.5h16M447 723.5h16M495 723.5h80M670 723.5h16M702 723.5h16M511 724.99h16M543 724.99h16M431 726.48h16M511 726.48h32M575 726.48h15M97 727.97h32M176 727.97h16M288 729.46h16M590 729.46h32M415 732.44h16M495 732.44h16M527 732.44h16M622 732.44h32M97 733.92h16M415 735.41h16M511 735.41h16M113 736.9h16M638 736.9h16M145 738.39h16M431 738.39h16M527 738.39h16M606 738.39h16M479 742.85h16M638 744.34h16M606 745.83h16M606 747.32h16M415 748.81h16M527 748.81h16M575 748.81h15M415 753.27h16M511 753.27h32M575 753.27h15M511 754.76h16M590 754.76h32M49 757.74h16M97 757.74h16M176 757.74h16M256 757.74h16M336 757.74h16M606 757.74h16M176 759.23h16M65 760.72h16M97 760.72h16M129 760.72h16M176 760.72h16M336 760.72h16M399 762.2h16M161 763.69h15M240 763.69h16M176 765.18h16M240 765.18h16M288 765.18h16M399 765.18h16M511 765.18h16M240 766.67h16M49 768.16h32M97 768.16h32M176 768.16h16M352 768.16h16M65 769.65h16M97 769.65h16M129 769.65h16M383 769.65h32M97 771.14h16M129 771.14h16M208 771.14h32M129 772.62h16M176 772.62h16M272 772.62h16M383 772.62h16M145 774.11h16M336 774.11h16M49 775.6h16M113 775.6h48M352 775.6h16M224 777.09h16M113 778.58h16M145 778.58h16M383 780.07h16M97 781.56h16M224 781.56h16M288 781.56h16M320 781.56h32M368 781.56h15M447 781.56h16M65 783.04h16M97 783.04h32M288 783.04h16M399 783.04h16M65 784.53h16M336 784.53h16M304 786.02h16M368 786.02h15M161 787.51h31M256 787.51h16M336 787.51h16M368 787.51h15M113 789h16M304 789h16M368 789h31M559 790.49h16M113 791.97h16M304 791.97h32M81 793.46h48M176 793.46h32M352 793.46h16M113 794.95h32M399 794.95h16M176 796.44h16M256 796.44h16M145 797.93h16M336 797.93h32M383 797.93h16M145 799.42h16M176 799.42h16M383 799.42h16M479 800.91h16M65 802.39h16M161 802.39h15M383 802.39h32M431 803.88h16M495 803.88h16M527 803.88h16M559 803.88h16M622 803.88h16M686 803.88h16M447 805.37h16M415 806.86h48M495 806.86h16M543 806.86h16M670 806.86h16M511 808.35h16M622 808.35h16M447 809.84h16M495 809.84h16M575 809.84h15M670 811.32h16M479 812.81h16M463 814.3h16M686 814.3h16M415 815.79h48M670 815.79h16M447 817.28h16M479 817.28h16M606 817.28h48M415 818.77h16M463 818.77h16M495 818.77h16M543 818.77h16M495 820.26h32M575 820.26h15M606 820.26h16"/><path stroke="#fbceb6" d="M49 332.03h16M352 335.01h31M479 335.01h16M399 336.5h16M145 337.99h16M511 337.99h16M161 339.48h15M208 339.48h16M320 340.96h16M590 340.96h16M129 342.45h16M224 342.45h16M256 342.45h16M224 343.94h16M65 345.43h16M161 345.43h15M352 345.43h31M161 346.92h15M415 346.92h16M240 348.41h16M288 348.41h16M320 348.41h16M81 349.89h16M161 349.89h15M399 349.89h16M176 351.38h16M272 351.38h16M65 352.87h16M81 357.34h16M161 357.34h15M272 357.34h16M352 357.34h16M97 358.83h16M49 360.31h16M176 360.31h16M208 360.31h32M81 363.29h16M256 363.29h16M224 366.27h16M256 366.27h16M65 367.76h16M129 367.76h16M145 370.73h31M272 370.73h16M113 372.22h16M176 373.71h16M113 375.2h16M368 375.2h15M113 376.69h16M399 376.69h16M129 378.18h16M192 381.15h16M240 381.15h16M320 381.15h16M352 381.15h16M479 382.64h16M606 382.64h16M145 385.62h16M65 387.11h16M97 387.11h16M383 387.11h16M129 388.6h16M129 390.08h32M81 391.57h16M113 391.57h16M145 391.57h16M176 391.57h16M256 391.57h16M113 393.06h16M81 394.55h16M113 394.55h16M352 394.55h16M176 396.04h16M383 396.04h16M65 399.01h16M129 399.01h16M176 399.01h16M176 400.5h16M208 400.5h16M145 403.48h16M368 403.48h15M431 403.48h16M129 404.97h16M161 404.97h15M368 406.46h15M161 407.95h15M49 409.43h32M145 409.43h16M145 412.41h16M81 415.39h16M81 416.88h16M97 418.36h16M399 418.36h16M129 419.85h16M161 421.34h15M192 421.34h32M352 421.34h16M145 422.83h16M208 422.83h16M208 424.32h16M161 427.3h15M208 427.3h16M192 428.78h16M81 433.25h32M129 433.25h16M383 433.25h16M113 434.74h16M479 434.74h16M81 436.23h16M145 436.23h16M49 437.72h16M129 437.72h16M352 437.72h16M399 437.72h16M81 439.2h16M399 439.2h16M224 440.69h16M368 440.69h15M399 440.69h16M65 443.67h16M368 443.67h15M49 445.16h16M176 445.16h16M49 446.65h16M113 446.65h16M368 446.65h15M49 448.13h16M176 448.13h16M49 449.62h16M463 449.62h16M65 451.11h16M113 451.11h16M176 451.11h16M208 451.11h16M511 451.11h16M129 452.6h16M399 452.6h32M145 454.09h16M368 454.09h15M97 455.58h32M368 455.58h15M399 455.58h16M65 458.55h32M113 458.55h32M161 458.55h15M336 458.55h32M383 458.55h16M81 460.04h16M336 460.04h16M208 461.53h16M49 463.02h16M97 463.02h32M352 463.02h16M383 463.02h16M368 464.51h15M399 464.51h16M431 464.51h16M49 466h32M240 467.48h16M352 467.48h16M399 467.48h16M113 468.97h16M129 470.46h16M352 470.46h16M49 471.95h16M176 471.95h16M352 471.95h16M81 473.44h16M368 473.44h15M65 474.93h16M49 476.42h16M97 476.42h16M129 476.42h16M176 476.42h16M176 477.9h16M352 480.88h16M49 483.86h16M176 483.86h16M208 483.86h16M145 485.35h16M176 485.35h16M208 485.35h16M606 486.84h16M415 488.32h16M65 491.3h16M288 494.28h16M49 495.77h32M81 500.23h16M129 500.23h16M65 501.72h16M511 507.67h16M622 512.14h16M81 519.58h32M129 519.58h16M368 519.58h15M65 521.07h16M65 522.56h16M415 522.56h16M49 531.49h32M65 532.98h16M113 532.98h16M113 534.47h16M81 535.96h48M161 537.44h15M113 541.91h16M145 541.91h16M686 541.91h16M65 543.4h16M176 543.4h16M256 543.4h16M97 547.86h16M670 547.86h16M113 549.35h16M145 549.35h16M479 550.84h16M65 552.33h32M192 552.33h16M65 553.82h16M336 556.79h16M575 561.26h15M65 562.75h16M81 564.24h16M686 564.24h16M49 565.72h16M97 565.72h16M129 565.72h32M176 565.72h16M81 567.21h16M129 567.21h16M176 567.21h16M113 570.19h32M208 570.19h16M447 570.19h16M590 570.19h16M495 574.66h16M97 577.63h16M606 577.63h16M65 579.12h16M97 579.12h16M129 580.61h16M176 580.61h16M145 582.1h16M176 582.1h16M208 582.1h16M431 583.59h16M511 583.59h16M65 585.08h16M97 585.08h16M176 585.08h16M49 586.56h32M431 588.05h16M527 588.05h16M575 588.05h15M606 589.54h16M686 589.54h16M654 591.03h16M272 594.01h16M559 594.01h16M495 595.49h32M559 595.49h31M606 595.49h16M479 599.96h16M527 599.96h32M479 601.45h32M527 601.45h16M575 601.45h31M654 601.45h32M479 602.94h16M702 604.43h16M447 605.91h16M495 605.91h16M559 605.91h16M447 607.4h16M495 607.4h16M575 607.4h15M670 607.4h16M272 608.89h16M511 608.89h16M590 608.89h16M670 608.89h16M559 610.38h16M431 611.87h16M463 611.87h16M527 611.87h16M559 611.87h16M320 613.36h16M415 614.84h16M575 614.84h15M606 614.84h32M702 614.84h16M447 616.33h16M495 616.33h32M622 616.33h16M256 617.82h16M543 617.82h16M575 617.82h31M575 620.8h15M702 620.8h16M559 623.78h31M670 623.78h16M447 628.24h32M622 628.24h16M606 629.73h32M702 629.73h16M479 631.22h16M511 631.22h16M575 631.22h15M606 631.22h16M415 632.71h32M511 632.71h48M606 632.71h16M686 632.71h16M431 635.68h16M622 635.68h16M670 635.68h16M431 637.17h16M463 637.17h16M638 637.17h16M686 637.17h16M113 640.15h16M447 641.64h16M575 641.64h15M638 641.64h16M447 643.13h16M479 644.61h16M463 646.1h16M543 646.1h16M511 647.59h16M559 649.08h16M431 652.06h16M415 653.55h16M447 653.55h16M495 653.55h16M543 653.55h32M590 653.55h16M702 653.55h16M224 655.03h16M415 655.03h16M527 656.52h16M606 656.52h32M415 658.01h16M495 658.01h16M543 658.01h16M431 659.5h16M527 660.99h16M622 660.99h16M702 660.99h16M479 662.48h16M702 662.48h16M479 663.96h16M654 663.96h32M495 665.45h16M527 665.45h16M559 665.45h16M686 665.45h16M479 666.94h16M590 666.94h16M638 666.94h16M702 666.94h16M320 668.43h16M415 668.43h16M479 668.43h16M686 668.43h16M224 671.41h16M256 671.41h16M320 671.41h16M447 671.41h16M543 671.41h16M224 672.9h16M431 672.9h32M511 672.9h16M686 672.9h16M527 674.38h16M575 674.38h15M622 674.38h32M81 675.87h16M129 675.87h16M463 677.36h16M575 678.85h47M670 678.85h16M431 680.34h16M606 680.34h16M431 681.83h16M527 681.83h16M304 683.32h16M415 683.32h16M511 683.32h16M638 683.32h16M495 684.8h16M590 684.8h16M622 684.8h16M654 684.8h16M415 686.29h16M495 686.29h32M543 686.29h16M702 686.29h16M590 687.78h16M654 687.78h16M702 687.78h16M415 689.27h16M622 689.27h32M686 689.27h16M224 690.76h16M415 690.76h16M49 692.25h16M97 692.25h32M368 692.25h31M447 693.73h16M622 693.73h16M670 693.73h48M590 695.22h16M670 695.22h16M288 698.2h16M447 699.69h32M511 699.69h16M622 699.69h16M256 701.18h16M479 701.18h16M511 701.18h16M463 702.67h32M590 704.15h16M383 705.64h16M463 707.13h32M559 707.13h16M622 707.13h16M654 707.13h32M606 708.62h16M702 708.62h16M479 711.6h16M543 711.6h16M622 711.6h32M606 713.08h32M415 714.57h16M447 716.06h16M590 716.06h32M511 717.55h16M590 717.55h16M431 719.04h48M606 719.04h16M590 720.53h32M638 720.53h16M686 720.53h16M606 723.5h32M575 724.99h15M670 724.99h16M702 724.99h16M431 732.44h16M463 732.44h16M145 733.92h16M622 739.88h16M495 745.83h16M447 748.81h16M670 748.81h16M97 750.3h16M272 750.3h16M431 753.27h16M654 754.76h16M65 757.74h16M129 757.74h16M192 757.74h16M288 757.74h16M368 759.23h15M49 760.72h16M288 760.72h16M352 760.72h16M383 760.72h16M288 763.69h16M352 765.18h16M65 766.67h16M352 766.67h16M129 768.16h16M304 768.16h16M383 768.16h16M368 769.65h15M65 771.14h16M161 771.14h15M352 771.14h16M399 771.14h16M288 772.62h16M399 774.11h32M272 775.6h16M368 775.6h15M399 775.6h16M352 778.58h16M224 780.07h16M256 781.56h32M129 783.04h16M224 783.04h16M352 783.04h16M383 783.04h16M256 784.53h16M256 786.02h16M336 786.02h16M65 787.51h16M145 787.51h16M145 789h16M240 789h16M399 789h16M670 790.49h16M161 791.97h15M272 791.97h16M336 791.97h47M129 793.46h47M336 793.46h16M383 793.46h16M65 796.44h16M113 796.44h16M145 796.44h31M399 796.44h16M399 797.93h16M65 799.42h16M399 799.42h16M129 802.39h16M208 802.39h16M352 802.39h31M192 805.37h16M686 805.37h32M590 806.86h16M622 806.86h32M240 811.32h16M479 811.32h32M622 811.32h16M654 811.32h16M606 812.81h32M479 814.3h16M590 815.79h16M654 815.79h16M686 815.79h16M559 817.28h47M670 817.28h32M527 818.77h16M590 818.77h16M431 820.26h16M463 820.26h16M543 820.26h16M686 820.26h16"/><path stroke="#f8c0a4" d="M65 330.54h16M161 330.54h15M81 332.03h16M129 332.03h16M49 333.52h16M176 333.52h16M638 335.01h32M336 336.5h16M368 336.5h15M272 337.99h16M224 340.96h16M256 340.96h16M463 340.96h16M606 340.96h16M49 342.45h16M399 342.45h16M97 343.94h32M208 343.94h16M97 345.43h16M240 345.43h16M145 346.92h16M368 346.92h15M559 346.92h16M49 348.41h16M272 348.41h16M479 349.89h16M113 351.38h32M113 355.85h16M176 355.85h16M49 357.34h16M176 357.34h16M65 358.83h16M81 360.31h16M129 360.31h16M352 360.31h16M383 360.31h16M65 361.8h32M161 361.8h15M686 363.29h16M97 364.78h32M272 364.78h16M383 364.78h16M49 366.27h16M145 366.27h16M272 366.27h16M383 366.27h16M208 367.76h16M606 367.76h16M65 369.24h16M49 370.73h16M81 370.73h16M113 370.73h16M368 370.73h15M145 372.22h16M368 372.22h15M49 373.71h32M208 373.71h16M368 373.71h15M431 373.71h16M145 375.2h16M383 376.69h16M81 378.18h16M479 378.18h16M49 379.66h16M81 379.66h64M176 379.66h16M352 379.66h16M161 381.15h15M256 381.15h16M81 387.11h16M161 387.11h15M336 387.11h16M97 391.57h16M49 394.55h16M97 394.55h16M129 394.55h16M161 394.55h15M49 396.04h16M81 396.04h16M65 397.53h16M97 397.53h32M97 399.01h32M129 401.99h16M113 403.48h16M97 404.97h16M145 406.46h31M145 407.95h16M192 407.95h32M113 409.43h16M49 413.9h16M145 413.9h16M49 415.39h16M129 415.39h16M65 416.88h16M113 416.88h16M129 418.36h16M176 421.34h16M176 422.83h16M161 428.78h15M399 428.78h16M49 430.27h16M161 430.27h15M81 434.74h16M129 434.74h16M383 434.74h16M161 436.23h15M383 439.2h16M113 445.16h16M97 446.65h16M113 448.13h32M399 448.13h16M81 454.09h16M129 454.09h16M81 455.58h16M383 455.58h16M145 458.55h16M176 458.55h16M368 458.55h15M113 460.04h32M352 460.04h16M49 461.53h16M81 461.53h16M368 461.53h15M113 464.51h16M192 464.51h16M352 464.51h16M65 467.48h16M176 468.97h16M224 471.95h16M383 474.93h16M113 476.42h16M368 477.9h15M352 479.39h16M383 479.39h16M527 479.39h16M65 480.88h16M145 483.86h16M49 485.35h16M65 486.84h32M113 489.81h16M113 491.3h16M113 492.79h16M463 492.79h16M161 495.77h15M81 497.25h16M161 497.25h15M65 500.23h16M65 519.58h16M670 521.07h16M65 527.02h16M97 528.51h16M49 530h16M176 530h16M208 530h16M113 531.49h32M161 531.49h15M49 537.44h16M81 538.93h16M113 538.93h16M65 540.42h16M97 540.42h16M81 541.91h16M129 541.91h16M129 549.35h16M145 552.33h16M176 552.33h16M575 553.82h15M65 555.31h16M65 556.79h16M176 556.79h16M49 559.77h16M145 559.77h16M49 564.24h32M97 564.24h32M113 565.72h16M638 565.72h16M49 567.21h16M113 567.21h16M81 570.19h32M495 573.17h16M97 574.66h16M176 579.12h16M606 580.61h16M129 582.1h16M113 585.08h16M97 586.56h16M495 591.03h16M543 591.03h32M638 591.03h16M511 594.01h16M447 598.47h16M638 598.47h16M495 599.96h16M463 601.45h16M606 601.45h16M575 605.91h15M559 607.4h16M415 608.89h16M447 608.89h16M495 608.89h16M622 608.89h16M654 608.89h16M463 610.38h16M622 611.87h32M670 611.87h16M590 614.84h16M575 616.33h47M638 616.33h16M702 616.33h16M543 620.8h32M590 620.8h32M559 622.29h16M638 623.78h16M479 629.73h16M543 629.73h16M575 629.73h15M638 629.73h16M208 632.71h16M495 632.71h16M575 632.71h15M622 632.71h16M320 635.68h16M575 635.68h31M654 635.68h16M447 637.17h16M670 637.17h16M527 638.66h16M702 638.66h16M129 650.57h16M606 653.55h16M463 655.03h16M511 655.03h48M702 655.03h16M575 656.52h15M638 656.52h16M527 658.01h16M606 658.01h16M670 658.01h48M654 659.5h16M431 660.99h32M543 660.99h16M606 660.99h16M638 660.99h32M686 662.48h16M431 663.96h16M559 663.96h16M654 665.45h16M415 666.94h16M463 668.43h16M622 668.43h32M670 668.43h16M320 669.92h16M447 669.92h32M606 669.92h48M686 669.92h16M495 671.41h16M463 672.9h16M431 674.38h16M463 674.38h16M495 674.38h16M543 674.38h16M670 674.38h32M431 677.36h16M543 677.36h16M543 680.34h16M575 680.34h31M479 681.83h16M511 681.83h16M622 681.83h16M272 683.32h16M543 683.32h16M622 683.32h16M654 683.32h32M527 684.8h16M702 684.8h16M527 686.29h16M606 686.29h16M654 686.29h32M590 689.27h16M495 690.76h16M590 690.76h16M638 690.76h16M686 690.76h16M320 693.73h16M368 693.73h15M431 693.73h16M559 693.73h16M447 695.22h16M479 695.22h16M527 695.22h16M559 695.22h16M638 695.22h16M702 695.22h16M559 696.71h16M447 698.2h16M495 699.69h16M527 699.69h16M670 699.69h16M495 701.18h16M559 701.18h16M606 701.18h16M654 701.18h16M352 702.67h16M606 704.15h16M654 704.15h16M654 711.6h16M590 713.08h16M654 713.08h16M622 714.57h16M479 716.06h16M527 716.06h16M575 716.06h15M447 717.55h32M495 717.55h16M654 717.55h16M256 719.04h16M686 719.04h16M638 723.5h16M559 732.44h16M81 733.92h16M606 735.41h16M559 742.85h16M575 747.32h15M208 756.25h16M368 757.74h15M399 757.74h16M129 759.23h16M399 759.23h16M272 760.72h16M399 763.69h16M399 766.67h16M256 768.16h16M399 768.16h16M415 769.65h16M383 771.14h16M113 777.09h16M368 778.58h15M399 778.58h16M352 781.56h16M383 781.56h16M49 784.53h16M288 784.53h16M383 784.53h16M352 786.02h16M383 786.02h32M272 787.51h16M256 789h16M352 789h16M97 791.97h16M129 791.97h32M256 791.97h16M383 791.97h16M447 791.97h16M65 794.95h16M272 796.44h16M352 800.91h16M511 803.88h16M575 803.88h15M638 803.88h16M670 803.88h16M415 805.37h16M495 805.37h16M622 805.37h16M575 806.86h15M654 806.86h16M702 806.86h16M415 808.35h16M479 808.35h32M575 808.35h31M702 808.35h16M606 809.84h16M559 811.32h16M590 811.32h16M495 812.81h16M431 814.3h16M590 814.3h32M622 815.79h16M511 818.77h16M606 818.77h16M638 818.77h16M559 820.26h16"/><path stroke="#f6b293" d="M113 332.03h16M622 335.01h16M176 336.5h16M256 336.5h16M49 337.99h16M65 343.94h32M129 343.94h16M336 343.94h16M81 345.43h16M97 346.92h16M161 348.41h15M208 348.41h16M256 348.41h16M399 348.41h16M113 349.89h16M145 349.89h16M272 349.89h16M81 351.38h32M161 355.85h15M113 357.34h48M113 360.31h16M145 360.31h31M81 364.78h16M129 364.78h16M399 364.78h16M399 366.27h16M113 369.24h32M256 369.24h16M399 369.24h16M65 370.73h16M129 370.73h16M352 370.73h16M399 370.73h16M65 372.22h16M129 372.22h16M97 373.71h16M256 375.2h16M399 375.2h16M65 379.66h16M575 384.13h15M113 387.11h16M145 387.11h16M65 391.57h16M81 393.06h32M161 393.06h15M527 393.06h16M65 394.55h16M65 396.04h16M113 400.5h16M65 403.48h16M224 409.43h16M399 412.41h16M97 413.9h32M49 418.36h16M81 418.36h16M463 418.36h16M145 421.34h16M65 424.32h16M383 425.81h16M113 427.3h16M352 427.3h16M383 436.23h16M65 437.72h16M383 443.67h16M65 445.16h16M65 454.09h16M65 455.58h16M670 457.07h16M97 458.55h16M383 460.04h16M113 461.53h16M352 461.53h16M383 461.53h16M129 463.02h16M113 466h16M113 470.46h16M129 471.95h16M97 473.44h16M129 473.44h16M336 473.44h16M65 476.42h16M383 476.42h16M368 479.39h15M97 491.3h16M97 492.79h16M622 515.12h16M81 530h16M65 535.96h16M49 538.93h16M129 538.93h16M65 541.91h16M176 541.91h16M527 544.89h16M65 546.37h16M65 547.86h16M113 558.28h16M81 559.77h16M129 564.24h16M65 565.72h16M463 568.7h16M49 576.14h16M81 576.14h16M145 576.14h16M606 576.14h16M81 577.63h16M224 579.12h16M49 582.1h16M97 582.1h16M176 583.59h16M113 586.56h16M511 591.03h32M575 591.03h15M479 595.49h16M511 596.98h16M606 607.4h16M559 608.89h16M606 608.89h16M702 617.82h16M288 623.78h16M288 631.22h16M479 632.71h16M638 635.68h16M447 652.06h16M431 655.03h16M622 655.03h16M654 655.03h16M447 658.01h16M511 658.01h16M590 659.5h64M686 659.5h16M479 660.99h16M686 660.99h16M431 662.48h16M654 662.48h16M590 663.96h16M638 663.96h16M575 665.45h15M559 666.94h16M606 666.94h16M447 668.43h16M590 668.43h16M654 668.43h16M702 668.43h16M479 671.41h16M511 671.41h16M415 672.9h16M654 672.9h16M702 672.9h16M415 674.38h16M479 674.38h16M495 677.36h16M638 677.36h16M527 680.34h16M272 681.83h16M415 681.83h16M495 681.83h16M543 681.83h16M638 681.83h32M686 681.83h16M495 683.32h16M527 683.32h16M479 684.8h16M479 686.29h16M590 686.29h16M575 687.78h15M559 689.27h16M654 690.76h32M511 693.73h16M575 693.73h15M606 693.73h16M638 693.73h16M431 695.22h16M463 695.22h16M511 695.22h16M606 695.22h32M463 698.2h16M431 699.69h16M559 699.69h16M288 701.18h16M495 702.67h32M575 707.13h15M606 707.13h16M590 708.62h16M176 713.08h16M575 713.08h15M543 714.57h32M638 714.57h32M686 714.57h16M670 716.06h16M431 717.55h16M575 717.55h15M606 717.55h16M447 720.53h32M559 720.53h16M320 724.99h16M447 732.44h16M49 765.18h16M368 768.16h15M272 771.14h16M399 772.62h16M383 778.58h16M399 781.56h16M352 787.51h16M208 790.49h16M399 791.97h16M368 793.46h15M479 803.88h16M590 803.88h16M463 805.37h16M527 805.37h16M559 806.86h16M527 808.35h16M654 808.35h32M447 812.81h16M559 812.81h16M575 814.3h15M622 814.3h16M670 814.3h16M559 815.79h16M654 817.28h16M622 818.77h16M702 818.77h16"/><path stroke="#f4a582" d="M65 333.52h48M352 336.5h16M527 336.5h16M97 339.48h16M495 340.96h16M145 345.43h16M129 348.41h16M368 348.41h15M129 349.89h16M65 351.38h16M49 352.87h16M129 354.36h16M336 357.34h16M399 357.34h16M65 360.31h16M65 363.29h16M81 366.27h16M368 366.27h15M113 373.71h16M399 373.71h16M511 387.11h16M49 388.6h16M129 391.57h16M543 393.06h16M113 396.04h16M352 396.04h16M479 396.04h16M81 406.46h16M192 406.46h16M49 412.41h16M368 412.41h15M129 413.9h16M97 415.39h16M65 418.36h16M352 418.36h16M65 433.25h16M65 436.23h16M654 442.18h16M65 449.62h16M113 449.62h16M97 460.04h16M97 461.53h16M129 461.53h16M399 461.53h16M399 463.02h16M399 466h16M368 467.48h15M65 470.46h16M368 470.46h15M113 471.95h16M256 471.95h16M49 473.44h16M113 473.44h16M654 482.37h16M113 485.35h32M65 492.79h16M65 497.25h16M129 497.25h16M49 513.63h16M686 521.07h16M113 530h16M65 538.93h16M97 541.91h16M65 549.35h16M97 549.35h16M654 550.84h16M113 559.77h32M97 567.21h16M65 570.19h16M113 576.14h16M81 580.61h16M49 583.59h16M590 586.56h16M479 591.03h16M606 591.03h16M479 594.01h16M686 605.91h16M575 608.89h15M399 616.33h16M670 619.31h16M272 620.8h16M495 631.22h16M686 635.68h16M606 643.13h16M590 655.03h16M670 655.03h16M590 658.01h16M622 658.01h32M447 659.5h16M670 659.5h16M559 660.99h16M559 662.48h16M638 662.48h16M272 665.45h16M559 668.43h31M606 668.43h16M590 669.92h16M670 669.92h16M702 669.92h16M670 671.41h16M590 672.9h16M638 672.9h16M559 674.38h16M702 674.38h16M559 677.36h16M654 677.36h16M686 684.8h16M638 686.29h16M686 687.78h16M176 689.27h16M559 690.76h16M606 690.76h16M702 690.76h16M304 695.22h16M415 695.22h16M543 698.2h16M686 698.2h16M606 699.69h16M654 699.69h16M590 701.18h16M575 702.67h15M606 702.67h16M543 707.13h16M590 707.13h16M590 711.6h32M590 714.57h32M352 716.06h16M559 729.46h16M113 730.95h16M590 732.44h32M399 760.72h16M447 783.04h16M399 784.53h16M527 789h16M415 791.97h16M399 793.46h16M431 805.37h16M559 805.37h16M654 805.37h16M479 806.86h16M543 808.35h32M575 811.32h15M606 811.32h16M575 812.81h15M559 814.3h16M559 818.77h31"/><path stroke="#ec9475" d="M352 333.52h16M81 335.01h16M575 335.01h15M49 336.5h16M49 339.48h16M176 339.48h16M65 342.45h16M145 343.94h16M336 346.92h16M81 348.41h16M113 348.41h16M65 349.89h16M368 352.87h15M65 357.34h16M97 360.31h16M113 366.27h16M97 370.73h16M399 372.22h16M145 376.69h16M352 376.69h16M320 382.64h16M129 387.11h16M272 388.6h16M383 391.57h16M129 393.06h16M97 396.04h16M113 404.97h16M49 406.46h16M49 407.95h16M81 407.95h16M113 407.95h16M113 412.41h16M113 415.39h16M256 415.39h16M129 421.34h16M368 425.81h15M368 428.78h15M81 430.27h32M129 430.27h16M352 433.25h16M65 434.74h16M447 440.69h16M65 446.65h16M192 448.13h16M129 449.62h16M399 458.55h16M65 460.04h16M399 460.04h16M65 463.02h16M176 466h16M81 471.95h32M383 473.44h32M399 477.9h16M399 479.39h16M65 483.86h16M113 483.86h32M81 485.35h32M638 489.81h16M495 528.51h16M97 576.14h16M81 583.59h32M415 583.59h16M686 591.03h16M192 592.52h16M654 611.87h16M415 616.33h16M622 637.17h16M590 646.1h16M559 658.01h16M559 659.5h31M702 659.5h16M670 660.99h16M543 662.48h16M575 662.48h15M559 669.92h31M622 671.41h32M686 671.41h32M559 672.9h31M606 672.9h16M670 672.9h16M590 674.38h32M511 677.36h16M622 677.36h16M670 677.36h48M606 681.83h16M575 683.32h15M606 684.8h16M686 686.29h16M559 687.78h16M622 690.76h16M81 692.25h16M288 692.25h16M415 698.2h16M527 698.2h16M702 698.2h16M575 699.69h31M575 701.18h15M575 704.15h15M256 707.13h16M575 711.6h15M575 714.57h15M240 736.9h16M49 744.34h16M447 777.09h16M511 805.37h16M543 805.37h16M638 805.37h16M686 818.77h16M670 820.26h16"/><path stroke="#e58268" d="M176 337.99h16M383 345.43h16M145 348.41h16M97 349.89h16M256 355.85h16M65 364.78h16M65 366.27h16M129 366.27h16M415 372.22h16M129 373.71h16M129 396.04h16M129 397.53h16M65 404.97h16M97 409.43h16M129 409.43h16M129 412.41h16M113 418.36h16M49 421.34h16M129 422.83h16M49 428.78h16M97 428.78h32M415 437.72h16M256 458.55h16M208 460.04h16M65 461.53h16M368 468.97h15M399 470.46h16M65 473.44h16M81 483.86h32M686 485.35h16M129 521.07h16M65 530h16M97 530h16M145 530h16M65 559.77h16M97 559.77h16M65 567.21h16M129 576.14h16M81 579.12h16M65 582.1h16M113 582.1h16M224 582.1h16M65 583.59h16M336 595.49h16M511 635.68h16M575 660.99h15M670 662.48h16M320 666.94h16M654 669.92h16M559 671.41h16M606 671.41h16M654 671.41h16M479 677.36h16M288 678.85h16M575 681.83h15M559 684.8h31M431 698.2h16M495 698.2h32M670 698.2h16M575 708.62h15M559 719.04h16M702 729.46h16M702 790.49h16M145 794.95h16M590 805.37h16M670 805.37h16M606 806.86h16M479 818.77h16"/><path stroke="#dd715a" d="M65 332.03h16M129 337.99h16M113 339.48h32M65 348.41h16M97 357.34h16M65 393.06h16M224 399.01h16M97 406.46h16M81 412.41h16M81 421.34h16M49 422.83h16M49 425.81h16M81 425.81h16M129 425.81h16M49 427.3h16M81 428.78h16M272 428.78h16M97 449.62h16M65 485.35h16M129 530h16M65 537.44h16M129 583.59h16M559 655.03h31M606 655.03h16M638 655.03h16M575 658.01h15M575 666.94h15M590 671.41h16M527 677.36h16M575 677.36h31M590 683.32h16M559 698.2h16M622 698.2h16M431 748.81h16M176 771.14h16M97 790.49h16M479 805.37h16"/><path stroke="#d6604d" d="M129 333.52h16M113 337.99h16M81 339.48h16M97 342.45h16M97 348.41h16M81 369.24h16M97 407.95h16M65 412.41h16M97 412.41h16M65 413.9h16M65 415.39h16M65 421.34h16M113 421.34h16M81 422.83h16M81 427.3h16M336 436.23h16M559 470.46h16M65 471.95h16M49 541.91h16M256 571.68h16M590 591.03h16M208 592.52h16M495 628.24h16M543 634.2h16M511 637.17h16M590 662.48h16M575 671.41h15M606 677.36h16M559 683.32h16M559 686.29h16M654 698.2h16M479 714.57h16M431 716.06h16M495 726.48h16M575 805.37h15"/><path stroke="#cd4e44" d="M399 330.54h16M97 336.5h16M65 428.78h16M129 428.78h16M383 470.46h16M368 471.95h15M686 683.32h16M575 686.29h15M479 698.2h16M368 704.15h15M383 759.23h16"/><path stroke="#c43c3c" d="M65 406.46h16M129 406.46h16M352 406.46h16M65 407.95h16M129 407.95h16M527 419.85h16M113 422.83h16M65 425.81h16M113 425.81h16M65 430.27h16M527 458.55h16M399 471.95h16M81 582.1h16M113 583.59h16M447 646.1h16M559 681.83h16M479 683.32h16M686 695.22h16M606 698.2h16M176 738.39h16M383 796.44h16"/><path stroke="#bb2a34" d="M97 421.34h16M97 422.83h16M97 425.81h16M97 427.3h16M129 427.3h16M65 448.13h16M479 672.9h16M670 696.71h16M113 766.67h16M383 787.51h16M606 805.37h16M670 812.81h16"/><path stroke="#b2182b" d="M129 336.5h16M65 337.99h32M65 339.48h16M527 434.74h16M479 445.16h16M399 446.65h16M192 485.35h16M431 736.9h16M622 809.84h16"/><path stroke="#9f1228" d="M81 336.5h16M65 422.83h16M65 427.3h16M463 608.89h16M575 698.2h31M575 720.53h15M224 744.34h16M176 769.65h16M65 775.6h16M447 811.32h16"/><path stroke="#8c0c25" d="M113 333.52h16M559 335.01h16M65 336.5h16M256 343.94h16M113 406.46h16M81 464.51h16M383 471.95h16M527 653.55h16"/><path stroke="#7a0622" d="M415 812.81h16"/><path stroke="#67001f" d="M113 336.5h16M638 698.2h16"/><path stroke="#67001f" d="M65 439.2h16M686 666.94h16"/></g><rect x="34" y="329.4" width="14.1" height="491.6" fill="#000"/><path d="M33.1 329.8H34.5M32.4 331H34.5M30.7 332.2H34.5M34 333H34.5M33 334.4H34.5M23 335.4H34.5M27.8 336.5H34.5M30.5 337.6H34.5M30.6 338.4H34.5M31.5 339.9H34.5M30.2 341.3H34.5M29.2 342.1H34.5M32.8 343.3H34.5M27.2 344H34.5M29.7 345.1H34.5M29.7 346.6H34.5M32.3 348.2H34.5M32 349.6H34.5M26.8 351.1H34.5M33.5 351.9H34.5M23 352.8H34.5M30.7 353.9H34.5M31.6 354.9H34.5M32.5 355.9H34.5M31 357.1H34.5M30.1 358.7H34.5M27.4 360.2H34.5M30.2 361.8H34.5M27.3 362.6H34.5M26 364.2H34.5M29.7 365.4H34.5M27.9 366.3H34.5M32.9 367.5H34.5M27.5 368.3H34.5M33.7 369.9H34.5M32.2 371.3H34.5M32.8 372.1H34.5M27 373.5H34.5M30.8 374.2H34.5M29.7 375H34.5M26.8 376H34.5M31.6 377.6H34.5M32.7 379.2H34.5M30.9 379.9H34.5M33.3 380.7H34.5M30.8 381.7H34.5M33.9 382.6H34.5M32.7 384.1H34.5M26.3 385.6H34.5M31.9 386.7H34.5M30.5 387.8H34.5M31.2 389.1H34.5M24.4 390.3H34.5M32.1 391.5H34.5M33.1 392.8H34.5M23 393.8H34.5M31.3 395H34.5M32.2 395.7H34.5M33.9 396.9H34.5M30.6 398.2H34.5M30.6 398.9H34.5M30.1 400H34.5M29.8 401H34.5M33.9 402.4H34.5M30.2 403.2H34.5M33 404.7H34.5M30.9 405.8H34.5M32.5 406.8H34.5M32.4 407.8H34.5M32.8 409H34.5M29 410.1H34.5M31.1 410.8H34.5M32.7 412.2H34.5M28.5 413.1H34.5M33.3 414H34.5M29.9 415.1H34.5M32.7 415.9H34.5M27.9 416.9H34.5M27.4 418H34.5M32.6 418.8H34.5M26.6 420.1H34.5M33.1 421.2H34.5M31.4 422H34.5M28.4 422.9H34.5M33.3 424.3H34.5M28.4 425.3H34.5M28.4 426.6H34.5M33.5 427.6H34.5M28.6 428.5H34.5M32.6 429.5H34.5M32.1 430.6H34.5M25.4 431.6H34.5M34 432.5H34.5M26.8 434H34.5M32.1 435.6H34.5M25.1 437.2H34.5M29.3 438.1H34.5M30.3 439.5H34.5M32.8 440.7H34.5M33.1 441.7H34.5M31 442.5H34.5M28.4 443.4H34.5M26 444.2H34.5M25.2 445.5H34.5M26.2 447H34.5M34 448.2H34.5M33.4 449.6H34.5M30.3 450.5H34.5M32.2 451.7H34.5M30.8 453.3H34.5M33 454.3H34.5M31.8 455.7H34.5M32.5 457.1H34.5M31.4 458H34.5M33.4 459.5H34.5M25.3 460.9H34.5M28.1 462.3H34.5M30.6 463H34.5M33.8 464.5H34.5M32.9 465.4H34.5M32.1 466.6H34.5M28.9 467.7H34.5M33.8 468.4H34.5M33.5 469.2H34.5M23 470H34.5M33.7 471.5H34.5M32.7 472.6H34.5M32.5 473.6H34.5M31 474.9H34.5M33.3 475.9H34.5M33.6 476.9H34.5M29.7 478.1H34.5M33.7 479.2H34.5M32.4 480H34.5M28.8 481.3H34.5M28.5 482.3H34.5M32.1 483.6H34.5M31.7 484.6H34.5M32.1 485.9H34.5M31.9 487.3H34.5M31.4 488.2H34.5M33.7 489.5H34.5M32.1 490.6H34.5M24.6 492.1H34.5M26.2 493.1H34.5M33 494.5H34.5M33.6 495.6H34.5M30.3 497.1H34.5M28.7 498.6H34.5M29.5 499.9H34.5M33.6 501.1H34.5M34 502.3H34.5M28.9 503.1H34.5M33.7 503.9H34.5M26.8 504.7H34.5M33.9 505.5H34.5M33.6 507H34.5M30.2 508.4H34.5M23.6 509.9H34.5M28.5 511.1H34.5M29 511.8H34.5M29.7 513H34.5M29.3 513.8H34.5M33.8 515.3H34.5M31.2 516.3H34.5M33.1 517.8H34.5M33 518.6H34.5M29.2 519.9H34.5M32.4 521H34.5M32.5 522H34.5M33.7 523.1H34.5M23 524.2H34.5M29.3 525.3H34.5M30 526.2H34.5M30.2 527.5H34.5M31.8 528.7H34.5M26.3 530H34.5M33.7 530.8H34.5M25.6 532.2H34.5M32 533.4H34.5M33.3 534.7H34.5M33.2 535.6H34.5M32.7 536.9H34.5M30 537.8H34.5M32.8 539.3H34.5M32.2 540.7H34.5M31 542.1H34.5M33.2 543.1H34.5M31.8 543.8H34.5M33.4 544.8H34.5M32.7 545.9H34.5M33.5 547.3H34.5M31.8 548.9H34.5M31.9 550.1H34.5M28.1 551.5H34.5M31.8 552.7H34.5M27.4 554.1H34.5M29.5 555.2H34.5M31.9 556.7H34.5M33.1 557.6H34.5M30.2 559H34.5M27.5 560.5H34.5M33.3 561.5H34.5M33.3 562.4H34.5M27.3 563.7H34.5M33 565.2H34.5M32.7 566.7H34.5M29.6 567.8H34.5M33.7 568.6H34.5M32.8 570H34.5M31 571H34.5M34 572.3H34.5M32.1 573.3H34.5M33.2 574.5H34.5M23.4 575.7H34.5M31.3 576.8H34.5M32.9 577.6H34.5M33.6 578.9H34.5M25.9 580.4H34.5M24.4 581.2H34.5M29 582.2H34.5M32.8 583.6H34.5M30.4 584.9H34.5M33 586.3H34.5M23 587.7H34.5M31.4 589H34.5M31.7 589.8H34.5M29.7 590.8H34.5M31.2 592.1H34.5M30.5 593H34.5M33.3 594.3H34.5M30.4 595.8H34.5M24.9 596.6H34.5M32.6 597.4H34.5M30.9 598.7H34.5M30.5 599.9H34.5M32.7 601.1H34.5M33.8 601.9H34.5M29.2 603.3H34.5M29.4 604.4H34.5M32.9 605.5H34.5M27 606.5H34.5M31.6 607.3H34.5M29 608.2H34.5M32.6 609.2H34.5M31.3 610.3H34.5M32.5 611.6H34.5M33.6 613.1H34.5M33.6 614.1H34.5M28.9 614.9H34.5M33.3 616.2H34.5M32.2 617.1H34.5M28.2 618.5H34.5M31 619.8H34.5M32.3 620.7H34.5M31.5 621.5H34.5M33.2 622.7H34.5M28.8 623.7H34.5M28.5 624.4H34.5M23.9 625.9H34.5M31.3 626.9H34.5M30.6 628.2H34.5M30.1 629.7H34.5M27.3 630.7H34.5M30.9 631.8H34.5M34 633.2H34.5M30.3 634.6H34.5M31.5 635.7H34.5M33.3 636.9H34.5M33.9 638H34.5M30.5 639.2H34.5M31.2 640.3H34.5M26.4 641.8H34.5M28.7 642.7H34.5M33.8 643.9H34.5M33.1 645H34.5M31.4 645.7H34.5M32.7 647.3H34.5M30 648.7H34.5M27.4 649.6H34.5M25.1 650.8H34.5M29.4 652.1H34.5M28.4 653.2H34.5M27.3 654.7H34.5M29.2 655.8H34.5M33.6 656.9H34.5M33.7 657.7H34.5M33.4 658.5H34.5M29.9 659.7H34.5M32.1 660.9H34.5M32.8 662.2H34.5M29.2 663.3H34.5M33.3 664.3H34.5M29.7 665.8H34.5M32.4 666.9H34.5M30.9 668.1H34.5M34 669H34.5M28.8 669.8H34.5M31.9 670.7H34.5M33.2 671.5H34.5M32.2 672.4H34.5M33.9 673.3H34.5M33.4 674.1H34.5M33.8 675.2H34.5M32 675.9H34.5M29.9 677H34.5M32.2 677.7H34.5M33.9 678.8H34.5M33.2 680.4H34.5M31.8 681.1H34.5M30.7 682H34.5M33.6 683H34.5M29.6 683.7H34.5M28.7 684.7H34.5M24.8 685.8H34.5M33 686.8H34.5M28.3 687.7H34.5M32.6 689H34.5M30.1 689.8H34.5M30.9 691.3H34.5M33.9 692H34.5M33.4 692.8H34.5M33.8 693.6H34.5M26.2 694.9H34.5M23 695.7H34.5M28.5 696.9H34.5M24.4 698.4H34.5M32.8 699.1H34.5M24 700.4H34.5M32.8 701.1H34.5M33.6 702.6H34.5M32.6 703.7H34.5M25 705H34.5M29.4 705.8H34.5M27.9 707.2H34.5M25.3 708.4H34.5M32.2 709.4H34.5M28.9 710.3H34.5M32.9 711.5H34.5M29.7 712.3H34.5M29.8 713.5H34.5M31.7 714.6H34.5M29.8 715.4H34.5M31.9 716.2H34.5M30.2 717.5H34.5M33.1 718.3H34.5M30.5 719.8H34.5M27 721.3H34.5M26.3 722.4H34.5M32.6 723.7H34.5M33.7 724.8H34.5M23.4 725.8H34.5M31.1 726.6H34.5M33.7 727.4H34.5M33.1 728.7H34.5M33.4 729.5H34.5M31 730.7H34.5M33.1 731.4H34.5M33.2 733H34.5M32.2 734.2H34.5M30.8 735.6H34.5M31.4 737H34.5M33.3 737.9H34.5M28.1 738.7H34.5M33.9 739.5H34.5M33.2 741H34.5M33.7 742.6H34.5M33.1 743.7H34.5M30.8 745.1H34.5M29.1 746.4H34.5M32.6 747.9H34.5M32 749.1H34.5M27.9 749.9H34.5M28.3 751.2H34.5M31.4 752H34.5M29.6 753.2H34.5M32.6 753.9H34.5M33.7 755.1H34.5M29.5 756.3H34.5M30.4 757.3H34.5M33.2 758.6H34.5M23 759.6H34.5M32.1 760.6H34.5M33.2 761.4H34.5M24.9 762.2H34.5M26.9 763.6H34.5M30.8 765.2H34.5M31.4 766.7H34.5M23.9 767.8H34.5M23.8 769.3H34.5M29 770.4H34.5M23 771.5H34.5M32.8 773H34.5M33.3 774.6H34.5M29.6 775.4H34.5M31.5 776.3H34.5M33.9 777.6H34.5M32.9 779H34.5M32.6 780.1H34.5M29.3 781.4H34.5M33.6 782.4H34.5M32.2 783.4H34.5M33.4 784.1H34.5M29.9 785.5H34.5M23 787.1H34.5M32.4 788.6H34.5M32.7 789.4H34.5M31.5 790.5H34.5M32.5 791.7H34.5M32.9 793.2H34.5M26.6 794.3H34.5M32.8 795.7H34.5M28.4 796.7H34.5M33.5 797.4H34.5M31.4 798.5H34.5M33.8 799.4H34.5M29 800.3H34.5M23 801.4H34.5M23 802.8H34.5M33.3 803.5H34.5M32.1 804.2H34.5M33.8 805.2H34.5M33.7 806.4H34.5M33 807.4H34.5M32.2 808.8H34.5M33.8 809.8H34.5M30.6 810.9H34.5M25.7 812.2H34.5M33 813.6H34.5M29.2 814.4H34.5M31.6 815.8H34.5M31.3 817.3H34.5M33.4 818.2H34.5M30.5 818.9H34.5M26 820.5H34.5M33.2 697.6H27V737H31.9M34.5 418.9H28.8V423H34.5M33.7 499.8H28.5V507.9H34.5M33.7 400.7H29.5V435.4H34.5M34.5 719.5H29.8V739.8H34.5M34.5 596.1H32.3V602.9H34.5M33 376.1H26.3V415.2H30.9M34.5 775.3H28.9V802.6H32.2M27.6 515.3H19.8V522.5H24M34.5 769.1H30.9V794.8H34.5M34.5 451.9H30.8V455.1H33.4M34.5 368.6H31.2V372.2H34.5M25.4 713.6H23.4V735.5H27.4M21.6 460.1H16.3V464.4H20.1M34.5 445.1H28.6V447.7H31.6M27.4 810.8H20.7V817.5H27.2M34.5 701H31.7V703.4H34.5M32.6 351.7H23.9V393.7H29.6M34.5 520.1H30.1V523.2H34.1M34.5 391.8H31.8V394.8H34.5M34.5 788.1H32.1V791.4H34.5M34.5 791.8H31.1V797.1H34.5M34.5 498.7H30.6V500.9H34.5M33.4 589H28.3V598.5H34M32.1 617.9H23.6V624.3H31.5M34.5 721.3H31.5V746.4H34.5M34.5 808H31.4V810.4H34.5M34.5 755.2H31.9V757.3H34.5M29.4 696.2H26.7V709.1H32.5M33.9 622.6H29.6V626.1H34.5M34.5 503.9H30.2V509.4H34.5M22.8 693H18.7V749.3H27.6M34.5 574.3H30.9V577.3H34.5M32.5 798.4H27.3V805H32.7M34.4 788.9H28.7V814.7H33.8M34.5 537.5H27.7V540.5H34.5M34.5 513.3H32.2V526.7H34.5M34.5 757H31.3V764.9H34.5M31.8 474.8H26.3V483.7H31.1M34.5 749.5H30.2V761.1H33.2M34.2 628.4H31.3V633.8H33.8M34.5 344.1H30.6V349H34.5M34.5 722.3H28.7V739.7H34.5M34.5 387.5H29.6V401H34.2M32.6 463.4H29.3V488.7H34.5M32.4 343.5H27.9V346.6H30M28.3 462.8H23.6V468.8H29.2M34.5 646.1H29.7V657.9H32.3M21.1 367.5H16V406.9H23.3M21.4 334.4H16V338.6H21M26.2 478.4H21.3V521.4H27.3M24.3 519.5H21.7V526.6H28.2M34.5 578H32.4V595.3H34.5M34.5 745.1H31.2V751.9H34.5M19.4 570.1H16V606.5H20.1M27.3 588H21V593.4H25.5M32.3 714H25.2V757.2H28.6M34.5 481.4H32.2V486.8H34.5M34.1 776.6H31.3V791.3H34.5M32.2 420.6H30V424.9H34.5M32.5 722.6H30.1V742.3H34.5M33.9 452H30V455.8H34.5M34.5 437.4H30.4V440.4H34.5M34.5 433.2H31.1V444.4H34.5M34.5 518.9H31.5V530.5H34.5M34.5 356.8H27.6V366.5H34.5M34.5 458.6H29.1V470H34.5M34.5 799.8H31.2V814.4H34.5M33.6 679H29.2V683.1H34.5M34.5 587.4H28.1V590.8H33.5M34.1 538H28.6V563.1H34.5M31.1 375.2H23.8V381.5H29.7M34.5 746.2H30.7V766.7H34.5M25.5 464.3H23.5V493.7H30.2M31.8 560.7H25.9V569.6H29.6M29.3 513.6H26.5V528H32.4M34.5 412.3H30.6V425.3H33.9M32.3 381.2H29.9V391.5H34.5M34.1 410.7H31.4V417.8H34.5M24.4 554.9H19.7V609.5H22.1M33.7 787.6H30.9V792.6H34.5M34.5 456.5H29.3V464.5H32.6M31.8 425.7H28.3V436.4H34.5M27.4 750.1H24.7V775.8H31.6M34.4 551.5H25.6V557.7H29.8M29.2 654.1H25.3V659.2H30.9M34.5 680.3H30.2V700.9H34.5M34.5 451.6H29.7V469.7H34.5M34.5 412.9H30V415.3H33.5M33.3 784.8H25.4V798.6H32.5M34.5 601.9H30.2V604.3H34.5M34.5 808.2H31.4V811.5H34.5M32.5 594.5H25.8V599.1H32M34.5 634.8H31.6V637.8H34.5M34.5 713.6H32.5V716H34.5M22.9 450.7H16V482.7H18M33.1 411.7H30.8V423.4H34.5M34.5 376.4H30.5V408.8H34.5M28.6 649H24.3V661.9H27.9M33.1 493H29.5V511.5H34.4M34.5 608.7H32V613H34.5M34.5 342.8H30.8V345H34.2M34.5 699.7H28.3V705.4H34.5M30 533.4H25.8V547.3H28.3M33.1 377.3H24.6V391.9H30.7M34.5 390.5H27.6V400.2H30.8M34.5 381.4H30.2V449.6H34.5M33.2 524.2H31.1V546H34.5M34.5 749.1H32.5V757.8H34.5M31 558.5H26.9V565.8H31M34.5 372.6H31.8V381H34.1M23.2 370.1H16V378.8H21.7M27.8 630.6H25.2V644.8H31.9M31.4 332.6H28.9V371.1H34.5M25.4 667.4H19.5V683.7H24.2M33.5 343.7H29.4V355.2H34.5M34.5 454.1H31V461.1H34.5M29.1 538.6H25.7V591.8H30.1M34.5 614.8H32.2V618.4H34.5M34.5 417.1H31.5V419.8H34.5M26.8 489.8H21.7V510.6H24M33 499.6H25.9V523.8H29.8M34.5 425.6H31.3V429.6H34.5M31.3 703.3H26V707.1H30.6M33.8 426.4H29V434.7H34.5M34.5 417.5H26.2V457.6H33.8M33.7 389H26.3V450.8H34.5M34.5 787.6H31.8V795.4H34.5M24.2 398.8H20.7V414.7H28.5M34.5 544.8H29.8V550.5H33.5M34.5 479.6H32.4V498.1H34.5M34.5 763.4H30.8V766.2H34.4M23 764.2H18.6V773.3H22.7M34.5 600.6H31.3V608.3H34.5M34.5 772.7H30.7V789.6H34.5M34.5 429.1H32.1V432.8H34.5M23.5 569.5H20.7V631H25.7M34.5 456H32.2V471.8H34.5M34.5 476.3H31.4V496.7H34.1M27.6 494.4H21.1V508.5H27.2M33.2 610.7H31.1V613.8H34.5M33.2 489.7H30.4V493.3H34.5M32.6 491.3H28.6V499.4H34M30.3 697.7H25V709.8H27.8M34.5 558.1H31.6V573H34.5M27.7 503.2H23.1V514.8H25.2M33.7 568.6H28.6V578.2H33.9M29 806.8H26.2V812H34.3M34.1 454.4H31.5V467.4H34.5M32.2 726H23.4V765.4H25.7M34.5 698.4H30.1V701.5H34.5M32.7 576.4H24.6V703.2H30.4M34.5 373.1H32.1V388.6H34.5M34.3 343.6H30.9V354.3H34.5M34.5 784.6H32.3V790.7H34.5M32.6 692.6H25.7V710.4H27.8M34.5 799H31.4V806.4H34.5M34.5 542.1H31.8V556.3H34.5M34.5 714.2H31.8V724.8H34.5M34.5 768.6H31.2V771.9H34.5M33.2 481.1H28.8V496.6H34.5M33.5 365.4H25V373.5H32.1M33 792.6H28V801.1H31.5M34.5 622.1H32V626.8H34.5M33.5 647.2H27.3V657.7H33.6M34.5 566.2H29.1V576.2H32.4M27.3 739.7H24.8V748H30.2M33.4 426.3H29.6V440.8H32.5M31.6 330H28.4V342.4H31.8M20.8 596H16.7V616.5H23.4M29.2 330.5H24.1V353.4H29.5M34.5 482.9H32.3V493.9H34.5M33.7 742.8H28.1V753.4H32.5M34.5 505.9H32.2V512.7H34.5M34.5 407H32.5V409.2H34.5M34.5 675.1H28.2V680.4H30.6M28.5 813.4H25.5V819.7H29.5M34.5 717.8H31.1V735H34.1M34.5 357.4H29.7V371.4H34.5M27.9 612H19.1V646.3H22.9M34.5 417.8H30.7V420.9H33.3M33 751.9H25.7V762.1H32.5M27.8 459.4H23.2V462.3H28.2M34.5 669.5H27V701.7H33.8M34.5 691.2H30.3V699.6H34.5M34.5 439.6H30.3V450.1H32.3M33.3 423.4H27.3V434.6H32.6M24.2 576.7H16.1V647H24.3M34.5 727.5H31.6V741.5H34.5M33.5 647.8H30V651.9H34.5M32.4 496.6H28.2V520H34.5M32.1 600.3H27.1V609H33.6M34.5 805.4H28.9V811.1H34.5M34.5 686.2H30.9V689.9H34.5M34.5 580.9H31.3V592.2H34.5M34.5 689.5H29.5V702.1H32.3M34.3 628H28.3V665.3H34.5M34.5 629.1H32.3V640H34.5M31.5 585.9H27.7V589.7H34.5M29 690.2H24.3V704H30M34.5 693.4H31.6V708.7H34.2M29.4 606.1H23.9V608.4H26.4M34 621.9H29.8V645.2H34.5M32.8 517.8H30.3V540H34.5M34.5 705.7H32.1V709.4H34.5M30 493.6H22.7V514.4H30.5M33 483.6H28.2V497.7H34.5M19.6 425.8H16V427.9H23.6M34.5 703.4H31.4V706.8H34.5M32.9 711.6H29.5V737H34.5M34.5 352.2H29.8V356.7H34.5M34.5 423.3H30.7V440.1H33.3M33.4 564.9H30.3V586H34M29.8 759.9H27.3V766.3H34.5M30.1 495H27.6V519.8H30.8M34.5 383.7H27.6V386H34.5M30.9 580.2H22.8V620.2H29.7M31.1 341.6H28.4V350.2H32.2M34.5 803.3H29.4V806.6H34.5M30 758H21.3V766H25.2M34.5 755.8H31.8V768.2H34.5M32.8 444.2H27.9V447.7H34.5M34.5 343.9H32V362.1H34.5M29.2 765.7H24V800.2H30.8M34.5 381.5H30.8V398.1H34.5M34.5 479.1H32.2V497.9H34.5M34.5 675.8H32.4V679.6H34.5M27.6 653.8H22.9V691.7H26.6M34.5 428.6H31.7V435.9H34.5M31.3 630.9H28.2V642.6H32M34.5 655.9H26.7V661.5H31.4M21.9 763.5H16.2V795.5H23.5M32.8 581.5H26.8V586.7H32M34.5 692H27.1V727.6H30.1M28.4 774.8H26.4V791.8H29.6M22.1 664.5H16V681.4H20.8M34.5 803.6H29.6V813.9H34.5M34.5 619.4H30.7V631.7H34.5M34.5 615.7H32.1V638.4H34.5M34.5 738.3H32V741.9H34.5M34.5 515.1H31.6V517.9H34.5M34.5 609.2H30.7V622.2H34.5M34.4 420.7H32.1V428.1H34.5M34.5 509.4H28.8V522H34.5M34.5 799.7H31.7V801.7H34.4M34.5 414.7H31.5V425.1H34.5M34.5 784.8H30.3V796.2H34.5M34.1 639.9H27.6V646.9H33.7M34.5 426.8H29.1V443.8H34.5M34.5 810.4H32.3V814.1H34.5M30.2 637.3H28.2V640.2H34.5M33.7 749.8H30.7V773.1H34.5M34.2 375.5H31.7V387.1H34.5M27.8 485.9H22.7V493.9H28.6M34.5 486.8H29.8V517.2H34.5M34.5 737.7H31.1V741.1H34.5M26.6 489.7H23.9V500.6H32M33.2 415.4H29.6V421.6H34.5M34.5 632.1H31.8V639.4H34.5M34.5 729.8H30V733.8H34.5M34.2 424.7H31.1V445.5H34.5M32.5 381.6H23.6V400.3H26.7M34.5 686.4H30.4V727.4H32.9M30.5 334.9H23V347.5H31.5M34.5 767.7H32.3V773.2H34.5M32.9 807.9H25V820.1H33M32.4 663.6H26.4V668.9H31.7M34.5 425.7H28.3V432.1H32.9M34.5 567.6H31.9V593.2H34.5M34.5 735.3H31.7V740H34.5M34.5 414H30.7V434.9H33.6M34.5 506.6H31.7V513.5H34.5M33.2 766.3H30.6V771.6H34.5M31.8 450.4H22.9V470H25.6M34.5 544.6H31.8V546.7H34.5M32.9 366.7H30.8V381.7H34.5M34.5 399.9H32V406.5H34.5M34.5 632.7H29.5V638H31.9M34.5 575.4H31.1V581H34.5M34.5 495.4H31V515.7H33.6M34.5 760.2H31.8V763.8H34.5M20.1 623.4H16.4V731.1H20.7M32.5 498.5H29V503.7H32.7M30.9 541H25.6V558.2H31.9M32 742.1H26.7V744.4H31.1M18.8 486H16.6V531.6H21.6M34.5 377.2H29.6V383.9H33.4M33.1 469.3H25.3V484H30.5M34.5 355.5H32.1V359.5H34.5M22.1 400.7H18.4V432.2H21.8M34.5 340.5H30.2V351.7H34.5M33.3 514.2H27.1V540.8H31M34.5 354.8H29.5V367.2H34.5M34.5 731.3H31.5V735.3H34.5M34.5 522.5H30.8V530.5H34.5M33.9 620.2H31.3V627.3H34.5M33.6 758.6H30.7V792.7H34.5M34.5 757.3H30.4V760.3H34.5M34.2 573H27.4V626.5H34M26.2 466.2H22.7V509.1H28.5" stroke="#000" stroke-width="1" fill="none"/><path d="M2.3 443.8V728.8M10.3 349.5V587M15.1 341V390.3M13.6 333.6V365.3M12 490V540M17.4 457.4V522.6M21 484V563M19.5 366V410M22 400V431M9.4 639V816M11.6 637V692.8M12.8 695V771.9M17.4 630V642M22 660V709M22 758V787M17 700V745M19 575V600M24 600V640M14.5 600V655M16.5 790V818M0 443.8H10.3M2.3 728.8H9.4M10.3 349.5H15.1M10.3 587H28M15.1 341H22M15.1 390.3H22M13.6 333.6H24M13.6 365.3H19.5M12 490H17.4M12 540H21M17.4 457.4H26M17.4 522.6H26M21 484H28M21 563H28M19.5 410H26M22 431H30M22 400H30M9.4 639H11.6M9.4 816H16.5M11.6 637H17.4M11.6 692.8H22M12.8 695H17M12.8 771.9H22M22 660H28M22 709H28M22 758H28M22 787H28M17 700H24M17 745H24M19 575H26M19 600H24M24 640H30M14.5 655H22M14.5 600H19M16.5 790H24M16.5 818H26" stroke="#000" stroke-width="1" fill="none"/><text x="726.6" y="548.8" font-size="16.7px" font-weight="bold">condition</text><g shape-rendering="crispEdges"><rect x="726.4" y="557.9" width="18.7" height="18.4" fill="#FBB4AE"/><rect x="726.4" y="576.3" width="18.7" height="18.4" fill="#B3CDE3"/><rect x="726.4" y="594.7" width="18.7" height="18.5" fill="#CCEBC5"/></g><g font-size="16.7px"><text x="750.2" y="572.5">ctrl</text><text x="750.2" y="590.8">IDHmut</text><text x="750.2" y="609.2">IDHwt</text></g></g>
<g id="panel-b"><path d="M945.3 34.2V388.7M1006.6 34.2V388.7M1129.3 34.2V388.7M1190.7 34.2V388.7M1252 34.2V388.7M901.8 52H1295M901.8 95H1295M901.8 138H1295M901.8 224H1295M901.8 267H1295M901.8 310H1295M901.8 353H1295" stroke="#eeeeee" stroke-width="1" fill="none"/><path d="M1067.8 34.2V388.7" stroke="#555" stroke-width="1.3" fill="none"/><path d="M901.8 181.5H1295" stroke="#666" stroke-width="1" fill="none"/><g fill="#66C2A5"><circle cx="924.4" cy="153.4" r="2.75"/><circle cx="927.9" cy="138.4" r="2.75"/><circle cx="934.4" cy="141.9" r="2.75"/><circle cx="934.4" cy="143.9" r="2.75"/><circle cx="940.9" cy="133.4" r="2.75"/><circle cx="949.4" cy="141.9" r="2.75"/><circle cx="950.4" cy="136.4" r="2.75"/><circle cx="953.9" cy="141.9" r="2.75"/><circle cx="957.4" cy="136.4" r="2.75"/><circle cx="972.4" cy="141.9" r="2.75"/></g><g fill="#FC8D62"><circle cx="975.4" cy="167.4" r="2.75"/><circle cx="980.9" cy="174.9" r="2.75"/><circle cx="991.4" cy="182.3" r="2.75"/><circle cx="997.3" cy="195.3" r="2.75"/><circle cx="1008.8" cy="208.8" r="2.75"/><circle cx="1019.8" cy="175.9" r="2.75"/><circle cx="1027.8" cy="232.8" r="2.75"/><circle cx="1037.8" cy="200.8" r="2.75"/><circle cx="1036.3" cy="247.3" r="2.75"/><circle cx="1035.3" cy="252.8" r="2.75"/><circle cx="1052.8" cy="229.3" r="2.75"/><circle cx="1072.8" cy="185.3" r="2.75"/><circle cx="1070.8" cy="248.8" r="2.75"/><circle cx="1099.3" cy="201.8" r="2.75"/><circle cx="1102.3" cy="252.3" r="2.75"/><circle cx="1093.8" cy="265.8" r="2.75"/><circle cx="1131.2" cy="280.3" r="2.75"/><circle cx="1146.2" cy="275.8" r="2.75"/><circle cx="1166.7" cy="290.3" r="2.75"/><circle cx="1162.7" cy="294.7" r="2.75"/><circle cx="1180.2" cy="368.2" r="2.75"/></g><g fill="#8DA0CB"><circle cx="1070.3" cy="137.4" r="2.75"/><circle cx="1089.8" cy="164.4" r="2.75"/><circle cx="1111.3" cy="128.9" r="2.75"/><circle cx="1148.2" cy="157.9" r="2.75"/><circle cx="1182.7" cy="99.9" r="2.75"/><circle cx="1211.2" cy="149.4" r="2.75"/><circle cx="1220.2" cy="96.4" r="2.75"/><circle cx="1219.2" cy="107.9" r="2.75"/><circle cx="1228.2" cy="103.4" r="2.75"/><circle cx="1255.1" cy="54.5" r="2.75"/><circle cx="1271.6" cy="61.4" r="2.75"/></g><circle cx="1315.5" cy="43.4" r="2.75" fill="#66C2A5"/><circle cx="1315.5" cy="56" r="2.75" fill="#FC8D62"/><circle cx="1315.5" cy="68.5" r="2.75" fill="#8DA0CB"/><g font-family="DejaVu Sans, Liberation Sans, sans-serif" fill="#555"><text x="1116" y="26.1" text-anchor="middle" font-size="11.3px">PCA plot (500 features used)</text><text x="945.3" y="397.9" text-anchor="middle" font-size="8px">−20</text><text x="1006.6" y="397.9" text-anchor="middle" font-size="8px">−10</text><text x="1068" y="397.9" text-anchor="middle" font-size="8px">0</text><text x="1129.3" y="397.9" text-anchor="middle" font-size="8px">10</text><text x="1190.7" y="397.9" text-anchor="middle" font-size="8px">20</text><text x="1252" y="397.9" text-anchor="middle" font-size="8px">30</text><text x="900.4" y="54.8" text-anchor="end" font-size="7.6px">15</text><text x="900.4" y="97.8" text-anchor="end" font-size="7.6px">10</text><text x="900.4" y="140.8" text-anchor="end" font-size="7.6px">5</text><text x="900.4" y="183.8" text-anchor="end" font-size="7.6px">0</text><text x="900.4" y="226.8" text-anchor="end" font-size="7.6px">−5</text><text x="900.4" y="269.8" text-anchor="end" font-size="7.6px">−10</text><text x="900.4" y="312.8" text-anchor="end" font-size="7.6px">−15</text><text x="900.4" y="355.8" text-anchor="end" font-size="7.6px">−20</text><text x="1097.5" y="414.3" text-anchor="middle" font-size="9.7px">PC1: 55.4%</text><text transform="translate(877 211.5) rotate(-90)" text-anchor="middle" font-size="9.7px">PC2: 12.6%</text><text x="1329.4" y="46.4" font-size="8px">ctrl</text><text x="1329.4" y="58.9" font-size="8px">IDHmut</text><text x="1329.4" y="71.5" font-size="8px">IDHwt</text></g></g>
<g id="panel-c"><path d="M1451.4 27.9V542.1M1581.8 27.9V542.1M1842.6 27.9V542.1M1973 27.9V542.1M1442.7 519H1975.4M1442.7 358.3H1975.4M1442.7 197.6H1975.4M1442.7 36.9H1975.4" stroke="#ebebeb" stroke-width="1.5" fill="none"/><path d="M1516.6 27.9V542.1M1647 27.9V542.1M1777.4 27.9V542.1M1907.8 27.9V542.1M1442.7 438.6H1975.4M1442.7 277.9H1975.4M1442.7 117.2H1975.4" stroke="#ebebeb" stroke-width="0.9" fill="none"/><path d="M1670.9 499.8h0M1753.1 297.9h0M1705.9 513.7h0M1692.2 512.8h0M1749.5 474.6h0M1741 431.1h0M1733.1 514.3h0M1664 491.3h0M1707.8 517.3h0M1706.4 480.3h0M1755.4 394h0M1688.4 514.6h0M1690.3 419.4h0M1706.4 482.7h0M1725.8 507.9h0M1664 490.9h0M1687.1 474.1h0M1761.3 478.1h0M1677 480.8h0M1718.8 498h0M1697.3 477.2h0M1734.7 466.7h0M1677 342.2h0M1677.3 389.2h0M1679 373.1h0M1681.8 497.1h0M1695.4 431.2h0M1685.2 382.7h0M1702.2 479.7h0M1699.2 467.3h0M1752.2 382.7h0M1698.2 446.9h0M1726.6 438.3h0M1704.5 518.2h0M1683 386.3h0M1685.7 427.6h0M1683.5 506.8h0M1698 472.5h0M1712.1 515.3h0M1727 449.4h0M1692.5 503.7h0M1689.4 448.7h0M1643.8 478.2h0M1700.3 491h0M1741.5 448.7h0M1682.1 456.5h0M1696.2 487.2h0M1706.3 494.2h0M1721.3 507.8h0M1729.3 468.9h0M1709.2 516.4h0M1687.2 391.1h0M1681.7 458.6h0M1736.4 466.3h0M1721.4 517h0M1695.8 430.8h0M1678.1 477.1h0M1703.7 502.6h0M1750.2 505.4h0M1727.4 500.9h0M1687.6 497.9h0M1704.2 502h0M1745.7 495.2h0M1682.8 480.3h0M1676.2 383.8h0M1741.9 495.1h0M1698.8 456.8h0M1693.1 475h0M1709.7 504.5h0M1703.4 498.2h0M1678.2 474h0M1692.7 513.4h0M1674.3 334.1h0M1676.4 353h0M1716.3 510h0M1683.8 467.4h0M1703.7 485.7h0M1740.1 405.3h0M1671.6 404.2h0M1691.7 474.6h0M1729 462.6h0M1681.7 460h0M1747.8 490.8h0M1703.3 476.4h0M1728.3 431.7h0M1739.1 371.5h0M1753.5 470.2h0M1699.4 517.2h0M1730.8 469.4h0M1697.8 482.2h0M1752.1 496h0M1692.9 496h0M1676.7 459.2h0M1736.2 507.5h0M1721.3 505.2h0M1730.9 515.2h0M1718.6 495.5h0M1679.1 507.1h0M1694.5 483h0M1658.3 479h0M1705.8 509.4h0M1715.5 514h0M1744 506.7h0M1722.1 494.5h0M1681.4 477.4h0M1744.6 487.1h0M1733.7 437.3h0M1695.3 498.6h0M1691.4 486.7h0M1680.1 468.8h0M1732.8 433.7h0M1694 452.8h0M1688.6 403.1h0M1669.5 493.5h0M1718.6 512.3h0M1684.5 489h0M1684.4 452.8h0M1687.8 399.5h0M1726.3 474.9h0M1704 470.5h0M1695.2 482.9h0M1720.3 507.4h0M1711.2 516h0M1694.9 441h0M1734.3 493.7h0M1704.1 497.1h0M1718.1 517h0M1711.1 515.6h0M1713.7 511.3h0M1698.3 455.3h0M1684.6 394.6h0M1708.5 516.1h0M1705.8 516.4h0M1660.5 479.6h0M1746.8 465.6h0M1746.2 494.6h0M1718.7 491.6h0M1681.1 434.4h0M1692.5 506.6h0M1744.5 494.6h0M1735.1 486.7h0M1685.3 436.6h0M1746.5 501.9h0M1690.9 400.2h0M1728.9 473.3h0M1735.7 476.1h0M1719.9 482.3h0M1745.6 483h0M1704.1 505.8h0M1735.3 390.8h0M1679.6 448.1h0M1731.1 422.2h0M1751.2 416.7h0M1711.5 518.8h0M1737.9 381.6h0M1753 454.7h0M1746.5 338.4h0M1680.5 407.2h0M1741.5 494.8h0M1729.4 443h0M1722.6 502.1h0M1695 512h0M1692.9 436h0M1693.8 440.7h0M1692.8 420.3h0M1756.8 503.2h0M1737 490.9h0M1702.6 473.7h0M1696.5 446.2h0M1713.3 510.3h0M1665.8 495.2h0M1738.9 499.8h0M1716.9 501.2h0M1692.9 420.2h0M1702.3 498.1h0M1706.1 510.4h0M1674.4 406.8h0M1678.6 474.5h0M1734.6 473.1h0M1755.8 477.3h0M1669.2 482.2h0M1679 469.5h0M1682.7 499.9h0M1707.5 508.8h0M1712.8 513.8h0M1691.2 485.5h0M1702.1 512.2h0M1698.3 467.6h0M1733.3 429.7h0M1678.5 496.1h0M1668.5 477.4h0M1757.7 497.7h0M1681.5 373.9h0M1704.8 501h0M1730.4 504.5h0M1749.2 485.9h0M1725.9 500.2h0M1721.3 485.1h0M1677.6 490h0M1723 463.1h0M1726.3 474.2h0M1697.8 473.2h0M1722.7 517.9h0M1680.4 363.7h0M1673.1 467.6h0M1681.9 502.6h0M1670.5 490.3h0M1678.5 440.1h0M1669.6 343.5h0M1702.3 477.2h0M1657.6 492.6h0M1713 512.7h0M1678.8 444.8h0M1705.6 518.9h0M1703.4 475.4h0M1669.7 473.2h0M1753.6 485.8h0M1733.6 457.2h0M1754.1 497.3h0M1718.8 500.8h0M1700.4 497.3h0M1730.8 514.4h0M1678.3 478.4h0M1698.3 514h0M1706.2 508.3h0M1753.2 467.7h0M1675.3 453h0M1689.2 498.9h0M1705.6 505.6h0M1730.2 430.9h0M1675.4 342.8h0M1717 497.1h0M1732.6 500.4h0M1728 507.3h0M1738.6 412.9h0M1744.6 504.5h0M1676.2 435.9h0M1730.6 441h0M1685.6 511.2h0M1740.1 446.9h0M1705.8 489.3h0M1699.1 475.4h0M1683.7 402.2h0M1690.7 459.1h0M1735.8 514.5h0M1716.4 510.7h0M1750 373h0M1737.1 413h0M1749.6 430.5h0M1695.5 509.5h0M1681.7 505.3h0M1715.5 517.7h0M1699.8 477.8h0M1723.3 508h0M1698.3 506h0M1686.2 493h0M1699.2 478.8h0M1678.3 473.6h0M1745.5 472.1h0M1753.7 491.1h0M1703.1 509.6h0M1745.7 466.1h0M1667.7 480.5h0M1655.8 478.1h0M1733.6 496.8h0M1705.3 518h0M1693.3 509h0M1672.2 489.6h0M1689.4 436.6h0M1671.9 461.6h0M1685.6 489.7h0M1691.8 466.8h0M1732.3 409h0M1675.3 505.4h0M1681.8 494.8h0M1733.7 456.6h0M1704 493.6h0M1715.5 516.3h0M1670.8 364.8h0M1740.7 508h0M1752.4 477.9h0M1703.2 508.1h0M1709.3 507.8h0M1736.7 471.9h0M1679.2 428.5h0M1680.8 510.9h0M1693 479.9h0M1701.4 463.6h0M1734.8 418.7h0M1713.8 511.1h0M1701.7 459.2h0M1774.1 477.6h0M1707.1 508.1h0M1714.4 517.9h0M1766 480h0M1696.8 457.2h0M1753.7 381.5h0M1727.9 507.5h0M1716.4 513.1h0M1718.1 517.6h0M1724.3 512.1h0M1747.2 388.7h0M1724.2 482.4h0M1716.2 517.3h0M1709.7 513.5h0M1699.4 509.7h0M1720.7 480.2h0M1741.7 478h0M1731.8 474.3h0M1653.2 483.2h0M1761.4 478.3h0M1694.7 445.7h0M1725.9 470.1h0M1741.1 511.7h0M1686.8 435.9h0M1707.5 500.4h0M1673.7 449.2h0M1660.8 487.3h0M1694.7 429.8h0M1690.2 471.2h0M1727.1 444.6h0M1744.8 364.8h0M1766.6 485.9h0M1723.1 512.4h0M1705 483.6h0M1692.5 497.2h0M1675.4 312h0M1720.1 486.1h0M1731.9 469.9h0M1699.5 468.3h0M1648.4 483.9h0M1705.4 477.2h0M1727.4 474.1h0M1752.9 407.4h0M1681.4 394.5h0M1686.8 472.4h0M1707.4 515.5h0M1719.9 497.1h0M1704.4 500.4h0M1668.8 439.1h0M1706.7 496.1h0M1680.6 385h0M1692.4 474.3h0M1677.6 505.9h0M1753.1 434.3h0M1728.1 449.4h0M1730.7 463.7h0M1711.3 518.3h0M1694.9 490h0M1674 506.8h0M1678.8 469.5h0M1671.5 395.2h0M1760.7 485.3h0M1719.8 517.6h0M1723.3 465.2h0M1683.4 475.3h0M1743.5 499.5h0M1729.6 427.5h0M1713.2 514.1h0M1733.2 471.5h0M1743.2 491.2h0M1743.4 493.1h0M1737.8 409.5h0M1680.3 427h0M1684.1 450.4h0M1732.7 408.7h0M1680.8 508.8h0M1639.7 478.5h0M1683 500.9h0M1688.2 401.9h0M1744.8 460.2h0M1705.2 517.5h0M1751.1 442.5h0M1717.5 506h0M1725.8 496h0M1671.1 480.4h0M1753.7 437.1h0M1704.8 518h0M1723.3 516.1h0M1688.3 484.8h0M1694.3 477.7h0M1698.4 504.8h0M1651.3 493.2h0M1684.9 489.3h0M1744.4 417.2h0M1673.4 504.7h0M1702.7 510.7h0M1673.1 376.1h0M1689.1 511h0M1677.9 504.6h0M1669.2 482.1h0M1668.8 438h0M1773.7 490.6h0M1709.8 514.3h0M1696.6 445.3h0M1740.6 405.9h0M1694.7 433.2h0M1742 469.1h0M1697.6 499.3h0M1703.9 506.8h0M1747 337.6h0M1730.7 513h0M1709.9 495.6h0M1717.9 512.2h0M1680.7 493.8h0M1685.9 463.6h0M1759.9 488.4h0M1730.3 426h0M1742.4 377.9h0M1740.4 485.5h0M1733.2 407.4h0M1699.7 445.6h0M1692.1 492.9h0M1696.7 439.8h0M1676.8 482.2h0M1719 516.1h0M1700.9 496.2h0M1684.5 436.8h0M1682 358.1h0M1725.4 499.4h0M1664.6 477.6h0M1719.9 484.9h0M1722.5 517.6h0M1730.1 492.4h0M1705.1 495.9h0M1751.2 443.2h0M1694.6 502.7h0M1730.1 449h0M1685.7 456.7h0M1728.2 479.8h0M1685.6 499.8h0M1732.1 512.8h0M1738.5 486.4h0M1725.8 498.2h0M1677.3 454.6h0M1694 483.6h0M1743 506.7h0M1690.7 443.2h0M1694.1 474.4h0M1694.1 503.7h0M1717.5 517.7h0M1701.3 475.8h0M1724.4 472h0M1717.3 508.3h0M1686.4 498.8h0M1661.9 499.8h0M1745.7 404.4h0M1718.5 511.2h0M1751.7 475.2h0M1745.2 492.8h0M1686.6 503.7h0M1721.9 478.8h0M1730.8 488.5h0M1701.6 474.6h0M1749.4 323.2h0M1724.2 506.7h0M1747.6 337.8h0M1726.4 470.1h0M1724.2 504.9h0M1669.5 492.5h0M1692.9 503.3h0M1736.9 488.2h0M1729.2 499.2h0M1723.7 472.1h0M1723.3 472.8h0M1670 497.9h0M1703.5 503.9h0M1709.7 515.9h0M1697.6 424h0M1717.3 517.6h0M1680 499.2h0M1697.6 438.2h0M1745.9 429.3h0M1758.8 493.7h0M1689.9 411.2h0M1688.5 510.7h0M1710.6 518.9h0M1723.7 500.4h0M1704.3 506.6h0M1735.9 457.2h0M1702.1 471h0M1691.1 473.6h0M1715.6 512.3h0M1705.3 488.9h0M1700.2 482h0M1692.1 472.5h0M1692.3 438.2h0M1707.2 515.7h0M1689.5 407.4h0M1701.7 463.1h0M1682 503.8h0M1702.2 488.3h0M1732.3 471.2h0M1732.1 481.5h0M1718.5 487.1h0M1695.2 434.7h0M1742.9 358.3h0M1683.3 435.5h0M1747.6 355h0M1679.4 499h0M1686.3 498.9h0M1729.5 504.5h0M1736.5 459.9h0M1682.9 443.7h0M1728.8 467.2h0M1735.7 483h0M1692.2 510.3h0M1673.9 461.7h0M1688.6 480h0M1718.9 516.9h0M1679.4 476.2h0M1671.4 485.8h0M1734.1 423.7h0M1695.7 465.9h0M1670.2 453.4h0M1747.8 473.8h0M1685.3 502.9h0M1702.8 477.4h0M1692.6 502.6h0M1725 460.2h0M1726.2 458.5h0M1691.2 508.9h0M1767 482.7h0M1697.4 456.6h0M1740.9 469.9h0M1700.8 478.7h0M1735.6 410.1h0M1689.9 449.9h0M1696.6 448.5h0M1708.2 494h0M1682.9 360h0M1684.9 508.6h0M1665.4 484.3h0M1708.3 509.1h0M1760.2 479.4h0M1703 502.4h0M1685.4 447.5h0M1693.4 480.8h0M1673.5 460.3h0M1659.5 478.7h0M1699.3 456.1h0M1726.2 471.1h0M1750.6 500.2h0M1726.8 511.1h0M1751.9 481.9h0M1720.2 516.7h0M1692.1 507.6h0M1711.9 507h0M1770.9 481.7h0M1713.5 516.4h0M1678.6 345.6h0M1688.7 423.5h0M1654.6 492.3h0M1699.6 459.3h0M1755.6 384.2h0M1725.6 448h0M1727.2 454.8h0M1698 455.6h0M1690.8 427h0M1726.2 488.1h0M1720.8 511.6h0M1698.6 471.2h0M1723.5 486.4h0M1724.2 517.1h0M1720.5 492.2h0M1695.3 492.5h0M1672.4 471.5h0M1743.6 482.4h0M1678.5 494.4h0M1740.6 390.1h0M1681.1 475.2h0M1682.5 402.2h0M1704.7 512.2h0M1726.7 499.7h0M1674.5 428.3h0M1747.4 469.1h0M1690.4 468.4h0M1735.6 496.1h0M1723.6 514.5h0M1723.3 458.9h0M1679.9 454.8h0M1720.6 513.7h0M1688.9 442.2h0M1697.3 437.3h0M1733.5 472.9h0M1718.3 518.8h0M1744.5 451.2h0M1720.8 493.9h0M1745.5 490.9h0M1692.7 461.1h0M1694.6 484.9h0M1663.6 493h0M1722.1 468.7h0M1739.1 384.3h0M1727.9 492.2h0M1712.9 516.7h0M1702 466.2h0M1725.7 470.3h0M1731.7 442.3h0M1715.5 517.6h0M1711.6 516.5h0M1689.8 411.3h0M1723.7 514h0M1700.4 504.8h0M1681.8 505.7h0M1733.6 509.3h0M1782.4 487h0M1684.2 395h0M1735.9 406.1h0M1701.5 463.9h0M1709.8 518.8h0M1678.6 384.9h0M1740.4 507.4h0M1682.4 457.1h0M1669.1 455.9h0M1701.9 478.7h0M1642.8 478.3h0M1682.8 409.3h0M1722.7 464.3h0M1696.7 445.7h0M1696.7 482.3h0M1660.4 477.3h0M1677 451.2h0M1679.7 499.3h0M1726.5 477.4h0M1705.5 504.6h0M1704.1 476h0M1708.3 510.3h0M1703.5 471.7h0M1669.6 393.3h0M1722.4 513.5h0M1734 452h0M1721.4 473.4h0M1737.5 477h0M1673.5 448h0M1697.3 503h0M1713 517.5h0M1680.4 411.6h0M1692.8 453.4h0M1706.3 516.8h0M1682.2 441h0M1719.2 490.5h0M1724.6 451.9h0M1733.1 473.1h0M1755.6 466.1h0M1691.5 471.8h0M1706.7 518.5h0M1762.4 490.1h0M1729.1 516.5h0M1720.8 506.8h0M1718.2 501.9h0M1689.1 431.3h0M1738.6 481.2h0M1699.1 454.6h0M1746.4 338.1h0M1705.7 502.7h0M1729.3 485.1h0M1744.9 401.3h0M1751 434.2h0M1707.7 516.8h0M1738.3 394.2h0M1680.4 465.3h0M1746.7 416.8h0M1738.9 501.1h0M1702.1 465.9h0M1680.5 384.3h0M1673.1 460.8h0M1745.2 462.5h0M1738.8 497.7h0M1674 506.5h0M1695 506.3h0M1732.9 462.2h0M1752 504h0M1696.3 499.3h0M1700.2 455.3h0M1724.3 505.1h0M1722.6 505.6h0M1727.5 514.8h0M1719.9 503.5h0M1706.1 514.9h0M1728.6 483.1h0M1684 485h0M1717.6 508.4h0M1699.8 450h0M1730.3 507.9h0M1723.9 511.5h0M1741 453h0M1697.9 447.6h0M1732.7 513h0M1707.9 494.7h0M1721.6 511.5h0M1693.1 466.3h0M1693.6 415.9h0M1710.8 515.8h0M1694.7 482.3h0M1739.1 430.5h0M1744.1 498.3h0M1724.6 475.6h0M1748.9 499h0M1765.5 481.9h0M1729.7 484.4h0M1665.1 484.4h0M1672.8 493.8h0M1694.5 490.6h0M1728.1 496.8h0M1689.6 428.1h0M1673.2 504.7h0M1690.9 462.2h0M1690.3 505.2h0M1689.8 509h0M1672 395.5h0M1729.7 468h0M1695.1 426.6h0M1739.7 375.4h0M1727.5 434.1h0M1741.9 372.9h0M1721.5 470.7h0M1702.3 480.8h0M1702.8 495.9h0M1745.5 502.7h0M1676.9 364.1h0M1718.9 517.2h0M1704.2 496.7h0M1653.6 495.6h0M1726.8 509.1h0M1735.5 414.1h0M1692.1 511.4h0M1687.5 510.4h0M1680 436.9h0M1675.9 359.5h0M1755.2 476.2h0M1714.1 518.6h0M1692.6 491.9h0M1715.8 516.8h0M1688.1 456.7h0M1706.4 491h0M1740.2 423.9h0M1701.6 513.3h0M1705.2 516h0M1681.6 429.5h0M1768.6 479h0M1741.1 494.6h0M1726.5 442h0M1751.6 392.9h0M1698 450.3h0M1728.1 510.7h0M1693.6 478.8h0M1696.4 466.8h0M1693.9 511.8h0M1700.1 473h0M1671.2 427.9h0M1683 478.3h0M1723 469.4h0M1720.9 506.4h0M1671.8 410.1h0M1653.5 481.6h0M1709.2 509.6h0M1729.2 463.5h0M1750.1 469.2h0M1684 465.3h0M1705.5 491.6h0M1752.9 368.7h0M1689.3 468.4h0M1731.3 503.7h0M1687.3 436.2h0M1662.7 496.9h0M1731 465.8h0M1710.6 513.4h0M1681.1 488.3h0M1668.2 496.1h0M1734.2 478.4h0M1685.8 462.1h0M1726 469h0M1700.8 479.4h0M1691.6 497.6h0M1690.4 429.7h0M1737.1 466.2h0M1750.6 440.8h0M1680.9 495.5h0M1691 474.8h0M1733.9 465.2h0M1694.3 464.4h0M1676.1 501.8h0M1688 435.1h0M1712.9 516.4h0M1702.8 465.6h0M1729.1 456.9h0M1745.6 474.3h0M1708.5 502.6h0M1693.4 418.8h0M1700.7 494.8h0M1697 448.2h0M1739.6 486h0M1722.3 466.9h0M1699.1 506.3h0M1699.7 480.2h0M1748.3 467.2h0M1736 503.7h0M1726.8 515.5h0M1756.9 504.4h0M1683.4 453.8h0M1745.8 497.7h0M1646 480.2h0M1692.3 515.7h0M1709.7 510.7h0M1709.8 506.7h0M1690.8 470.3h0M1680.3 422.8h0M1708.8 508h0M1710.1 518.1h0M1685 507.8h0M1724.3 488.9h0M1737.3 409.5h0M1697 477.5h0M1710.4 510.6h0M1734.2 409.4h0M1705.7 510.5h0M1728.5 433.2h0M1684.7 465.8h0M1701.1 471.7h0M1696.4 509.2h0M1695.2 425.4h0M1734 439.2h0M1737.3 483.8h0M1689.7 482.3h0M1679.3 505.8h0M1698.3 450.8h0M1683.8 453.3h0M1761.1 490.9h0M1708.9 510.8h0M1698.3 494.7h0M1704.9 507h0M1698 505.7h0M1725.9 505.2h0M1732.7 483h0M1721.6 507.3h0M1690.1 419.1h0M1737.2 498.8h0M1724.1 515.6h0M1732 502.4h0M1691.4 485.3h0M1715.2 511.4h0M1696.8 430.1h0M1730.8 425.5h0M1734.3 442.7h0M1727.8 447.7h0M1734.7 509.5h0M1698.6 512h0M1702.7 511h0M1679.3 497.8h0M1708.5 517.7h0M1709.3 513.8h0M1701.4 467.5h0M1700.7 516.9h0M1698.6 507.5h0M1692 473.6h0M1725.6 464.6h0M1703.1 470.8h0M1724.5 457.5h0M1686.8 462h0M1682.9 506.7h0M1681.8 507.8h0M1697.6 447.2h0M1729.3 505.4h0M1686.2 468.5h0M1701.7 513.6h0M1689 455.5h0M1723.9 504.9h0M1694.2 449.2h0M1678.6 426.9h0M1694.5 455.5h0M1675.1 317.3h0M1708 506.7h0M1733.2 413.7h0M1698.4 499.1h0M1752.1 480h0M1691.1 499.2h0M1694.1 415.2h0M1699.8 507.4h0M1718.6 510.7h0M1709.2 505.2h0M1704.7 510.8h0M1661.8 481.5h0M1712 517.8h0M1709.3 509.7h0M1686.2 494.8h0M1691.1 500.7h0M1681.3 504.5h0M1698.5 443.2h0M1682.8 452.7h0M1697.8 513h0M1672.3 356h0M1688.3 436.9h0M1683.9 493.9h0M1717.4 518.5h0M1655.2 492.4h0M1719.2 504.4h0M1694.4 493h0M1733.5 408.3h0M1706.9 507.2h0M1693.4 480.9h0M1703.1 487.2h0M1687.6 453.1h0M1684.6 453.9h0M1673.1 482.2h0M1743.9 495.3h0M1727.5 434.1h0M1731.1 492h0M1704.5 475.8h0M1730.6 439.5h0M1700.6 482.5h0M1704.9 485.5h0M1708 503.3h0M1687.1 472.6h0M1695.4 502.8h0M1669 468.4h0M1680.5 409.7h0M1738.9 379.5h0M1737.8 493.6h0M1663 477.6h0M1670.7 474.7h0M1692.2 479.5h0M1688.9 465.6h0M1694.7 421.6h0M1696.1 513.7h0M1658.4 498.2h0M1668.5 491.7h0M1724.8 451.6h0M1690.7 497.9h0M1745.3 365.1h0M1742.9 408.8h0M1704.2 504.6h0M1725.2 514.5h0M1689.2 484h0M1698.6 461.4h0M1691.3 502.4h0M1699.6 458.9h0M1710.6 511.2h0M1732.1 500.1h0M1673 491.3h0M1704.5 508.3h0M1682.8 507.9h0M1700.7 471.3h0M1679 500.6h0M1681.3 499.1h0M1664.2 498.9h0M1671.5 321.4h0M1692.9 457.2h0M1747.4 463h0M1706.1 518.8h0M1709.7 515.3h0M1687 394.1h0M1730.3 451.1h0M1728.4 487.6h0M1755.3 481.7h0M1689.2 513.9h0M1683.3 484.8h0M1685.5 438.3h0M1711.3 517.7h0M1749.5 472.4h0M1696.7 448.3h0M1716.8 513.6h0M1731.6 432.7h0M1699.6 467.5h0M1663.5 495.9h0M1723.2 508.6h0M1718.4 512h0M1694.2 428.9h0M1677.3 505.3h0M1729.7 429.3h0M1684.5 481.2h0M1738.7 485.2h0M1738.6 445.2h0M1754.6 439h0M1698.1 479.6h0M1725 464.8h0M1747 493.9h0M1686.7 458.3h0M1721.9 463h0M1685.3 456.7h0M1681.8 459.3h0M1688.5 485.1h0M1734.2 489.1h0M1684.2 513.4h0M1724.3 454.4h0M1713.5 517.9h0M1752.5 472.7h0M1731.5 470.7h0M1746.4 375.4h0M1722 502.4h0M1731.5 416.4h0M1712.5 517.3h0M1757.5 491.3h0M1679.7 495.5h0M1677.9 434.1h0M1704.9 484.9h0M1742.6 489.4h0M1726.5 510.5h0M1724.3 459.7h0M1735 480.1h0M1707.1 493.7h0M1746.2 504.3h0M1746.1 498.4h0M1715.6 514.6h0M1730.5 516.3h0M1708.2 513.1h0M1703.2 511.7h0M1656.5 485h0M1709.8 510.1h0M1676.4 422.4h0M1684 451.9h0M1684.8 431.4h0M1712.8 518.2h0M1726 478.9h0M1716.9 511.5h0M1661.4 496.5h0M1739.8 504.4h0M1695.7 516.6h0M1738.1 444.4h0M1672.5 392.5h0M1689.5 415.1h0M1719.6 513.9h0M1731.4 509.1h0M1701 460.2h0M1694.5 456.6h0M1695.8 469h0M1694.4 487.3h0M1699.9 491.2h0M1670.1 385.3h0M1686.7 408.9h0M1703.4 486.4h0M1712 517.7h0M1700 491h0M1749.7 408.9h0M1754 442.2h0M1705.3 492.5h0M1729.9 468.4h0M1723.8 490h0M1724.6 514.6h0M1675.3 448.8h0M1702.5 507.5h0M1682.5 489.9h0M1700.4 450.7h0M1721.7 473.5h0M1679.2 423h0M1682.7 434h0M1749.1 493.7h0M1696.6 501.3h0M1742.7 353.7h0M1738 441.1h0M1658.1 495h0M1728 454.3h0M1666.8 485.9h0M1697.3 435.9h0M1704.4 515.2h0M1692.8 512.5h0M1687.3 395.3h0M1680.1 373.2h0M1702.5 485.8h0M1743 496.6h0M1682.7 507.3h0M1679.7 410.6h0M1683.4 384.2h0M1698.8 455.1h0M1689 425.7h0M1702.1 480.1h0M1747.1 497.4h0M1688.6 443.3h0M1723.3 485h0M1719.5 496.7h0M1730.6 507.7h0M1689.9 464.7h0M1681 495.6h0M1753.5 495.8h0M1745.6 495.2h0M1697.6 440h0M1683.2 352.7h0M1736.4 503.4h0M1706.4 491.3h0M1746.6 343.7h0M1695.2 425.7h0M1739.5 411.1h0M1733.9 479.4h0M1698.4 446.8h0M1729.1 431.1h0M1739.2 510.8h0M1682.6 446.7h0M1739.4 510.1h0M1690.5 419.3h0M1736.6 499.2h0M1696.1 459.5h0M1675.5 507.4h0M1681.6 510.3h0M1721.5 504.1h0M1697.6 458.1h0M1668.3 478.7h0M1751.7 453h0M1693.5 500h0M1706.7 513.3h0M1679.9 456.1h0M1700.4 507.4h0M1721.5 472h0M1723.3 507.8h0M1704.9 491.8h0M1702.2 512.7h0M1733.5 482.3h0M1704.4 495.3h0M1721.1 504.3h0M1762.7 478.7h0M1670.3 449h0M1695.7 501.5h0M1732.4 512.5h0M1679.3 501.7h0M1735.9 473.5h0M1740.9 383h0M1706.2 511.6h0M1713 513.1h0M1669.7 489.7h0M1669.8 498.3h0M1703.1 515.5h0M1718.6 482.6h0M1709.3 512.7h0M1689 430.4h0M1695.9 454.9h0M1753.6 488.2h0M1724.1 510.7h0M1713.9 518.3h0M1721.5 465.1h0M1749.9 426.2h0M1699.3 481.7h0M1738.7 481.6h0M1655.4 488.5h0M1742.1 360.9h0M1692.4 504.2h0M1693.1 479.3h0M1692.5 479.3h0M1700.7 462.5h0M1730.1 472.4h0M1696.3 454.8h0M1704.9 518.3h0M1688.6 492h0M1681.9 444.2h0M1706.7 486.5h0M1732.2 484.7h0M1673.6 505h0M1750.3 479.3h0M1700.1 493.4h0M1747.8 472.3h0M1699 514.3h0M1756.4 503.7h0M1709.2 517.6h0M1681.4 480.7h0M1688.2 406.9h0M1704.2 497.2h0M1702 504h0M1702.8 506.3h0M1695.4 510h0M1751 421.7h0M1685.5 508.4h0M1702.2 492.9h0M1714.6 513.4h0M1705.4 500h0M1674.7 484h0M1713.8 512.7h0M1690.7 476.2h0M1692.3 505.8h0M1681.7 506.3h0M1697.2 478.8h0M1668 479.8h0M1694.3 513.5h0M1729.1 446.7h0M1667.9 502h0M1714.2 511.1h0M1698.5 507.8h0M1669 340.1h0M1699.8 504h0M1691.6 503.2h0M1718.5 484.8h0M1666.8 491.5h0M1686.3 493.7h0M1724 460.7h0M1690.4 478.3h0M1693.4 511.2h0M1734.5 474.2h0M1734.6 442.4h0M1683.7 386h0M1693.7 513.3h0M1677.7 468.6h0M1722.8 511.6h0M1680.2 417.1h0M1709 516.5h0M1774.7 480.2h0M1700.7 515.2h0M1691.6 473.8h0M1687.4 436.7h0M1702.5 471.7h0M1750.2 433.3h0M1741.7 508.2h0M1736.8 473.2h0M1720.3 475.5h0M1746.2 432.2h0M1697.2 464.9h0M1742.4 452.1h0M1719.7 509.9h0M1714.7 503.4h0M1739.1 487.6h0M1709.8 504h0M1725 451.7h0M1668.4 480.3h0M1705.5 499.1h0M1727.7 423.7h0M1697.8 451.4h0M1665.5 494.7h0M1690.1 507h0M1727.6 493.3h0M1713.9 513.8h0M1647.4 478.1h0M1748.5 482.5h0M1707 517.9h0M1722.7 508.4h0M1678.4 508.3h0M1709 505h0M1693.3 461h0M1659.3 495.3h0M1705.8 506.7h0M1674.3 445.7h0M1701.9 460.9h0M1703.9 510.3h0M1730.7 460.3h0M1679 481.6h0M1754.7 308.3h0M1694 492.5h0M1678.2 395.3h0M1696.3 448.3h0M1685.5 494.4h0M1700.9 505.2h0M1679.3 380.8h0M1697.7 451.7h0M1706.3 504.8h0M1722.1 466.3h0M1725 504.7h0M1705.8 505.7h0M1703.3 493.9h0M1697.6 444h0M1673.6 458.6h0M1748.1 488.6h0M1737 508.3h0M1732.6 475.4h0M1747 373.2h0M1757.3 477.8h0M1669.5 406.3h0M1749.4 478.4h0M1688.9 473.1h0M1697.1 511.1h0M1701.1 512.6h0M1744.2 390h0M1716.9 507.1h0M1730.9 514.2h0M1741.2 454.8h0M1695.1 478.5h0M1697.8 475.9h0M1720.2 485.5h0M1679.1 505h0M1697.3 516.5h0M1741 495.8h0M1728.5 469.4h0M1699.6 469.3h0M1722.1 468.2h0M1713.8 518.4h0M1724.6 483.7h0M1742.7 414.7h0M1715.1 503.8h0M1698.1 477.3h0M1730.9 495h0M1670 376.8h0M1734.5 449.4h0M1692.5 462.1h0M1737.9 496.5h0M1675.2 458.1h0M1691.6 470.2h0M1751.6 390.1h0M1694.7 510.7h0M1717.7 488.1h0M1686.3 501.3h0M1728.3 427.1h0M1725.6 451.6h0M1656.2 482.8h0M1670.6 408.4h0M1692.5 422.8h0M1735.2 457.3h0M1718.6 493.1h0M1684.8 475.6h0M1726.3 455.6h0M1724.2 509.2h0M1734.2 426.6h0M1728.9 502.5h0M1743.4 393.6h0M1727.2 512.1h0M1702.5 479h0M1734 483.3h0M1695.3 432.5h0M1729.7 503h0M1695.6 508.8h0M1683.5 498.8h0M1700.2 513.9h0M1745.4 487.8h0M1664.6 502.7h0M1681.2 465.9h0M1708.5 502.8h0M1706 508.3h0M1675.1 477.8h0M1721.7 517.7h0M1685.8 448.5h0M1705.3 488.9h0M1753.4 296.6h0M1725 486.6h0M1702.4 464.7h0M1704.8 515.2h0M1689 496.3h0M1675.6 354.7h0M1743.2 468.3h0M1748.2 471.3h0M1715.9 514.2h0M1723.5 482.2h0M1690.1 472.2h0M1673.8 469h0M1710.3 518.9h0M1700.6 517.5h0M1754 476.7h0M1715.5 518.3h0M1748.3 385.3h0M1734.5 495.5h0M1697.3 493.3h0M1665 481.2h0M1709.5 516.9h0M1672.1 471.7h0M1674.1 432.9h0M1702.9 513.2h0M1700.3 470.7h0M1679.9 493.3h0M1659.5 489.1h0M1698.2 476.4h0M1723.2 453.6h0M1683.7 383.3h0M1673.9 469.8h0M1743.1 380.9h0M1742.7 493.5h0M1692.9 513.9h0M1730.2 454.1h0M1694.5 435.1h0M1696.7 456.1h0M1708.8 507h0M1715.4 505.4h0M1688.9 462.1h0M1735.2 504h0M1707.9 509.8h0M1745.3 388.3h0M1742.6 506.1h0M1700.3 504.8h0M1696.3 434.7h0M1714.9 512.9h0M1697.1 466.3h0M1674 368.7h0M1686.1 513h0M1682.7 491.8h0M1690.5 507h0M1694.7 471.6h0M1688.2 459.7h0M1728.5 452.6h0M1739.1 385.1h0M1704.4 506.7h0M1688.6 513.8h0M1701.3 470.4h0M1697.7 437.4h0M1748.5 476.5h0M1734.7 501.4h0M1721.4 509.5h0M1738.5 381.8h0M1733.7 511.5h0M1721.2 497.5h0M1735.4 417.8h0M1741.7 427.6h0M1719.7 479.5h0M1716.5 512.7h0M1771.6 483.5h0M1688.7 508.2h0M1701.4 460.4h0M1714.2 505.4h0M1674.5 404.7h0M1750.5 451.5h0M1658 492.1h0M1702.6 504.8h0M1679 420.3h0M1700.3 461.5h0M1691.2 465.9h0M1686 419.2h0M1735.3 476.8h0M1686 508.3h0M1728.5 457.6h0M1695.7 474.8h0M1703 467.5h0M1728.2 446.5h0M1745.6 506.3h0M1741.3 394.2h0M1683.5 391.6h0M1705.6 484h0M1700.9 493.2h0M1686.6 399.3h0M1699.4 488.2h0M1684.9 512h0M1699 508.7h0M1700.7 513.9h0M1702.5 463.1h0M1685.4 510.2h0M1725.2 513.1h0M1710 518.3h0M1693.5 509.1h0M1703.8 510.9h0M1775.7 478.7h0M1696 514.7h0M1689.2 478.6h0M1763.2 493.3h0M1688.7 482.8h0M1691.3 501.7h0M1705.2 485.1h0M1748.3 439h0M1750 474.1h0M1669.9 491.8h0M1698.7 472.6h0M1747 471.8h0M1704.5 515.6h0M1700.2 454.4h0M1696.5 450.9h0M1740 506.1h0M1730.1 461.8h0M1740.4 508.6h0M1715 516.9h0M1696.7 469.5h0M1698.9 511.3h0M1722.4 516.8h0M1696.7 515.9h0M1666.5 495.1h0M1648.7 482.2h0M1688.9 484.8h0M1748.8 383h0M1715 505.8h0M1675.6 467.1h0M1719.4 484.6h0M1729 514.4h0M1672 463.5h0M1702.7 499.5h0M1716.5 494.2h0M1720.2 487.4h0M1707.4 516.6h0M1699.2 514.4h0M1747.5 469.2h0M1724.3 514.9h0M1705.3 475.3h0M1741.9 497.9h0M1681.1 454.5h0M1737.5 447.9h0M1733.6 428.2h0M1734.6 498.5h0M1703.6 472h0M1698.6 485.8h0M1737.7 423.5h0M1682.6 456.1h0M1681.3 497.1h0M1718.8 515.6h0M1736.7 410.5h0M1734 455.6h0M1685.3 433.9h0M1728.9 460.9h0M1719.5 519h0M1677.8 482h0M1715.4 508h0M1762.4 488.5h0M1730.6 424.3h0M1721.5 517.8h0M1729.6 512h0M1701 502.5h0M1694.2 499.4h0M1736.3 476h0M1767.8 482.8h0M1673.5 351.4h0M1717.7 495.2h0M1755.6 420.3h0M1726.7 455.9h0M1691.5 499.6h0M1669.5 501.4h0M1762.3 486.5h0M1718.8 518.4h0M1731 483.5h0M1700.9 499.7h0M1738.6 386.7h0M1700.6 466.6h0M1701.9 509.7h0M1735 481.8h0M1707.6 506.1h0M1693 460.9h0M1693.1 472.5h0M1705.7 517.3h0M1701.9 501.6h0M1652.8 480.3h0M1691.2 500.9h0M1683.1 411.2h0M1687.7 469.8h0M1673.7 494h0M1688.2 473.6h0M1737.6 461.3h0M1686 400.3h0M1677.1 446.8h0M1683.6 500.1h0M1697.7 481.2h0M1742.5 473.3h0M1695.9 458.9h0M1693.2 485h0M1721.7 516.8h0M1703.9 472.3h0M1692.4 447.7h0M1716.7 516.6h0M1697.8 468.8h0M1684.1 495.9h0M1720.3 502.1h0M1715.9 498.5h0M1655.8 487.7h0M1647.5 494.5h0M1702.9 499.9h0M1711.7 517.4h0M1728.3 499.2h0M1689.9 507.1h0M1728.4 431.5h0M1693.6 474.6h0M1747.8 437.2h0M1673.7 491.2h0M1726.8 497.1h0M1780.2 479.3h0M1701.6 463.8h0M1669.5 462.9h0M1734.5 482.4h0M1716 502.2h0M1724.5 460.2h0M1744.4 387.7h0M1706.6 515.9h0M1684.8 466.1h0M1708.8 497.6h0M1688.1 507.5h0M1676 491.3h0M1716.1 508.8h0M1679.6 497.5h0M1755.1 448.9h0M1705.8 513.8h0M1736.3 478h0M1741.5 407.4h0M1754.9 435h0M1747.9 460.3h0M1730.1 498.4h0M1731.2 502.4h0M1726.1 499.9h0M1728.5 435.3h0M1702.2 518h0M1696 487.4h0M1718.9 501.5h0M1678.1 378.8h0M1686.4 511.3h0M1749.5 467h0M1692.3 473.9h0M1707 501.1h0M1670.8 292.8h0M1726.4 493.3h0M1645.3 491.3h0M1745.6 498.5h0M1740.7 510.6h0M1744.6 458.9h0M1740.4 383.2h0M1731.2 485.3h0M1745.8 331.6h0M1701.7 480h0M1698.3 446.3h0M1719.9 490h0M1706.3 494.8h0M1692.5 432.1h0M1692.1 471.2h0M1687.4 504.1h0M1675.5 497.4h0M1682.9 455.3h0M1696.2 490.3h0M1677.2 457.6h0M1685.1 509.8h0M1732.5 494h0M1709.3 507.3h0M1689.5 465.3h0M1757.7 497.7h0M1706.9 514.9h0M1711.4 517.5h0M1687.5 503.9h0M1701.6 509.3h0M1714.3 515.4h0M1689 485.6h0M1727.2 466.1h0M1724.9 462.8h0M1708.4 517.4h0M1682.2 431.2h0M1689.1 472.5h0M1745.9 478.7h0M1699.4 462.2h0M1761.8 490.7h0M1734 513.3h0M1728.8 513.9h0M1703 516.1h0M1670.7 486h0M1723.3 468.4h0M1677.9 386.9h0M1735.9 438.2h0M1705.4 518.7h0M1714.6 511.6h0M1742.4 504.9h0M1693.5 495.4h0M1675.1 506.3h0M1709.5 508.9h0M1696.6 461.7h0M1717.4 515.3h0M1719.8 516.4h0M1704.7 515.3h0M1690.5 484h0M1735.1 476.3h0M1671.6 483.5h0M1680.1 503.4h0M1746.3 485.4h0M1720.4 515.5h0M1695.7 516.9h0M1683.7 476.7h0M1682.9 491.7h0M1683.4 483.1h0M1726.7 465.3h0M1733.8 462.9h0M1674.9 370.8h0M1772.9 486.4h0M1667.1 488.6h0M1767.3 492.8h0M1730 483.3h0M1670.7 504.1h0M1714.6 503.3h0M1684.2 390.2h0M1701.8 513.1h0M1741.7 498h0M1714.3 514.7h0M1693.6 495h0M1694.3 442.5h0M1700.2 451.7h0M1724.1 465.5h0M1645.8 490.8h0M1727.5 485.2h0M1735.5 510.8h0M1749.8 487.4h0M1708.6 516.7h0M1705.8 515.9h0M1695.4 434.8h0M1735.7 457.7h0M1732.3 501.7h0M1669.1 401.6h0M1700.6 488.9h0M1721.2 473.2h0M1752 488.9h0M1702.3 472.2h0M1698.2 444.5h0M1704.4 499.7h0M1669.3 413h0M1704.6 476h0M1763.8 494.5h0M1691.8 453.9h0M1673.3 489.1h0M1726 447h0M1706.5 494.8h0M1668.6 491h0M1749.2 424.1h0M1696.8 445.3h0M1722.9 513.7h0M1747 418.7h0M1737.9 412.7h0M1731.1 503.9h0M1698 515.2h0M1708.2 506.2h0M1735.3 493.2h0M1672.9 429.4h0M1710.1 503.7h0M1701.7 465.8h0M1699.2 510.3h0M1676.2 506.3h0M1688.6 425.8h0M1711.1 514h0M1668.8 402.5h0M1725.1 445h0M1701.2 495.3h0M1695 479.3h0M1693.1 427h0M1670.9 461.3h0M1671.7 443h0M1669.6 499h0M1706.8 503.8h0M1678.9 432.1h0M1733.2 471.9h0M1692.4 431h0M1700.3 463.4h0M1710.4 517h0M1659.9 486.4h0M1703.1 491.5h0M1703 506.5h0M1703.7 477.8h0M1706.8 489.4h0M1742.7 373.5h0M1705 517.3h0M1707.6 513.3h0M1728.1 460.1h0M1773.3 481.1h0M1710.1 508.3h0M1692 479.1h0M1745.8 434.1h0M1703.9 484.7h0M1672.6 450.1h0M1674.7 424.4h0M1716.7 518.1h0M1744.5 477.7h0M1707.8 514.1h0M1712.5 518.4h0M1744.1 496.6h0M1728.9 433.6h0M1681 346.2h0M1768.4 481h0M1673.6 305.1h0M1711.5 518.7h0M1729.5 431.6h0M1715.6 515.2h0M1731.8 513.9h0M1754.6 477.3h0M1689.6 511.2h0M1716.3 515.6h0M1717.5 515h0M1690.5 471h0M1693.7 463.2h0M1706.8 488.6h0M1685.5 461.2h0M1749.6 481.4h0M1700.6 500.2h0M1723 497.8h0M1682 449.6h0M1736.2 506.4h0M1706 483h0M1739.9 497.2h0M1728.9 456.6h0M1758 489h0M1753 392.8h0M1669.9 417.8h0M1721 488.1h0M1693.3 470.2h0M1708 514h0M1746.6 480.6h0M1696.6 473.4h0M1690 513.8h0M1703.7 509h0M1701.4 506.6h0M1714.2 517.9h0M1700.7 473.4h0M1670.6 466.8h0M1686.2 471h0M1725.9 516.1h0M1695.1 424.3h0M1691.3 514.4h0M1760.7 487.6h0M1679.5 500.8h0M1668 488.3h0M1720.4 479.3h0M1706.3 487.9h0M1720.1 473.9h0M1733.4 494.6h0M1732.3 503.2h0M1703.4 475.8h0M1708.3 512.4h0M1742.3 417.5h0M1693.1 417.6h0M1723 504.5h0M1701.1 467.9h0M1729.2 509.6h0M1729.8 499.3h0M1692.5 467.1h0M1695.6 506.3h0M1705.7 503.8h0M1695.5 460.2h0M1726.7 459.6h0M1679.1 395.3h0M1750.2 454h0M1729.5 486.8h0M1721.8 495.6h0M1740.5 365h0M1690.6 462.6h0M1741 481.2h0M1683.3 432h0M1706.5 500.2h0M1687.8 407.3h0M1676.1 329.6h0M1748.9 398.8h0M1676 488.2h0M1689 475h0M1697.2 437h0M1697.6 512.7h0M1674 420.8h0M1749.6 398.4h0M1702.2 513.5h0M1748.2 405h0M1764.9 494.3h0M1660.5 485.1h0M1700.2 454.9h0M1683 509.9h0M1746.4 500.8h0M1672.7 337.2h0M1652.6 491.1h0M1703.6 507.6h0M1723.3 501h0M1692.5 494.8h0M1729 427.1h0M1738.3 499.3h0M1732.1 400.2h0M1751.1 475.7h0M1680.6 504.2h0M1678.9 478.9h0M1728.4 432.4h0M1730.2 421.6h0M1716.7 505.9h0M1698.6 516.7h0M1699.8 469.6h0M1711.4 518.6h0M1695.1 515.8h0M1722.1 488.4h0M1693.4 429.7h0M1723.4 489.1h0M1720 517.1h0M1721.4 469.2h0M1692.7 469.7h0M1720.4 513.9h0M1701 512.7h0M1679.9 359h0M1744 479.7h0M1686.7 459.3h0M1715.2 512h0M1720.3 492.3h0M1651.5 478.9h0M1750.8 483.3h0M1737.9 496.8h0M1740.5 508h0M1735 434.4h0M1669.8 491.8h0M1678.2 488.6h0M1725.6 470.3h0M1731.1 486.4h0M1696 428.7h0M1698.6 516.1h0M1715.7 518.8h0M1726.8 496.3h0M1718.6 507.3h0M1676.5 501.5h0M1721.3 490.6h0M1736.4 442h0M1717.2 512.6h0M1704 477h0M1681.5 478.3h0M1754.8 353.3h0M1721.7 471.8h0M1730.7 424.6h0M1698.4 516.5h0M1638.2 484.3h0M1731.9 473.2h0M1758.8 495.9h0M1705.6 499.8h0M1733.9 478.6h0M1709.9 499.3h0M1761.3 499.4h0M1649.3 489.7h0M1661.9 485.1h0M1672.9 416h0M1713.9 517.9h0M1695.8 429.8h0M1699.2 504h0M1728 452.8h0M1695.4 503h0M1684.5 388.3h0M1724.1 490.8h0M1735.1 422.8h0M1753.5 502.1h0M1697.9 452.6h0M1679.3 397.8h0M1672.9 490.8h0M1699.9 461.2h0M1721.8 517.6h0M1693.9 436.6h0M1696.6 453.4h0M1693.5 477.8h0M1711.5 514.2h0M1688.1 500h0M1711.2 510.7h0M1725 450.5h0M1748.9 487.3h0M1705.8 492h0M1735.4 394.1h0M1675.3 507h0M1728.1 511.3h0M1705.7 496.1h0M1659.8 492.7h0M1733.1 490.8h0M1721.8 472.6h0M1704.5 517.9h0M1726.3 461.6h0M1698.1 483.6h0M1672.8 499.7h0M1745.9 427.9h0M1726.3 509.9h0M1701.3 501.8h0M1743.2 492.5h0M1703.1 511.3h0M1696.2 494.7h0M1670 346.2h0M1730.4 447h0M1680.2 381.9h0M1750.2 444h0M1715.2 517.9h0M1716.9 496.9h0M1690.9 413.4h0M1720.7 515.8h0M1736.6 493.6h0M1730.5 452h0M1688.5 448.3h0M1692.8 416.3h0M1718.8 512.8h0M1684.7 469.2h0M1696.6 458.5h0M1671.8 475.5h0M1699.2 503.1h0M1691.2 447h0M1698 472.3h0M1710 518.5h0M1729 503.7h0M1723 489.3h0M1691.7 498h0M1732.6 510.6h0M1688.7 461.5h0M1740.9 393.1h0M1668.2 502.1h0M1681.6 464.2h0M1699.7 467.5h0M1695.2 505h0M1682.8 456.7h0M1678 508.9h0M1686 465.9h0M1669.9 490.9h0M1694.6 516.4h0M1744.5 471.9h0M1692.7 424.3h0M1717.5 504.1h0M1665.3 495.4h0M1703 474.7h0M1680.9 508.3h0M1706.1 492.9h0M1722.8 460.9h0M1734.4 454h0M1702.6 464.2h0M1711.3 514.8h0M1706.5 506h0M1737.2 447.9h0M1681.2 449.5h0M1669.7 418.2h0M1696.7 449.2h0M1747.5 465.8h0M1711.6 517.4h0M1725.5 463.7h0M1702.5 486.1h0M1739.8 467.3h0M1699.6 486.8h0M1688.8 497.3h0M1730.5 491.2h0M1699.2 455.4h0M1722.4 464.4h0M1697.2 438.2h0M1713.8 517.9h0M1692.9 423.6h0M1678.4 478.4h0M1650.9 478.4h0M1722 468.2h0M1749.6 338.4h0M1676.5 411h0M1680.7 481.6h0M1720.5 499.2h0M1690.8 449.4h0M1736.9 495.6h0M1687.1 382.1h0M1721.9 515.4h0M1690.6 506h0M1726.8 440.5h0M1685.3 506.2h0M1742.2 468.6h0M1754.9 383.3h0M1685.8 379.5h0M1706.4 500.4h0M1677.4 445.6h0M1688.6 427.3h0M1724.5 478.1h0M1679.8 463.8h0M1690.5 429.9h0M1656.6 483.5h0M1744.2 420.7h0M1754.8 467h0M1671.9 441.2h0M1696 498.6h0M1672.3 481.1h0M1679 495.1h0M1748.4 501.5h0M1737.5 382.6h0M1754.1 498.6h0M1697.1 458.1h0M1725.3 486.8h0M1728.2 432.7h0M1708.9 501.8h0M1680.4 429.2h0M1693.7 462.3h0M1719.3 483.6h0M1697.9 449.7h0M1743.2 501.6h0M1695.9 476.1h0M1682.3 469.1h0M1740 469.4h0M1713.5 510.5h0M1749.4 421.7h0M1753.2 455.2h0M1674.9 335.4h0M1690.9 502.5h0M1699.2 466h0M1733.6 512.9h0M1670.6 429.4h0M1714.4 516.9h0M1729.2 485.6h0M1764.2 483.1h0M1645.3 482.2h0M1723.3 505.9h0M1694.4 436.3h0M1732.9 441.5h0M1706.6 511.5h0M1722.1 514.2h0M1723.9 464h0M1722.9 495.6h0M1724.2 514.4h0M1688 477.5h0M1732.5 510.6h0M1710.6 516h0M1739.6 446h0M1726.2 479.1h0M1705.4 504.4h0M1684.6 406.8h0M1678.3 442.7h0M1731.4 511.3h0M1705.5 478.4h0M1726.9 444.8h0M1707.6 512.5h0M1669.3 506h0M1755.1 488.9h0M1713.2 517.9h0M1679.9 497.2h0M1634.5 482.6h0M1699.5 515.6h0M1677.1 506.3h0M1676.6 483.3h0M1680.5 406h0M1680.4 491.7h0M1685.6 501.8h0M1695.6 462.5h0M1679.1 341.9h0M1738 503.6h0M1727.5 440h0M1745.6 485h0M1681.2 467.2h0M1696.8 450h0M1738.3 484.9h0M1672.4 469.9h0M1734.8 438h0M1716.1 505.9h0M1702.9 517.6h0M1702.9 471.3h0M1723.6 499.2h0M1719.4 475.4h0M1696.3 496.9h0M1717.2 518.5h0M1721.1 516.3h0M1706.9 486.3h0M1746.7 462.8h0M1744.1 506.3h0M1732.3 432.9h0M1679.1 393.9h0M1707.2 493h0M1724.2 483.7h0M1690 458.8h0M1696.9 476.9h0M1678.4 509.1h0M1706.7 516.2h0M1721.7 492h0M1728.7 478.2h0M1691 419.4h0M1662.8 485.7h0M1705.2 510.7h0M1663.8 503h0M1742.6 507.4h0M1711.4 518.8h0M1740.6 500.7h0M1694.6 510.3h0M1725.1 505.2h0M1703.1 499.1h0M1701 517.2h0M1677.9 494.8h0M1737 512.5h0M1750.7 458.9h0M1686.8 477.3h0M1722.3 499.8h0M1697.5 516.5h0M1739.5 469.6h0M1685.5 494h0M1734.5 461.2h0M1693.3 489.7h0M1750.8 494.8h0M1736.5 457.2h0M1692.2 478.3h0M1687.4 471.8h0M1751.9 497.3h0M1730.8 473.1h0M1724.5 495h0M1735.3 477.8h0M1680.4 348.8h0M1697.8 497.7h0M1706.2 515.8h0M1700.9 464.6h0M1717.8 514.2h0M1659.4 495h0M1720 497.5h0M1728.6 460.8h0M1750.4 455.1h0M1685.7 481.8h0M1758.2 482.2h0M1749.4 488.2h0M1721.3 471.9h0M1709.1 510.1h0M1679.7 451.5h0M1684.7 494.7h0M1728.7 444h0M1733.5 487h0M1708.2 515.5h0M1682.5 464.6h0M1678.4 489.8h0M1739 378.1h0M1678.1 495.8h0M1718.2 518.1h0M1727.3 478.7h0M1692.5 447.1h0M1700.1 512.7h0M1728.8 431.5h0M1669.7 472.2h0M1689.2 457.9h0M1762.3 482.7h0M1722.9 500.3h0M1726.8 514h0M1725.8 453.4h0M1736.2 455.7h0M1727 452.1h0M1712.8 510.2h0M1656.2 479.7h0M1703.1 496.7h0M1709 518.7h0M1703.3 515.6h0M1695.4 501.3h0M1703.9 484.1h0M1667.5 501.3h0M1687.4 510.9h0M1704.9 518.9h0M1677.2 384.7h0M1715.8 517.6h0M1701.4 470.1h0M1709 514.3h0M1751 451.2h0M1718.5 513.7h0M1744.4 467.7h0M1677.7 404.5h0M1686 498.8h0M1736.6 480.3h0M1724 501.7h0M1728.8 495.3h0M1689.4 498.3h0M1687.4 512.3h0M1676.3 358.9h0M1714.2 516h0M1696.2 443.4h0M1747.9 477.3h0M1749.1 501.1h0M1737.5 457.5h0M1689.8 508.9h0M1702.9 499.9h0M1673 402.2h0M1730.8 464.2h0M1681 511.7h0M1701.7 497.9h0M1688.6 473.1h0M1684.6 381.7h0M1672.5 498.2h0M1696.7 435.3h0M1733.7 473.3h0M1679.7 503.6h0M1741.4 500.4h0M1708.5 514.2h0M1669.9 448h0M1689.9 426.5h0M1696.7 431h0M1726.7 514.3h0M1726.9 515.9h0M1701.7 496.8h0M1683.7 468.8h0M1721.7 476.9h0M1702.9 489.5h0M1722.5 470.9h0M1739 429.3h0M1672.2 502.7h0M1697.6 458.5h0M1703.4 498.8h0M1717.4 496.3h0M1683.7 481h0M1723 467h0M1701.8 518.5h0M1723.2 462.1h0M1745.4 449.1h0M1750.3 473.4h0M1692.6 463.9h0M1716.5 511.2h0M1676.3 488.9h0M1669.4 432h0M1695.8 462.9h0M1716.2 500.4h0M1690.2 423.8h0M1682.5 450.3h0M1734.2 504.1h0M1702 466.3h0M1656.9 477.3h0M1724.6 457h0M1719.5 511.9h0M1649 489h0M1662.8 479.2h0M1704 512.3h0M1678.9 418.6h0M1694.5 515.3h0M1696.8 508.3h0M1694 428.7h0M1690.2 496.1h0M1719.8 516.5h0M1724.7 479.4h0M1700.7 463.6h0M1721.1 474.4h0M1725.3 480.8h0M1750.3 451.9h0M1680.2 512.9h0M1751.5 401.7h0M1676.3 497.4h0M1689.5 477.6h0M1700 447.4h0M1695.5 484.2h0M1702.8 464.1h0M1743.5 341.7h0M1729.9 476.5h0M1676.2 414.2h0M1700 514.2h0M1687.3 475.2h0M1735.8 411.9h0M1686.8 450.2h0M1737.4 507.1h0M1663.5 494.8h0M1722.4 497.9h0M1739.2 372.1h0M1672.1 458.5h0M1734.5 513.7h0M1702.7 470.4h0M1695.1 494.2h0M1730.8 429.9h0M1707.6 514.9h0M1730.4 510.1h0M1657.5 485.5h0M1693.8 497.2h0M1730.2 486.1h0M1698.1 452.8h0M1658.9 479.5h0M1706.6 491.5h0M1717.5 511.8h0M1695.3 458.1h0M1693.1 450.6h0M1751.2 478.2h0M1734.4 465.4h0M1690 445.2h0M1686.9 489h0M1702.8 463.1h0M1649.6 480.9h0M1694.5 457.4h0M1725.5 492.5h0M1746.7 503.3h0M1695.3 455.6h0M1703.2 515.6h0M1730.3 470.1h0M1708.9 505.8h0M1692.2 444.8h0M1704.4 498.5h0M1754.6 288.1h0M1683.1 496.9h0M1693.2 412.1h0M1705.1 479.7h0M1690.9 474.5h0M1706.4 499.8h0M1697.6 509.5h0M1729.7 511.4h0M1755.4 447.2h0M1698.3 472.4h0M1724.9 451.6h0M1702.2 515.2h0M1680.7 464.6h0M1751.8 442.8h0M1705.4 517.4h0M1700.5 500.8h0M1736.8 513.5h0M1635.4 478.5h0M1721.3 512.4h0M1723.2 471.3h0M1689.9 431.7h0M1720 510.7h0M1753.7 486.2h0M1678.7 450.4h0M1718.6 513.7h0M1673.5 470.8h0M1732.9 510.8h0M1731.1 470.2h0M1746.2 362.1h0M1734.3 454.7h0M1722.2 498.1h0M1682.7 491.6h0M1658.7 486.2h0M1721.7 501.5h0M1692.9 462.9h0M1681.7 480.2h0M1728.6 506.2h0M1731.1 425.9h0M1725.7 510.7h0M1672.7 491.6h0M1656.7 498h0M1681.9 488.4h0M1697.4 475.3h0M1687.8 426.9h0M1664.2 479.4h0M1687.4 479.3h0M1733.8 412.8h0M1689.2 476.7h0M1660.8 500.3h0M1722.9 504.3h0M1715.9 500.1h0M1702 518.1h0M1732.5 501.5h0M1680.7 503.6h0M1761.4 490.2h0M1709.2 508.3h0M1752.2 472.9h0M1716.6 500.2h0M1734.4 440.3h0M1689.2 507.2h0M1711.7 513.5h0M1692 412.3h0M1695 432.3h0M1707 501h0M1723.4 467.8h0M1716.5 507.2h0M1655.4 493.2h0M1681.9 490.9h0M1706.6 491h0M1676.3 494.2h0M1694 464.7h0M1772.2 484.1h0M1687.1 500.5h0M1662 503.3h0M1736.6 474.5h0M1647.1 478.9h0M1743.4 466.3h0M1689.6 445h0M1701.4 517.4h0M1748.5 381.6h0M1687.9 419.5h0M1722.1 475.3h0M1711 517h0M1691.2 413h0M1718.7 497.5h0M1715.6 516.1h0M1716.6 512.8h0M1757.8 488.9h0M1690.3 507h0M1693 473.8h0M1692.6 446.5h0M1723.2 471.5h0M1695.1 515.8h0M1686.1 449.3h0M1683.1 368.8h0M1722.5 478h0M1675.5 366.4h0M1698.3 446.9h0M1737.1 488.3h0M1697.1 464.2h0M1739.5 483h0M1703.9 508.5h0M1724.8 505.6h0M1744.3 493.7h0M1699.6 506.9h0M1669.3 470h0M1700.8 466.6h0M1696 452.4h0M1718.6 512.2h0M1704.9 499.9h0M1749 354.2h0M1706.3 497.9h0M1751 445.4h0M1696.2 500.6h0M1738.3 476.3h0M1733.4 445.6h0M1717.1 493.4h0M1748.8 491.5h0M1742.4 455.3h0M1674.3 448.6h0M1709.8 511.5h0M1753.5 474.4h0M1684.7 437.4h0M1679.6 413.7h0M1706.1 507.9h0M1673.5 506.4h0M1708 501.1h0M1706.4 517.3h0M1739 379.7h0M1712.3 516.8h0M1751.5 446.9h0M1735.2 409.5h0M1719.8 504.9h0M1692.1 453.8h0M1729.3 463.9h0M1747.9 477.8h0M1748.5 414.4h0M1690.1 433.7h0M1739.6 503h0M1656.1 493.1h0M1682.8 506.6h0M1753.3 488.2h0M1698.9 471.7h0M1694.2 510.7h0M1707.2 509.9h0M1707.4 506.5h0M1657.6 495.8h0M1736.3 506.2h0M1702.3 509.8h0M1679.2 510h0M1702 515.8h0M1674.6 487.3h0M1742.2 503.9h0M1689.9 423.9h0M1702.5 493.7h0M1727.9 474.4h0M1737.1 468.9h0M1697.7 451.9h0M1722.7 504.3h0M1721.8 463.9h0M1687.5 406.1h0M1728 512.6h0M1705.8 494.5h0M1700.9 453h0M1695 430.4h0M1726.5 471.2h0M1744.1 418.5h0M1681.4 507h0M1710.2 518.5h0M1647.1 478.1h0M1758.1 487.4h0M1721.1 517.7h0M1695.2 434.6h0M1718.6 482.1h0M1721.1 510.3h0M1744.8 498.9h0M1726 457.8h0M1750.4 484.8h0M1668.1 491.9h0M1697.6 501.1h0M1638.1 479.3h0M1728.5 465h0M1687.1 392.5h0M1725.7 493.7h0M1691.3 471.7h0M1705.1 503h0M1697.4 504.6h0M1718.5 496.3h0M1722.5 499.2h0M1745.5 334.4h0M1739.9 431.5h0M1682.3 431.2h0M1720.9 495.3h0M1726.6 487.7h0M1677.7 337.7h0M1684.7 460.3h0M1730.9 437.5h0M1758.3 481.6h0M1695.7 442.9h0M1684 482.5h0M1747.1 410.9h0M1714.9 512.9h0M1709.8 509.6h0M1741.2 435.9h0M1684.7 491.6h0M1719.8 509.8h0M1733.2 438h0M1697.2 501.5h0M1755.5 385.2h0M1725.8 487.1h0M1737 437.3h0M1691.1 471.2h0M1716.8 496.4h0M1697.1 440.6h0M1692.3 473.9h0M1713.8 516.7h0M1698.3 500.6h0M1740.2 488.6h0M1681.7 367.5h0M1753.3 503.6h0M1746.3 479.8h0M1722.6 489.1h0M1753.9 428.2h0M1718.2 493.7h0M1752.3 473.4h0M1728.7 440.2h0M1700.7 457.9h0M1690.9 421.5h0M1699.5 449.9h0M1671.4 287.3h0M1710.9 514.2h0M1667.8 499.4h0M1717.1 491.3h0M1717.3 504.9h0M1743.5 397.1h0M1712.3 516.7h0M1733.5 403.8h0M1693.6 424.9h0M1709.1 514.2h0M1701.3 465.5h0M1670.2 506.4h0M1755.4 388.2h0M1703.4 502.9h0M1714.7 513.6h0M1692.9 456.2h0M1693.5 503.3h0M1730.2 477.3h0M1714.7 512.1h0M1708.8 507.2h0M1701.9 475.3h0M1715.2 503h0M1706.1 487.8h0M1727.1 505.2h0M1697.8 513.8h0M1695.2 511.8h0M1664.8 493.9h0M1686.2 379.5h0M1676.3 437.9h0M1688.6 512.2h0M1690.8 451.5h0M1693.1 428.1h0M1768.2 481.3h0M1694.6 466.2h0M1688.5 397.3h0M1734 490.1h0M1708.7 505.3h0M1703.7 478.4h0M1716.7 511.6h0M1707.9 501.4h0M1723.2 483.2h0M1723.3 473.2h0M1693.3 485.3h0M1703.8 500.3h0M1714.6 506h0M1744.8 506.9h0M1678.8 509.4h0M1686.6 507.4h0M1752.3 470.8h0M1660.2 486.4h0M1753.1 495.1h0M1693.1 423.2h0M1706.8 516.6h0M1717.3 507.2h0M1693.7 464.4h0M1687 447.3h0M1696.7 505.5h0M1746.2 506.3h0M1748 457.7h0M1687 397.3h0M1754.9 480.3h0M1704.7 483.8h0M1734.4 480h0M1685.4 497h0M1733.9 488.6h0M1673.7 426.6h0M1710.2 511.6h0M1728.5 448.2h0M1725.3 503.2h0M1700.8 491.2h0M1633.4 480.8h0M1725.6 453.2h0M1695.2 512.8h0M1705.1 504.2h0M1679.5 417.7h0M1685.7 494.3h0M1744 481.2h0M1706.4 509.4h0M1688.5 497.3h0M1701.5 493.1h0M1731.6 477.9h0M1734 452.5h0M1678.4 426h0M1686.7 497.4h0M1708 504.3h0M1681.5 509.6h0M1739.7 501.8h0M1730.2 504.7h0M1676.5 485.4h0M1707.3 518.6h0M1717.4 515.7h0M1738.1 390.9h0M1712 518.7h0M1706 485.7h0M1701.4 467.6h0M1690.4 475.1h0M1732 491.7h0M1691 514.7h0M1681.9 471.2h0M1728.1 461.2h0M1763.5 491.5h0M1690.6 413.8h0M1696.8 434.6h0M1687.5 511.2h0M1727.2 475.9h0M1702.6 513.4h0M1692.5 515.3h0M1735.6 501h0M1748.2 422.1h0M1712.2 515.1h0M1690 420.4h0M1725.5 479.6h0M1741.8 481.4h0M1710.1 509.2h0M1701.1 514h0M1727.1 459.2h0M1739.1 392.2h0M1718.4 517.4h0M1706 493.6h0M1714.7 502.1h0M1681.7 473.2h0M1669 473.9h0M1683.4 504h0M1716.4 517.6h0M1732.2 413.2h0M1699.9 513.2h0M1708.8 515.1h0M1655.4 484.6h0M1734.4 423.6h0M1725.6 458.7h0M1725.2 487.4h0M1670.2 498.3h0M1722 510.9h0M1731.5 424.5h0M1721.7 465.5h0M1728.8 490.9h0M1671 445.6h0M1682 456.7h0M1736.2 479.2h0M1717 508h0M1690.1 489.1h0M1676.3 455h0M1750.8 440.3h0M1767.7 496.6h0M1735.7 466.6h0M1724 471.4h0M1645.1 493.5h0M1734.2 489.3h0M1747.7 444.1h0M1721.2 471.2h0M1700.9 486.1h0M1754.1 498.7h0M1724.7 468.9h0M1721.9 509.3h0M1705.4 484.5h0M1709 512.3h0M1688.9 504h0M1722.6 461.9h0M1739.3 487.9h0M1693 466.3h0M1708 502.5h0M1755.6 448.8h0M1670.5 496.6h0M1724.8 503.6h0M1703.6 499.6h0M1681.1 407.7h0M1756.1 497.7h0M1719.1 510.1h0M1745.6 503.4h0M1675.4 486.6h0M1703.3 517h0M1713.9 509.3h0M1702.3 509h0M1735.6 509.2h0M1731.9 503h0M1721.4 461.8h0M1694.5 477.5h0M1684.2 498.1h0M1673 363.7h0M1706.2 512.3h0M1686.4 467.9h0M1686.9 506.8h0M1751.4 475.7h0M1681.1 483.3h0M1678.8 438.1h0M1724.2 499.1h0M1754.2 463.7h0M1672.7 469.6h0M1723.9 499.4h0M1705.6 497.1h0M1723 504.6h0M1718.7 509.8h0M1698.1 512.1h0M1764.8 479.6h0M1697.2 512.7h0M1704.6 477.7h0M1719.7 489.6h0M1689.3 483.8h0M1747 415.8h0M1683.6 501.8h0M1709.9 514.2h0M1745.7 503.6h0M1721.3 495.2h0M1745.4 448.8h0M1751.2 402.3h0M1744.1 448h0M1675.1 431.5h0M1684.9 498h0M1710.4 517.2h0M1657.4 487.4h0M1694.1 469.4h0M1731.3 481.1h0M1731.2 479.9h0M1715.9 514.7h0M1697.5 513h0M1746.4 506.8h0M1706.5 506.2h0M1700.2 491.6h0M1683.1 477h0M1686.8 399.2h0M1701.4 507.2h0M1737.6 377.1h0M1663.9 497.6h0M1689.9 509.6h0M1717.5 501.8h0M1694.3 506.2h0M1726.6 491.5h0M1692.6 496.7h0M1742.9 509.3h0M1685.2 489.8h0M1737.1 506.8h0M1697.6 499h0M1717.2 514h0M1693.7 472.9h0M1703.6 503.6h0M1676.2 486.3h0M1681.1 420.8h0M1737 509.1h0M1712.8 512.1h0M1710.8 517.5h0M1766.2 477.9h0M1628.1 478.2h0M1711 517.5h0M1674.5 459.3h0M1761.2 478.6h0M1707.5 512.1h0M1704.6 518.6h0M1699.5 461.4h0M1700.6 457.2h0M1697.6 512.7h0M1734.2 446.3h0M1678.6 437h0M1677.5 435.2h0M1740 428.6h0M1688.3 495.8h0M1706.3 508.4h0M1678.1 347.4h0M1708.6 505.3h0M1697 463.5h0M1653 484.1h0M1722 513.1h0M1731.4 503.6h0M1736.9 509.1h0M1733.4 396.3h0M1679.4 511.1h0M1713.9 501.9h0M1751.4 446.6h0M1742 480.5h0M1676.2 428.5h0M1738.5 452.8h0M1691.7 510.8h0M1707.2 500.9h0M1678.8 335.3h0M1703.6 465.2h0M1689.7 465h0M1765.5 477.9h0M1742.3 510.1h0M1670.7 302.7h0M1682.9 465.7h0M1697.6 509.4h0M1709.3 514.8h0M1699.8 511.2h0M1725.3 459.9h0M1705.5 502.3h0M1690.4 406.4h0M1696.2 506.7h0M1703.2 500.8h0M1703.4 485.9h0M1716.7 508.6h0M1685.2 497.1h0M1686.8 506.3h0M1695.8 516.5h0M1734.5 452.8h0M1705.6 507.7h0M1714.1 506.7h0M1696.9 462.3h0M1726 457h0M1709.4 514h0M1675.5 444.9h0M1690.6 418.9h0M1742.8 460.6h0M1708.2 495.6h0M1695.5 510.9h0M1695.3 424.6h0M1709.7 507.4h0M1684.4 427h0M1649.1 477.8h0M1726.7 479.6h0M1736.5 405.8h0M1694.7 436.5h0M1714.6 515.8h0M1738.7 501.1h0M1742.9 450.9h0M1674.1 428.7h0M1721.9 516.2h0M1712.8 518.7h0M1726.5 464.4h0M1699.2 455.5h0M1685.3 445.8h0M1685.9 440.7h0M1745.3 436.6h0M1723.8 454.8h0M1684.7 429h0M1673.6 303h0M1689 397.3h0M1694.5 464.2h0M1679.2 464.1h0M1724.9 501.1h0M1693 499.3h0M1661.1 487.7h0M1662.2 492.6h0M1731 477.1h0M1684.1 464.2h0M1718.2 518.1h0M1702.1 503.6h0M1706.5 509.3h0M1718.7 512.1h0M1729.7 429.2h0M1730.9 420.6h0M1733.8 511.4h0M1728.8 445.4h0M1735.4 429.7h0M1733.7 493.5h0M1649.3 483.7h0M1708.5 503.4h0M1754 385.5h0M1742.6 377h0M1675.4 484h0M1734.9 468.4h0M1685.5 481.8h0M1698.3 503.6h0M1727.3 473.3h0M1763.6 477.5h0M1725.7 464.6h0M1693.6 479.6h0M1681.3 361.2h0M1735.5 467.1h0M1700.5 510.1h0M1743.4 474.5h0M1675.7 506.1h0M1701.6 471.8h0M1737 390.4h0M1716.8 490.8h0M1703.6 470.2h0M1695.5 512.6h0M1672.9 471.4h0M1703.4 508.4h0M1722 484.2h0M1690.4 420.8h0M1699.2 451.4h0M1695.7 501.2h0M1660.9 480.8h0M1739.1 492.8h0M1716.9 514.1h0M1738.9 370.1h0M1688.8 428.2h0M1731.8 451.3h0M1693.5 471.6h0M1695.1 433.6h0M1668.9 464.6h0M1673.5 451.5h0M1687.2 415.7h0M1679.2 482.2h0M1716.4 499h0M1671.8 425.3h0M1704.2 518.4h0M1678.3 502.1h0M1701.7 506.5h0M1726.4 492.8h0M1683 511.4h0M1746.4 510.7h0M1671.1 477.8h0M1707 493.9h0M1691.1 397.4h0M1690.7 405.5h0M1737.9 436.9h0M1692.2 500.9h0M1748.7 439.9h0M1711.8 513.5h0M1728.5 438h0M1669.5 331.5h0M1695.5 466.1h0M1671.2 436.5h0M1693.6 419.7h0M1748.6 478.4h0M1701.9 497.3h0M1688.3 499.2h0M1727.5 490.1h0M1684.8 437.2h0M1683.9 401.6h0M1740.3 365.6h0M1695.8 502.6h0M1691.9 458.9h0M1756.4 480.9h0M1679.8 508.1h0M1721.9 463.4h0M1682.5 453.4h0M1690.7 502.1h0M1692.3 423.1h0M1683.6 457h0M1736.1 510.9h0M1682.7 487.1h0M1701.9 475h0M1730.5 497.5h0M1694.4 484.3h0M1671 487.4h0M1695.6 511.3h0M1724.2 512.5h0M1684.1 444.2h0M1706.5 491.6h0M1715.8 515.3h0M1681.8 500.3h0M1739.2 504.6h0M1724.9 464.7h0M1693.4 470.8h0M1735 392.6h0M1683.5 478.8h0M1721.8 485.4h0M1689.6 496h0M1695.8 509.4h0M1680.7 494.5h0M1674.5 475.8h0M1693.6 436.6h0M1700.4 498.6h0M1692.4 457.2h0M1680.3 436.8h0M1690.6 497.8h0M1700.4 472.9h0M1709.2 501.6h0M1693.8 512.1h0M1739.8 505.4h0M1681.4 493.3h0M1697 460.1h0M1678.2 491.2h0M1723.2 501.2h0M1687.8 494h0M1682.2 494.7h0M1747 473h0M1721.3 476h0M1708.9 517.5h0M1678.9 511.4h0M1679.1 474.4h0M1710.4 517.4h0M1678.7 446.4h0M1717.3 515h0M1690 453.7h0M1701.7 467.5h0M1690.5 418.4h0M1684.4 482.5h0M1732.6 471.8h0M1715.7 515.1h0M1718.7 518.1h0M1696.3 498.9h0M1699.7 477.5h0M1679.8 493.4h0M1693.5 429.9h0M1750.9 419.2h0M1703.2 504.9h0M1747.7 337.7h0M1732.8 425.6h0M1688.2 470.2h0M1753.1 444.5h0M1731.3 473.2h0M1724.4 502.4h0M1701.7 480.2h0M1672.8 467.7h0M1735.4 507.4h0M1726.9 433.1h0M1681.4 491h0M1719.1 510.5h0M1724.1 459h0M1705.7 491.6h0M1742.8 460.7h0M1731 513.4h0M1690.7 464.7h0M1672.1 464.9h0M1685.8 509.9h0M1722.7 469.1h0M1747.5 507h0M1713.9 508h0M1700.6 504.7h0M1691.2 473.6h0M1737.1 392.2h0M1688.1 445.7h0M1752.9 369.7h0M1697.9 474.6h0M1700 505.8h0M1687.4 480.5h0M1704.2 507.8h0M1710.1 515.9h0M1744.9 365.5h0M1688.7 433h0M1673.1 428.1h0M1709.3 502.6h0M1667.5 494.8h0M1674.1 365.7h0M1715.9 516.1h0M1699.9 462.2h0M1690.4 470.8h0M1673.1 415.5h0M1671.5 505.2h0M1749.8 503.1h0M1683.4 508.1h0M1752.1 486.5h0M1749.4 394h0M1721 512.9h0M1721.6 484h0M1690 487.2h0M1684.9 449.6h0M1734.9 406.6h0M1677.8 491.4h0M1684.3 506.2h0M1726.2 452.8h0M1712.7 515.9h0M1747.2 502.9h0M1678.7 416.4h0M1718.3 515h0M1683.9 406.3h0M1723.8 505.5h0M1670.4 429.9h0M1691.6 440.9h0M1737.6 396.9h0M1724.7 496.2h0M1699.6 473h0M1735 425.9h0M1761.1 488.4h0M1745.5 478h0M1695 509.8h0M1704.2 478.2h0M1736.4 464h0M1669.4 499.9h0M1657.5 488.7h0M1722.1 509h0M1671.8 505.9h0M1755.4 485h0M1689.9 453.3h0M1675.1 490.6h0M1737 415.9h0M1739.4 483.2h0M1695.6 456.7h0M1695.3 514.2h0M1738 397h0M1691.5 502.5h0M1684.2 383.9h0M1672.9 357.8h0M1739.3 501.4h0M1728.4 434.1h0M1760.4 485h0M1744.3 465.8h0M1750.2 359.9h0M1674.3 403.1h0M1743.3 429.8h0M1719 517.6h0M1673.2 347.3h0M1735.6 398.3h0M1671.6 347.8h0M1758.8 480.6h0M1721 489h0M1673.5 421.7h0M1725.5 440.1h0M1681.1 404h0M1681.1 508.5h0M1758.9 488.2h0M1720.3 468.5h0M1751.1 501.3h0M1697.4 497.7h0M1698.9 503h0M1682.6 401.1h0M1746.8 491h0M1688.8 512.4h0M1676.1 447.9h0M1689.4 493.5h0M1692.8 411.7h0M1742.6 432.1h0M1676.2 440.1h0M1733.6 476.9h0M1722.2 505.6h0M1701.7 517h0M1672.6 399.5h0M1685.6 426.1h0M1707 514.6h0M1746.4 347.7h0M1698.1 437.2h0M1691.9 414.6h0M1669 468.2h0M1732.5 501.3h0M1728.9 483.9h0M1693.2 513.8h0M1717.5 505h0M1686.8 394.4h0M1695.3 429.9h0M1705.1 483.8h0M1771.1 477.4h0M1725.3 512.8h0M1724.5 510.9h0M1726.1 444.6h0M1742.6 476.3h0M1698.8 467h0M1719.8 483.3h0M1708.9 497.2h0M1669.5 445.1h0M1687.6 398.5h0M1733 482.7h0M1700.1 462.8h0M1733.9 450.2h0M1727.1 503.1h0M1724.4 493h0M1715 518.6h0M1700.2 501.1h0M1686.8 486.2h0M1668.7 390.5h0M1669.6 493.8h0M1700.5 462.8h0M1732.9 455.2h0M1752.6 455.7h0M1681.8 508.8h0M1704.3 470.6h0M1724.8 507.9h0M1698.9 504.3h0M1666.3 486.4h0M1707.6 515.9h0M1682.4 417.8h0M1672.7 502.4h0M1723.1 458.7h0M1690.2 464.4h0M1694.1 476.9h0M1686.4 503.9h0M1678.3 457.1h0M1701.3 485.1h0M1693 486.3h0M1695.8 508h0M1709.8 518.6h0M1755.1 441.7h0M1722.9 509.2h0M1671.7 302.1h0M1727.1 459.4h0M1687 504.5h0M1673.5 443.9h0M1684.5 377.9h0M1693.3 463.4h0M1728.4 514.7h0M1704.9 510.9h0M1721.3 514.5h0M1729.4 502.8h0M1729.5 509.4h0M1724.5 479.5h0M1703.4 518.6h0M1722.1 470.3h0M1712.9 518.4h0M1753.6 407.8h0M1747 453.4h0M1734.3 507.5h0M1674.5 471h0M1715.6 509.3h0M1746.5 506.4h0M1652.6 493.7h0M1745.1 499.1h0M1728.7 512.6h0M1711.1 515.9h0M1759 477.3h0M1725.4 509.3h0M1695.4 498.7h0M1724.3 495.6h0M1726.6 516.8h0M1730.7 423.9h0M1728.5 468.5h0M1711.8 516.7h0M1697.7 461.7h0M1709.5 514.2h0M1703.1 517.8h0M1689.6 395.1h0M1730.7 485.6h0M1718.1 517h0M1733.3 453.9h0M1698.1 509.2h0M1693.4 486.1h0M1699.8 503.2h0M1692.9 509.3h0M1722 470.2h0M1700.2 498h0M1696.1 506.8h0M1692.8 457.5h0M1742.7 509.4h0M1692.2 451.2h0M1724.1 514.4h0M1694.5 488.7h0M1723.6 454.7h0M1692.2 464h0M1715.7 509h0M1702.7 511.6h0M1715.2 517.6h0M1692.2 437.7h0M1714.7 509.3h0M1676.7 398.8h0M1659.2 488.3h0M1722.7 468.9h0M1738.1 504.3h0M1704.7 518.7h0M1711.9 516h0M1679.3 498.7h0M1703.8 472.1h0M1742 426.8h0M1716.8 510.3h0M1728.8 457.9h0M1731.2 509.3h0M1706.2 518.5h0M1706 509.6h0M1694.4 503.3h0M1711 513.5h0M1686.7 505.3h0M1714.2 502.6h0M1690.1 454.8h0M1721.4 517.7h0M1722.7 467.4h0M1702.8 469.9h0M1730.8 465.1h0M1701.7 456.2h0M1698.8 514.3h0M1725.9 486.2h0M1740.8 509.6h0M1777.4 482.1h0M1729.3 475.9h0M1699.1 461.4h0M1731.3 470.2h0M1696.8 499.8h0M1741.3 387.7h0M1696.5 448.5h0M1696 474.2h0M1739.3 408.8h0M1702.1 484.1h0M1688.3 409.7h0M1725.5 513h0M1691.6 459.2h0M1732.6 449.3h0M1698.4 451.3h0M1670.5 430.3h0M1699.3 478.3h0M1734.9 402.7h0M1725.4 461h0M1695.6 434h0M1723.6 472.9h0M1737.4 392.8h0M1681.8 414.9h0M1703.1 487.3h0M1690.7 501.6h0M1672.2 481h0M1724.6 469.5h0M1694.4 475.2h0M1728.7 509.6h0M1666.1 483h0M1687.5 437.1h0M1762.4 499.7h0M1704.2 505.8h0M1694.9 435.4h0M1736 470.3h0M1702.6 468.9h0M1739.4 472.9h0M1689.8 474.5h0M1695.4 500.6h0M1724.4 514.1h0M1704.9 488.9h0M1717.6 517.7h0M1749.4 498.2h0M1732.3 513.5h0M1700.2 512.4h0M1715 508h0M1750.2 479.5h0M1704.2 515.6h0M1755.2 462h0M1768.3 485.8h0M1728.1 452.3h0M1722 498.6h0M1690.3 420.7h0M1688.7 509.6h0M1763.6 494.8h0M1735 458.2h0M1683.7 449h0M1662.4 484.7h0M1726 444.9h0M1703.6 503.8h0M1685.3 483h0M1669.4 398.4h0M1688.8 387.9h0M1736 426.7h0M1692.3 511.4h0M1720.1 490h0M1738.8 425h0M1719.5 507.7h0M1708.3 518.2h0M1737.5 497.9h0M1743.8 357.9h0M1689.8 433.1h0M1692 479.3h0M1674 489.1h0M1684.3 477.8h0M1737.7 449.2h0M1696.5 500.2h0M1735.1 511.8h0M1729.7 488.1h0M1694.1 512.2h0M1674.5 467.6h0M1692.7 490.6h0M1701.2 463.5h0M1751.3 402.6h0M1702 467.3h0M1692.9 417.1h0M1691.8 471h0M1717.6 495.8h0M1676.3 347.5h0M1687.9 389h0M1723.4 469.7h0M1722.7 462.3h0M1760.9 483.3h0M1695.2 444h0M1699.7 517h0M1713.7 514h0M1716.8 507.1h0M1748.1 470h0M1719.6 512.6h0M1662.8 479.4h0M1715.7 503.5h0M1677.3 441.6h0M1735 462.2h0M1701.6 512h0M1696 485.4h0M1695.8 494.7h0M1734.2 461.5h0M1749 366.3h0M1672.6 501.3h0M1693.2 420.8h0M1668.9 499.9h0M1703.4 484.2h0M1733.8 509.9h0M1692.5 416.2h0M1707.1 519h0M1746.8 452.1h0M1703.2 491.9h0M1707.9 518.2h0M1715.1 518.4h0M1727.6 468.3h0M1691.7 502.6h0M1715.1 510.7h0M1687.8 428.1h0M1723.1 466.5h0M1698.8 454.5h0M1652.6 487.9h0M1688.6 439.3h0M1733.8 400.7h0M1747.4 423.1h0M1696.4 469.8h0M1694.1 447h0M1692.8 513h0M1703.9 484.9h0M1703.9 471h0M1692.9 506.9h0M1688.9 498.2h0M1729.9 499.9h0M1703.1 513.3h0M1681.1 499h0M1722 517.7h0M1685.6 459.8h0M1730.5 454.5h0M1683.2 449.9h0M1701.2 471.3h0M1695 515.9h0M1733.3 458.5h0M1701 461h0M1704 514h0M1701.7 515.1h0M1734.4 396.2h0M1685.3 504.6h0M1723.9 469.7h0M1765.1 492.8h0M1735.6 410.7h0M1728.6 484.8h0M1695.3 461.6h0M1730.2 512.8h0M1753.5 320.4h0M1706.3 501.8h0M1712.8 511.6h0M1676.3 488.8h0M1728.4 506.4h0M1762.5 490h0M1734.9 459.7h0M1704.9 517.6h0M1747.3 471.5h0M1707.4 513.1h0M1742.3 495.3h0M1647.1 485.4h0M1737 448h0M1669.9 445.6h0M1673.7 491.7h0M1746.3 442.6h0M1733.6 423.1h0M1691.9 404.7h0M1705.2 516.7h0M1723.4 467.9h0M1708.2 518.4h0M1724.1 498.6h0M1678.9 489.8h0M1749.9 389.6h0M1700.9 514.5h0M1717.7 497.4h0M1726.9 506.6h0M1753.1 395.2h0M1736.9 480.3h0M1740.1 383.4h0M1723.4 467.1h0M1702.2 475.4h0M1679.1 482.5h0M1731.8 447.4h0M1673.8 466.7h0M1697.1 457.7h0M1723.6 457.2h0M1716.9 512.9h0M1726.3 514.4h0M1681.1 437.7h0M1715.7 497.2h0M1732.4 413.2h0M1698.5 515.2h0M1693.4 510.9h0M1740.5 428.3h0M1709 511.7h0M1726.3 512.7h0M1749.9 478.4h0M1702.8 468.1h0M1749.5 428.4h0M1748.2 421.4h0M1721 475h0M1723.1 465.2h0M1707.1 509.7h0M1694.1 425.2h0M1706.9 514.2h0M1684.1 475h0M1679.1 506.3h0M1696 500.2h0M1677.4 456.4h0M1717.3 518.7h0M1696.3 466.7h0M1684.6 471.9h0M1733.7 437.3h0M1716.5 504.8h0M1731.3 502.7h0M1696.5 484.1h0M1672.5 304.7h0M1731.6 405.5h0M1697 507.5h0M1693.8 504.5h0M1734.1 411.8h0M1701 516.3h0M1685.6 502.3h0M1675.2 452h0M1769.8 487.1h0M1674.4 432.7h0M1718.8 501.3h0M1691.4 453.8h0M1705.4 507.3h0M1671.2 499.8h0M1695.2 473.9h0M1742.1 473.5h0M1735.9 466.4h0M1696.8 450h0M1730.3 458.2h0M1729.3 508.9h0M1725.7 517h0M1668.3 483h0M1708.7 503.2h0M1738.7 412.2h0M1699.3 481.9h0M1741.3 460h0M1677.7 502.2h0M1734.2 407.2h0M1717.3 498.2h0M1708.3 515.9h0M1688.2 433.7h0M1721.4 469.6h0M1688.6 442.6h0M1722.2 476.3h0M1694.8 433.7h0M1692.4 437.9h0M1723.6 501.8h0M1756.9 478.4h0M1688.4 498.3h0M1692.7 458.6h0M1695.3 513.9h0M1741.3 430.1h0M1697.5 478.9h0M1746.9 475.3h0M1713.9 507.7h0M1718.5 494.6h0M1688.1 476.6h0M1724.4 483.9h0M1688.2 441.3h0M1727.5 439.1h0M1673.4 409.4h0M1722.3 466.7h0M1682.5 508h0M1703.6 476.2h0M1733.9 511.8h0M1714.7 512.1h0M1679.8 493.7h0M1736 510h0M1696.9 434.8h0M1687.3 495.3h0M1738.5 449.1h0M1700.2 517.8h0M1736.3 385.7h0M1739.6 478.6h0M1656.9 483.5h0M1668.2 505.6h0M1639.8 484.3h0M1687.5 504.8h0M1698.7 496.4h0M1732.6 470.2h0M1690.2 510h0M1726.9 445.6h0M1685.1 509.9h0M1740.2 504.5h0M1653.7 478.2h0M1743.1 505.7h0M1721.2 475.2h0M1674.2 335.2h0M1734.6 479h0M1744.5 422.8h0M1673.6 468.8h0M1729.2 499.3h0M1725.2 452.8h0M1729.3 439.9h0M1697.5 508.4h0M1683.9 491.9h0M1678.9 488h0M1733.1 441.2h0M1726.6 510.5h0M1721 480.1h0M1741.1 506.8h0M1740.6 428.8h0M1740.4 399.3h0M1694.4 454.2h0M1698.8 505.7h0M1680.7 488h0M1679.5 503.5h0M1677.5 474.6h0M1749.7 485.9h0M1743.2 468.8h0M1688.2 475.3h0M1747.2 476.2h0M1682.8 416h0M1686.9 512.5h0M1706.2 507h0M1730.8 516.1h0M1691.9 476h0M1671.1 345.5h0M1692.8 511.9h0M1706.3 494.6h0M1710.7 516.8h0M1681.5 386.7h0M1702.4 474.4h0M1697.7 478.2h0M1694.3 506.1h0M1678.5 508.4h0M1727.7 459.3h0M1681.8 461.8h0M1721.5 490.3h0M1730.3 514.8h0M1665.8 496.2h0M1696.5 462.9h0M1732 414.3h0M1780.6 479.5h0M1709.6 506.6h0M1691.7 512.1h0M1679.2 447.7h0M1692.3 414.8h0M1670.8 397.7h0M1719.7 506h0M1736.5 507.5h0M1707 518.9h0M1719.4 474.5h0M1723 467.4h0M1669.7 291h0M1707 500.8h0M1727 494.2h0M1694.8 456.3h0M1737.2 504.2h0M1690.2 482h0M1704.3 518.4h0M1687.1 446h0M1729 483.8h0M1717.7 488.4h0M1714.3 517.7h0M1670.3 500.4h0M1747.5 440.2h0M1727.6 506.7h0M1696.9 485.6h0M1662.8 493.8h0M1717.9 479.2h0M1697.4 504.6h0M1669 456.5h0M1673.1 485.2h0M1727.3 503.4h0M1727.8 476.2h0M1734.2 473.2h0M1697.3 514.6h0M1705.7 496.9h0M1738.9 499h0M1694.2 490.9h0M1681 476.8h0M1708.2 513.8h0M1702.3 476.9h0M1686.7 402.3h0M1749 465.2h0M1734.4 401.7h0M1754.8 369.5h0M1699.3 474.4h0M1705.6 507h0M1741.9 479.8h0M1697.9 467.3h0M1699.9 471.3h0M1698.1 512.7h0M1732.6 412.1h0M1660.7 490.7h0M1681.4 386h0M1741 435.1h0M1695.8 497.4h0M1706.3 512.7h0M1722.9 479.2h0M1722 513.2h0M1719.9 490.6h0M1752.5 496.8h0M1724.9 510.2h0M1747.7 378.9h0M1695.8 421.4h0M1682 356.5h0M1697.5 451h0M1689.9 417.2h0M1681.9 401.8h0M1649 486.9h0M1704 502.8h0M1693.9 434.5h0M1715.7 511.8h0M1710.2 510.7h0M1680.8 399.6h0M1692.1 414.9h0M1695.1 434.3h0M1741.9 476.6h0M1699.5 441.7h0M1727.4 484.5h0M1728.3 491.3h0M1695.5 437.7h0M1690 485.5h0M1655 490.5h0M1738.2 403.7h0M1699.3 500.7h0M1743.8 481.6h0M1682.2 497.5h0M1701.5 467.5h0M1720.6 476.6h0M1735.6 406.6h0M1638.4 482.1h0M1678 397.2h0M1722.2 514.1h0M1686.5 478.3h0M1682.6 493.6h0M1731.1 472.1h0M1716.5 507.6h0M1752.1 470.7h0M1714.5 515h0M1676.1 359.5h0M1679.3 476.8h0M1715.4 501.1h0M1749.9 427.8h0M1731.7 417h0M1681.8 509.8h0M1657.8 479.4h0M1689.1 508h0M1681.7 498h0M1689.3 411.7h0M1709 502.7h0M1701.6 478.2h0M1691.5 478.9h0M1713.7 518.2h0M1744.2 468.9h0M1714.1 515.1h0M1722.8 477h0M1722.8 460.2h0M1687.5 467.8h0M1709.5 512.8h0M1707.7 511.6h0M1725.2 457.9h0M1705.5 517.8h0M1697 488.7h0M1755.2 406.7h0M1726.7 502.6h0M1695.1 490.1h0M1672 466.5h0M1658.3 498.6h0M1697.3 510h0M1689.1 422.1h0M1737.1 403.2h0M1730.3 441.2h0M1701.7 472.1h0M1718.7 504.5h0M1723.6 485.8h0M1749.4 454.6h0M1720.4 517.9h0M1734.6 441.7h0M1676.8 501.6h0M1704.1 485.4h0M1681.7 374.2h0M1706.9 506.6h0M1714.6 513.3h0M1723.7 513.1h0M1744.1 355.1h0M1688.8 492.4h0M1691.5 423.8h0M1690.2 399.2h0M1736.4 512.2h0M1742.8 482h0M1694.3 511.6h0M1673.4 422.2h0M1754.2 480.3h0M1702.4 514.6h0M1678.5 380h0M1689.9 405.9h0M1740.6 417.6h0M1692.1 456.8h0M1678.7 435.1h0M1742.5 362.5h0M1738.6 419.5h0M1745.9 453.7h0M1729.8 485.4h0M1718.3 513.8h0M1706.4 490.9h0M1734.9 398.4h0M1711.9 518h0M1747 361.3h0M1647.6 482.8h0M1729.6 476.6h0M1719.3 513.8h0M1728.1 492.3h0M1752.5 497.5h0M1687.6 492.2h0M1671.7 482.3h0M1728.5 502h0M1663.9 481.7h0M1670.4 464.7h0M1740.5 499.1h0M1687.4 460.5h0M1760.4 496.6h0M1738.5 508.8h0M1683.9 468.4h0M1720.5 514h0M1743.8 409.6h0M1717.3 496.6h0M1726 497.7h0M1643.9 477.8h0M1675.1 487.7h0M1648.8 481.1h0M1718.7 498.8h0M1682.5 510.2h0M1690.9 405.9h0M1750.6 464.4h0M1723.1 472.9h0M1754.1 407.3h0M1671.8 491.7h0M1727.7 475.6h0M1734.9 503.7h0M1722.6 474h0M1687.3 444.5h0M1745.9 453.1h0M1735.1 501.4h0M1670.5 370.2h0M1720.8 502.6h0M1689.7 462h0M1755.4 422.7h0M1695.3 430.1h0M1733.3 436.9h0M1685.8 493.3h0M1717.5 512.6h0M1707.9 518.5h0M1699.3 506.4h0M1698 467.6h0M1696.8 509.3h0M1746.7 425.3h0M1727.3 484.6h0M1741.8 423.9h0M1730.1 472.5h0M1690.9 513.8h0M1697 492.4h0M1686.4 375.6h0M1680.3 458.3h0M1707.7 495.5h0M1660.3 478.6h0M1686.2 410.9h0M1681.2 380.8h0M1685.2 491.8h0M1685 487.5h0M1740.3 371.4h0M1670.5 479.1h0M1643.7 478.8h0M1751.9 462.3h0M1744.6 482.3h0M1734.7 472h0M1702.3 471.9h0M1739.7 408.8h0M1700 464.8h0M1678.7 500.6h0M1692.4 417.4h0M1676 495.2h0M1734.5 452.4h0M1729.2 500.7h0M1736.3 404.4h0M1732.5 474.4h0M1681.3 478.7h0M1707.1 513.3h0M1739.2 439.8h0M1750.8 461.4h0M1736.6 393.3h0M1698.8 452.4h0M1682.5 446.9h0M1721.4 490.6h0M1670.4 381.1h0M1706.9 512.7h0M1693.8 439.6h0M1728 505.8h0M1689.7 488.8h0M1679.6 427.1h0M1737.8 502.5h0M1746.3 496.8h0M1699 514.5h0M1734 463h0M1699.7 506.1h0M1707.4 513h0M1718.2 494.2h0M1740.3 410h0M1703.9 474.9h0M1735.9 510.2h0M1716.2 501.4h0M1729.8 486h0M1645.4 479.5h0M1726.9 468.6h0M1693 473.5h0M1707 508.7h0M1718.4 495.9h0M1702.1 461.6h0M1747.9 466.1h0M1686.4 417.1h0M1701.8 464.5h0M1741.5 440.3h0M1744.7 502.6h0M1754.8 412h0M1708.3 516.3h0M1737.6 408.4h0M1727 477.4h0M1701 500.2h0M1730 479.8h0M1681.9 463.6h0M1760.8 487.2h0M1733.9 400.5h0M1724.5 444.1h0M1673.2 477.9h0M1742.2 472.8h0M1693.3 474.9h0M1683 440.6h0M1721.5 477.9h0M1679.5 452.2h0M1726.8 456.7h0M1703.1 479.3h0M1698.2 442.4h0M1708.4 511.5h0M1687.8 393.6h0M1684.6 509.3h0M1728.9 452h0M1736.7 403h0M1691.9 510.7h0M1729.2 428h0M1722.8 516.2h0M1735.8 429h0M1674.4 375.3h0M1758.4 496.9h0M1702 467.6h0M1736 460.9h0M1745.1 343.5h0M1715.5 497.8h0M1729.3 456.8h0M1708.2 518.3h0M1660.6 477.8h0M1699.2 450.3h0M1695.3 478.7h0M1679.2 449.7h0M1705.7 519h0M1715.7 513.3h0M1714.2 512.7h0M1740.5 462.3h0M1675.4 486.5h0M1709.4 510.3h0M1694.3 416.7h0M1727.6 513.5h0M1716 514.9h0M1671.8 335.2h0M1722.2 507.9h0M1688.5 493.7h0M1677.5 451.2h0M1704.4 503.3h0M1689.1 466.6h0M1683.7 369h0M1755.3 339h0M1775.3 489.5h0M1723.4 472h0M1704.9 495.4h0M1662.3 500.5h0M1693.7 461.1h0M1698.5 516.1h0M1723 469.4h0M1741.9 456.1h0M1704.1 510.9h0M1707.3 514.1h0M1690.8 474.9h0M1653.6 483.9h0M1739.7 500.6h0M1676.5 501.8h0M1670.2 470.1h0M1693.6 493.6h0M1732.2 435.2h0M1735.3 415.3h0M1716.1 514.8h0M1693.4 433.1h0M1740.6 365.2h0M1693.4 507.2h0M1736.7 384.8h0M1716.3 505.7h0M1729.3 477.6h0M1696.9 450.6h0M1692 513.6h0M1734.4 469.6h0M1707.1 517.8h0M1677.8 382.3h0M1715.6 507.5h0M1729.3 450h0M1681.1 428.1h0M1709.4 516.4h0M1680.7 352.9h0M1700.4 477.8h0M1678 448.8h0M1695.2 435.9h0M1689.7 412.4h0M1645.2 483.8h0M1780.5 480h0M1697 448.5h0M1725.1 517.5h0M1733.3 509.3h0M1699.5 508.2h0M1749.9 500.7h0M1746.6 461.7h0M1668.8 378h0M1720.5 479.3h0M1710.8 515.9h0M1701.3 483.1h0M1729.6 492.2h0M1734.7 444.3h0M1691.4 464.9h0M1722.8 491h0M1670.9 497.2h0M1713.6 509.9h0M1662 501h0M1670.4 479.5h0M1685.1 431.6h0M1730.6 495.4h0M1683.6 382.4h0M1694.8 472.9h0M1758.8 501.1h0M1717.8 518.7h0M1709.9 518.3h0M1746.3 500.5h0M1673 508.2h0M1719.6 496.4h0M1700.3 515.5h0M1743.6 422.1h0M1693 427.6h0M1709.5 517.8h0M1726.5 441.6h0M1742.6 477h0M1671 391.1h0M1688.1 508h0M1669.3 490.3h0M1717.9 515.8h0M1767.2 487.5h0M1746.3 468.9h0M1714.2 510.4h0M1742.9 499.8h0M1677.1 477.7h0M1675.8 503.4h0M1770.6 478.4h0M1689.2 508.3h0M1737.5 385.2h0M1674 482.5h0M1744.6 492.8h0M1741 505.9h0M1695.3 473.1h0M1692.8 515.1h0M1759.7 482.3h0M1737.4 510.9h0M1701.3 459.9h0M1728 484.7h0M1692.2 437.6h0M1751 454.9h0M1703.5 511.5h0M1723.1 516.4h0M1734.7 512.7h0M1682.9 457.2h0M1713.9 509.5h0M1717.7 502.7h0M1723.1 470.1h0M1700 511.7h0M1701.3 454.8h0M1694.5 470.3h0M1690.5 401.7h0M1696.9 454h0M1733.8 462.9h0M1696 509.2h0M1696.3 459.1h0M1671.2 448.6h0M1678.1 478.1h0M1688.8 488.5h0M1718.8 481.3h0M1698 516.8h0M1683.7 441.5h0M1748.4 498.2h0M1700.9 460.2h0M1697 490.9h0M1729.6 488.2h0M1654.6 479.4h0M1673.6 453.8h0M1730.3 513.6h0M1732.6 464.3h0M1716.7 501.9h0M1696.7 431.1h0M1704.3 480h0M1728.5 503.7h0M1671.1 362h0M1685.6 486.3h0M1739.7 505.6h0M1735.5 393.7h0M1680.1 495.3h0M1721.1 517.3h0M1686.6 420.2h0M1711.1 510.3h0M1690.8 490.9h0M1718.8 489.9h0M1735.8 420.1h0M1704 488.9h0M1700.5 503.7h0M1693.1 509.9h0M1699.8 476.7h0M1711.9 516.7h0M1674.2 506.4h0M1691 475.4h0M1702.2 468h0M1716.2 517.7h0M1674.6 434.4h0M1695.1 468.4h0M1651.9 490.3h0M1702.6 500.7h0M1702.3 462.8h0M1703.9 514.7h0M1717 510h0M1712.3 517.1h0M1680.5 509.6h0M1745.3 409.3h0M1726.8 456.8h0M1697.3 497.8h0M1698.1 502.2h0M1692.9 495h0M1720.1 480.5h0M1670.9 490.4h0M1708.8 517.5h0M1721.8 497.6h0M1692.2 452h0M1707.6 516.9h0M1726.5 503.5h0M1698.4 488.6h0M1730.3 497.5h0M1700.5 464.6h0M1735.2 512.9h0M1697.4 449.4h0M1734.8 500.8h0M1699.5 502.4h0M1674.4 498.4h0M1719 500.2h0M1714.4 500.4h0M1721.1 515.8h0M1740.5 415.8h0" stroke="#bebebe" stroke-width="5.5" stroke-linecap="round" fill="none"/><path d="M1666.8 461.5h0M1650.3 397.4h0M1642.5 350.4h0M1631.3 383.4h0M1604.5 445.3h0M1651.3 399.6h0M1634.7 463.7h0M1629.7 446.9h0M1758.1 471.7h0M1598.2 389.5h0M1645.9 461.7h0M1646.3 461.8h0M1632.7 443.1h0M1650.4 393.2h0M1787 467.5h0M1655.3 452.2h0M1791.4 464h0M1799.1 458.4h0M1762.2 386.2h0M1667.3 355.6h0M1801.6 446.8h0M1639.8 425.8h0M1648.2 474.3h0M1645.7 454h0M1637.4 449.5h0M1778.5 474.8h0M1645.9 324.9h0M1756.2 449.7h0M1803.5 418.1h0M1775.5 474.3h0M1649.4 353.2h0M1596.6 344h0M1656.6 448.4h0M1667.8 466.2h0M1622.1 451.8h0M1779.6 472.8h0M1636.7 467.3h0M1655.8 453.3h0M1775.7 382.8h0M1618.3 427h0M1792.9 389.3h0M1643.5 454.2h0M1660.3 430.9h0M1813.6 428.9h0M1622.3 398.6h0M1800.8 345h0M1769.5 463.9h0M1650.6 421.2h0M1759.6 359.8h0M1782 416.4h0M1646.5 452.4h0M1641.9 406.5h0M1755.7 476.9h0M1622 450.3h0M1624.7 399.5h0M1772.3 443.7h0M1615.3 362.9h0M1784.1 432h0M1612.4 412.6h0M1662.2 463.2h0M1660.5 467h0M1567.5 321h0M1767.4 321.2h0M1764.4 377.8h0M1666.3 354.4h0M1798.3 328.3h0M1655.6 286.1h0M1665.1 418h0M1797.7 448.1h0M1661.5 413.3h0M1661.7 432.8h0M1792.2 437.6h0M1815.2 402.6h0M1771.1 474.9h0M1634.3 403.3h0M1770.6 365.3h0M1655.5 475.3h0M1645.9 431.1h0M1664.1 423.1h0M1664.2 475.3h0M1755.7 353.6h0M1630 430.5h0M1602.1 364.5h0M1796.8 430.7h0M1770.8 446h0M1654.3 357.5h0M1788.6 460.3h0M1626 469.2h0M1783.2 390.6h0M1625.1 459.4h0M1656.1 469.8h0M1634.6 472.7h0M1605.2 346.5h0M1649.5 422.9h0M1663.8 400.5h0M1619.9 464.6h0M1792.1 450.1h0M1668.6 283.8h0M1667.3 464.2h0M1801.8 429.5h0M1666.8 438.2h0M1774.4 462h0M1638.9 421.4h0M1780 414.5h0M1819.9 437.4h0M1605.2 416.2h0M1766.1 397.8h0M1646.8 311.8h0M1621.4 437.9h0M1650.5 446.6h0M1653.6 420.5h0M1652.1 375.1h0M1784.9 391.1h0M1656 472.3h0M1607.6 417.5h0M1625.8 439.7h0M1595.5 362.6h0M1604.8 358.3h0M1655.5 430.6h0M1622 440.1h0M1760.8 385.2h0M1665.4 457.9h0M1653.7 461.6h0M1760.2 463.9h0M1644.6 476.4h0M1556.2 259.9h0M1809.7 430.4h0M1784.7 402.4h0M1623.5 426.2h0M1628.5 423.2h0M1665.4 465.4h0M1778.4 466.5h0M1806.3 419.8h0M1663.5 442.8h0M1662.9 457.1h0M1615 352.6h0M1647.6 437.2h0M1642.9 460.7h0M1642.9 399.6h0M1618.2 439.7h0M1664.7 418.1h0M1797.9 400h0M1668.3 462.7h0M1659.1 369.7h0M1662.9 442.3h0M1809.3 411.3h0M1799.7 428.6h0M1758.7 476.5h0M1789.3 465.5h0M1667.5 329.1h0M1638.6 402.9h0M1626 346.3h0M1806.6 444h0M1781 447.3h0M1760.9 397.9h0M1822.8 383.4h0M1650.1 448.5h0M1638.3 389.7h0M1638.8 403.8h0M1804 382.8h0M1624 428h0M1757.6 442.1h0M1594.3 407.1h0M1814.2 418.4h0M1757.6 442.2h0M1767.1 434.5h0M1664.2 461.6h0M1645.7 338.7h0M1618 451.7h0M1768.5 361.3h0M1760.5 356.6h0M1627 469.3h0M1666.9 357.9h0M1769.7 471.5h0M1605 447.8h0M1755.7 380.9h0M1633.8 452h0M1665.9 362.1h0M1607.5 358.7h0M1664.2 462.1h0M1647.7 446.8h0M1581.4 378.2h0M1775.7 349.4h0M1812.7 394.6h0M1650.6 461.7h0M1790.7 454.5h0M1786.5 438.6h0M1570.7 264.4h0M1608.2 452.9h0M1799 451.8h0M1637.1 452.8h0M1617.3 417.3h0M1763.7 421.3h0M1571 419.6h0M1597.7 303.2h0M1802.1 432.1h0M1654 287.2h0M1658.5 450.5h0M1617.9 424.8h0M1626.9 417.1h0M1667.9 464.5h0M1662.1 476.1h0M1840 361.2h0M1616.5 305.3h0M1767 452.6h0M1789.7 447.6h0M1626.8 439.7h0M1664.3 451.4h0M1654.5 353.3h0M1641.3 473.5h0M1658.7 476.7h0M1824.6 353.4h0M1645.8 417h0M1799.2 439.9h0M1771 359.6h0M1787.2 459.3h0M1777.7 442.4h0M1660.2 470.1h0M1606.7 398.9h0M1638.8 457h0M1780.2 471.8h0M1633.3 456.7h0M1654.4 421.5h0M1810 417.9h0M1643.2 401.6h0M1668.2 441.9h0M1663.7 320h0M1653.8 409.2h0M1780.5 450.2h0M1771.2 474.3h0M1595.6 400.1h0M1756.2 385.5h0M1667.7 435.4h0M1616.1 419.9h0M1780.3 464.3h0M1772.2 455h0M1651.4 433.4h0M1759.2 429.1h0M1641.3 461.6h0M1595.8 368.8h0M1764.5 472.7h0M1776.8 402.5h0M1650.1 449.1h0M1667.6 412h0M1656.9 457.3h0M1650.8 411.4h0M1645.8 449.8h0M1757.3 469.1h0M1807.5 422.9h0M1631 415.9h0M1653.7 382.4h0M1625.9 416.1h0M1789.4 429.5h0M1647.9 328.2h0M1663.1 469h0M1588.4 337h0M1639.7 445.9h0M1631.8 461.9h0M1649.9 453.6h0M1662.2 402h0M1654.1 477.2h0M1600.8 439.1h0M1643.5 467.9h0M1636.5 458.5h0M1659.9 452h0M1806.9 409h0M1565 385.2h0M1652.6 443.9h0M1651.9 334.4h0M1601.7 405.9h0M1769.4 470.2h0M1635.5 471h0M1817.4 384.9h0M1806.1 368.3h0M1625.2 458.3h0M1585.3 397.6h0M1763.2 394.3h0M1641.7 338.9h0M1618.7 443.5h0M1659.1 474.3h0M1665.8 469.4h0M1758.2 441.3h0M1662.1 396.4h0M1655.5 422.2h0M1824.4 436.2h0M1635.1 406.1h0M1625.1 435.5h0M1610.9 423.7h0M1771.8 467.8h0M1659.8 415h0M1651.5 470.3h0M1571.1 294h0M1804.9 343.3h0M1664.9 472.9h0M1760.6 471.6h0M1658.3 415.6h0M1767.5 475.6h0M1592 373.3h0M1635.2 441.3h0M1610.1 408.8h0M1757.4 342.7h0M1622 408.6h0M1631 366.1h0M1847.1 347.8h0M1635 353.9h0M1832 381.5h0M1643.4 391.6h0M1820.3 394.4h0M1661.9 461.7h0M1662.8 381.7h0M1777.2 355.8h0M1766.3 317.3h0M1638.6 435.8h0M1781.4 437.2h0M1586.7 411.2h0M1763.1 431.8h0M1789.1 438.6h0M1583.4 355.5h0M1647.1 400.4h0M1763.1 357.3h0M1858.5 370.8h0M1626.6 448.2h0M1650.9 354.3h0M1659.7 469.2h0M1629.3 365.8h0M1775.5 381.5h0M1638.9 459.2h0M1804.6 334.5h0M1632.7 411.7h0M1609.2 427h0M1640.8 467.9h0M1787.9 419.3h0M1634.3 443.7h0M1763.7 418.1h0M1661.8 419.5h0M1598.9 400.8h0M1788 451.3h0M1664.3 463.3h0M1756.1 458h0M1808.9 441.8h0M1646 333.2h0M1775.3 450.2h0M1630.8 396h0M1635.5 467.6h0M1637.5 437h0M1782.4 346.5h0M1859.5 355h0M1787.9 464.3h0M1648.5 397.6h0M1770.6 377.4h0M1777.1 442.4h0M1644 456.1h0M1654.3 457.6h0M1758.5 425.3h0M1579.9 353.5h0M1778.3 465.6h0M1759.4 441.8h0M1824.7 401.1h0M1663.5 461.8h0M1655 466.3h0M1819.4 356.8h0M1660.9 373.7h0M1659.7 471.3h0M1606.5 417.2h0M1668.5 436.1h0M1648.2 408.3h0M1647.4 477.2h0M1656.2 376.7h0M1662.1 446h0M1648.9 415.8h0M1781.5 421.4h0M1667.1 357.2h0M1635.9 457.1h0M1797.1 445.1h0M1624.3 356.2h0M1663.7 467.9h0M1787.4 452.9h0M1639.8 453.4h0M1782.7 416.9h0M1619.4 373.8h0M1756.7 475.9h0M1651.9 454.2h0M1779.8 436.3h0M1611.9 444.8h0M1644.6 468.6h0M1778.6 464.9h0M1766.1 471.2h0M1756.6 414.7h0M1615.8 437.1h0M1767 411.8h0M1617.5 438.3h0M1603.1 412.9h0M1786.6 468h0M1785.3 401.2h0M1774.5 377.2h0M1654.4 400h0M1665.7 403.3h0M1640.5 353h0M1642.2 461.9h0M1665.4 383.7h0M1649.5 475.5h0M1806.1 422.4h0M1784.5 460.7h0M1652.2 473.9h0M1779.3 417.9h0M1651.8 477h0M1655.5 464.3h0M1787.2 318.4h0M1804.6 428.2h0M1800.1 331.4h0M1599.7 386.8h0M1619.1 407.7h0M1575.6 361h0M1636.9 440.3h0M1622.3 447h0M1606.1 423.7h0M1785.5 391.2h0M1582.7 348.4h0M1796.4 409.4h0M1644.6 382h0M1771.3 465h0M1642 475.7h0M1584.8 420.2h0M1768.2 438.8h0M1772.2 476.9h0M1667.3 319.1h0M1618.2 439.2h0M1804.4 338.7h0M1641.1 463.6h0M1661.8 470.6h0M1618.3 401.1h0M1648.6 366.1h0M1598.7 400.8h0M1601.3 380.3h0M1790.7 469h0M1627.5 448h0M1779.5 399.9h0M1663.8 300.5h0M1761.9 310.4h0M1654.6 461.5h0M1768.9 408.1h0M1759 403.7h0M1825.6 383.2h0M1781.9 461.7h0M1661.9 457.5h0M1651.6 447.8h0M1627.8 278.6h0M1779.3 471.2h0M1664 448.4h0M1803.5 429.5h0M1668.7 383h0M1661.6 470.3h0M1598.9 409.3h0M1655.9 366.9h0M1571.6 316.3h0M1609.8 444.4h0M1794.4 377.9h0M1630.1 438.4h0M1789.2 424.5h0M1660.7 466.6h0M1769.5 467.4h0M1614.9 376.7h0M1564.6 274.4h0M1604.9 387.9h0M1766.1 391.8h0M1609.6 402.5h0M1762.5 428.3h0M1617.4 397.4h0M1757.3 451.7h0M1591 396.4h0M1766.5 467.4h0M1772.6 452.2h0M1807 419.9h0M1623.9 434.7h0M1627.1 443.4h0M1628.5 390.6h0M1665.5 288.9h0M1664 326h0M1769.1 462.3h0M1666.8 414.7h0M1648.1 412h0M1601.3 415.4h0M1649.6 438.5h0M1769.8 377.3h0M1668.6 400.3h0M1802.1 459.2h0M1627.8 471h0M1627.5 440.9h0M1783.1 442.8h0M1666.5 358.6h0M1780.1 462.9h0M1567.9 310.3h0M1803.9 454.5h0M1798.6 448.3h0M1628.5 451.2h0M1794.2 406.3h0M1646 454.3h0M1789.4 389.3h0M1664 471.7h0M1607.4 370.3h0M1651.8 376h0M1787.5 410h0M1615.7 439.5h0M1797.9 378.8h0M1598.1 443.4h0M1840.3 350.3h0M1620.4 402.6h0M1627.3 471.9h0M1646.4 440.2h0M1757.5 427.3h0M1764.7 431.5h0M1656.1 336.3h0M1636.9 357.8h0M1663 446.7h0M1636.7 444.4h0M1641.3 425.8h0M1636.1 385.4h0M1795.7 459.7h0M1639.9 391.8h0M1787.3 289.3h0M1643.1 471.1h0M1631.5 395.4h0M1623.9 377.8h0M1636.2 471.6h0M1657.7 474.5h0M1646.4 360.7h0M1664.8 456.7h0M1643 370.7h0M1663.6 451.8h0M1797.9 405.3h0M1788.7 400.7h0M1558.3 348.9h0M1643.5 458.6h0M1630.7 453.8h0M1834.8 346.4h0M1799.4 421.3h0M1667.7 433h0M1657.5 390.5h0M1625.6 432.4h0M1575.7 344h0M1791.5 436.4h0M1825.5 371.9h0M1635.8 420.9h0M1790.5 473.7h0M1652.4 414.7h0M1637.8 475.8h0M1639.2 458.7h0M1802.2 361.5h0M1619.7 413.2h0M1588.8 393.3h0M1777.6 468.7h0M1779.9 456.6h0M1759.3 370h0M1637.1 377.4h0M1633.4 413.2h0M1629 328.8h0M1767.4 446h0M1668.6 459.8h0M1762.4 455.5h0M1628.6 427.7h0M1823.1 341.7h0M1664.8 367.5h0M1792.6 382.1h0M1766 477.2h0M1789.7 432.5h0M1778.4 442.8h0M1659.7 446.2h0M1768.9 440.1h0M1782.5 469.8h0M1600.1 392.2h0M1659.5 415.2h0M1649.7 389.5h0M1640 394.9h0M1610.6 349.7h0M1640.1 464.2h0M1793.1 449h0M1638.7 476.8h0M1608.6 417h0M1635.4 418.2h0M1606.4 437.6h0M1781.3 448.9h0M1772.3 446.6h0M1793.6 435.5h0M1783.3 462.5h0M1806.4 355.3h0M1664.4 427.5h0M1794.9 414.7h0M1761.2 476h0M1588 350.4h0M1667.6 415.7h0M1783.3 459.9h0M1786.2 389.7h0M1760.8 455.2h0M1622.6 338.6h0M1621.3 416.9h0M1628.5 406.7h0M1647.1 457.7h0M1653.3 440.7h0M1608.1 420.2h0M1639.9 405.5h0M1630.5 476.7h0M1622.1 412.8h0M1756.5 441.4h0M1663.2 413.9h0M1634.9 467.7h0M1760.8 458.6h0M1607.8 405.5h0M1661.5 443.9h0M1781.3 397.2h0M1767.4 456.1h0M1807.5 418.8h0M1785 464.6h0M1649.6 371.2h0M1635.4 465.4h0M1654.9 396.5h0M1662.9 423.7h0M1581.8 388.6h0M1629.6 422h0M1655.9 465.8h0M1566.9 374.4h0M1765.4 464.7h0M1608.5 360h0M1762.6 358.6h0M1665.7 466.7h0M1769.3 438.2h0M1758.4 467.8h0M1635 474.6h0M1787.2 454.6h0M1582.7 340.4h0M1618.5 452.2h0M1658.5 404.3h0M1780.5 411.6h0M1778.6 441.1h0M1797.5 436.3h0M1768.3 425.6h0M1770.4 420h0M1626.4 436h0M1571.6 396.1h0M1763.5 384.3h0M1801.9 457.2h0M1773.7 411.5h0M1654 462.7h0M1649.5 471.7h0M1620.7 401.7h0M1648.7 462.9h0M1770.1 426h0M1588.4 365.6h0M1636.8 455.7h0M1597.7 404.2h0M1791.4 396.5h0M1660.3 457h0M1646.1 465.5h0M1637.4 442h0M1633.2 457.4h0M1618.6 446.1h0M1585.1 386.6h0M1780.4 438.7h0M1663.5 359h0M1659.8 369.3h0M1796.8 444.5h0M1651.7 443.9h0M1583.8 400.1h0M1579.4 340.6h0M1665 398.2h0M1668.1 379.3h0M1649.1 430.7h0M1643.2 348.4h0M1661.4 426.4h0M1609.6 416.6h0M1802.6 376.5h0M1618.9 413.5h0M1664.3 426.7h0M1828.6 395.9h0M1631.3 438h0M1596.1 415.2h0M1650.2 315.6h0M1766.1 440.9h0M1636.4 352.6h0M1780.6 361.1h0M1778.3 446.3h0M1771.7 429.2h0M1666.2 441.7h0M1647.2 436.4h0M1640.8 405.2h0M1635.4 398.1h0M1652.3 448.1h0M1761.4 372.7h0M1760.9 377.1h0M1632.7 460.8h0M1757.7 456.5h0M1599.6 450.5h0M1776 373.3h0M1621.5 470.7h0M1773.5 445.7h0M1655.2 411.5h0M1589.7 415.3h0M1628.4 444.8h0M1618.9 432.8h0M1630.8 451.9h0M1621.8 409.9h0M1576.2 309.2h0M1648.7 447.4h0M1660.6 452.1h0M1639.6 454.1h0M1665.5 419.8h0M1777.3 463.3h0M1605.4 356.5h0M1653.2 446.4h0M1654.7 466.8h0M1833.2 327.7h0M1665.2 468.2h0M1769.6 466.1h0M1570.4 338.7h0M1814.7 384.8h0M1661.6 423.6h0M1781.1 390.4h0M1765.1 455h0M1662.8 470.8h0M1651.1 452.4h0M1790.2 457.7h0M1768.6 473.6h0M1655.8 436.8h0M1616.2 313.7h0M1662.5 466.3h0M1775.9 440.9h0M1610.7 390h0M1654.8 281.7h0M1610.5 389.5h0M1783.1 405.2h0M1811 442.1h0M1577.9 390.7h0M1620.6 394.2h0M1756.1 388.9h0M1764.7 474.1h0M1777.3 451.3h0M1599.6 367.7h0M1608.2 420h0M1650.7 470.7h0M1794.8 473.9h0M1835.5 368.7h0M1657.4 466h0M1766.8 472.8h0M1623.6 419.3h0M1763.4 408h0M1612.9 373.3h0M1636.4 425h0M1613.7 415.6h0M1646.3 426.7h0M1646.2 427.4h0M1643.4 402.7h0M1610 361.3h0M1757.5 443.8h0M1809.3 400h0M1617.5 425.4h0M1614.7 402.6h0M1645.6 469.2h0M1666.6 422.6h0M1755.9 469.9h0M1765.8 431.5h0M1780.7 448.5h0M1661.4 455.1h0M1800.7 395h0M1770.2 350.4h0M1642.9 416.9h0M1849.4 371.7h0M1769.2 460.8h0M1767.4 475h0M1777.7 413.8h0M1604.6 415.4h0M1667.1 469.7h0M1767.3 453.5h0M1628.4 440.4h0M1791.6 407.2h0M1563.2 399.7h0M1614.5 385.8h0M1642.1 430.6h0M1658.1 476.5h0M1634.8 424.2h0M1663.7 366h0M1779.1 404.2h0M1616.2 408.3h0M1759.9 434.8h0M1655.7 459.1h0M1647.3 442.2h0M1638.5 447.2h0M1661.3 439.8h0M1656.6 472.4h0M1619.8 436.1h0M1623.2 463.1h0M1657.9 303.1h0M1616.5 457.1h0M1781.3 465.7h0M1762.2 393.3h0M1629.8 410.1h0M1755.7 461.1h0M1621.2 357h0M1623.3 450.9h0M1798.8 456.6h0M1636.3 414.4h0M1625 466.3h0M1610.2 338.3h0M1813.6 398.5h0M1648.7 432.4h0M1812.5 415.9h0M1655.6 409.9h0M1625.8 402.9h0M1597.5 399.3h0M1663.2 342.6h0M1629.5 378.9h0M1646 469.2h0M1613.3 437.8h0M1634.4 428h0M1578.4 379.5h0M1651.8 477h0M1655 462.2h0M1769.6 445.5h0M1835.7 360.9h0M1806.2 419.9h0M1759.4 399.2h0M1783.3 399.2h0M1766.6 461.6h0M1617 397.1h0M1562.9 362.2h0M1776.7 440.4h0M1771.9 393.4h0M1777.6 448h0M1668.1 442.7h0M1627.3 448.4h0M1627.3 443.3h0M1637.9 463.4h0M1641.2 409.8h0M1651.4 470.2h0M1780.2 294.8h0M1624.4 414.9h0M1607.1 405.5h0M1622.5 435.7h0M1664 423.6h0M1771.7 454.3h0M1623.6 396.9h0M1628.8 429.2h0M1649.6 414.4h0M1796.5 447.7h0M1590 356.7h0M1622 418.2h0M1618.2 341.6h0M1650.9 413.4h0M1664.5 357.2h0M1579.8 382.7h0M1649.2 420.4h0M1760.1 459.8h0M1758.6 283.8h0M1633.4 445.3h0M1668.3 401h0M1769.5 402.7h0M1780.1 419h0M1556.5 380.8h0M1633.3 394.7h0M1592.5 384.2h0M1661.7 458.7h0M1606.1 445h0M1656.4 469.1h0M1764.5 364.5h0M1663 427.9h0M1650.1 471.2h0M1819.6 420.4h0M1632.9 467.3h0M1660.8 469.7h0M1769.3 366.2h0M1650.8 354.6h0M1602.8 441.7h0M1786.6 418.1h0M1646.7 469.2h0M1772 385.6h0M1606.7 404.1h0M1655.3 433.8h0M1621.6 457.7h0M1665.4 364.6h0M1778.8 468.1h0M1646.4 428.8h0M1798.8 445.6h0M1653 474.9h0M1800.6 449.4h0M1634.8 451.3h0M1778.6 438h0M1647.6 456h0M1628.2 378.7h0M1801.1 433h0M1632.6 465.9h0M1782.6 431.6h0M1761.8 452.3h0M1637.4 380.7h0M1796.7 378.7h0M1766.7 388.3h0M1788.5 278.4h0M1797.8 430.7h0M1661.2 449.7h0M1659.2 435.8h0M1654.7 443.5h0M1756.6 474.6h0M1652.9 399.1h0M1666.6 458.4h0M1663.4 430.4h0M1668.6 371.3h0M1642.3 421.8h0M1809.5 418.4h0M1777.3 409.9h0M1610.5 427.6h0M1667 455.6h0M1649.7 476.2h0M1781.1 441.6h0M1623.8 443.6h0M1623.4 428.8h0M1666.1 461.7h0M1667.4 384h0M1626.8 394h0M1771.2 438.9h0M1774.1 461h0M1637.6 450.3h0M1756.6 433.3h0M1610.4 399.1h0M1781.9 367.2h0M1650.1 360.1h0M1649.9 435h0M1663.1 456.6h0M1660.2 439.7h0M1626 347.9h0M1804.1 272.3h0M1800.4 396.7h0M1766.9 473.7h0M1773.1 477.1h0M1565.3 282.9h0M1643.4 458h0M1638 467.2h0M1632.7 444.2h0M1664.8 476.7h0M1637.4 420.2h0M1791.1 358.7h0M1589.5 420.8h0M1659.3 417.4h0M1650.4 413.5h0M1621.8 472.4h0M1620.3 454.5h0M1652 439.8h0M1666.1 414.5h0M1788.2 456h0M1758.1 459.9h0M1755.9 312h0M1631.8 450.3h0M1652.1 448h0M1592.7 301.5h0M1784.7 406.2h0M1624.8 416.4h0M1796 464.8h0M1622.4 441.9h0M1652.5 340.4h0M1640.8 428.3h0M1654.2 374.3h0M1666.4 395.7h0M1791.5 386.7h0M1764.1 465.3h0M1571.1 375.1h0M1657.5 432.1h0M1858.5 291.2h0M1607 406.8h0M1783.3 280.3h0M1797.7 414h0M1776.4 451h0M1610.5 405.7h0M1773.1 470.6h0M1802.6 401h0M1847.6 350.8h0M1659.9 423.6h0M1615.2 378.5h0M1763.4 443.2h0M1644.9 458.6h0M1628.5 471.2h0M1579.1 385.1h0M1820.8 411.9h0M1775.1 476.1h0M1651.1 415.3h0M1618.6 427h0M1644 461.4h0M1651.6 475.7h0M1638.4 376.6h0M1806 426.6h0M1756.4 474.6h0M1764.3 465.2h0M1651.4 393.6h0M1654.9 450.5h0M1628.2 442.2h0M1755.9 465.6h0M1609.2 425.6h0M1762.2 463.6h0M1654.3 460h0M1595.6 372h0M1618.7 315.6h0M1758.8 450.6h0M1655.1 458.5h0M1756.8 473.2h0M1773.2 406.7h0M1666.5 333.5h0M1762.7 345.9h0M1617.1 446.2h0M1667.9 466.6h0M1654.7 463.5h0M1802.2 420.3h0M1774.1 468.1h0M1764.5 375h0M1623.6 469.4h0M1773 445.3h0M1658.4 432.3h0M1635.9 447.9h0M1635.6 336.5h0M1784 449.2h0M1813.2 401.5h0M1609.3 430.1h0M1596 386.2h0M1648.6 412.3h0M1645 456.1h0M1622.3 381.8h0M1840 399.5h0M1625.3 448.1h0M1654.8 439.5h0M1663.2 474.3h0M1634.8 429.2h0M1635.4 432.4h0M1762.5 388.8h0M1795 393.5h0M1662 453.6h0M1641.6 472.4h0M1618.2 449.2h0M1641.7 461.5h0M1629.2 391.3h0M1629.4 381.3h0M1634.8 373.1h0M1786.9 441.5h0M1805.2 361.8h0M1659.1 446.8h0M1806 440.4h0M1659.2 464.2h0M1763.8 424.4h0M1579.1 415.9h0M1666.5 429h0M1660.3 404.5h0M1756.7 395.8h0M1598.4 397.4h0M1772.7 426h0M1661.2 411.6h0M1638.7 444.7h0M1764.1 446.8h0M1843.2 370.9h0M1656.1 466.6h0M1783.8 423h0M1767.6 427.1h0M1584.2 424.2h0M1619.6 438.4h0M1659.4 465.3h0M1628.3 426.7h0M1848.6 367.4h0M1626.3 441.6h0M1779.8 447.6h0M1768.7 447h0M1762.3 471.5h0M1624.9 443.5h0M1632.6 358.8h0M1630.2 339.7h0M1765.6 432.3h0M1761.5 461.4h0M1634.1 428.5h0M1651.1 429.3h0M1668 369.9h0M1812 375.5h0M1629 410.4h0M1661.3 428h0M1794 458.9h0M1756.5 465.2h0M1811.7 434.8h0M1592.2 303.9h0M1796 456.6h0M1655.9 424.2h0M1657.2 453.7h0M1667.2 421.6h0M1780.4 326.8h0M1641.9 443.8h0M1614.3 382h0M1648 443.1h0M1637.2 360.7h0M1654.8 443.6h0M1774.9 461.1h0M1799.4 442.2h0M1661.6 283.1h0M1607 442.7h0M1585.3 412.8h0M1791 470.5h0M1771.8 388.9h0M1594.4 394.8h0M1769.5 419.8h0M1828.6 376h0M1599.1 373.8h0M1629.4 451.1h0M1664.5 387.1h0M1562.4 353.4h0M1775.7 361.1h0M1605.9 377h0M1661.8 356.4h0M1651.5 368.6h0M1634.7 444.5h0M1639.2 439.5h0M1641.4 470.4h0M1651.5 363.3h0M1641.6 451.3h0M1775.4 456h0M1661.7 459.8h0M1757.1 370.7h0M1792 471.8h0M1636.9 457.8h0M1651.8 424.2h0M1765.4 405.6h0M1617.9 440.1h0M1649.7 431h0M1773.2 438h0M1780.9 449.8h0M1796.4 420.4h0M1780 457.7h0M1790.5 462.6h0M1631.4 401.6h0M1666.9 402.3h0M1847.1 360.8h0M1791.8 429.7h0M1772.3 284.7h0M1777.1 455.2h0M1626.6 449.3h0M1622.5 427h0M1606.6 441.7h0M1629 454.1h0M1778.8 430.7h0M1783.9 448.5h0M1770.7 467.2h0M1653.3 361.7h0M1664.3 449.9h0M1647.9 470.2h0M1585.9 435.2h0M1773.5 317.4h0M1658 326.3h0M1797.6 449.9h0M1778 467.5h0M1663.5 460.2h0M1623.3 397.3h0M1597.4 371.2h0M1660.9 462h0M1629.5 445.8h0M1655.7 465h0M1583.8 366.9h0M1650.1 452.8h0M1595.3 429.6h0M1627.3 441.3h0M1665.8 353.2h0M1652.3 471h0M1651.3 390.6h0M1775.4 420h0M1596.5 359.2h0M1641 392.2h0M1761.9 405.7h0M1662.2 342.9h0M1797.8 423.3h0M1606.5 428.7h0M1802.9 440.1h0M1758.7 435.1h0M1784.5 360.2h0M1644.1 447.4h0M1664.1 371.9h0M1805.5 448.2h0M1760 328.5h0M1769.8 463.1h0M1619.2 338.2h0M1644.9 389.2h0M1668 473h0M1644.3 426h0M1796.4 326h0M1785.6 422.3h0M1658.2 461.8h0M1766.3 427.4h0M1659.4 475h0M1641.4 446.7h0M1785.2 467.5h0M1637.2 425.7h0M1762.7 326h0M1616.6 428.5h0M1661.4 477h0M1604.6 333.6h0M1555.7 316.9h0M1639.5 463.9h0M1664.8 414.3h0M1666.1 442.2h0M1830.2 282.6h0M1603.5 384.2h0M1653.4 469.5h0M1636.2 466.7h0M1573.2 290.3h0M1664.3 405.8h0M1655.7 448.9h0M1815.5 383.3h0M1592.1 385.5h0M1615.6 393.4h0M1611.1 450.5h0M1615.5 375.1h0M1777 436.4h0M1788.5 389.6h0M1598.8 315.4h0M1783.6 456h0M1572.3 375.3h0M1783.6 420.6h0M1792.5 268.7h0M1632.6 407.7h0M1778.4 443.8h0M1629.9 433.4h0M1575.1 413.9h0M1666.6 453.9h0M1649.6 445.9h0M1667.3 284.3h0M1628.7 420.4h0M1775.4 366.5h0M1787.6 351.2h0M1761.4 468.6h0M1611.2 372.9h0M1575.6 310.2h0M1763.5 468.6h0M1657.7 465h0M1667.5 412.2h0M1663.6 409.4h0M1645.4 453.6h0M1577.2 357.4h0M1782.9 290.3h0M1650.4 459.4h0M1770 469h0M1624.2 421h0M1562.9 345.9h0M1667.2 442.1h0M1640.1 450.6h0M1569.8 416.7h0M1757.1 432.1h0M1762.5 476.8h0M1776.3 412.7h0M1662.8 434.6h0M1581.3 347.3h0M1655.6 470.4h0M1769 475.7h0M1641.4 408.3h0M1647.2 472.3h0M1666.2 421.6h0M1664.2 469.1h0M1564.6 364.2h0M1647.7 412.1h0M1635.8 463.5h0M1668.5 466.6h0M1761.8 466.5h0M1641.8 417.5h0M1782.4 447.3h0M1624.5 413.6h0M1577.2 377.5h0M1665.8 442.8h0M1617.6 457.7h0M1615.7 457.1h0M1663 411.2h0M1651.8 476.7h0M1765.9 457.9h0M1651.3 343.7h0M1609.3 440.2h0M1572.6 380h0M1667.1 469.7h0M1643.5 424.6h0M1644.2 412.7h0M1629.6 456.1h0M1647.4 474.2h0M1756.7 461h0M1648.8 464.5h0M1794.1 415.3h0M1793.9 408.1h0M1647.9 401.4h0M1645.1 409h0M1629.2 454.2h0M1653.3 282.8h0M1651.8 464.7h0M1635.9 403.8h0M1780 455.5h0M1613.8 428h0M1618.5 399.8h0M1649.5 462.6h0M1647.6 404.5h0M1668.7 281h0M1771.2 433.7h0M1595.8 404h0M1769.2 369.8h0M1819.4 433.6h0M1802.5 411.6h0M1600.5 402.5h0M1782.5 431.8h0M1654.2 420.1h0M1652.8 438.3h0M1653.9 445.1h0M1799 372.1h0M1784.2 434.9h0M1657.6 468.9h0M1668.2 437.7h0M1649.7 322.7h0M1611 362.6h0M1800.8 348.4h0M1667.7 428.5h0M1774.7 367.7h0M1774.2 435.4h0M1806.1 451h0M1656.8 361h0M1755.8 474.6h0M1651.6 328.6h0M1663.4 454.6h0M1613.3 457.5h0M1656.7 353.3h0M1659.8 445.8h0M1618.6 329.1h0M1644.4 443.9h0M1646.1 476.3h0M1646.7 451.4h0M1773.5 419.5h0M1634.9 408.1h0M1653.1 355.6h0M1775.9 439.1h0M1629.6 473.8h0M1637.1 320.2h0M1626 417.2h0M1657.8 434.6h0M1668.1 467.9h0M1768.9 427.4h0M1640.9 434.1h0M1777.5 401.6h0M1777.2 440.5h0M1628.5 449.1h0M1606.3 395.6h0M1631.7 452.3h0M1599.4 393.6h0M1763.4 394.1h0M1664.6 471.9h0M1622.9 434.4h0M1656.9 367.3h0M1785.8 461.3h0M1629.7 413.8h0M1781.3 469.5h0M1642.3 461.7h0M1653.5 408.5h0M1654.8 398.7h0M1629.2 386.5h0M1645 457h0M1846.4 370.9h0M1645.6 462.6h0M1635.5 466.6h0M1768.7 398.2h0M1794.6 428.1h0M1664.4 436.4h0M1758.9 388.7h0M1629.7 424.8h0M1658.4 449.6h0M1777.8 440.7h0M1861.9 377.4h0M1636.8 373.9h0M1594.9 380.9h0M1595.4 442h0M1761.7 452.8h0M1604.8 352.2h0M1652.5 455.2h0M1663.3 364.3h0M1603.7 382.6h0M1601.1 384.7h0M1649.8 453.5h0M1654.2 450.3h0M1776.1 398.5h0M1666 474.5h0M1659.8 321.1h0M1766.4 413.7h0M1628.7 326.9h0M1774.3 424.1h0M1636.6 403.8h0M1636.5 403.7h0M1766.5 475.5h0M1813.9 390.5h0M1637 475.4h0M1638.4 413.5h0M1825.9 329.5h0M1778.8 435.8h0M1759.8 427.4h0M1783.4 295h0M1818.9 427h0M1788.3 403.9h0M1665.7 314.6h0M1760.6 473.4h0M1605.7 407.5h0M1792.3 451.7h0M1591.9 399.2h0M1668.5 439.1h0M1807.5 416.2h0M1642.9 472.3h0M1607.5 403.8h0M1653.1 360.9h0M1758.3 464.6h0M1785.7 428.9h0M1602.2 400.9h0M1829.2 355.9h0M1763.4 387.6h0M1662.5 333.9h0M1756 280.3h0M1638.5 451.5h0M1764.3 409.4h0M1654.9 462.2h0M1618 451h0M1639.4 440.5h0M1626.4 405.5h0M1762.4 430.4h0M1803.3 396.6h0M1812 450.8h0M1649.2 409.2h0M1640.8 474.3h0M1617.6 432h0M1767.6 416.4h0M1651.3 399.7h0M1646.5 474.3h0M1667.4 475.7h0M1635.6 442.1h0M1795.9 431.1h0M1617.9 390.1h0M1658.9 432.2h0M1662.8 464.5h0M1789.2 370.3h0M1606.9 387.4h0M1765.1 472.9h0M1626.5 395.4h0M1815.4 424.4h0M1664.2 394.8h0M1658.6 389.5h0M1765.7 367.6h0M1782.8 465.5h0M1652.2 469h0M1764.2 399h0M1776.3 459h0M1613.8 386.2h0M1659.9 440.3h0M1663.6 476.2h0M1778.8 466h0M1762.8 366.1h0M1639.8 466.5h0M1789.5 394.3h0M1757.6 472h0M1657.9 474.2h0M1612.8 334.3h0M1632.2 403.6h0M1598.4 444.9h0M1585.9 324.5h0M1642.8 409.8h0M1642.9 465.3h0M1636.9 403.8h0M1610.5 460.3h0M1664.2 469h0M1655.5 452.1h0M1629.9 444.3h0M1794 435.1h0M1631.9 460.7h0M1776.6 370.1h0M1657.2 417.8h0M1652.2 469.7h0M1651 437.2h0M1773.4 429.8h0M1631.9 447.7h0M1642.4 325.7h0M1664.5 284.6h0M1661 476.4h0M1631.8 390.2h0M1633.1 422.2h0M1775.4 289.1h0M1766.5 441.8h0M1828.4 337.2h0M1758.3 455.2h0M1762.8 420.2h0M1620.6 395.1h0M1660.1 449.5h0M1845.4 315.2h0M1657.5 427.8h0M1632.9 356.3h0M1765.9 445.6h0M1651.7 401h0M1641.1 410.1h0M1777.5 394h0M1645.3 290.2h0M1651.3 437.4h0M1658.9 459.4h0M1657.3 415.6h0M1635.8 404.1h0M1653.4 466.9h0M1652.9 453.9h0M1612.4 432.5h0M1631.2 443.4h0M1762.6 424.8h0M1667.8 447.7h0M1639.9 469.3h0M1644.9 394.6h0M1641.4 454.5h0M1613.7 331.3h0M1623.3 434.6h0M1765.8 398.8h0M1807 401.8h0M1786.9 473.3h0M1625.2 431.3h0M1759.4 468.8h0M1636.8 419.5h0M1764.6 436.9h0M1815.6 446.4h0M1643.3 447.7h0M1667.6 448h0M1610.8 364.5h0M1785.3 365.6h0M1619.1 374.9h0M1772.4 459.3h0M1822.4 332.5h0M1607.9 415.2h0M1613.5 406.6h0M1755.8 450.7h0M1560.3 328.2h0M1757.9 466.3h0M1762.2 270.5h0M1642 398h0M1779.5 332.7h0M1792.7 384.5h0M1804.9 452.6h0M1653.6 449.5h0M1661.6 470.5h0M1644.2 434.9h0M1803.7 357.7h0M1658.1 476.3h0M1655.1 463.3h0M1632 451.3h0M1773.4 388.4h0M1635.7 443.2h0M1653.4 350.1h0M1629.2 394.1h0M1617.9 368.3h0M1652.2 465.2h0M1658.2 467.2h0M1663.9 458.5h0M1793.6 476h0M1661.3 414.2h0M1777.3 370.5h0M1664.7 437.7h0M1806.8 452.2h0M1767 451.3h0M1762.4 462.5h0M1764.3 474.7h0M1821.9 410.8h0M1632.6 417.4h0M1627 450.1h0M1777.4 464.2h0M1636.2 436.4h0M1641.7 441.7h0M1636.7 476.3h0M1593.1 329.9h0M1658 445.5h0M1767.7 418.4h0M1656.7 459.1h0M1630.7 463.6h0M1795 403h0M1604.6 436h0M1597.2 393.1h0M1756.2 435.4h0M1654.1 391.9h0M1619.7 439.1h0M1813.9 327.1h0M1633.5 346.2h0M1651.3 374.7h0M1660.2 409.7h0M1618.3 426.4h0M1658.3 420.7h0M1618.5 429h0M1661.2 355h0M1825 342.8h0M1771.2 416.2h0M1651.5 412.6h0M1807.7 426.7h0M1617.7 396.3h0M1667.8 402.8h0M1640 436.8h0M1778.6 462h0M1665 471.7h0M1837.4 406.4h0M1763 465.6h0M1647.5 458h0M1797.7 430.7h0M1761.9 378.9h0M1618 359.8h0M1664.9 443h0M1787.4 469h0M1612.8 429.8h0M1603.7 333.8h0M1757.8 445.6h0M1619.8 457.5h0M1650.1 469.7h0M1663.8 399.2h0M1646.7 462.2h0M1816.4 439.9h0M1644.5 474.4h0M1664.6 442.8h0M1637.6 452.6h0M1658.2 450.3h0M1636.9 427.1h0M1756 361.8h0M1823.7 385.4h0M1657.3 355.3h0M1623.3 382.6h0M1650.2 425.8h0M1787.7 427.1h0M1833.2 363.1h0M1807.6 431.4h0M1619.4 408.8h0M1655.9 317.8h0M1843.4 340.1h0M1764.4 427h0M1819.4 377.8h0M1798.8 440.6h0M1588.1 377.6h0M1615.9 458.8h0M1650.1 433.8h0M1758.8 434.6h0M1664.9 370.1h0M1770.7 463.5h0M1757.7 428.2h0M1793.5 447.4h0M1623.1 425.9h0M1768.3 374.5h0M1661.6 439.7h0M1627.8 311.8h0M1579.2 276.6h0M1757.7 471.4h0M1760.6 394.3h0M1640 462.1h0M1836.1 396.9h0M1643.9 432.5h0M1639 474.7h0M1756.4 456.2h0M1612.3 348.8h0M1566 379h0M1610.5 342.2h0M1649.6 469h0M1773.9 470.5h0M1661.6 422h0M1649.5 431.2h0M1761.8 393.2h0M1787.7 397.3h0M1781.9 419.4h0M1645.2 424.8h0M1650 401.4h0M1665.9 476.3h0M1784.8 474.5h0M1756.9 449.8h0M1662.8 475.8h0M1572.7 375.7h0M1633.5 451.1h0M1575.8 419.1h0M1627.8 460.3h0M1779.7 388.7h0M1652.2 425.5h0M1766 373.3h0M1654.8 420.4h0M1659 357.6h0M1634.7 344.7h0M1637.6 396.3h0M1668.5 325.7h0M1779.6 412.1h0M1662.5 347.6h0M1649.7 437.7h0M1597.1 309.7h0M1603.8 420.7h0M1654.5 344.7h0M1761 443.2h0M1624.2 397.2h0M1652.6 422.8h0M1616.5 387.6h0M1662.2 470.8h0M1662.5 463.7h0M1658 411.8h0M1618.7 440.2h0M1762.2 423.2h0M1622.4 474.3h0M1637.5 441.4h0M1657.4 415.7h0M1640.1 383.7h0M1636.2 295.8h0M1764.1 469.6h0M1795.8 430.5h0M1650.5 374.2h0M1628.6 433.4h0M1586.1 425.1h0M1569.2 365.6h0M1644.3 473.4h0M1831.9 393.7h0M1647.7 438.4h0M1800.2 377.3h0M1762 450h0M1807.9 425.4h0M1628.4 457.2h0M1664.6 441h0M1772.4 468.4h0M1616.4 408.4h0M1761.7 450h0M1662.3 454.7h0M1771.8 456.4h0M1777.8 458.8h0M1660.4 307.6h0M1645.1 446.5h0M1619.6 305.2h0M1642.8 372.3h0M1629.4 470.5h0M1815.5 431.9h0M1756.9 417.5h0M1650.6 463.1h0M1774 412.9h0M1662.8 363.9h0M1650.6 430.8h0M1651.3 360.1h0M1763.4 400.9h0M1635.3 328.4h0M1767.4 413.2h0M1615.6 332.1h0M1592.5 384h0M1833.9 356.9h0M1771.6 460.7h0M1588.1 397.4h0M1797.7 392h0M1758.1 467.8h0M1652.7 399.7h0M1568.4 348.4h0M1600.2 408.2h0M1800.3 392.3h0M1776.8 456.9h0M1652.3 432h0M1663.3 322.8h0M1642.7 379.7h0M1645.5 446.3h0M1787.1 422.7h0M1663.4 428.1h0M1625.2 340.3h0M1632.4 461.5h0M1663.7 446.3h0M1617.9 454.4h0M1787.6 429.7h0M1626.1 430.8h0M1758.8 377.3h0M1786.4 452.8h0M1657.8 383h0M1655.2 357.7h0M1642.9 468h0M1765.3 471h0M1759.8 416.6h0M1755.9 426.1h0M1665.5 319h0M1783.8 378.4h0M1775.8 404h0M1664.2 447.7h0M1573 365.7h0M1776.2 374.5h0M1769.9 387.1h0M1762 459.9h0M1650.6 466.2h0M1630.9 458.3h0M1613.6 467.5h0M1616.4 425h0M1640.4 472.5h0M1618.5 457.9h0M1780.5 422.8h0M1660.8 468.7h0M1603 378.1h0M1586.7 353.2h0M1770.3 364.4h0M1615.7 369.3h0M1643.7 403.9h0M1668.4 383.8h0M1803.2 444.3h0M1663.9 470.4h0M1768.8 443.6h0M1607.6 388.9h0M1775.7 468.9h0M1811.4 374.4h0M1639.8 449.1h0M1611.2 427.9h0M1657.1 423.3h0M1784.4 391.5h0M1604.5 351.8h0M1632.1 444.1h0M1641.6 412.9h0M1796.7 399.4h0M1781.7 362.8h0M1759.4 427.5h0M1662.4 458.1h0M1661 375.8h0M1621.4 408.1h0M1665.3 441h0M1620.3 474.2h0M1604.2 454.2h0M1838.7 363.4h0M1655.1 384.5h0M1633.6 450.2h0M1814.4 412.5h0M1666.3 366.5h0M1599 390.4h0M1665 430.7h0M1647.6 370.8h0M1792.7 441.6h0M1641.1 475.4h0M1653.7 471.9h0M1829.8 399.2h0M1621.3 380.3h0M1780.1 293.6h0M1764.5 456.3h0M1667.9 468.2h0M1762.4 438.7h0M1665.4 428.9h0M1627.5 470.5h0M1758.9 463.9h0M1601.5 302h0M1601.3 431.6h0M1608.1 412.7h0M1796.5 439.9h0M1758.2 379.1h0M1757 431.7h0M1626.8 457.9h0M1647.9 431.3h0M1622.3 392.2h0M1837.4 402.1h0M1648.3 468.9h0M1625.9 451h0M1668.2 448h0M1767.5 459.1h0M1811.2 397.4h0M1646.4 436.6h0M1776.4 459.9h0M1650 462.4h0M1657 355.6h0M1801.6 345.1h0M1640.2 462.7h0M1774.9 459.3h0M1649.5 456.1h0M1637.4 400.8h0M1634.5 470.2h0M1657.6 446h0M1661.1 461.5h0M1757.1 384.3h0M1771.8 403.2h0M1654.1 452.9h0M1614.3 437.1h0M1645.2 450.6h0M1648.5 430.5h0M1762.9 457.3h0M1666 420.9h0M1664.8 404.3h0M1813.3 413.8h0M1761.4 451h0M1792.8 367.2h0M1785.8 420.2h0M1629 463.6h0M1766.5 475.5h0M1637.6 444.7h0M1656.7 461.9h0M1805 391.7h0M1666.7 422.8h0M1640.4 475.9h0M1659.1 432.7h0M1772.3 393.4h0M1766.6 422.7h0M1658.9 392.7h0M1800.5 440.9h0M1844.9 347.7h0M1824.4 400.1h0M1652.6 473.3h0M1646.6 472.1h0M1622.9 456.1h0M1647.7 468.5h0M1757.6 457.2h0M1643.3 363.3h0M1660.5 424.6h0M1808.9 424.5h0M1778.2 448.5h0M1610.3 369.2h0M1825.7 396.6h0M1627.2 466.6h0M1769.3 445.5h0M1779.3 422.6h0M1663.7 406.9h0M1629.7 448.3h0M1774.7 409.8h0M1759.8 371.2h0M1667.3 444.5h0M1639.4 453.4h0M1654.5 386.4h0M1667.1 471.1h0M1568.5 351.6h0M1819.4 428.1h0M1789.2 472.7h0M1861.2 361.5h0M1659.9 408.9h0M1782.6 372.4h0M1617.6 381h0M1800.3 397.4h0M1823.4 353.6h0M1629.6 407.1h0M1643.1 444.4h0M1667.5 278.6h0M1588.1 376.1h0M1616.4 464.4h0M1584.3 401.1h0M1809.4 364.4h0M1620.8 381.9h0M1647.6 476.7h0M1655.4 345.2h0M1630.3 472.2h0M1668.5 447.4h0M1624.2 458.1h0M1649.5 432.3h0M1665.1 467.1h0M1657.2 463.7h0M1653.3 364.1h0M1594.6 358.8h0M1667 421.8h0M1609.7 450.8h0M1784 303.8h0M1668.2 463.8h0M1795.3 459.3h0M1755.8 474.8h0M1762.9 474.3h0M1807.4 436.5h0M1639.8 434.4h0M1634.2 364.1h0M1590.8 348.9h0M1665.1 400.8h0M1627.9 383h0M1624.2 335.5h0M1772.6 442.4h0M1762.8 455.4h0M1768.5 422.2h0M1624.2 422.3h0M1619.5 433.3h0M1666.4 354.7h0M1630.6 462.4h0M1659.3 470.9h0M1614.9 442.4h0M1621.8 456h0M1805.8 426.2h0M1759.7 416h0M1628.6 444h0M1643.4 466.8h0M1617.6 423.1h0M1800.6 431.5h0M1843 394.3h0M1635 470h0M1663.7 352.9h0M1653.5 471.9h0M1588.2 412h0M1792 473.8h0M1784.8 438.7h0M1571.2 371h0M1756.8 393.2h0M1814 380.5h0M1768.3 443.5h0M1662.2 470.8h0M1646.2 465.9h0M1651 390.9h0M1606.9 422.2h0M1791.2 446.3h0M1606.2 402.9h0M1648.4 472.6h0M1656 444.5h0M1803.2 422.8h0M1668.4 424.9h0M1661.2 471.4h0M1788.5 364.6h0M1607.7 436.8h0M1629.7 416.4h0M1632.9 459.1h0M1663.2 474.6h0M1665.1 429.7h0M1627.1 361.9h0M1659.4 432.8h0M1617.4 395.1h0M1649.3 413.8h0M1756.7 470.5h0M1663.1 455.3h0M1759.1 393.7h0M1650.4 390.2h0M1805.5 434h0M1645.1 409.3h0M1644.8 453.5h0M1634.4 433.9h0M1764.4 474.7h0M1649.1 418.4h0M1782.1 393.2h0M1606.5 421.1h0M1844.6 362.4h0M1649.6 474.1h0M1574.5 263.7h0M1650.2 470h0M1656.7 437.5h0M1636.2 429.2h0M1645.4 472.2h0M1658 432.7h0M1638.4 413.1h0M1635.3 469.9h0M1635.8 468.8h0M1620.2 424.3h0M1774 459.5h0M1623.4 446.4h0M1649.8 371.2h0M1642.3 465.6h0M1786.2 361.8h0M1643 389.1h0M1562.9 384.8h0M1646.6 465.8h0M1656.5 471.1h0M1664.1 434.8h0M1595.3 419.2h0M1757.7 338h0M1663.9 459.8h0M1829.2 413.9h0M1822 359.7h0M1613 318.7h0M1625.3 459.6h0M1649.2 431.1h0M1769.6 418.6h0M1648.9 469.1h0M1755.9 442.1h0M1664.6 443.8h0M1639.9 377h0M1770.5 419.7h0M1668.4 360h0M1606 432h0M1645 475.6h0M1762.4 388.4h0M1760.7 462.4h0M1667 457.7h0M1768.9 421.7h0M1632.8 447.6h0M1657.8 456.6h0M1654.5 367.3h0M1655.5 403.6h0M1654.1 387.3h0M1646.2 440.9h0M1608 382.2h0M1800.1 411.9h0M1650.5 405.8h0M1764.2 474.1h0M1650.2 431.1h0M1832.2 372.9h0M1637.7 349.8h0M1666.5 354.2h0M1645.4 463.3h0M1660.8 311.9h0M1641.8 457.8h0M1628.4 451.7h0M1622.1 422.6h0M1761.8 412.6h0M1759.1 429.3h0M1654.6 476.1h0M1758.1 456.2h0M1772.3 467.7h0M1637 403.7h0M1661.6 432.5h0M1657 463.7h0M1799 381.5h0M1631.8 347.6h0M1641 301.2h0M1791.6 439.3h0M1631.1 431h0M1769.9 351.8h0M1640.8 474.1h0M1634.8 375h0M1647.2 408.5h0M1617.8 441.9h0M1613.8 441.2h0M1779.7 458.5h0M1645.5 342.1h0M1779.6 431.9h0M1775.2 413h0M1762.2 470.2h0M1608.6 385h0M1645.6 452.4h0M1775.8 413.8h0M1668.1 421.3h0M1663.3 475.5h0M1640.1 387.7h0M1661.5 433.5h0M1628.6 371.1h0M1620.7 404.4h0M1667.9 475.2h0M1759.1 475.9h0M1788.2 456.8h0M1798.4 362.1h0M1802 442.1h0M1624.2 364.7h0M1638.3 455.1h0M1618.5 450.8h0M1644.5 449.7h0M1590.5 352.1h0M1779.8 464.9h0M1653.4 352.5h0M1629 468.2h0M1850.9 374.7h0M1644.8 475.7h0M1655 415.9h0M1647.4 474.5h0M1634 364.6h0M1591.1 426.4h0M1650.3 406.8h0M1765 470.7h0M1650 446.7h0M1765.4 428h0M1781.8 468.3h0M1765.9 436.9h0M1656.2 406.2h0M1640 472h0M1662.9 426.9h0M1581.3 413.1h0M1806.9 412.5h0M1634.8 452.4h0M1583.9 380.9h0M1807.7 396.5h0M1668.7 457.1h0M1621 430.6h0M1805.4 420.4h0M1618.5 430.7h0M1665.4 444.4h0M1772.9 441.6h0M1755.9 450.5h0M1620.5 389.6h0M1635 474.9h0M1653.7 408.6h0M1629.5 453.2h0M1815.3 425.1h0M1628.4 459.5h0M1641.7 430.4h0M1647.8 431.5h0M1655.9 466.1h0M1603 426.3h0M1777.2 469.3h0M1655.5 468.9h0M1657.2 435.3h0M1637.6 360.4h0M1598.6 432.2h0M1776.9 422.5h0M1579.5 319h0M1805.8 430.6h0M1803.7 433.2h0M1665.7 466.1h0M1769.6 447h0M1647.7 392.7h0M1768 349h0M1628 439.2h0M1617.5 324.4h0M1772.4 311.8h0M1766.6 333.3h0M1756.7 465.9h0M1651.8 456.5h0M1657 459.8h0M1769.8 460.2h0M1658.8 417h0M1602 394h0M1782.2 461.2h0M1643.7 466.5h0M1662.9 474.2h0M1663.6 463.9h0M1630.8 420.7h0M1631.2 317.3h0M1663.7 465.1h0M1642.6 379h0M1771.6 467.2h0M1635.1 440.7h0M1660.6 466.9h0M1635.6 463.5h0M1797.9 443.8h0M1783 437.3h0M1769.8 444.3h0M1620.6 364h0M1767.9 426.3h0M1646.4 473.9h0M1641 441.6h0M1789.7 456.9h0M1793.9 449.4h0M1773.2 377.2h0M1654.9 379.9h0M1633.6 408.5h0M1667.7 383.9h0M1769.3 457.7h0M1616 436.9h0M1778.9 429.7h0M1658.5 376.2h0M1779.9 472.1h0M1772.6 422.6h0M1779 429.2h0M1767.5 466.3h0M1626.4 301h0M1763.1 416.7h0M1627.5 396.3h0M1666.7 405.5h0M1791.5 436.6h0M1629.9 464.8h0M1581.6 374.6h0M1611.4 406.5h0M1622.1 446.4h0M1659.4 445.3h0M1632.9 400.2h0M1799.8 351.2h0M1772.5 366.6h0M1789.1 435.7h0M1656.7 421.4h0M1659.4 452.2h0M1789.6 443.5h0M1767.1 385.7h0M1662.7 455.6h0M1646.1 422h0M1668.1 365.4h0M1607.6 407.1h0M1791 462.9h0M1649.2 407.2h0M1667.2 351.8h0M1620.7 453.5h0M1654.2 409.2h0M1786.9 365.6h0M1635.3 465.7h0M1640 345h0M1827.4 394.1h0M1763.6 381.5h0M1662.3 285.7h0M1568.9 333.2h0M1777.3 468.7h0M1773.3 451.4h0M1772.2 408.2h0M1613.4 379.9h0M1643.2 467h0M1661.5 477h0M1666.6 383.4h0M1773.9 390.3h0M1811.2 431.6h0M1627.1 307.7h0M1777.1 333.2h0M1636.3 458.1h0M1767.4 441.2h0M1623 385.2h0M1638.3 442.1h0M1779.6 433.1h0M1793.4 430.6h0M1766.1 436.9h0M1652.1 456.2h0M1657.2 469.9h0M1774.3 460.2h0M1636.7 374.7h0M1559.3 392.1h0M1765.1 334.1h0M1787.8 414.2h0M1768.9 387.3h0M1757.7 427.6h0M1636.2 430.8h0M1659.6 423.3h0M1611.4 363.2h0M1619.1 441.4h0M1668.3 431.7h0M1651 406.6h0M1639.7 355.2h0M1758.7 468.1h0M1656.4 445.6h0M1767.7 405.3h0M1768.7 464.6h0M1664.9 445.6h0M1664.8 429.5h0M1769.1 471.3h0M1616.1 459h0M1771.6 451.6h0M1819.5 433.2h0M1767.3 397.7h0M1643.1 476.1h0M1615.9 451.1h0M1663.6 472.4h0M1759.6 476h0M1651.1 393.2h0M1584.7 279.6h0M1640.9 474.9h0M1631.1 451.3h0M1658 422.7h0M1761.7 388.1h0M1626.8 446.3h0M1647.9 428.7h0M1758.4 412.6h0M1772.6 473.3h0M1777.6 405.4h0M1668.5 427.1h0M1636.6 459.4h0M1758.6 399.3h0M1769.9 453.2h0M1764.7 436.2h0M1756.4 396.9h0M1595.1 337.9h0M1770.3 361.5h0M1567.9 376.7h0M1666.9 475.1h0M1616.1 446.2h0M1647.4 349.8h0M1756 442.9h0M1667.9 460.7h0M1649.8 477.1h0M1635.6 398.5h0M1627.9 407.3h0M1636.6 471.9h0M1614.7 414.8h0M1582.7 407.3h0M1657.6 464.2h0M1799.9 424.5h0M1817.7 395.1h0M1638.6 465.6h0M1801.2 372.2h0M1779.2 434.6h0M1618.2 275.1h0M1662.8 431.7h0M1557.3 366.6h0M1659.9 419.2h0M1631.8 448.9h0M1774.6 462.8h0M1812.1 349.3h0M1660.9 462.3h0M1755.8 440.6h0M1788.5 458.1h0M1651.5 458.8h0M1801.3 361.5h0M1622 376.5h0M1620.9 347.3h0M1621.6 421.1h0M1787.4 441.2h0M1664.9 450.7h0M1601.4 404.4h0M1660.4 442.5h0M1642.9 414.3h0M1639 437.5h0M1786.6 407.5h0M1649.9 409.6h0M1647.2 458.7h0M1597.4 425.9h0M1663.6 449.1h0M1608.2 366.4h0M1659 466.7h0M1632.6 448.4h0M1768.8 468.8h0M1643.1 468.2h0M1602.6 341.4h0M1776.3 472.2h0M1635.4 458.8h0M1595.1 403.1h0M1788.1 405.3h0M1779.8 450.7h0M1611.3 446.5h0M1774.1 476.8h0M1651.7 463.1h0M1782.1 356.6h0M1634.5 456.1h0M1776.7 352.2h0M1643.5 371.5h0M1768.3 445.3h0M1594.4 419.6h0M1662.1 474.7h0M1625.1 447.5h0M1818 427.8h0M1781.4 466.4h0M1760.4 452.8h0M1657 469.6h0M1650 379h0M1781.4 349.9h0M1649.2 455.8h0M1804 408.3h0M1829.3 362.8h0M1817.9 397h0M1649.6 381.7h0M1765.3 392.8h0M1656.4 466.7h0M1640.7 467h0M1768.3 406.2h0M1625.1 456.3h0M1588.1 355.5h0M1758.2 472h0M1641.1 465.3h0M1584.2 419h0M1791.2 451.9h0M1824.9 356.8h0M1646.3 467.3h0M1668.3 472.1h0M1760.6 429.9h0M1662.1 447.1h0M1785.4 447.1h0M1777.1 443.2h0M1608.4 379.9h0M1632 469.6h0M1757.9 411.8h0M1634.1 474.7h0M1794.2 416.8h0M1775.2 383.5h0M1662.4 321.9h0M1820.5 404.8h0M1610.7 430.4h0M1761.6 443.4h0M1610.2 420.5h0M1758 457h0M1664.8 447.9h0M1788.8 460.6h0M1650.3 390.3h0M1614.8 427.2h0M1626.6 456.9h0M1647.1 342.6h0M1772.1 424.9h0M1783.7 391h0M1644.7 408.8h0M1778.6 457.1h0M1789.2 419.4h0M1646.8 436.3h0M1651.9 452.7h0M1569.5 337.5h0M1638.2 455.4h0M1775.7 476.5h0M1653.3 465.7h0M1758.7 379.5h0M1601.9 275.9h0M1663.5 471.5h0M1774 373.2h0M1662.3 441.2h0M1657.3 440.1h0M1614.1 412.3h0M1649.1 311.2h0M1624.1 476.8h0M1789.4 405.2h0M1835.5 351.7h0M1637.4 458.4h0M1649.6 467.9h0M1785.5 452.8h0M1785 463.6h0M1647.6 419.7h0M1773.3 396.1h0M1662.3 454.7h0M1759.7 277.3h0M1657.9 376.7h0M1574.3 307.3h0M1658 471.9h0M1815.5 440.5h0M1763.9 445h0M1773.4 351.9h0M1643.6 424h0M1618.3 350.2h0M1624.5 469h0M1606.2 389.9h0M1599.6 429.9h0M1600.6 435.4h0M1646.8 392.1h0M1658.4 474.2h0M1756.8 362.3h0M1777.4 456h0M1764.2 456.9h0M1781.7 451.6h0M1647.6 465.6h0M1790 449.9h0M1657.4 470.9h0M1755.9 382.9h0M1787.8 394.3h0M1765.6 401.1h0M1627 441.6h0M1599.4 361.4h0M1614.4 455.4h0M1626.4 353.4h0M1561.4 336.9h0M1653.7 461.2h0M1767.2 360.5h0M1664.7 476.2h0M1644.8 447.2h0M1789.7 442.5h0M1774.9 459.1h0M1629.4 458.5h0M1668.4 472.8h0M1785.6 454.9h0M1573.9 403h0M1764 402.9h0M1659.4 355.3h0M1646 452.1h0M1805 432.2h0M1765.8 376.6h0M1664.2 392.9h0M1649.8 395.9h0M1755.8 428.6h0M1764.5 392.1h0M1600.4 408.2h0M1772.8 455.3h0M1639.2 458.8h0M1668 442.7h0M1765.6 460.2h0M1622.5 447.3h0M1662 475.6h0M1645.6 416.2h0M1663.5 476.9h0M1777 440.6h0M1667.7 342.2h0M1589 368.6h0M1638.3 384.4h0M1799.8 464h0M1603.1 420.7h0M1656.7 341.1h0M1602.4 408.5h0M1812.1 421.8h0M1645.5 469.1h0M1636.2 390.1h0M1619.6 437.1h0M1641.6 462.4h0M1664.8 336.1h0M1660.8 435.1h0M1654.6 412.1h0M1772.5 426.4h0M1757.8 455.3h0M1622.7 454.1h0M1661.5 442.6h0M1574.4 374.5h0M1650.7 410.2h0M1797.7 406.3h0M1614.3 426.1h0M1597.6 404.8h0M1624.7 439.9h0M1762 440.9h0M1650.2 473.5h0M1797.2 408.8h0M1763 279.5h0M1642.1 411.8h0M1629.1 456.7h0M1635.5 471h0M1581.5 361.9h0M1664.7 395.1h0M1649 304.3h0M1614.9 436.7h0M1638.9 392.1h0M1762 417.4h0M1776.3 397.4h0M1663.3 357.9h0M1834.4 370.4h0M1767.7 439.7h0M1764.5 474.6h0M1657.8 453.7h0M1626.1 395.9h0M1812.2 376.1h0M1640.8 367.3h0M1663.6 339.5h0M1653.1 376.6h0M1783.2 432.9h0M1667.8 452.1h0M1796.7 454.8h0M1764.3 475.7h0M1762.7 457.8h0M1494 76.8h0M1552.7 143.9h0M1519.8 144.1h0M1588 155.1h0M1585.1 176.3h0M1624.4 163.9h0M1529.3 197h0M1559.5 197h0M1569.8 202.2h0M1603.2 202.4h0M1635.4 197h0M1636.3 201.5h0M1561.5 205.1h0M1586.1 219.5h0M1631.5 205.1h0M1624.4 216.6h0M1539 223.9h0M1586.1 235.9h0M1581.7 240.2h0M1491 252.4h0M1541.5 249h0M1535.4 252.2h0M1642 245.1h0M1549 259h0M1583.7 259.8h0M1466.8 273.7h0M1630.5 270.2h0M1508.5 288h0M1499.3 312.4h0M1521.5 315.6h0M1524 323.7h0M1519.8 344.1h0M1522.2 354.6h0M1544.6 370.2h0M1553.2 358h0M1951.8 51.2h0M1848.8 138.3h0M1812.7 209.8h0M1845.7 224h0M1889.8 212h0M1817.1 240.3h0M1789.8 248h0M1790.8 250.3h0M1793.4 261.5h0M1928.4 261.7h0M1816.4 268.1h0M1810.3 269.5h0M1809.8 273.4h0M1873.2 273.7h0M1831 278.1h0M1756.1 287.3h0M1802.5 298.1h0M1868.4 294.4h0M1837.9 315.6h0M1853.7 315.2h0M1853 319.5h0M1864 393.5h0M1837.9 394.7h0M1855.2 287.3h0M1858.6 291.2h0M1817.8 285.9h0M1837.4 286.4h0M1820.8 307.1h0M1565.9 243.4h0M1568.3 250h0M1585.1 247h0M1586.3 248.8h0M1613.9 248.3h0M1613.9 251.2h0M1629.3 250h0M1647.3 256.6h0M1656.8 250.7h0M1656.1 254.1h0M1657.8 256.1h0M1576.3 267.8h0M1577.6 270h0M1580 273.7h0M1589.5 270.2h0M1613.7 276.1h0M1647.3 275.6h0M1658 273.7h0M1664.1 276.1h0M1654.4 283.4h0M1660.5 289.8h0M1623.4 289h0M1539.8 289h0M1560.5 286.6h0M1562 289.8h0M1571 289.8h0M1577 289h0M1581.2 289h0M1534.9 328.3h0M1541 325h0M1552 325.4h0M1564.6 316h0M1508.5 285h0M1549.5 388.5h0M1540.2 402h0M1541 419h0M1542.2 421h0M1559.8 402.7h0M1564.6 432h0M1571.5 419.5h0M1572.2 440.2h0M1837.9 394.7h0M1850.5 434.5h0M1844.5 448h0" stroke="#000" stroke-width="5.5" stroke-linecap="round" fill="none"/><path d="M1712.2 27.9V542.1" stroke="#000" stroke-width="1.55"/><path d="M1526.3 184.9L1559.3 197M1560.5 190.7L1569.5 202M1576.3 232.9L1583.7 237.1M1868.4 294.4L1894.7 297.6" stroke="#000" stroke-width="1.1" fill="none"/><g font-size="12.55px" fill="#000"><text x="1484.4" y="73.6">DPYD</text><text x="1521.5" y="139.5">CRTAP</text><text x="1490.5" y="155.6">PLOD2</text><text x="1557.6" y="151.7">TAGLN2</text><text x="1572.7" y="172.7">CLIC1</text><text x="1611.7" y="175.6">RRBP1</text><text x="1484.1" y="189">ANXA2</text><text x="1523.9" y="187.8">SERPINH1</text><text x="1492.7" y="208.5">MMP14</text><text x="1586.8" y="199.5">IQGAP1</text><text x="1636.1" y="189.8">CALU</text><text x="1639.3" y="202.9">ZYX</text><text x="1540.2" y="217.6">IL4I1</text><text x="1572.2" y="217.1">ENG</text><text x="1628.8" y="216.6">PDIA4</text><text x="1629.5" y="231">CALD1</text><text x="1483.2" y="234.6">SLC16A3</text><text x="1541.2" y="235.9">FLNC</text><text x="1578.3" y="232.9">LGALS3</text><text x="1467.3" y="248.8">PTX3</text><text x="1510.5" y="248.8">IFI30</text><text x="1649.5" y="246.3">MYL6</text><text x="1500.2" y="264.6">PDLIM4</text><text x="1588" y="263.4">PPIC</text><text x="1444.6" y="270.7">CHI3L1</text><text x="1623.4" y="270.7">HSPA5</text><text x="1666.1" y="273.2">DDOST</text><text x="1480.5" y="284.6">FKBP9</text><text x="1588.5" y="288.3">FLNA</text><text x="1475.6" y="309.3">H1−3</text><text x="1509.8" y="311.7">TMT1B</text><text x="1488.5" y="341">POSTN</text><text x="1483.2" y="355.6">NNMT</text><text x="1527.6" y="366.6">LTF</text><text x="1927.4" y="62.9">KIF22</text><text x="1816.6" y="150.8">ADHFE1</text><text x="1778.6" y="205.7">PHYHIPL</text><text x="1832.5" y="221">RAC3</text><text x="1869.1" y="224">TNR</text><text x="1803.7" y="236.7">GPM6A</text><text x="1743.9" y="244.9">ALDH5A1</text><text x="1793.9" y="257.1">NDRG2</text><text x="1744.4" y="261.5">CNRIP1</text><text x="1914.7" y="258.5">SMOC1</text><text x="1820.8" y="270">KYAT1</text><text x="1862.3" y="270">SEZ6L</text><text x="1835.4" y="282.2">S1PR1</text><text x="1719" y="299.8">ATAD1</text><text x="1800.5" y="299.3">SHANK2</text><text x="1845.7" y="306.6">BTBD17</text><text x="1896.4" y="301.7">GLUD2</text><text x="1793.4" y="319.5">ACBD7</text><text x="1858.1" y="318.3">HAPLN1</text><text x="1839.6" y="331">CSPG5</text><text x="1868.4" y="396.2">TUBB8</text></g><rect x="1442.7" y="27.9" width="532.7" height="514.2" fill="none" stroke="#2b2b2b" stroke-width="1.4"/><path d="M1451.4 542.1v3M1581.8 542.1v3M1712.2 542.1v3M1842.6 542.1v3M1973 542.1v3M1442.7 519h-3M1442.7 358.3h-3M1442.7 197.6h-3M1442.7 36.9h-3" stroke="#333" stroke-width="1"/><g font-size="10.2px" fill="#4d4d4d"><text x="1450.8" y="554.9" text-anchor="middle">−6</text><text x="1581.2" y="554.9" text-anchor="middle">−3</text><text x="1711.6" y="554.9" text-anchor="middle">0</text><text x="1842" y="554.9" text-anchor="middle">3</text><text x="1972.4" y="554.9" text-anchor="middle">6</text><text x="1436.6" y="523.5" text-anchor="end">0</text><text x="1436.6" y="362.8" text-anchor="end">5</text><text x="1436.6" y="202.1" text-anchor="end">10</text><text x="1436.6" y="41.4" text-anchor="end">15</text></g><text x="1442.3" y="18.1" font-size="15px">IDHmut_vs_IDHwt</text><text x="1709.5" y="569.5" text-anchor="middle" font-size="12.8px">log<tspan font-size="9px" dy="2.4">2</tspan><tspan dy="-2.4"> Fold change</tspan></text><text transform="translate(1416.9 284.8) rotate(-90)" text-anchor="middle" font-size="12.55px">− log<tspan font-size="9px" dy="2.4">10</tspan><tspan dy="-2.4"> Adjusted p−value</tspan></text><text x="1443.2" y="531.7" font-size="15px" font-weight="bold">IDHwt</text><text x="1974.8" y="531.7" font-size="15px" font-weight="bold" text-anchor="end">IDHmut</text></g>
<g id="panel-d"><rect x="909.7" y="527" width="34.6" height="57.3" fill="#4285F4" stroke="#000" stroke-width="1.2"/><rect x="944.3" y="527" width="34.6" height="57.3" fill="#FFA500" stroke="#000" stroke-width="1.2"/><rect x="1024.6" y="541.1" width="34.6" height="92.9" fill="#4285F4" stroke="#000" stroke-width="1.2"/><rect x="1059.2" y="555.2" width="34.6" height="114.5" fill="#FFA500" stroke="#000" stroke-width="1.2"/><rect x="1139.5" y="576.8" width="34.6" height="157.1" fill="#4285F4" stroke="#000" stroke-width="1.2"/><rect x="1174.1" y="612.4" width="34.6" height="149.7" fill="#FFA500" stroke="#000" stroke-width="1.2"/><rect x="1254.4" y="755.4" width="34.6" height="49.8" fill="#4285F4" stroke="#000" stroke-width="1.2"/><rect x="1289" y="776.7" width="34.6" height="28.5" fill="#FFA500" stroke="#000" stroke-width="1.2"/><path d="M927 584.2V662.5M927 527V519.5M917.9 662.5h18.2M917.9 519.5h18.2M909.7 541.1h34.6M961.6 584.2V662.5M961.6 527V519.5M952.5 662.5h18.2M952.5 519.5h18.2M944.3 548.6h34.6M1041.9 634V769.5M1041.9 541.1V519.5M1032.8 769.5h18.2M1032.8 519.5h18.2M1024.6 569.9h34.6M1076.5 669.7V805.2M1076.5 555.2V519.5M1067.4 805.2h18.2M1067.4 519.5h18.2M1059.2 605.5h34.6M1156.8 733.8V805.2M1156.8 576.8V519.5M1147.7 805.2h18.2M1147.7 519.5h18.2M1139.5 655.3h34.6M1191.4 762.1V805.2M1191.4 612.4V519.5M1182.3 805.2h18.2M1182.3 519.5h18.2M1174.1 698.2h34.6M1271.7 805.2V805.2M1271.7 755.4V683.8M1262.6 805.2h18.2M1262.6 683.8h18.2M1254.4 805.2h34.6M1306.3 805.2V805.2M1306.3 776.7V733.8M1297.2 805.2h18.2M1297.2 733.8h18.2M1289 805.2h34.6" stroke="#000" stroke-width="1.2" fill="none"/><rect x="886.3" y="505.3" width="460.6" height="313.9" fill="none" stroke="#000" stroke-width="1.1"/><path d="M944.3 819.2v7M1059.2 819.2v7M1174.1 819.2v7M1289 819.2v7M886.3 805.2h-7M886.3 745.2h-7M886.3 685.3h-7M886.3 625.3h-7M886.3 565.4h-7M886.3 505.4h-7" stroke="#000" stroke-width="1.1" fill="none"/><g font-size="12.1px" letter-spacing="0.45" fill="#000"><text x="944.5" y="840.2" text-anchor="middle">20-25</text><text x="1059.4" y="840.2" text-anchor="middle">25-26</text><text x="1174.3" y="840.2" text-anchor="middle">26-27</text><text x="1289.2" y="840.2" text-anchor="middle">27-40</text><text x="876" y="810" text-anchor="end">0.0</text><text x="876" y="750" text-anchor="end">0.2</text><text x="876" y="690.1" text-anchor="end">0.4</text><text x="876" y="630.1" text-anchor="end">0.6</text><text x="876" y="570.2" text-anchor="end">0.8</text><text x="876" y="510.2" text-anchor="end">1.0</text></g><g font-size="11.2px" letter-spacing="0.6" fill="#000"><text x="909.5" y="491.2">626</text><text x="943.8" y="491.2">1089</text><text x="1024.4" y="491.2">1505</text><text x="1058.7" y="491.2">1731</text><text x="1139.3" y="491.2">2059</text><text x="1173.6" y="491.2">2167</text><text x="1254.2" y="491.2">4216</text><text x="1288.5" y="491.2">4408</text></g><text x="1116.6" y="857.7" text-anchor="middle" font-size="13.3px" letter-spacing="0.43">Mean intensity bin (log2-transformed)</text><text transform="translate(848.4 662.5) rotate(-90)" text-anchor="middle" font-size="13.3px" letter-spacing="0.43">Missing percentage</text><rect x="892.9" y="772.7" width="79.4" height="40.4" rx="2.6" fill="#fff" fill-opacity="0.8" stroke="#d4d4d4" stroke-width="1.1"/><rect x="898.1" y="777.9" width="26.2" height="9.1" fill="#4285F4" stroke="#000" stroke-width="1.2"/><rect x="898.1" y="796.1" width="26.2" height="9.1" fill="#FFA500" stroke="#000" stroke-width="1.2"/><g font-size="12px" letter-spacing="0.3"><text x="934.6" y="786.8">DDA</text><text x="934.6" y="805">DDA+</text></g></g>
<g id="panel-e"><defs><clipPath id="cv1"><circle cx="1527.2" cy="725.3" r="122"/></clipPath><clipPath id="cv2"><circle cx="1813.1" cy="725.3" r="122"/></clipPath></defs><circle cx="1527.2" cy="725.3" r="122" fill="#FFA233"/><circle cx="1568.9" cy="725.2" r="107.5" fill="#6A9EF5"/><circle cx="1568.9" cy="725.2" r="107.5" fill="#E8CDBD" clip-path="url(#cv1)"/><circle cx="1813.1" cy="725.3" r="122" fill="#FFA233"/><circle cx="1863.4" cy="725.0" r="106.3" fill="#6A9EF5"/><circle cx="1863.4" cy="725.0" r="106.3" fill="#E8CDBD" clip-path="url(#cv2)"/><g font-size="18.5px" fill="#1a1a1a"><text x="1432.8" y="731" text-anchor="middle">215</text><text x="1554.8" y="731" text-anchor="middle">442</text><text x="1662.4" y="731" text-anchor="middle">68</text><text x="1724.3" y="731" text-anchor="middle">131</text><text x="1845.9" y="731" text-anchor="middle">219</text><text x="1951.8" y="731" text-anchor="middle">46</text></g><g font-size="16.2px" font-weight="bold" letter-spacing="0.55"><text x="1430" y="603.7" fill="#FF8C00">DDA+_Up</text><text x="1595.8" y="618.7" fill="#4285F4" letter-spacing="0.75">DDA_Up</text><text x="1689.6" y="604.4" fill="#FF8C00" letter-spacing="1.1">DDA+_Down</text><text x="1890.2" y="619.4" fill="#4285F4" letter-spacing="1.1">DDA_Down</text></g></g>
<g font-family="Liberation Sans, sans-serif" font-weight="bold" font-size="44px" fill="#000"><text x="-0.4" y="32.2">a</text><text x="829.0" y="32.0">b</text><text x="1382.1" y="31.5">c</text><text x="828.8" y="477.1">d</text><text x="1381.1" y="594.3">e</text></g>
</svg>
</body></html>
